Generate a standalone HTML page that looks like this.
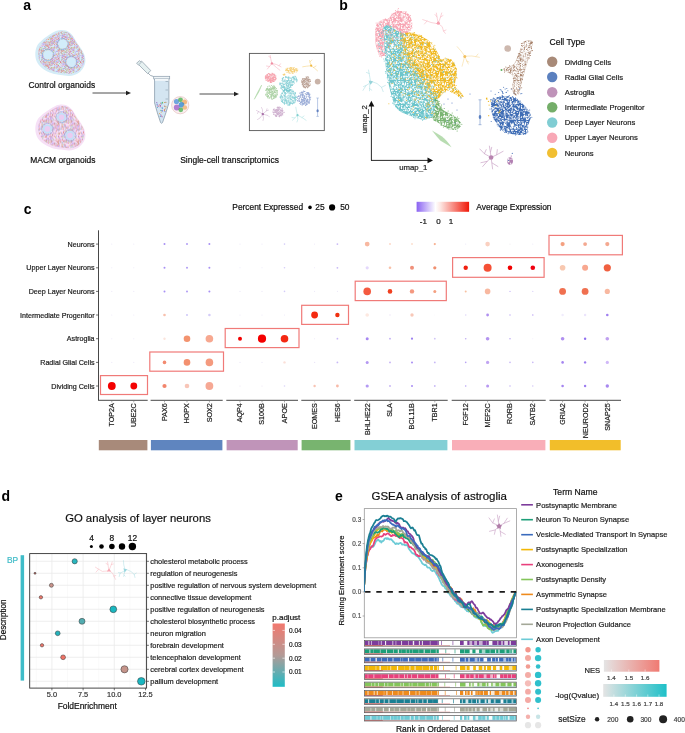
<!DOCTYPE html>
<html><head><meta charset="utf-8"><style>html,body{margin:0;padding:0;background:#fff;}svg{display:block;will-change:transform;}text{font-family:"Liberation Sans", sans-serif;}</style></head><body>
<svg width="685" height="733" viewBox="0 0 685 733">
<rect width="685" height="733" fill="#fff"/>
<text x="23.3" y="9.6" font-size="14" text-anchor="start" fill="#000" font-weight="bold">a</text>
<text x="339.2" y="9.6" font-size="14" text-anchor="start" fill="#000" font-weight="bold">b</text>
<text x="23.7" y="214.2" font-size="14" text-anchor="start" fill="#000" font-weight="bold">c</text>
<text x="1.4" y="501.2" font-size="14" text-anchor="start" fill="#000" font-weight="bold">d</text>
<text x="335.0" y="501.3" font-size="14" text-anchor="start" fill="#000" font-weight="bold">e</text>
<defs><pattern id="ospk" x="0" y="0" width="20" height="20" patternUnits="userSpaceOnUse"><path d="M17.4,10.5h.9v.9h-.9zM13.4,1.3h.9v.9h-.9zM18.1,13.6h.9v.9h-.9zM15.4,17.5h.9v.9h-.9zM0.1,2.2h.9v.9h-.9zM12.2,3.1h.9v.9h-.9zM10.4,11.0h.9v.9h-.9zM14.8,0.4h.9v.9h-.9zM17.9,18.0h.9v.9h-.9zM10.1,4.8h.9v.9h-.9zM12.4,10.4h.9v.9h-.9zM9.5,15.5h.9v.9h-.9zM17.1,15.5h.9v.9h-.9zM2.5,1.4h.9v.9h-.9zM8.6,2.6h.9v.9h-.9zM4.5,2.6h.9v.9h-.9zM2.9,15.5h.9v.9h-.9zM2.1,15.0h.9v.9h-.9zM14.0,4.1h.9v.9h-.9zM15.7,17.6h.9v.9h-.9zM3.7,14.1h.9v.9h-.9zM18.0,5.1h.9v.9h-.9zM13.3,10.2h.9v.9h-.9zM17.9,13.4h.9v.9h-.9zM12.0,14.5h.9v.9h-.9zM2.7,15.8h.9v.9h-.9zM1.6,16.8h.9v.9h-.9zM9.7,2.2h.9v.9h-.9zM8.8,9.1h.9v.9h-.9zM10.7,3.2h.9v.9h-.9zM8.9,3.7h.9v.9h-.9zM8.1,6.4h.9v.9h-.9zM11.8,0.1h.9v.9h-.9zM13.6,0.4h.9v.9h-.9zM6.4,12.0h.9v.9h-.9zM9.3,12.4h.9v.9h-.9zM16.5,2.3h.9v.9h-.9zM16.3,4.1h.9v.9h-.9zM5.0,16.8h.9v.9h-.9zM9.4,11.8h.9v.9h-.9zM18.6,10.4h.9v.9h-.9zM2.6,10.6h.9v.9h-.9zM19.6,15.7h.9v.9h-.9zM8.6,6.8h.9v.9h-.9zM8.4,5.2h.9v.9h-.9zM5.6,3.4h.9v.9h-.9zM6.3,5.4h.9v.9h-.9zM12.6,16.4h.9v.9h-.9zM5.4,10.9h.9v.9h-.9zM12.9,2.8h.9v.9h-.9zM12.3,3.6h.9v.9h-.9zM0.0,1.3h.9v.9h-.9zM8.7,3.9h.9v.9h-.9zM12.0,1.7h.9v.9h-.9zM16.8,6.3h.9v.9h-.9zM6.5,4.9h.9v.9h-.9zM12.6,8.8h.9v.9h-.9zM11.1,7.3h.9v.9h-.9z" fill="#e07070"/><path d="M18.3,9.5h.9v.9h-.9zM14.0,6.5h.9v.9h-.9zM12.9,11.9h.9v.9h-.9zM17.3,6.8h.9v.9h-.9zM10.9,17.8h.9v.9h-.9zM17.2,19.4h.9v.9h-.9zM10.5,8.3h.9v.9h-.9zM3.9,10.7h.9v.9h-.9zM14.3,7.6h.9v.9h-.9zM13.4,14.7h.9v.9h-.9zM3.6,0.5h.9v.9h-.9zM13.0,15.5h.9v.9h-.9zM6.3,8.5h.9v.9h-.9zM7.8,10.9h.9v.9h-.9zM13.5,10.7h.9v.9h-.9zM9.6,15.6h.9v.9h-.9zM5.4,2.0h.9v.9h-.9zM11.3,18.2h.9v.9h-.9zM0.5,12.4h.9v.9h-.9zM20.0,4.1h.9v.9h-.9zM7.8,9.5h.9v.9h-.9zM12.6,6.9h.9v.9h-.9zM1.1,8.7h.9v.9h-.9zM1.8,13.8h.9v.9h-.9zM8.0,19.1h.9v.9h-.9zM16.5,13.6h.9v.9h-.9zM8.1,13.2h.9v.9h-.9zM9.3,14.6h.9v.9h-.9zM6.8,3.8h.9v.9h-.9zM6.7,8.6h.9v.9h-.9zM3.7,13.7h.9v.9h-.9zM0.6,11.5h.9v.9h-.9zM5.0,19.6h.9v.9h-.9zM9.9,19.1h.9v.9h-.9zM14.0,2.3h.9v.9h-.9zM18.8,19.5h.9v.9h-.9zM3.6,0.5h.9v.9h-.9zM7.7,18.8h.9v.9h-.9zM1.1,9.9h.9v.9h-.9zM8.0,7.5h.9v.9h-.9zM8.8,13.6h.9v.9h-.9zM8.7,1.9h.9v.9h-.9zM18.3,12.6h.9v.9h-.9zM4.0,7.8h.9v.9h-.9zM1.1,19.3h.9v.9h-.9zM16.5,4.1h.9v.9h-.9z" fill="#eea860"/><path d="M12.8,3.0h.9v.9h-.9zM14.6,11.5h.9v.9h-.9zM17.6,1.9h.9v.9h-.9zM17.1,19.8h.9v.9h-.9zM0.4,12.3h.9v.9h-.9zM2.1,16.3h.9v.9h-.9zM8.8,17.1h.9v.9h-.9zM6.3,16.7h.9v.9h-.9zM16.1,6.9h.9v.9h-.9zM0.3,14.9h.9v.9h-.9zM3.4,15.8h.9v.9h-.9zM11.0,17.4h.9v.9h-.9zM16.6,4.8h.9v.9h-.9zM3.1,8.0h.9v.9h-.9zM11.7,17.2h.9v.9h-.9zM9.6,7.7h.9v.9h-.9zM17.8,15.5h.9v.9h-.9zM14.4,13.6h.9v.9h-.9zM12.9,14.6h.9v.9h-.9zM2.5,18.6h.9v.9h-.9zM10.0,19.9h.9v.9h-.9zM13.4,7.8h.9v.9h-.9zM16.0,10.9h.9v.9h-.9zM2.2,5.7h.9v.9h-.9zM6.5,17.4h.9v.9h-.9zM8.2,16.9h.9v.9h-.9zM3.4,8.1h.9v.9h-.9zM12.7,2.8h.9v.9h-.9zM16.7,11.1h.9v.9h-.9zM19.0,0.9h.9v.9h-.9zM13.8,19.6h.9v.9h-.9zM5.8,18.7h.9v.9h-.9zM17.8,0.6h.9v.9h-.9zM0.6,0.7h.9v.9h-.9zM10.2,16.6h.9v.9h-.9zM3.9,18.4h.9v.9h-.9zM3.5,9.7h.9v.9h-.9zM2.9,18.1h.9v.9h-.9zM3.8,16.5h.9v.9h-.9zM2.6,2.9h.9v.9h-.9zM4.0,11.9h.9v.9h-.9zM6.0,17.2h.9v.9h-.9zM6.3,16.8h.9v.9h-.9zM19.5,6.0h.9v.9h-.9zM6.7,15.8h.9v.9h-.9zM11.1,2.3h.9v.9h-.9zM4.0,6.0h.9v.9h-.9zM4.2,6.1h.9v.9h-.9zM12.0,8.5h.9v.9h-.9zM8.5,7.4h.9v.9h-.9zM14.3,6.5h.9v.9h-.9zM6.4,14.5h.9v.9h-.9z" fill="#b8a0ea"/><path d="M10.7,8.2h.9v.9h-.9zM8.6,14.4h.9v.9h-.9zM19.0,13.5h.9v.9h-.9zM1.6,14.8h.9v.9h-.9zM17.7,9.0h.9v.9h-.9zM15.7,0.7h.9v.9h-.9zM11.2,19.7h.9v.9h-.9zM16.2,0.9h.9v.9h-.9zM16.2,1.2h.9v.9h-.9zM16.0,0.7h.9v.9h-.9zM9.3,4.6h.9v.9h-.9zM19.2,17.1h.9v.9h-.9zM2.1,15.1h.9v.9h-.9zM4.0,15.6h.9v.9h-.9zM17.2,8.7h.9v.9h-.9zM4.5,0.1h.9v.9h-.9zM0.8,9.9h.9v.9h-.9zM4.8,7.8h.9v.9h-.9zM7.3,8.3h.9v.9h-.9zM19.9,0.0h.9v.9h-.9zM1.6,13.0h.9v.9h-.9zM11.7,0.2h.9v.9h-.9zM15.8,10.7h.9v.9h-.9zM1.7,9.3h.9v.9h-.9zM8.5,13.0h.9v.9h-.9zM5.0,6.5h.9v.9h-.9zM9.5,20.0h.9v.9h-.9zM16.1,5.9h.9v.9h-.9zM3.3,1.0h.9v.9h-.9zM18.3,16.2h.9v.9h-.9zM1.0,19.2h.9v.9h-.9zM19.9,19.6h.9v.9h-.9zM6.5,11.8h.9v.9h-.9zM4.2,1.5h.9v.9h-.9zM11.7,2.9h.9v.9h-.9zM14.7,16.6h.9v.9h-.9zM10.2,18.6h.9v.9h-.9zM1.0,10.4h.9v.9h-.9zM11.5,1.7h.9v.9h-.9zM5.7,19.6h.9v.9h-.9zM6.3,17.2h.9v.9h-.9zM12.6,9.9h.9v.9h-.9zM4.7,7.3h.9v.9h-.9zM11.3,4.9h.9v.9h-.9zM4.3,13.4h.9v.9h-.9z" fill="#a0b8f0"/><path d="M6.0,0.6h.9v.9h-.9zM14.3,4.2h.9v.9h-.9zM14.4,6.6h.9v.9h-.9zM10.1,20.0h.9v.9h-.9zM19.0,19.4h.9v.9h-.9zM12.4,18.8h.9v.9h-.9zM18.7,8.7h.9v.9h-.9zM7.1,18.3h.9v.9h-.9zM6.2,4.5h.9v.9h-.9zM8.4,10.4h.9v.9h-.9zM9.3,12.7h.9v.9h-.9zM0.6,9.1h.9v.9h-.9zM1.0,5.4h.9v.9h-.9zM7.7,7.8h.9v.9h-.9zM0.4,4.4h.9v.9h-.9zM18.7,7.5h.9v.9h-.9zM16.7,19.0h.9v.9h-.9zM18.7,17.0h.9v.9h-.9zM13.4,17.1h.9v.9h-.9zM17.8,6.1h.9v.9h-.9zM2.4,5.3h.9v.9h-.9zM2.3,17.7h.9v.9h-.9zM5.9,13.5h.9v.9h-.9zM11.4,4.0h.9v.9h-.9zM6.3,18.1h.9v.9h-.9zM12.7,19.5h.9v.9h-.9zM18.3,11.9h.9v.9h-.9zM18.8,0.7h.9v.9h-.9zM17.2,2.0h.9v.9h-.9zM0.8,14.9h.9v.9h-.9zM14.8,14.9h.9v.9h-.9zM7.2,17.1h.9v.9h-.9zM9.8,4.8h.9v.9h-.9zM7.4,12.6h.9v.9h-.9zM5.6,5.1h.9v.9h-.9zM17.0,16.6h.9v.9h-.9zM9.8,5.6h.9v.9h-.9zM3.6,12.5h.9v.9h-.9zM11.4,9.3h.9v.9h-.9zM19.8,13.7h.9v.9h-.9zM17.2,16.7h.9v.9h-.9zM8.5,16.9h.9v.9h-.9zM9.5,17.8h.9v.9h-.9zM16.6,3.7h.9v.9h-.9zM11.7,19.0h.9v.9h-.9zM8.9,14.4h.9v.9h-.9zM3.6,5.0h.9v.9h-.9zM9.8,11.6h.9v.9h-.9zM2.2,10.6h.9v.9h-.9zM14.0,19.5h.9v.9h-.9zM11.7,13.6h.9v.9h-.9zM10.8,19.8h.9v.9h-.9z" fill="#f0a8c8"/><path d="M4.8,10.9h.9v.9h-.9zM10.1,7.7h.9v.9h-.9zM19.6,6.8h.9v.9h-.9zM15.8,19.7h.9v.9h-.9zM19.1,0.4h.9v.9h-.9zM5.0,9.1h.9v.9h-.9zM3.5,3.7h.9v.9h-.9zM13.0,1.9h.9v.9h-.9zM6.3,6.3h.9v.9h-.9zM7.2,3.8h.9v.9h-.9zM1.1,12.5h.9v.9h-.9zM5.1,12.0h.9v.9h-.9zM5.3,4.0h.9v.9h-.9zM0.7,9.0h.9v.9h-.9zM1.9,18.8h.9v.9h-.9zM2.1,18.9h.9v.9h-.9zM10.1,4.9h.9v.9h-.9zM10.8,15.4h.9v.9h-.9zM10.0,0.4h.9v.9h-.9zM14.3,14.8h.9v.9h-.9zM14.4,7.3h.9v.9h-.9zM3.3,12.4h.9v.9h-.9zM5.0,5.3h.9v.9h-.9zM9.6,3.8h.9v.9h-.9zM6.8,9.6h.9v.9h-.9zM2.3,7.8h.9v.9h-.9zM8.9,14.1h.9v.9h-.9zM9.3,17.4h.9v.9h-.9zM10.1,18.1h.9v.9h-.9zM12.8,15.2h.9v.9h-.9zM18.5,13.7h.9v.9h-.9zM19.6,17.5h.9v.9h-.9zM0.6,7.5h.9v.9h-.9zM19.7,15.9h.9v.9h-.9zM19.2,3.1h.9v.9h-.9zM2.0,13.4h.9v.9h-.9zM18.7,0.1h.9v.9h-.9zM6.5,10.1h.9v.9h-.9zM12.7,11.8h.9v.9h-.9zM2.5,10.0h.9v.9h-.9zM8.6,17.3h.9v.9h-.9zM0.2,7.4h.9v.9h-.9zM2.8,1.6h.9v.9h-.9zM1.3,17.5h.9v.9h-.9zM17.6,4.5h.9v.9h-.9zM11.6,7.3h.9v.9h-.9zM6.8,14.6h.9v.9h-.9zM7.5,0.8h.9v.9h-.9zM18.5,8.5h.9v.9h-.9z" fill="#b0d898"/><path d="M10.8,11.0h.9v.9h-.9zM9.5,14.4h.9v.9h-.9zM14.3,18.4h.9v.9h-.9zM9.9,5.2h.9v.9h-.9zM15.6,17.1h.9v.9h-.9zM1.8,16.0h.9v.9h-.9zM17.9,0.4h.9v.9h-.9zM12.1,15.2h.9v.9h-.9zM19.2,17.9h.9v.9h-.9zM7.5,17.4h.9v.9h-.9zM16.9,5.3h.9v.9h-.9zM4.8,3.7h.9v.9h-.9zM8.4,8.2h.9v.9h-.9zM3.1,0.1h.9v.9h-.9zM16.5,0.2h.9v.9h-.9zM12.1,15.7h.9v.9h-.9zM12.7,0.9h.9v.9h-.9zM13.9,1.4h.9v.9h-.9zM2.4,13.8h.9v.9h-.9zM10.5,11.3h.9v.9h-.9zM12.9,9.1h.9v.9h-.9zM11.1,19.3h.9v.9h-.9zM10.0,19.5h.9v.9h-.9zM16.9,19.3h.9v.9h-.9zM9.6,14.4h.9v.9h-.9zM0.1,6.7h.9v.9h-.9zM17.7,1.5h.9v.9h-.9zM18.4,12.9h.9v.9h-.9zM2.1,3.6h.9v.9h-.9zM7.2,5.3h.9v.9h-.9zM3.7,3.8h.9v.9h-.9zM11.8,2.9h.9v.9h-.9zM17.8,19.0h.9v.9h-.9zM6.1,9.3h.9v.9h-.9zM9.0,7.2h.9v.9h-.9zM14.1,1.0h.9v.9h-.9zM15.0,12.6h.9v.9h-.9zM1.8,5.9h.9v.9h-.9zM10.7,15.6h.9v.9h-.9zM3.5,14.8h.9v.9h-.9zM5.4,3.4h.9v.9h-.9zM5.8,4.2h.9v.9h-.9zM18.6,10.7h.9v.9h-.9zM7.4,3.8h.9v.9h-.9zM9.7,15.5h.9v.9h-.9zM2.9,8.9h.9v.9h-.9zM15.3,14.0h.9v.9h-.9zM19.1,14.9h.9v.9h-.9zM9.3,13.3h.9v.9h-.9zM13.1,18.8h.9v.9h-.9zM18.9,6.3h.9v.9h-.9zM11.1,0.7h.9v.9h-.9zM13.8,9.3h.9v.9h-.9zM7.6,2.1h.9v.9h-.9zM8.8,10.7h.9v.9h-.9zM1.1,19.6h.9v.9h-.9zM3.2,2.5h.9v.9h-.9zM14.6,5.0h.9v.9h-.9zM19.9,1.0h.9v.9h-.9zM1.2,17.1h.9v.9h-.9zM2.8,4.1h.9v.9h-.9zM16.5,6.6h.9v.9h-.9zM16.4,16.5h.9v.9h-.9zM2.4,18.3h.9v.9h-.9zM3.5,15.0h.9v.9h-.9zM15.2,2.3h.9v.9h-.9zM5.0,14.0h.9v.9h-.9zM10.8,9.3h.9v.9h-.9z" fill="#c8a8f0"/><path d="M12.1,18.2h.9v.9h-.9zM5.2,4.7h.9v.9h-.9zM5.7,1.3h.9v.9h-.9zM1.2,12.5h.9v.9h-.9zM6.8,5.0h.9v.9h-.9zM17.1,1.7h.9v.9h-.9zM11.3,0.9h.9v.9h-.9zM8.4,13.9h.9v.9h-.9zM16.2,14.3h.9v.9h-.9zM0.5,2.3h.9v.9h-.9zM13.8,15.1h.9v.9h-.9zM3.3,10.0h.9v.9h-.9zM18.3,10.3h.9v.9h-.9zM11.4,4.8h.9v.9h-.9zM15.5,2.9h.9v.9h-.9zM7.6,1.6h.9v.9h-.9zM13.6,7.4h.9v.9h-.9zM3.6,17.8h.9v.9h-.9zM11.1,12.9h.9v.9h-.9zM1.1,2.7h.9v.9h-.9zM17.5,18.9h.9v.9h-.9zM7.4,5.9h.9v.9h-.9zM9.8,10.5h.9v.9h-.9zM0.7,10.0h.9v.9h-.9zM10.7,8.4h.9v.9h-.9zM5.2,7.4h.9v.9h-.9zM5.5,15.8h.9v.9h-.9zM15.8,19.2h.9v.9h-.9zM4.0,19.5h.9v.9h-.9zM14.2,0.5h.9v.9h-.9zM17.6,17.4h.9v.9h-.9zM6.8,6.2h.9v.9h-.9zM5.8,18.9h.9v.9h-.9zM14.5,17.5h.9v.9h-.9zM5.9,10.4h.9v.9h-.9zM9.8,0.8h.9v.9h-.9zM8.9,4.1h.9v.9h-.9zM18.9,8.6h.9v.9h-.9zM12.1,16.2h.9v.9h-.9zM6.2,4.9h.9v.9h-.9zM9.7,1.2h.9v.9h-.9zM8.2,7.0h.9v.9h-.9zM2.8,0.8h.9v.9h-.9zM0.7,9.7h.9v.9h-.9zM8.6,19.7h.9v.9h-.9zM1.3,10.9h.9v.9h-.9zM2.1,16.9h.9v.9h-.9zM0.4,6.9h.9v.9h-.9zM1.9,10.8h.9v.9h-.9zM19.3,9.1h.9v.9h-.9zM19.7,10.6h.9v.9h-.9zM10.8,18.4h.9v.9h-.9zM15.9,7.7h.9v.9h-.9zM1.3,0.2h.9v.9h-.9zM3.7,2.1h.9v.9h-.9zM1.6,10.7h.9v.9h-.9zM10.4,8.4h.9v.9h-.9zM4.4,16.3h.9v.9h-.9zM6.9,19.9h.9v.9h-.9zM9.6,10.8h.9v.9h-.9z" fill="#e48c8c"/></pattern></defs>
<defs><pattern id="mspk" x="0" y="0" width="20" height="20" patternUnits="userSpaceOnUse"><path d="M9.6,1.8h.9v.9h-.9zM8.0,18.4h.9v.9h-.9zM3.2,6.1h.9v.9h-.9zM6.6,0.2h.9v.9h-.9zM11.9,19.4h.9v.9h-.9zM19.8,8.1h.9v.9h-.9zM15.3,5.4h.9v.9h-.9zM0.8,1.6h.9v.9h-.9zM19.7,12.5h.9v.9h-.9zM6.0,0.5h.9v.9h-.9zM8.1,7.8h.9v.9h-.9zM19.6,5.6h.9v.9h-.9zM3.1,17.0h.9v.9h-.9zM17.9,17.7h.9v.9h-.9zM18.6,3.5h.9v.9h-.9zM2.3,19.6h.9v.9h-.9zM12.4,0.4h.9v.9h-.9zM15.3,12.9h.9v.9h-.9zM13.7,19.6h.9v.9h-.9zM16.8,15.2h.9v.9h-.9zM4.2,6.6h.9v.9h-.9zM17.9,9.6h.9v.9h-.9zM12.0,14.5h.9v.9h-.9zM5.2,6.7h.9v.9h-.9zM2.9,14.2h.9v.9h-.9zM10.9,5.3h.9v.9h-.9zM10.6,15.1h.9v.9h-.9zM16.0,15.8h.9v.9h-.9zM20.0,0.2h.9v.9h-.9zM13.4,12.6h.9v.9h-.9zM12.0,0.1h.9v.9h-.9zM20.0,11.6h.9v.9h-.9zM1.9,19.9h.9v.9h-.9zM10.4,0.9h.9v.9h-.9zM5.8,1.8h.9v.9h-.9zM1.9,1.1h.9v.9h-.9zM7.8,3.3h.9v.9h-.9zM12.4,16.4h.9v.9h-.9zM15.9,13.4h.9v.9h-.9zM1.4,14.2h.9v.9h-.9zM13.5,12.9h.9v.9h-.9zM5.4,18.2h.9v.9h-.9zM13.5,9.6h.9v.9h-.9z" fill="#e07070"/><path d="M2.9,13.5h.9v.9h-.9zM9.2,0.9h.9v.9h-.9zM15.5,8.2h.9v.9h-.9zM1.0,18.6h.9v.9h-.9zM0.3,17.5h.9v.9h-.9zM18.3,8.8h.9v.9h-.9zM5.9,6.9h.9v.9h-.9zM0.1,6.2h.9v.9h-.9zM13.5,17.7h.9v.9h-.9zM10.5,15.1h.9v.9h-.9zM16.0,16.1h.9v.9h-.9zM13.2,19.9h.9v.9h-.9zM15.2,19.4h.9v.9h-.9zM12.1,6.2h.9v.9h-.9zM0.4,4.9h.9v.9h-.9zM4.1,19.0h.9v.9h-.9zM6.1,15.8h.9v.9h-.9zM1.9,10.4h.9v.9h-.9zM9.9,16.6h.9v.9h-.9zM10.8,6.9h.9v.9h-.9zM1.4,8.7h.9v.9h-.9zM16.4,4.0h.9v.9h-.9zM11.7,2.4h.9v.9h-.9zM15.0,1.8h.9v.9h-.9zM17.6,19.6h.9v.9h-.9zM8.8,10.6h.9v.9h-.9zM4.5,16.0h.9v.9h-.9zM9.8,7.7h.9v.9h-.9zM18.8,15.2h.9v.9h-.9zM17.6,5.7h.9v.9h-.9zM11.2,1.4h.9v.9h-.9zM7.3,19.8h.9v.9h-.9z" fill="#eeaa60"/><path d="M0.4,5.8h.9v.9h-.9zM5.8,5.0h.9v.9h-.9zM2.3,1.2h.9v.9h-.9zM18.6,11.4h.9v.9h-.9zM0.9,18.0h.9v.9h-.9zM4.4,0.1h.9v.9h-.9zM11.2,5.1h.9v.9h-.9zM8.4,16.0h.9v.9h-.9zM7.4,3.3h.9v.9h-.9zM10.8,18.1h.9v.9h-.9zM17.0,7.1h.9v.9h-.9zM12.3,8.8h.9v.9h-.9zM2.7,1.7h.9v.9h-.9zM8.1,18.7h.9v.9h-.9zM6.6,7.4h.9v.9h-.9zM8.2,0.3h.9v.9h-.9zM17.9,15.6h.9v.9h-.9zM18.5,1.4h.9v.9h-.9zM12.2,12.6h.9v.9h-.9zM14.6,13.1h.9v.9h-.9zM13.9,14.5h.9v.9h-.9zM9.7,1.4h.9v.9h-.9zM12.6,8.1h.9v.9h-.9zM14.1,8.7h.9v.9h-.9zM5.3,5.7h.9v.9h-.9zM12.3,6.3h.9v.9h-.9zM9.1,19.8h.9v.9h-.9zM17.4,11.6h.9v.9h-.9zM18.1,1.5h.9v.9h-.9zM18.0,14.9h.9v.9h-.9zM1.0,1.1h.9v.9h-.9zM2.1,4.0h.9v.9h-.9zM7.0,0.1h.9v.9h-.9zM7.7,4.6h.9v.9h-.9zM17.7,11.9h.9v.9h-.9zM14.2,0.9h.9v.9h-.9zM10.3,13.3h.9v.9h-.9zM15.5,11.9h.9v.9h-.9zM18.9,3.2h.9v.9h-.9zM5.4,17.2h.9v.9h-.9zM17.5,13.7h.9v.9h-.9zM10.2,17.6h.9v.9h-.9zM11.1,1.8h.9v.9h-.9zM17.6,11.5h.9v.9h-.9zM3.9,6.7h.9v.9h-.9zM11.8,13.9h.9v.9h-.9zM18.4,2.2h.9v.9h-.9zM3.2,15.6h.9v.9h-.9zM13.8,7.8h.9v.9h-.9zM2.0,7.3h.9v.9h-.9zM19.3,3.3h.9v.9h-.9zM12.2,3.2h.9v.9h-.9z" fill="#b898ea"/><path d="M2.0,1.2h.9v.9h-.9zM5.5,11.6h.9v.9h-.9zM19.6,8.5h.9v.9h-.9zM15.5,8.2h.9v.9h-.9zM5.0,17.8h.9v.9h-.9zM5.1,10.5h.9v.9h-.9zM9.9,1.9h.9v.9h-.9zM1.5,19.4h.9v.9h-.9zM17.6,11.0h.9v.9h-.9zM1.3,17.6h.9v.9h-.9zM3.4,9.6h.9v.9h-.9zM17.1,13.8h.9v.9h-.9zM6.7,3.5h.9v.9h-.9zM12.0,0.7h.9v.9h-.9zM16.1,1.7h.9v.9h-.9zM10.0,10.9h.9v.9h-.9zM0.2,14.0h.9v.9h-.9zM11.2,5.7h.9v.9h-.9zM19.7,3.2h.9v.9h-.9zM4.8,11.5h.9v.9h-.9zM7.3,14.2h.9v.9h-.9zM3.8,7.0h.9v.9h-.9zM10.9,7.3h.9v.9h-.9zM5.7,16.9h.9v.9h-.9zM10.5,10.7h.9v.9h-.9zM11.6,11.4h.9v.9h-.9zM1.7,7.8h.9v.9h-.9zM10.7,10.4h.9v.9h-.9zM12.3,15.5h.9v.9h-.9zM2.6,0.0h.9v.9h-.9zM8.8,14.4h.9v.9h-.9zM10.9,3.3h.9v.9h-.9zM0.1,3.9h.9v.9h-.9zM13.0,12.3h.9v.9h-.9zM5.6,16.5h.9v.9h-.9zM6.7,0.6h.9v.9h-.9z" fill="#a0b8f0"/><path d="M4.4,10.7h.9v.9h-.9zM15.6,16.5h.9v.9h-.9zM4.3,18.5h.9v.9h-.9zM16.0,3.9h.9v.9h-.9zM5.6,18.9h.9v.9h-.9zM0.1,5.8h.9v.9h-.9zM1.6,9.3h.9v.9h-.9zM2.4,18.7h.9v.9h-.9zM20.0,2.4h.9v.9h-.9zM10.0,0.6h.9v.9h-.9zM16.3,10.6h.9v.9h-.9zM6.5,17.2h.9v.9h-.9zM13.5,12.4h.9v.9h-.9zM12.4,16.6h.9v.9h-.9zM17.9,14.1h.9v.9h-.9zM19.0,3.3h.9v.9h-.9zM2.4,1.2h.9v.9h-.9zM10.1,3.1h.9v.9h-.9zM5.1,17.2h.9v.9h-.9zM15.6,18.2h.9v.9h-.9zM1.4,4.5h.9v.9h-.9zM8.2,19.5h.9v.9h-.9zM6.4,12.4h.9v.9h-.9zM12.4,14.0h.9v.9h-.9zM2.3,19.4h.9v.9h-.9zM3.6,7.2h.9v.9h-.9zM0.4,2.4h.9v.9h-.9zM12.4,2.7h.9v.9h-.9zM5.9,17.6h.9v.9h-.9zM4.2,9.4h.9v.9h-.9zM14.1,10.7h.9v.9h-.9zM15.3,9.4h.9v.9h-.9zM14.8,13.4h.9v.9h-.9zM16.9,9.2h.9v.9h-.9zM16.8,11.5h.9v.9h-.9zM13.2,14.0h.9v.9h-.9zM4.9,12.8h.9v.9h-.9zM16.1,9.7h.9v.9h-.9zM3.1,14.2h.9v.9h-.9zM13.9,9.1h.9v.9h-.9zM7.5,10.9h.9v.9h-.9z" fill="#f0a0d0"/><path d="M5.8,17.3h.9v.9h-.9zM10.4,13.0h.9v.9h-.9zM5.5,7.1h.9v.9h-.9zM12.7,4.0h.9v.9h-.9zM17.9,19.1h.9v.9h-.9zM9.1,7.3h.9v.9h-.9zM10.9,11.7h.9v.9h-.9zM8.3,5.2h.9v.9h-.9zM6.7,13.1h.9v.9h-.9zM1.9,2.3h.9v.9h-.9zM5.0,11.9h.9v.9h-.9zM18.0,7.4h.9v.9h-.9zM17.9,9.2h.9v.9h-.9zM3.1,1.4h.9v.9h-.9zM17.6,14.4h.9v.9h-.9zM2.1,12.4h.9v.9h-.9zM15.7,9.5h.9v.9h-.9zM12.1,10.5h.9v.9h-.9zM0.8,13.5h.9v.9h-.9zM7.2,17.8h.9v.9h-.9zM13.5,5.3h.9v.9h-.9zM12.6,14.7h.9v.9h-.9zM3.6,12.3h.9v.9h-.9zM4.7,14.8h.9v.9h-.9zM3.4,6.9h.9v.9h-.9zM0.9,6.9h.9v.9h-.9zM1.3,10.5h.9v.9h-.9zM19.3,17.8h.9v.9h-.9zM6.3,6.0h.9v.9h-.9zM6.3,17.3h.9v.9h-.9zM11.2,19.5h.9v.9h-.9zM2.5,9.1h.9v.9h-.9zM15.2,17.7h.9v.9h-.9zM17.9,14.6h.9v.9h-.9zM14.2,8.7h.9v.9h-.9zM18.5,5.7h.9v.9h-.9zM18.6,14.8h.9v.9h-.9zM15.4,3.1h.9v.9h-.9zM11.5,14.2h.9v.9h-.9zM5.3,1.2h.9v.9h-.9zM11.4,5.3h.9v.9h-.9zM14.7,12.0h.9v.9h-.9zM3.8,10.8h.9v.9h-.9zM2.6,3.4h.9v.9h-.9z" fill="#b0d898"/><path d="M4.7,2.1h.9v.9h-.9zM1.7,12.1h.9v.9h-.9zM17.0,10.2h.9v.9h-.9zM9.6,4.8h.9v.9h-.9zM11.4,14.9h.9v.9h-.9zM7.9,15.4h.9v.9h-.9zM1.7,10.9h.9v.9h-.9zM4.1,19.5h.9v.9h-.9zM4.7,9.7h.9v.9h-.9zM10.5,10.4h.9v.9h-.9zM18.0,8.0h.9v.9h-.9zM3.3,17.8h.9v.9h-.9zM10.7,6.1h.9v.9h-.9zM6.6,7.7h.9v.9h-.9zM19.9,14.1h.9v.9h-.9zM6.1,12.9h.9v.9h-.9zM16.3,6.0h.9v.9h-.9zM4.3,9.6h.9v.9h-.9zM18.6,5.5h.9v.9h-.9zM19.0,18.6h.9v.9h-.9zM5.6,1.7h.9v.9h-.9zM10.8,7.2h.9v.9h-.9zM18.8,13.5h.9v.9h-.9zM18.8,19.0h.9v.9h-.9zM8.9,14.9h.9v.9h-.9zM17.8,5.8h.9v.9h-.9zM19.1,10.4h.9v.9h-.9zM13.8,1.3h.9v.9h-.9zM15.4,10.9h.9v.9h-.9zM4.5,4.9h.9v.9h-.9zM7.7,12.7h.9v.9h-.9zM0.0,7.3h.9v.9h-.9zM11.5,9.8h.9v.9h-.9zM8.0,6.2h.9v.9h-.9zM17.5,7.1h.9v.9h-.9zM9.9,18.8h.9v.9h-.9zM6.5,5.3h.9v.9h-.9zM18.0,1.1h.9v.9h-.9zM14.1,8.6h.9v.9h-.9zM17.1,7.3h.9v.9h-.9zM2.3,5.1h.9v.9h-.9zM6.4,12.5h.9v.9h-.9zM6.0,5.4h.9v.9h-.9z" fill="#e08080"/><path d="M10.1,3.6h.9v.9h-.9zM8.5,5.8h.9v.9h-.9zM8.3,4.1h.9v.9h-.9zM5.9,3.8h.9v.9h-.9zM19.9,11.4h.9v.9h-.9zM9.8,4.4h.9v.9h-.9zM6.8,7.8h.9v.9h-.9zM17.4,13.8h.9v.9h-.9zM3.2,12.2h.9v.9h-.9zM0.7,11.9h.9v.9h-.9zM10.2,8.7h.9v.9h-.9zM12.7,18.6h.9v.9h-.9zM9.7,14.3h.9v.9h-.9zM12.2,6.3h.9v.9h-.9zM15.6,11.4h.9v.9h-.9zM3.2,11.7h.9v.9h-.9zM7.4,14.9h.9v.9h-.9zM19.4,6.3h.9v.9h-.9zM15.1,9.7h.9v.9h-.9zM4.6,11.1h.9v.9h-.9zM18.2,10.6h.9v.9h-.9zM13.4,17.8h.9v.9h-.9zM13.5,5.2h.9v.9h-.9zM7.8,12.0h.9v.9h-.9zM16.5,14.6h.9v.9h-.9zM3.3,19.9h.9v.9h-.9zM19.7,9.0h.9v.9h-.9zM5.2,11.7h.9v.9h-.9zM12.7,3.9h.9v.9h-.9zM5.3,14.3h.9v.9h-.9zM15.5,15.8h.9v.9h-.9zM4.4,0.3h.9v.9h-.9zM16.9,14.5h.9v.9h-.9zM0.7,12.6h.9v.9h-.9zM16.2,0.6h.9v.9h-.9zM19.0,15.0h.9v.9h-.9zM11.6,8.6h.9v.9h-.9zM15.0,18.0h.9v.9h-.9zM10.7,3.8h.9v.9h-.9z" fill="#c8a0ec"/></pattern></defs>
<g transform="translate(0 0)">
<path d="M60.6,30.0 C62.5,29.9 64.9,30.0 66.8,30.8 C68.7,31.6 70.4,33.0 72.0,34.8 C73.6,36.6 74.8,39.3 76.4,41.8 C78.0,44.3 80.3,47.3 81.7,49.6 C83.1,51.9 84.1,53.6 84.7,55.8 C85.3,58.0 85.6,60.6 85.2,62.8 C84.8,65.0 83.8,67.1 82.5,68.9 C81.2,70.7 79.5,72.5 77.3,73.7 C75.1,74.9 72.2,75.7 69.4,75.9 C66.6,76.1 63.5,75.4 60.6,75.0 C57.7,74.6 54.8,74.3 51.9,73.3 C49.0,72.3 45.5,70.7 43.1,68.9 C40.7,67.2 38.7,65.1 37.4,62.8 C36.1,60.5 35.4,57.7 35.3,54.9 C35.2,52.1 35.8,48.6 37.0,46.1 C38.2,43.6 40.2,41.9 42.3,40.0 C44.3,38.1 47.1,36.2 49.3,34.8 C51.5,33.3 53.5,32.1 55.4,31.3 C57.3,30.5 58.7,30.1 60.6,30.0 Z" fill="#d4ecf7"/>
<path d="M61.5,31.5 C63.3,31.4 65.5,31.5 67.2,32.3 C69.0,33.0 70.5,34.2 72.0,35.9 C73.5,37.6 74.6,40.1 76.1,42.4 C77.6,44.6 79.7,47.4 80.9,49.6 C82.2,51.7 83.2,53.2 83.7,55.3 C84.2,57.3 84.5,59.7 84.2,61.7 C83.8,63.7 82.9,65.6 81.7,67.3 C80.5,69.0 78.9,70.7 76.9,71.7 C74.9,72.8 72.2,73.5 69.6,73.7 C67.1,73.9 64.2,73.3 61.5,72.9 C58.8,72.5 56.2,72.3 53.5,71.4 C50.8,70.4 47.7,68.9 45.4,67.3 C43.2,65.7 41.4,63.8 40.2,61.7 C39.0,59.5 38.3,57.0 38.3,54.4 C38.2,51.9 38.7,48.6 39.8,46.3 C40.9,44.0 42.8,42.5 44.7,40.7 C46.6,39.0 49.1,37.3 51.1,35.9 C53.1,34.6 55.0,33.5 56.7,32.7 C58.5,32.0 59.8,31.6 61.5,31.5 Z" fill="url(#ospk)" opacity="0.95"/>
<circle cx="62.8" cy="44.0" r="5.6" fill="none" stroke="#7aa8e0" stroke-width="1.0" stroke-opacity="0.55"/>
<circle cx="62.8" cy="44.0" r="4.6" fill="#d2ecfa"/>
<circle cx="48.0" cy="54.9" r="5.7" fill="none" stroke="#7aa8e0" stroke-width="1.0" stroke-opacity="0.55"/>
<circle cx="48.0" cy="54.9" r="4.7" fill="#d2ecfa"/>
<circle cx="71.2" cy="61.9" r="5.7" fill="none" stroke="#7aa8e0" stroke-width="1.0" stroke-opacity="0.55"/>
<circle cx="71.2" cy="61.9" r="4.7" fill="#d2ecfa"/>
</g>
<g transform="translate(0 74.6)">
<path d="M60.6,30.0 C62.5,29.9 64.9,30.0 66.8,30.8 C68.7,31.6 70.4,33.0 72.0,34.8 C73.6,36.6 74.8,39.3 76.4,41.8 C78.0,44.3 80.3,47.3 81.7,49.6 C83.1,51.9 84.1,53.6 84.7,55.8 C85.3,58.0 85.6,60.6 85.2,62.8 C84.8,65.0 83.8,67.1 82.5,68.9 C81.2,70.7 79.5,72.5 77.3,73.7 C75.1,74.9 72.2,75.7 69.4,75.9 C66.6,76.1 63.5,75.4 60.6,75.0 C57.7,74.6 54.8,74.3 51.9,73.3 C49.0,72.3 45.5,70.7 43.1,68.9 C40.7,67.2 38.7,65.1 37.4,62.8 C36.1,60.5 35.4,57.7 35.3,54.9 C35.2,52.1 35.8,48.6 37.0,46.1 C38.2,43.6 40.2,41.9 42.3,40.0 C44.3,38.1 47.1,36.2 49.3,34.8 C51.5,33.3 53.5,32.1 55.4,31.3 C57.3,30.5 58.7,30.1 60.6,30.0 Z" fill="#f6e0f6"/>
<path d="M61.5,31.5 C63.3,31.4 65.5,31.5 67.2,32.3 C69.0,33.0 70.5,34.2 72.0,35.9 C73.5,37.6 74.6,40.1 76.1,42.4 C77.6,44.6 79.7,47.4 80.9,49.6 C82.2,51.7 83.2,53.2 83.7,55.3 C84.2,57.3 84.5,59.7 84.2,61.7 C83.8,63.7 82.9,65.6 81.7,67.3 C80.5,69.0 78.9,70.7 76.9,71.7 C74.9,72.8 72.2,73.5 69.6,73.7 C67.1,73.9 64.2,73.3 61.5,72.9 C58.8,72.5 56.2,72.3 53.5,71.4 C50.8,70.4 47.7,68.9 45.4,67.3 C43.2,65.7 41.4,63.8 40.2,61.7 C39.0,59.5 38.3,57.0 38.3,54.4 C38.2,51.9 38.7,48.6 39.8,46.3 C40.9,44.0 42.8,42.5 44.7,40.7 C46.6,39.0 49.1,37.3 51.1,35.9 C53.1,34.6 55.0,33.5 56.7,32.7 C58.5,32.0 59.8,31.6 61.5,31.5 Z" fill="url(#mspk)" opacity="0.95"/>
<circle cx="61.5" cy="42.6" r="5.6" fill="none" stroke="#8ab0e8" stroke-width="1.0" stroke-opacity="0.55"/>
<circle cx="61.5" cy="42.6" r="4.6" fill="#c4e0f8"/>
<circle cx="47.4" cy="54.3" r="5.7" fill="none" stroke="#8ab0e8" stroke-width="1.0" stroke-opacity="0.55"/>
<circle cx="47.4" cy="54.3" r="4.7" fill="#c4e0f8"/>
<circle cx="70.0" cy="60.9" r="5.7" fill="none" stroke="#8ab0e8" stroke-width="1.0" stroke-opacity="0.55"/>
<circle cx="70.0" cy="60.9" r="4.7" fill="#c4e0f8"/>
</g>
<circle cx="61.5" cy="117.2" r="2.80" fill="#f2c8f0" opacity="0.85"/>
<circle cx="47.4" cy="128.9" r="2.80" fill="#f2c8f0" opacity="0.85"/>
<circle cx="70.0" cy="135.5" r="2.80" fill="#f2c8f0" opacity="0.85"/>
<text x="28.5" y="88.3" font-size="8.45" text-anchor="start" fill="#111" stroke="#111" stroke-width="0.2">Control organoids</text>
<text x="30.3" y="162.6" font-size="8.45" text-anchor="start" fill="#111" stroke="#111" stroke-width="0.2">MACM organoids</text>
<line x1="92.5" y1="93.0" x2="127.0" y2="93.0" stroke="#222" stroke-width="0.8"/>
<path d="M131,93.0 L126,90.7 L126,95.3 Z" fill="#222"/>
<line x1="199.5" y1="94.0" x2="235.0" y2="94.0" stroke="#222" stroke-width="0.8"/>
<path d="M239,94.0 L234,91.7 L234,96.3 Z" fill="#222"/>
<g>
<path d="M141.5,61 L150.8,70.6 L147.6,73.6 L138.2,64.2 Z" fill="#e6f1f1" stroke="#8a9aa6" stroke-width="0.7"/>
<path d="M136.5,63.3 L139.5,60.6 L141.4,62.3 L138.4,65 Z" fill="#dce8ea" stroke="#8a9aa6" stroke-width="0.6"/>
<path d="M148,73 Q150,76 153.5,76.5" fill="none" stroke="#8a9aa6" stroke-width="0.8"/>
<path d="M154.6,79 L168.9,79 L168.9,103 Q166,113 162.5,122.6 Q161.5,124 160.6,122.6 Q157.2,113 154.6,103 Z" fill="#d4e5f1" stroke="#8a9cab" stroke-width="0.8"/>
<rect x="153.7" y="76.3" width="16" height="2.6" fill="#eef4f7" stroke="#8a9cab" stroke-width="0.7"/>
<rect x="155" y="79" width="13.5" height="1.8" fill="#f4f8fa"/>
<line x1="165.5" y1="81.5" x2="168.0" y2="81.5" stroke="#8a9cab" stroke-width="0.6"/>
<line x1="165.5" y1="90.0" x2="168.0" y2="90.0" stroke="#8a9cab" stroke-width="0.6"/>
<line x1="165.5" y1="99.0" x2="168.0" y2="99.0" stroke="#8a9cab" stroke-width="0.6"/>
<circle cx="158.2" cy="106.5" r="0.55" fill="#e07080"/>
<circle cx="165.6" cy="102.2" r="0.55" fill="#6aa0e0"/>
<circle cx="157.5" cy="107.2" r="0.55" fill="#50a0d0"/>
<circle cx="157.1" cy="104.8" r="0.55" fill="#9060c0"/>
<circle cx="156.8" cy="102.6" r="0.55" fill="#9060c0"/>
<circle cx="162.5" cy="102.4" r="0.55" fill="#60c070"/>
<circle cx="162.3" cy="111.3" r="0.55" fill="#6aa0e0"/>
<circle cx="160.9" cy="110.4" r="0.55" fill="#60c070"/>
<circle cx="166.0" cy="102.2" r="0.55" fill="#e0a050"/>
<circle cx="162.1" cy="108.0" r="0.55" fill="#50a0d0"/>
<circle cx="164.9" cy="106.3" r="0.55" fill="#60c070"/>
<circle cx="162.6" cy="103.1" r="0.55" fill="#60c070"/>
<circle cx="162.2" cy="107.3" r="0.55" fill="#6aa0e0"/>
<circle cx="162.6" cy="110.2" r="0.55" fill="#9060c0"/>
<circle cx="161.3" cy="112.0" r="0.55" fill="#e0a050"/>
<circle cx="165.3" cy="108.7" r="0.55" fill="#e0a050"/>
<circle cx="164.7" cy="106.1" r="0.55" fill="#e07080"/>
<circle cx="159.6" cy="113.6" r="0.55" fill="#e0a050"/>
<circle cx="164.6" cy="109.6" r="0.55" fill="#e07080"/>
<circle cx="162.6" cy="108.5" r="0.55" fill="#6aa0e0"/>
<circle cx="160.7" cy="103.3" r="0.55" fill="#e0a050"/>
<circle cx="161.6" cy="103.9" r="0.55" fill="#6aa0e0"/>
<circle cx="160.3" cy="116.4" r="0.55" fill="#50a0d0"/>
<circle cx="164.5" cy="110.4" r="0.55" fill="#e0a050"/>
<circle cx="160.2" cy="106.8" r="0.55" fill="#9060c0"/>
<circle cx="161.4" cy="110.5" r="0.55" fill="#6aa0e0"/>
<circle cx="161.6" cy="116.1" r="0.55" fill="#e07080"/>
<circle cx="164.5" cy="102.5" r="0.55" fill="#e0a050"/>
<circle cx="164.9" cy="111.5" r="0.55" fill="#9060c0"/>
<circle cx="160.5" cy="105.9" r="0.55" fill="#e07080"/>
<circle cx="166.0" cy="106.9" r="0.55" fill="#e0a050"/>
<circle cx="157.2" cy="104.1" r="0.55" fill="#6aa0e0"/>
<circle cx="159.3" cy="104.9" r="0.55" fill="#e07080"/>
<circle cx="160.5" cy="105.3" r="0.55" fill="#9060c0"/>
<circle cx="161.1" cy="102.7" r="0.55" fill="#50a0d0"/>
<circle cx="157.9" cy="105.8" r="0.55" fill="#9060c0"/>
<circle cx="160.8" cy="114.9" r="0.55" fill="#9060c0"/>
<circle cx="162.2" cy="116.8" r="0.55" fill="#9060c0"/>
</g>
<circle cx="180.2" cy="105.2" r="8.60" fill="#fbf0f0" stroke="#e8c8c8" stroke-width="0.8"/>
<circle cx="176.5" cy="101.5" r="2.60" fill="#4a90d9" opacity="0.78"/>
<circle cx="180.5" cy="99.8" r="2.40" fill="#4cb050" opacity="0.78"/>
<circle cx="184.5" cy="102.0" r="2.50" fill="#f0a860" opacity="0.78"/>
<circle cx="176.8" cy="107.5" r="3.00" fill="#9b5cc6" opacity="0.78"/>
<circle cx="181.5" cy="104.8" r="2.80" fill="#2f86cf" opacity="0.78"/>
<circle cx="184.8" cy="107.5" r="2.30" fill="#f0b070" opacity="0.78"/>
<circle cx="180.8" cy="109.8" r="2.40" fill="#4cb050" opacity="0.78"/>
<rect x="249.4" y="53.4" width="74.9" height="77.2" fill="#fff" stroke="#555" stroke-width="0.9"/>
<path d="M272.3,76.9h0.9v0.9h-0.9zM271.5,79.4h0.9v0.9h-0.9zM270.7,80.7h0.9v0.9h-0.9zM267.8,76.0h0.9v0.9h-0.9zM273.9,77.4h0.9v0.9h-0.9zM267.4,80.0h0.9v0.9h-0.9zM274.7,76.2h0.9v0.9h-0.9zM265.9,77.0h0.9v0.9h-0.9zM269.7,76.4h0.9v0.9h-0.9zM274.2,74.8h0.9v0.9h-0.9zM273.8,74.3h0.9v0.9h-0.9zM267.5,79.2h0.9v0.9h-0.9zM273.8,79.7h0.9v0.9h-0.9zM271.6,77.8h0.9v0.9h-0.9zM270.8,79.2h0.9v0.9h-0.9zM269.6,78.3h0.9v0.9h-0.9zM272.4,77.4h0.9v0.9h-0.9zM273.0,79.1h0.9v0.9h-0.9zM275.4,78.1h0.9v0.9h-0.9zM268.6,76.1h0.9v0.9h-0.9zM270.2,80.2h0.9v0.9h-0.9zM269.0,78.6h0.9v0.9h-0.9zM273.5,73.5h0.9v0.9h-0.9zM266.4,78.1h0.9v0.9h-0.9zM271.8,78.1h0.9v0.9h-0.9zM268.7,79.4h0.9v0.9h-0.9zM271.3,75.7h0.9v0.9h-0.9zM275.7,78.0h0.9v0.9h-0.9zM268.1,77.0h0.9v0.9h-0.9zM269.4,77.1h0.9v0.9h-0.9zM264.8,76.5h0.9v0.9h-0.9zM273.3,74.3h0.9v0.9h-0.9zM270.0,80.2h0.9v0.9h-0.9zM272.7,81.0h0.9v0.9h-0.9zM265.4,76.5h0.9v0.9h-0.9zM269.0,79.3h0.9v0.9h-0.9zM272.3,72.9h0.9v0.9h-0.9zM273.3,73.9h0.9v0.9h-0.9zM272.3,73.6h0.9v0.9h-0.9zM270.8,80.8h0.9v0.9h-0.9zM269.7,78.0h0.9v0.9h-0.9zM273.2,77.8h0.9v0.9h-0.9zM270.0,81.3h0.9v0.9h-0.9zM273.9,76.5h0.9v0.9h-0.9zM275.4,75.5h0.9v0.9h-0.9zM273.5,76.5h0.9v0.9h-0.9zM270.7,79.6h0.9v0.9h-0.9zM271.1,79.4h0.9v0.9h-0.9zM266.5,74.1h0.9v0.9h-0.9zM272.3,74.5h0.9v0.9h-0.9zM267.4,73.8h0.9v0.9h-0.9zM274.2,79.3h0.9v0.9h-0.9zM274.4,75.1h0.9v0.9h-0.9zM270.3,74.0h0.9v0.9h-0.9zM272.4,81.2h0.9v0.9h-0.9zM267.8,81.1h0.9v0.9h-0.9zM273.7,76.8h0.9v0.9h-0.9zM265.8,80.1h0.9v0.9h-0.9zM269.9,75.4h0.9v0.9h-0.9zM271.8,78.7h0.9v0.9h-0.9zM274.4,74.9h0.9v0.9h-0.9zM273.3,80.8h0.9v0.9h-0.9zM274.8,76.9h0.9v0.9h-0.9zM267.8,80.2h0.9v0.9h-0.9zM270.7,77.8h0.9v0.9h-0.9zM274.7,76.6h0.9v0.9h-0.9zM264.9,76.6h0.9v0.9h-0.9zM265.5,79.2h0.9v0.9h-0.9zM271.4,75.4h0.9v0.9h-0.9zM270.2,79.9h0.9v0.9h-0.9zM270.5,81.0h0.9v0.9h-0.9zM270.0,80.5h0.9v0.9h-0.9zM273.9,80.7h0.9v0.9h-0.9zM267.9,79.9h0.9v0.9h-0.9zM265.6,75.1h0.9v0.9h-0.9zM265.5,79.5h0.9v0.9h-0.9zM266.2,77.3h0.9v0.9h-0.9zM269.5,77.3h0.9v0.9h-0.9zM268.0,78.1h0.9v0.9h-0.9zM275.3,77.5h0.9v0.9h-0.9zM272.1,80.3h0.9v0.9h-0.9zM269.6,73.8h0.9v0.9h-0.9zM268.4,80.4h0.9v0.9h-0.9zM265.6,75.9h0.9v0.9h-0.9zM273.5,79.6h0.9v0.9h-0.9zM270.3,79.9h0.9v0.9h-0.9zM270.8,74.0h0.9v0.9h-0.9zM265.7,75.8h0.9v0.9h-0.9zM273.4,75.7h0.9v0.9h-0.9zM267.2,75.1h0.9v0.9h-0.9zM265.6,77.0h0.9v0.9h-0.9zM266.3,78.4h0.9v0.9h-0.9zM264.9,78.0h0.9v0.9h-0.9zM268.6,73.1h0.9v0.9h-0.9zM272.9,76.5h0.9v0.9h-0.9zM265.2,75.6h0.9v0.9h-0.9zM271.4,75.8h0.9v0.9h-0.9zM272.9,79.6h0.9v0.9h-0.9zM272.7,78.4h0.9v0.9h-0.9zM274.4,79.1h0.9v0.9h-0.9zM271.4,72.9h0.9v0.9h-0.9zM272.9,80.7h0.9v0.9h-0.9zM269.1,75.8h0.9v0.9h-0.9zM274.3,74.2h0.9v0.9h-0.9zM271.3,81.9h0.9v0.9h-0.9zM267.1,79.3h0.9v0.9h-0.9zM275.3,77.1h0.9v0.9h-0.9zM272.2,80.0h0.9v0.9h-0.9zM267.0,77.1h0.9v0.9h-0.9zM271.3,79.9h0.9v0.9h-0.9zM270.1,76.7h0.9v0.9h-0.9zM266.7,76.3h0.9v0.9h-0.9zM273.5,77.7h0.9v0.9h-0.9zM267.4,74.9h0.9v0.9h-0.9zM275.4,79.2h0.9v0.9h-0.9zM271.6,72.8h0.9v0.9h-0.9zM272.5,78.9h0.9v0.9h-0.9zM275.0,78.4h0.9v0.9h-0.9zM270.0,79.1h0.9v0.9h-0.9zM265.5,79.5h0.9v0.9h-0.9zM271.4,75.1h0.9v0.9h-0.9zM273.4,81.1h0.9v0.9h-0.9zM266.0,75.6h0.9v0.9h-0.9zM271.4,78.0h0.9v0.9h-0.9zM268.9,74.5h0.9v0.9h-0.9zM275.1,79.4h0.9v0.9h-0.9zM266.9,74.1h0.9v0.9h-0.9zM274.7,79.6h0.9v0.9h-0.9zM275.0,79.2h0.9v0.9h-0.9zM267.1,78.2h0.9v0.9h-0.9zM265.2,75.8h0.9v0.9h-0.9zM270.0,79.1h0.9v0.9h-0.9zM267.6,77.0h0.9v0.9h-0.9zM272.0,78.6h0.9v0.9h-0.9zM272.6,78.0h0.9v0.9h-0.9zM269.1,79.8h0.9v0.9h-0.9zM270.4,74.8h0.9v0.9h-0.9zM267.9,77.3h0.9v0.9h-0.9zM269.8,77.9h0.9v0.9h-0.9zM270.2,77.9h0.9v0.9h-0.9zM269.8,73.8h0.9v0.9h-0.9zM271.7,80.4h0.9v0.9h-0.9zM271.9,76.7h0.9v0.9h-0.9zM271.8,74.5h0.9v0.9h-0.9zM265.1,77.5h0.9v0.9h-0.9zM267.1,79.5h0.9v0.9h-0.9zM268.1,73.0h0.9v0.9h-0.9zM267.4,81.0h0.9v0.9h-0.9zM269.1,73.7h0.9v0.9h-0.9zM267.5,78.9h0.9v0.9h-0.9zM272.2,77.9h0.9v0.9h-0.9zM274.6,79.1h0.9v0.9h-0.9zM270.2,79.3h0.9v0.9h-0.9zM274.7,79.6h0.9v0.9h-0.9zM273.4,74.5h0.9v0.9h-0.9zM269.7,79.7h0.9v0.9h-0.9zM269.2,80.5h0.9v0.9h-0.9zM272.3,80.0h0.9v0.9h-0.9zM269.8,82.0h0.9v0.9h-0.9zM274.3,76.7h0.9v0.9h-0.9zM270.4,82.1h0.9v0.9h-0.9zM269.0,80.0h0.9v0.9h-0.9zM273.7,77.4h0.9v0.9h-0.9zM266.3,77.9h0.9v0.9h-0.9zM271.5,80.6h0.9v0.9h-0.9zM273.1,77.4h0.9v0.9h-0.9zM273.2,79.0h0.9v0.9h-0.9zM271.1,77.5h0.9v0.9h-0.9zM269.3,79.5h0.9v0.9h-0.9zM266.8,75.6h0.9v0.9h-0.9z" fill="#f27888" opacity="0.68"/>
<path d="M291.1,67.5h0.9v0.9h-0.9zM289.8,67.2h0.9v0.9h-0.9zM288.2,71.0h0.9v0.9h-0.9zM293.6,69.8h0.9v0.9h-0.9zM290.2,67.6h0.9v0.9h-0.9zM296.8,70.7h0.9v0.9h-0.9zM295.1,68.5h0.9v0.9h-0.9zM290.5,67.3h0.9v0.9h-0.9zM294.1,71.6h0.9v0.9h-0.9zM285.1,69.9h0.9v0.9h-0.9zM293.0,67.4h0.9v0.9h-0.9zM285.7,68.5h0.9v0.9h-0.9zM288.8,67.7h0.9v0.9h-0.9zM291.2,70.5h0.9v0.9h-0.9zM293.7,71.3h0.9v0.9h-0.9zM295.7,71.6h0.9v0.9h-0.9zM286.2,69.1h0.9v0.9h-0.9zM287.3,68.2h0.9v0.9h-0.9zM290.7,70.0h0.9v0.9h-0.9zM292.7,67.5h0.9v0.9h-0.9zM286.3,69.9h0.9v0.9h-0.9zM290.1,69.3h0.9v0.9h-0.9zM290.8,68.4h0.9v0.9h-0.9zM294.0,70.6h0.9v0.9h-0.9zM290.7,68.6h0.9v0.9h-0.9zM290.6,67.0h0.9v0.9h-0.9zM287.0,70.0h0.9v0.9h-0.9zM285.7,70.3h0.9v0.9h-0.9zM291.6,67.6h0.9v0.9h-0.9zM289.9,69.3h0.9v0.9h-0.9zM293.0,71.2h0.9v0.9h-0.9zM290.9,68.3h0.9v0.9h-0.9zM290.4,69.8h0.9v0.9h-0.9zM294.2,70.5h0.9v0.9h-0.9zM288.5,67.7h0.9v0.9h-0.9zM289.5,68.5h0.9v0.9h-0.9zM286.6,69.7h0.9v0.9h-0.9zM288.9,70.2h0.9v0.9h-0.9zM293.3,69.1h0.9v0.9h-0.9zM297.3,69.6h0.9v0.9h-0.9zM295.4,70.2h0.9v0.9h-0.9zM293.8,67.3h0.9v0.9h-0.9zM287.8,70.4h0.9v0.9h-0.9zM292.6,72.8h0.9v0.9h-0.9zM292.3,72.2h0.9v0.9h-0.9zM294.0,71.6h0.9v0.9h-0.9zM293.3,69.6h0.9v0.9h-0.9zM293.0,68.0h0.9v0.9h-0.9zM295.2,68.3h0.9v0.9h-0.9zM291.8,72.8h0.9v0.9h-0.9zM290.0,70.0h0.9v0.9h-0.9zM295.6,70.0h0.9v0.9h-0.9zM287.6,70.5h0.9v0.9h-0.9zM293.5,71.3h0.9v0.9h-0.9zM288.6,72.5h0.9v0.9h-0.9zM296.7,70.0h0.9v0.9h-0.9zM292.2,69.1h0.9v0.9h-0.9zM296.0,68.8h0.9v0.9h-0.9zM293.9,69.0h0.9v0.9h-0.9zM288.2,71.3h0.9v0.9h-0.9zM296.0,69.9h0.9v0.9h-0.9zM288.3,71.5h0.9v0.9h-0.9zM290.8,70.6h0.9v0.9h-0.9zM295.8,71.6h0.9v0.9h-0.9zM289.7,72.8h0.9v0.9h-0.9zM291.1,71.5h0.9v0.9h-0.9zM288.2,69.9h0.9v0.9h-0.9zM286.6,72.0h0.9v0.9h-0.9zM295.4,68.2h0.9v0.9h-0.9zM286.8,67.8h0.9v0.9h-0.9zM295.5,69.1h0.9v0.9h-0.9zM290.8,69.3h0.9v0.9h-0.9zM290.6,67.9h0.9v0.9h-0.9zM291.1,67.5h0.9v0.9h-0.9zM290.7,70.6h0.9v0.9h-0.9zM293.1,69.5h0.9v0.9h-0.9zM287.3,70.3h0.9v0.9h-0.9zM289.4,72.4h0.9v0.9h-0.9zM294.3,69.7h0.9v0.9h-0.9zM289.1,68.6h0.9v0.9h-0.9zM287.2,69.3h0.9v0.9h-0.9zM292.3,71.0h0.9v0.9h-0.9zM292.7,72.7h0.9v0.9h-0.9zM288.0,70.0h0.9v0.9h-0.9zM296.4,68.3h0.9v0.9h-0.9zM288.7,70.3h0.9v0.9h-0.9zM291.7,70.8h0.9v0.9h-0.9zM290.0,70.7h0.9v0.9h-0.9zM291.3,71.5h0.9v0.9h-0.9zM285.5,68.8h0.9v0.9h-0.9z" fill="#f2b838" opacity="0.68"/>
<path d="M283.8,73.5h0.9v0.9h-0.9zM283.0,74.5h0.9v0.9h-0.9zM283.3,74.6h0.9v0.9h-0.9zM284.5,74.4h0.9v0.9h-0.9zM284.3,74.1h0.9v0.9h-0.9zM282.7,74.1h0.9v0.9h-0.9zM284.3,73.8h0.9v0.9h-0.9zM283.8,74.6h0.9v0.9h-0.9z" fill="#f2b838" opacity="0.68"/>
<path d="M282.3,86.5h0.9v0.9h-0.9zM292.2,81.6h0.9v0.9h-0.9zM286.8,82.8h0.9v0.9h-0.9zM291.8,84.8h0.9v0.9h-0.9zM289.9,80.4h0.9v0.9h-0.9zM286.0,83.5h0.9v0.9h-0.9zM280.8,88.1h0.9v0.9h-0.9zM289.0,77.4h0.9v0.9h-0.9zM289.5,82.9h0.9v0.9h-0.9zM288.2,85.4h0.9v0.9h-0.9zM280.3,82.7h0.9v0.9h-0.9zM291.6,81.3h0.9v0.9h-0.9zM282.4,78.3h0.9v0.9h-0.9zM281.0,85.0h0.9v0.9h-0.9zM292.1,85.2h0.9v0.9h-0.9zM286.8,90.7h0.9v0.9h-0.9zM283.7,80.3h0.9v0.9h-0.9zM288.5,86.3h0.9v0.9h-0.9zM282.2,78.8h0.9v0.9h-0.9zM287.5,84.8h0.9v0.9h-0.9zM280.8,82.7h0.9v0.9h-0.9zM283.5,85.8h0.9v0.9h-0.9zM285.5,83.1h0.9v0.9h-0.9zM284.5,88.4h0.9v0.9h-0.9zM291.5,82.0h0.9v0.9h-0.9zM289.6,80.1h0.9v0.9h-0.9zM286.4,87.3h0.9v0.9h-0.9zM291.7,82.0h0.9v0.9h-0.9zM285.7,84.6h0.9v0.9h-0.9zM280.3,83.6h0.9v0.9h-0.9zM282.9,85.4h0.9v0.9h-0.9zM282.7,77.3h0.9v0.9h-0.9zM286.2,84.9h0.9v0.9h-0.9zM283.7,87.7h0.9v0.9h-0.9zM284.8,80.5h0.9v0.9h-0.9zM287.8,77.4h0.9v0.9h-0.9zM282.9,83.4h0.9v0.9h-0.9zM289.9,82.8h0.9v0.9h-0.9zM287.5,80.3h0.9v0.9h-0.9zM287.1,90.0h0.9v0.9h-0.9zM284.1,90.6h0.9v0.9h-0.9zM283.0,83.6h0.9v0.9h-0.9zM286.8,88.3h0.9v0.9h-0.9zM282.6,77.3h0.9v0.9h-0.9zM288.7,87.3h0.9v0.9h-0.9zM287.6,90.8h0.9v0.9h-0.9zM287.1,84.9h0.9v0.9h-0.9zM290.1,85.3h0.9v0.9h-0.9zM291.3,79.3h0.9v0.9h-0.9zM285.3,76.1h0.9v0.9h-0.9zM289.7,81.8h0.9v0.9h-0.9zM288.7,90.2h0.9v0.9h-0.9zM286.0,82.2h0.9v0.9h-0.9zM283.8,79.6h0.9v0.9h-0.9zM283.2,86.6h0.9v0.9h-0.9zM286.2,83.9h0.9v0.9h-0.9zM285.3,87.9h0.9v0.9h-0.9zM288.4,82.8h0.9v0.9h-0.9zM289.2,82.8h0.9v0.9h-0.9zM282.1,88.9h0.9v0.9h-0.9zM288.1,79.1h0.9v0.9h-0.9zM290.6,85.1h0.9v0.9h-0.9zM281.4,88.7h0.9v0.9h-0.9zM287.5,87.8h0.9v0.9h-0.9zM287.0,82.8h0.9v0.9h-0.9zM280.7,87.1h0.9v0.9h-0.9zM286.2,82.0h0.9v0.9h-0.9zM287.8,84.0h0.9v0.9h-0.9zM289.2,81.7h0.9v0.9h-0.9zM285.9,76.4h0.9v0.9h-0.9zM284.1,86.9h0.9v0.9h-0.9zM291.4,82.0h0.9v0.9h-0.9zM285.6,89.9h0.9v0.9h-0.9zM284.6,87.1h0.9v0.9h-0.9zM292.1,83.7h0.9v0.9h-0.9zM290.9,80.6h0.9v0.9h-0.9zM287.1,83.1h0.9v0.9h-0.9zM286.5,88.7h0.9v0.9h-0.9zM292.6,81.6h0.9v0.9h-0.9zM283.4,86.0h0.9v0.9h-0.9zM281.6,85.8h0.9v0.9h-0.9zM288.7,82.1h0.9v0.9h-0.9zM288.0,77.5h0.9v0.9h-0.9zM288.8,77.6h0.9v0.9h-0.9zM282.9,80.9h0.9v0.9h-0.9zM284.3,87.6h0.9v0.9h-0.9zM286.4,81.5h0.9v0.9h-0.9zM288.0,89.7h0.9v0.9h-0.9zM286.1,85.5h0.9v0.9h-0.9zM291.1,84.7h0.9v0.9h-0.9zM282.9,90.2h0.9v0.9h-0.9zM291.2,78.6h0.9v0.9h-0.9zM285.9,85.7h0.9v0.9h-0.9zM290.1,86.6h0.9v0.9h-0.9zM284.9,78.7h0.9v0.9h-0.9zM286.5,88.4h0.9v0.9h-0.9zM281.9,79.3h0.9v0.9h-0.9zM286.0,76.6h0.9v0.9h-0.9zM284.8,81.3h0.9v0.9h-0.9zM288.1,80.1h0.9v0.9h-0.9zM282.1,81.7h0.9v0.9h-0.9zM285.8,80.2h0.9v0.9h-0.9zM286.1,87.3h0.9v0.9h-0.9zM289.8,89.3h0.9v0.9h-0.9zM282.5,81.5h0.9v0.9h-0.9zM280.5,88.1h0.9v0.9h-0.9zM282.7,83.4h0.9v0.9h-0.9zM288.1,77.9h0.9v0.9h-0.9zM288.3,83.4h0.9v0.9h-0.9zM279.8,84.6h0.9v0.9h-0.9zM289.7,77.5h0.9v0.9h-0.9zM289.7,84.6h0.9v0.9h-0.9zM288.3,85.8h0.9v0.9h-0.9zM291.3,82.6h0.9v0.9h-0.9zM289.9,81.6h0.9v0.9h-0.9zM289.2,79.8h0.9v0.9h-0.9zM285.7,90.2h0.9v0.9h-0.9zM288.2,82.7h0.9v0.9h-0.9zM281.5,80.2h0.9v0.9h-0.9zM286.9,88.0h0.9v0.9h-0.9zM288.0,86.2h0.9v0.9h-0.9zM285.9,89.4h0.9v0.9h-0.9zM284.2,80.8h0.9v0.9h-0.9zM290.0,83.9h0.9v0.9h-0.9zM284.7,80.6h0.9v0.9h-0.9zM284.8,86.7h0.9v0.9h-0.9zM287.5,78.2h0.9v0.9h-0.9zM288.1,84.5h0.9v0.9h-0.9zM281.9,87.0h0.9v0.9h-0.9zM284.7,81.8h0.9v0.9h-0.9zM289.1,88.9h0.9v0.9h-0.9zM282.9,85.7h0.9v0.9h-0.9zM283.6,90.4h0.9v0.9h-0.9zM284.0,88.8h0.9v0.9h-0.9zM283.2,87.3h0.9v0.9h-0.9zM290.6,77.9h0.9v0.9h-0.9zM284.0,86.1h0.9v0.9h-0.9zM285.6,80.2h0.9v0.9h-0.9zM292.7,83.8h0.9v0.9h-0.9zM280.4,86.7h0.9v0.9h-0.9zM280.6,87.5h0.9v0.9h-0.9zM283.3,84.3h0.9v0.9h-0.9zM291.2,84.1h0.9v0.9h-0.9zM281.8,78.0h0.9v0.9h-0.9zM290.7,86.7h0.9v0.9h-0.9zM282.6,87.4h0.9v0.9h-0.9zM288.3,86.7h0.9v0.9h-0.9zM279.4,82.6h0.9v0.9h-0.9zM289.9,86.9h0.9v0.9h-0.9zM288.4,76.6h0.9v0.9h-0.9zM286.9,86.1h0.9v0.9h-0.9zM292.5,81.0h0.9v0.9h-0.9zM284.4,83.7h0.9v0.9h-0.9zM289.9,81.5h0.9v0.9h-0.9zM290.6,80.2h0.9v0.9h-0.9zM287.3,80.9h0.9v0.9h-0.9zM286.8,80.1h0.9v0.9h-0.9zM280.7,87.4h0.9v0.9h-0.9zM287.5,80.7h0.9v0.9h-0.9zM286.9,88.2h0.9v0.9h-0.9zM281.7,83.0h0.9v0.9h-0.9zM288.5,86.2h0.9v0.9h-0.9zM285.0,76.5h0.9v0.9h-0.9zM291.1,85.0h0.9v0.9h-0.9zM286.1,82.1h0.9v0.9h-0.9zM287.3,81.4h0.9v0.9h-0.9zM281.8,80.3h0.9v0.9h-0.9zM283.3,80.6h0.9v0.9h-0.9zM281.4,86.3h0.9v0.9h-0.9zM281.0,86.3h0.9v0.9h-0.9zM281.7,85.2h0.9v0.9h-0.9zM291.5,84.4h0.9v0.9h-0.9zM282.7,83.8h0.9v0.9h-0.9zM286.6,77.0h0.9v0.9h-0.9zM283.2,84.4h0.9v0.9h-0.9zM283.8,84.0h0.9v0.9h-0.9zM289.2,87.1h0.9v0.9h-0.9zM290.0,86.3h0.9v0.9h-0.9zM284.6,83.5h0.9v0.9h-0.9zM284.7,81.9h0.9v0.9h-0.9zM285.4,77.0h0.9v0.9h-0.9zM284.4,83.4h0.9v0.9h-0.9zM281.7,83.4h0.9v0.9h-0.9zM288.5,82.7h0.9v0.9h-0.9zM290.4,77.7h0.9v0.9h-0.9zM285.3,76.8h0.9v0.9h-0.9zM288.5,90.5h0.9v0.9h-0.9zM279.2,83.9h0.9v0.9h-0.9zM288.5,82.0h0.9v0.9h-0.9zM287.7,76.5h0.9v0.9h-0.9zM289.9,85.3h0.9v0.9h-0.9zM286.2,80.6h0.9v0.9h-0.9zM289.0,81.2h0.9v0.9h-0.9zM287.1,80.9h0.9v0.9h-0.9zM279.3,83.4h0.9v0.9h-0.9zM287.0,87.3h0.9v0.9h-0.9zM282.1,83.4h0.9v0.9h-0.9zM289.0,84.3h0.9v0.9h-0.9zM289.6,89.7h0.9v0.9h-0.9zM283.2,77.1h0.9v0.9h-0.9z" fill="#58bcc6" opacity="0.68"/>
<path d="M291.7,103.1h0.9v0.9h-0.9zM292.7,100.6h0.9v0.9h-0.9zM284.7,92.7h0.9v0.9h-0.9zM292.5,92.0h0.9v0.9h-0.9zM281.1,92.7h0.9v0.9h-0.9zM294.8,101.7h0.9v0.9h-0.9zM284.4,92.7h0.9v0.9h-0.9zM289.3,92.4h0.9v0.9h-0.9zM294.5,96.2h0.9v0.9h-0.9zM283.3,102.3h0.9v0.9h-0.9zM284.7,97.8h0.9v0.9h-0.9zM288.0,94.7h0.9v0.9h-0.9zM289.9,92.7h0.9v0.9h-0.9zM282.6,90.1h0.9v0.9h-0.9zM282.1,93.0h0.9v0.9h-0.9zM287.9,96.9h0.9v0.9h-0.9zM291.3,97.2h0.9v0.9h-0.9zM283.9,92.8h0.9v0.9h-0.9zM280.0,95.9h0.9v0.9h-0.9zM290.8,99.5h0.9v0.9h-0.9zM287.3,95.5h0.9v0.9h-0.9zM293.1,96.6h0.9v0.9h-0.9zM292.0,99.7h0.9v0.9h-0.9zM289.1,103.0h0.9v0.9h-0.9zM284.8,94.5h0.9v0.9h-0.9zM283.9,92.4h0.9v0.9h-0.9zM293.5,102.7h0.9v0.9h-0.9zM288.2,99.8h0.9v0.9h-0.9zM293.6,100.4h0.9v0.9h-0.9zM293.2,91.1h0.9v0.9h-0.9zM284.5,99.1h0.9v0.9h-0.9zM294.9,97.0h0.9v0.9h-0.9zM283.4,94.6h0.9v0.9h-0.9zM284.6,92.1h0.9v0.9h-0.9zM294.8,93.7h0.9v0.9h-0.9zM288.1,104.6h0.9v0.9h-0.9zM294.0,98.2h0.9v0.9h-0.9zM284.6,98.9h0.9v0.9h-0.9zM295.1,99.2h0.9v0.9h-0.9zM294.3,97.0h0.9v0.9h-0.9zM291.0,95.4h0.9v0.9h-0.9zM290.1,102.8h0.9v0.9h-0.9zM281.2,96.3h0.9v0.9h-0.9zM289.4,93.3h0.9v0.9h-0.9zM286.4,100.9h0.9v0.9h-0.9zM295.7,99.0h0.9v0.9h-0.9zM289.5,89.5h0.9v0.9h-0.9zM295.9,96.9h0.9v0.9h-0.9zM287.9,90.8h0.9v0.9h-0.9zM287.8,90.8h0.9v0.9h-0.9zM288.5,99.3h0.9v0.9h-0.9zM288.2,98.2h0.9v0.9h-0.9zM284.3,102.9h0.9v0.9h-0.9zM285.4,89.2h0.9v0.9h-0.9zM287.0,92.3h0.9v0.9h-0.9zM282.8,94.7h0.9v0.9h-0.9zM289.5,90.6h0.9v0.9h-0.9zM287.4,103.3h0.9v0.9h-0.9zM291.9,95.7h0.9v0.9h-0.9zM288.8,95.8h0.9v0.9h-0.9zM287.8,100.7h0.9v0.9h-0.9zM287.7,88.3h0.9v0.9h-0.9zM287.9,91.7h0.9v0.9h-0.9zM291.6,93.2h0.9v0.9h-0.9zM288.6,104.6h0.9v0.9h-0.9zM283.2,91.4h0.9v0.9h-0.9zM283.8,89.3h0.9v0.9h-0.9zM280.4,98.0h0.9v0.9h-0.9zM285.5,89.1h0.9v0.9h-0.9zM281.4,99.3h0.9v0.9h-0.9zM283.8,94.5h0.9v0.9h-0.9zM289.6,103.1h0.9v0.9h-0.9zM295.2,100.4h0.9v0.9h-0.9zM288.9,97.6h0.9v0.9h-0.9zM294.5,101.6h0.9v0.9h-0.9zM286.3,99.2h0.9v0.9h-0.9zM289.8,96.9h0.9v0.9h-0.9zM285.7,90.2h0.9v0.9h-0.9zM285.7,89.7h0.9v0.9h-0.9zM294.0,99.2h0.9v0.9h-0.9zM283.0,102.4h0.9v0.9h-0.9zM291.4,89.3h0.9v0.9h-0.9zM295.3,99.7h0.9v0.9h-0.9zM295.1,92.3h0.9v0.9h-0.9zM291.1,99.0h0.9v0.9h-0.9zM289.3,97.6h0.9v0.9h-0.9zM292.5,90.3h0.9v0.9h-0.9zM282.9,90.8h0.9v0.9h-0.9zM285.0,93.2h0.9v0.9h-0.9zM290.2,98.1h0.9v0.9h-0.9zM288.2,92.7h0.9v0.9h-0.9zM285.7,101.6h0.9v0.9h-0.9zM292.3,97.1h0.9v0.9h-0.9zM286.6,103.6h0.9v0.9h-0.9zM284.8,100.1h0.9v0.9h-0.9zM293.9,95.2h0.9v0.9h-0.9zM292.0,91.2h0.9v0.9h-0.9zM293.4,97.6h0.9v0.9h-0.9zM281.2,99.5h0.9v0.9h-0.9zM284.0,102.4h0.9v0.9h-0.9zM284.2,95.6h0.9v0.9h-0.9zM289.7,94.6h0.9v0.9h-0.9zM289.5,93.4h0.9v0.9h-0.9zM291.9,96.6h0.9v0.9h-0.9zM288.7,88.2h0.9v0.9h-0.9zM294.0,96.7h0.9v0.9h-0.9zM280.5,97.0h0.9v0.9h-0.9zM290.4,102.0h0.9v0.9h-0.9zM283.6,102.9h0.9v0.9h-0.9zM287.5,104.8h0.9v0.9h-0.9zM287.2,100.4h0.9v0.9h-0.9zM286.2,90.8h0.9v0.9h-0.9zM293.3,100.9h0.9v0.9h-0.9zM294.6,100.2h0.9v0.9h-0.9zM285.6,89.4h0.9v0.9h-0.9zM284.5,92.9h0.9v0.9h-0.9zM283.7,99.7h0.9v0.9h-0.9zM290.0,95.0h0.9v0.9h-0.9zM289.1,95.7h0.9v0.9h-0.9zM289.2,100.7h0.9v0.9h-0.9zM292.9,93.1h0.9v0.9h-0.9zM282.2,102.0h0.9v0.9h-0.9zM288.6,102.3h0.9v0.9h-0.9zM280.8,95.1h0.9v0.9h-0.9zM288.2,89.7h0.9v0.9h-0.9zM285.2,100.5h0.9v0.9h-0.9zM292.4,103.0h0.9v0.9h-0.9zM284.2,90.3h0.9v0.9h-0.9zM290.8,101.5h0.9v0.9h-0.9zM289.0,90.2h0.9v0.9h-0.9zM292.1,100.7h0.9v0.9h-0.9zM291.2,93.8h0.9v0.9h-0.9zM289.7,100.9h0.9v0.9h-0.9zM285.8,89.1h0.9v0.9h-0.9zM289.9,99.3h0.9v0.9h-0.9zM288.1,101.4h0.9v0.9h-0.9zM284.7,96.1h0.9v0.9h-0.9zM286.3,99.8h0.9v0.9h-0.9zM295.2,95.4h0.9v0.9h-0.9zM294.7,101.5h0.9v0.9h-0.9zM292.3,99.7h0.9v0.9h-0.9zM295.6,95.8h0.9v0.9h-0.9zM287.5,91.0h0.9v0.9h-0.9zM290.3,103.0h0.9v0.9h-0.9zM291.1,99.0h0.9v0.9h-0.9zM286.9,97.6h0.9v0.9h-0.9zM282.0,101.0h0.9v0.9h-0.9zM286.0,90.9h0.9v0.9h-0.9zM284.2,92.3h0.9v0.9h-0.9zM292.2,101.7h0.9v0.9h-0.9zM282.0,100.7h0.9v0.9h-0.9zM292.7,93.5h0.9v0.9h-0.9zM281.5,93.3h0.9v0.9h-0.9zM284.5,98.5h0.9v0.9h-0.9zM286.7,88.7h0.9v0.9h-0.9zM289.1,89.5h0.9v0.9h-0.9zM292.3,90.9h0.9v0.9h-0.9zM284.4,92.1h0.9v0.9h-0.9zM285.5,102.8h0.9v0.9h-0.9zM292.5,99.7h0.9v0.9h-0.9zM289.5,89.5h0.9v0.9h-0.9zM285.1,93.5h0.9v0.9h-0.9zM283.0,99.2h0.9v0.9h-0.9zM284.1,92.8h0.9v0.9h-0.9zM284.3,89.2h0.9v0.9h-0.9zM290.9,102.8h0.9v0.9h-0.9zM289.0,91.3h0.9v0.9h-0.9zM279.7,97.1h0.9v0.9h-0.9zM294.1,98.0h0.9v0.9h-0.9zM292.0,102.9h0.9v0.9h-0.9zM293.8,94.3h0.9v0.9h-0.9zM293.2,100.4h0.9v0.9h-0.9zM281.1,94.7h0.9v0.9h-0.9zM281.3,96.0h0.9v0.9h-0.9zM291.0,91.2h0.9v0.9h-0.9zM281.1,101.0h0.9v0.9h-0.9zM289.8,103.4h0.9v0.9h-0.9zM282.3,101.2h0.9v0.9h-0.9zM294.1,102.4h0.9v0.9h-0.9zM286.8,98.1h0.9v0.9h-0.9zM287.2,101.9h0.9v0.9h-0.9zM293.5,97.0h0.9v0.9h-0.9zM281.8,100.0h0.9v0.9h-0.9zM285.4,100.1h0.9v0.9h-0.9zM289.2,103.8h0.9v0.9h-0.9zM293.8,94.3h0.9v0.9h-0.9zM289.5,104.0h0.9v0.9h-0.9zM285.0,99.0h0.9v0.9h-0.9zM293.2,102.0h0.9v0.9h-0.9zM290.5,90.2h0.9v0.9h-0.9zM281.8,97.8h0.9v0.9h-0.9zM289.3,104.8h0.9v0.9h-0.9zM283.9,102.0h0.9v0.9h-0.9zM291.3,89.6h0.9v0.9h-0.9zM283.5,97.5h0.9v0.9h-0.9zM285.2,95.7h0.9v0.9h-0.9zM290.6,92.2h0.9v0.9h-0.9zM290.6,93.0h0.9v0.9h-0.9zM285.0,99.6h0.9v0.9h-0.9zM284.8,98.2h0.9v0.9h-0.9zM295.3,96.7h0.9v0.9h-0.9zM287.2,100.7h0.9v0.9h-0.9zM286.2,102.1h0.9v0.9h-0.9zM281.9,99.5h0.9v0.9h-0.9zM285.3,92.2h0.9v0.9h-0.9zM295.1,93.1h0.9v0.9h-0.9zM295.3,99.3h0.9v0.9h-0.9zM294.3,92.4h0.9v0.9h-0.9zM293.0,102.5h0.9v0.9h-0.9zM287.4,95.8h0.9v0.9h-0.9zM296.3,97.1h0.9v0.9h-0.9zM285.7,93.0h0.9v0.9h-0.9zM290.6,98.5h0.9v0.9h-0.9zM288.8,104.0h0.9v0.9h-0.9zM286.2,99.3h0.9v0.9h-0.9zM294.3,92.3h0.9v0.9h-0.9zM292.0,103.5h0.9v0.9h-0.9zM282.2,91.8h0.9v0.9h-0.9zM284.1,89.5h0.9v0.9h-0.9zM289.9,89.0h0.9v0.9h-0.9zM290.3,103.2h0.9v0.9h-0.9zM280.9,95.1h0.9v0.9h-0.9zM280.7,99.6h0.9v0.9h-0.9zM283.9,95.1h0.9v0.9h-0.9zM288.4,99.7h0.9v0.9h-0.9zM286.0,96.6h0.9v0.9h-0.9zM284.9,97.2h0.9v0.9h-0.9zM282.1,96.9h0.9v0.9h-0.9zM280.4,94.6h0.9v0.9h-0.9zM295.8,96.9h0.9v0.9h-0.9zM281.8,97.8h0.9v0.9h-0.9zM284.1,89.8h0.9v0.9h-0.9zM284.2,100.4h0.9v0.9h-0.9zM290.3,96.0h0.9v0.9h-0.9zM283.6,91.4h0.9v0.9h-0.9zM294.6,97.7h0.9v0.9h-0.9zM284.7,89.1h0.9v0.9h-0.9zM284.0,103.9h0.9v0.9h-0.9zM282.1,96.2h0.9v0.9h-0.9zM289.3,95.6h0.9v0.9h-0.9zM286.7,90.0h0.9v0.9h-0.9zM283.9,103.2h0.9v0.9h-0.9zM284.1,100.9h0.9v0.9h-0.9zM280.7,95.4h0.9v0.9h-0.9zM289.4,102.0h0.9v0.9h-0.9zM282.5,99.5h0.9v0.9h-0.9zM290.2,92.5h0.9v0.9h-0.9zM290.6,91.8h0.9v0.9h-0.9zM283.6,96.4h0.9v0.9h-0.9zM279.7,96.2h0.9v0.9h-0.9zM283.8,90.3h0.9v0.9h-0.9zM285.7,100.7h0.9v0.9h-0.9zM286.1,102.8h0.9v0.9h-0.9zM283.1,90.9h0.9v0.9h-0.9zM295.0,98.3h0.9v0.9h-0.9zM292.8,92.4h0.9v0.9h-0.9zM292.5,98.0h0.9v0.9h-0.9zM291.8,96.7h0.9v0.9h-0.9zM293.9,93.4h0.9v0.9h-0.9zM283.9,90.2h0.9v0.9h-0.9z" fill="#58bcc6" opacity="0.68"/>
<path d="M296.0,77.6h0.9v0.9h-0.9zM292.3,77.2h0.9v0.9h-0.9zM293.3,76.5h0.9v0.9h-0.9zM293.5,77.6h0.9v0.9h-0.9zM293.0,77.0h0.9v0.9h-0.9zM294.1,77.9h0.9v0.9h-0.9zM294.3,79.7h0.9v0.9h-0.9zM294.5,75.7h0.9v0.9h-0.9zM293.0,77.3h0.9v0.9h-0.9zM295.2,76.3h0.9v0.9h-0.9zM292.6,78.4h0.9v0.9h-0.9zM293.4,81.2h0.9v0.9h-0.9zM293.2,81.1h0.9v0.9h-0.9zM292.2,76.4h0.9v0.9h-0.9zM296.2,79.9h0.9v0.9h-0.9zM295.1,79.3h0.9v0.9h-0.9zM294.9,76.6h0.9v0.9h-0.9zM295.8,77.9h0.9v0.9h-0.9zM295.9,79.2h0.9v0.9h-0.9zM291.6,77.2h0.9v0.9h-0.9zM296.1,78.8h0.9v0.9h-0.9zM293.2,79.6h0.9v0.9h-0.9zM293.2,77.8h0.9v0.9h-0.9zM294.3,79.4h0.9v0.9h-0.9zM296.5,79.1h0.9v0.9h-0.9zM296.2,81.4h0.9v0.9h-0.9zM296.4,80.8h0.9v0.9h-0.9zM294.3,79.4h0.9v0.9h-0.9zM293.8,77.4h0.9v0.9h-0.9zM293.9,77.5h0.9v0.9h-0.9zM296.6,80.0h0.9v0.9h-0.9zM293.4,75.9h0.9v0.9h-0.9zM293.9,78.0h0.9v0.9h-0.9zM292.3,76.9h0.9v0.9h-0.9zM291.2,79.9h0.9v0.9h-0.9zM294.0,82.5h0.9v0.9h-0.9zM294.0,78.7h0.9v0.9h-0.9zM296.5,79.3h0.9v0.9h-0.9zM294.4,78.1h0.9v0.9h-0.9zM293.1,81.8h0.9v0.9h-0.9z" fill="#58bcc6" opacity="0.68"/>
<path d="M273.9,97.7h0.9v0.9h-0.9zM269.5,92.1h0.9v0.9h-0.9zM267.9,96.0h0.9v0.9h-0.9zM266.3,94.2h0.9v0.9h-0.9zM274.4,97.0h0.9v0.9h-0.9zM267.8,96.3h0.9v0.9h-0.9zM268.3,88.6h0.9v0.9h-0.9zM266.9,96.1h0.9v0.9h-0.9zM276.2,89.8h0.9v0.9h-0.9zM268.0,90.4h0.9v0.9h-0.9zM276.7,94.6h0.9v0.9h-0.9zM269.4,85.7h0.9v0.9h-0.9zM268.7,96.8h0.9v0.9h-0.9zM276.6,91.0h0.9v0.9h-0.9zM268.3,89.6h0.9v0.9h-0.9zM265.8,94.9h0.9v0.9h-0.9zM267.4,96.1h0.9v0.9h-0.9zM266.3,87.9h0.9v0.9h-0.9zM272.2,88.4h0.9v0.9h-0.9zM274.2,92.0h0.9v0.9h-0.9zM266.9,94.5h0.9v0.9h-0.9zM273.4,85.7h0.9v0.9h-0.9zM276.5,93.7h0.9v0.9h-0.9zM273.2,85.7h0.9v0.9h-0.9zM268.1,90.3h0.9v0.9h-0.9zM274.4,86.7h0.9v0.9h-0.9zM268.7,85.6h0.9v0.9h-0.9zM270.0,93.7h0.9v0.9h-0.9zM265.8,89.8h0.9v0.9h-0.9zM272.7,97.9h0.9v0.9h-0.9zM273.8,90.5h0.9v0.9h-0.9zM267.1,88.3h0.9v0.9h-0.9zM268.3,92.7h0.9v0.9h-0.9zM270.9,98.2h0.9v0.9h-0.9zM272.1,87.2h0.9v0.9h-0.9zM275.8,95.3h0.9v0.9h-0.9zM271.5,88.5h0.9v0.9h-0.9zM265.9,88.7h0.9v0.9h-0.9zM274.4,88.5h0.9v0.9h-0.9zM266.3,92.8h0.9v0.9h-0.9zM272.1,94.9h0.9v0.9h-0.9zM273.2,97.4h0.9v0.9h-0.9zM268.0,96.1h0.9v0.9h-0.9zM267.4,94.9h0.9v0.9h-0.9zM271.8,93.2h0.9v0.9h-0.9zM274.8,91.9h0.9v0.9h-0.9zM274.9,95.5h0.9v0.9h-0.9zM271.6,89.2h0.9v0.9h-0.9zM268.1,89.5h0.9v0.9h-0.9zM270.2,91.8h0.9v0.9h-0.9zM277.1,93.5h0.9v0.9h-0.9zM273.9,88.2h0.9v0.9h-0.9zM268.2,90.4h0.9v0.9h-0.9zM271.8,87.3h0.9v0.9h-0.9zM276.2,89.9h0.9v0.9h-0.9zM273.6,85.5h0.9v0.9h-0.9zM271.0,93.4h0.9v0.9h-0.9zM271.8,94.9h0.9v0.9h-0.9zM272.3,92.8h0.9v0.9h-0.9zM265.6,89.6h0.9v0.9h-0.9zM265.2,93.8h0.9v0.9h-0.9zM272.4,91.0h0.9v0.9h-0.9zM267.9,89.3h0.9v0.9h-0.9zM275.5,96.8h0.9v0.9h-0.9zM270.8,97.4h0.9v0.9h-0.9zM267.2,86.5h0.9v0.9h-0.9zM269.2,88.0h0.9v0.9h-0.9zM268.7,92.9h0.9v0.9h-0.9zM277.1,90.4h0.9v0.9h-0.9zM271.3,93.3h0.9v0.9h-0.9zM270.9,96.2h0.9v0.9h-0.9zM275.9,88.0h0.9v0.9h-0.9zM271.8,90.6h0.9v0.9h-0.9zM272.2,86.0h0.9v0.9h-0.9zM267.3,86.3h0.9v0.9h-0.9zM273.3,92.9h0.9v0.9h-0.9zM271.2,85.0h0.9v0.9h-0.9zM269.5,88.4h0.9v0.9h-0.9zM266.5,88.5h0.9v0.9h-0.9zM273.8,94.5h0.9v0.9h-0.9zM271.0,94.5h0.9v0.9h-0.9zM268.5,92.3h0.9v0.9h-0.9zM271.2,94.7h0.9v0.9h-0.9zM270.7,91.2h0.9v0.9h-0.9zM270.5,88.8h0.9v0.9h-0.9zM276.9,93.5h0.9v0.9h-0.9zM272.2,98.8h0.9v0.9h-0.9zM275.0,86.9h0.9v0.9h-0.9zM273.7,95.7h0.9v0.9h-0.9zM275.9,95.9h0.9v0.9h-0.9zM273.7,87.2h0.9v0.9h-0.9zM267.6,93.2h0.9v0.9h-0.9zM272.9,87.5h0.9v0.9h-0.9zM269.4,90.0h0.9v0.9h-0.9zM271.3,93.6h0.9v0.9h-0.9zM270.0,86.7h0.9v0.9h-0.9zM274.6,97.3h0.9v0.9h-0.9zM270.6,96.5h0.9v0.9h-0.9zM272.9,95.1h0.9v0.9h-0.9zM273.0,88.4h0.9v0.9h-0.9zM273.2,96.3h0.9v0.9h-0.9zM268.6,98.2h0.9v0.9h-0.9zM275.7,96.6h0.9v0.9h-0.9zM276.5,94.3h0.9v0.9h-0.9zM269.7,89.1h0.9v0.9h-0.9zM267.8,92.5h0.9v0.9h-0.9zM270.9,95.2h0.9v0.9h-0.9zM267.0,97.3h0.9v0.9h-0.9zM277.0,91.9h0.9v0.9h-0.9zM273.8,94.2h0.9v0.9h-0.9zM272.2,90.9h0.9v0.9h-0.9zM270.6,88.1h0.9v0.9h-0.9zM271.8,91.8h0.9v0.9h-0.9zM272.3,88.0h0.9v0.9h-0.9zM271.2,92.2h0.9v0.9h-0.9zM273.3,87.4h0.9v0.9h-0.9zM272.7,96.3h0.9v0.9h-0.9zM273.5,90.2h0.9v0.9h-0.9zM269.0,90.8h0.9v0.9h-0.9zM273.4,97.7h0.9v0.9h-0.9zM270.4,88.8h0.9v0.9h-0.9zM272.7,93.0h0.9v0.9h-0.9zM267.7,88.8h0.9v0.9h-0.9zM270.6,95.2h0.9v0.9h-0.9zM267.1,88.0h0.9v0.9h-0.9zM272.8,86.9h0.9v0.9h-0.9zM271.5,93.7h0.9v0.9h-0.9zM270.6,87.4h0.9v0.9h-0.9zM270.8,90.3h0.9v0.9h-0.9zM272.4,88.1h0.9v0.9h-0.9zM274.2,86.3h0.9v0.9h-0.9zM270.3,92.0h0.9v0.9h-0.9zM274.7,89.3h0.9v0.9h-0.9zM273.3,89.3h0.9v0.9h-0.9zM273.3,98.0h0.9v0.9h-0.9zM269.4,94.1h0.9v0.9h-0.9zM267.8,96.0h0.9v0.9h-0.9zM275.5,92.1h0.9v0.9h-0.9zM266.9,93.7h0.9v0.9h-0.9zM274.9,96.1h0.9v0.9h-0.9zM273.4,85.8h0.9v0.9h-0.9zM268.8,97.4h0.9v0.9h-0.9zM267.1,96.2h0.9v0.9h-0.9zM276.4,94.5h0.9v0.9h-0.9zM275.2,90.5h0.9v0.9h-0.9zM266.5,91.5h0.9v0.9h-0.9zM270.2,91.7h0.9v0.9h-0.9zM273.9,91.3h0.9v0.9h-0.9zM271.9,94.1h0.9v0.9h-0.9zM271.0,98.5h0.9v0.9h-0.9zM272.9,92.4h0.9v0.9h-0.9zM270.2,88.9h0.9v0.9h-0.9zM275.8,92.6h0.9v0.9h-0.9zM267.1,89.5h0.9v0.9h-0.9zM270.5,89.7h0.9v0.9h-0.9zM274.6,87.5h0.9v0.9h-0.9zM273.1,92.7h0.9v0.9h-0.9zM266.7,92.2h0.9v0.9h-0.9zM270.6,94.4h0.9v0.9h-0.9zM269.1,93.4h0.9v0.9h-0.9zM266.2,88.3h0.9v0.9h-0.9zM273.9,96.3h0.9v0.9h-0.9zM271.0,89.0h0.9v0.9h-0.9zM273.8,85.8h0.9v0.9h-0.9zM268.0,95.0h0.9v0.9h-0.9zM273.5,87.5h0.9v0.9h-0.9zM266.3,96.2h0.9v0.9h-0.9zM271.7,87.8h0.9v0.9h-0.9zM271.3,96.1h0.9v0.9h-0.9zM265.4,94.8h0.9v0.9h-0.9zM273.0,85.5h0.9v0.9h-0.9zM273.3,85.9h0.9v0.9h-0.9zM275.3,93.7h0.9v0.9h-0.9zM276.8,90.1h0.9v0.9h-0.9zM271.1,96.6h0.9v0.9h-0.9zM268.5,88.7h0.9v0.9h-0.9zM269.4,91.6h0.9v0.9h-0.9zM267.0,94.0h0.9v0.9h-0.9zM273.3,92.3h0.9v0.9h-0.9zM276.4,90.7h0.9v0.9h-0.9zM275.6,89.7h0.9v0.9h-0.9zM273.2,85.6h0.9v0.9h-0.9zM271.9,91.1h0.9v0.9h-0.9zM269.0,89.1h0.9v0.9h-0.9zM269.6,88.6h0.9v0.9h-0.9zM265.3,90.1h0.9v0.9h-0.9zM268.8,89.5h0.9v0.9h-0.9zM267.0,91.3h0.9v0.9h-0.9zM274.2,90.8h0.9v0.9h-0.9zM269.3,97.4h0.9v0.9h-0.9zM274.5,95.8h0.9v0.9h-0.9zM275.3,90.5h0.9v0.9h-0.9zM270.6,96.8h0.9v0.9h-0.9zM268.7,91.4h0.9v0.9h-0.9zM272.6,93.8h0.9v0.9h-0.9zM270.0,96.4h0.9v0.9h-0.9zM270.3,95.4h0.9v0.9h-0.9zM275.0,94.7h0.9v0.9h-0.9zM273.6,87.2h0.9v0.9h-0.9zM266.5,89.5h0.9v0.9h-0.9z" fill="#86bc7c" opacity="0.68"/>
<path d="M307.0,86.6h0.9v0.9h-0.9zM302.5,82.8h0.9v0.9h-0.9zM303.4,79.1h0.9v0.9h-0.9zM305.0,84.5h0.9v0.9h-0.9zM306.4,86.0h0.9v0.9h-0.9zM303.2,84.8h0.9v0.9h-0.9zM308.6,82.0h0.9v0.9h-0.9zM307.3,79.5h0.9v0.9h-0.9zM302.8,80.3h0.9v0.9h-0.9zM304.8,87.6h0.9v0.9h-0.9zM304.7,86.8h0.9v0.9h-0.9zM306.5,83.1h0.9v0.9h-0.9zM308.0,78.9h0.9v0.9h-0.9zM308.6,83.2h0.9v0.9h-0.9zM302.1,83.6h0.9v0.9h-0.9zM307.6,83.6h0.9v0.9h-0.9zM309.8,80.4h0.9v0.9h-0.9zM307.4,84.6h0.9v0.9h-0.9zM303.5,85.7h0.9v0.9h-0.9zM302.6,78.1h0.9v0.9h-0.9zM307.3,77.9h0.9v0.9h-0.9zM305.6,76.6h0.9v0.9h-0.9zM306.0,77.6h0.9v0.9h-0.9zM306.7,76.8h0.9v0.9h-0.9zM307.3,80.7h0.9v0.9h-0.9zM306.1,81.5h0.9v0.9h-0.9zM306.2,77.2h0.9v0.9h-0.9zM301.2,81.8h0.9v0.9h-0.9zM303.1,80.1h0.9v0.9h-0.9zM306.8,76.3h0.9v0.9h-0.9zM303.6,79.4h0.9v0.9h-0.9zM302.8,82.9h0.9v0.9h-0.9zM305.4,78.5h0.9v0.9h-0.9zM303.1,84.6h0.9v0.9h-0.9zM303.9,84.0h0.9v0.9h-0.9zM306.9,76.4h0.9v0.9h-0.9zM302.7,81.8h0.9v0.9h-0.9zM306.9,84.8h0.9v0.9h-0.9zM308.0,85.3h0.9v0.9h-0.9zM304.6,80.9h0.9v0.9h-0.9zM308.2,80.1h0.9v0.9h-0.9zM308.2,77.2h0.9v0.9h-0.9zM307.9,81.1h0.9v0.9h-0.9zM301.8,84.3h0.9v0.9h-0.9zM306.9,81.8h0.9v0.9h-0.9zM302.8,80.1h0.9v0.9h-0.9zM309.5,79.2h0.9v0.9h-0.9zM301.3,80.3h0.9v0.9h-0.9zM302.5,81.3h0.9v0.9h-0.9zM304.7,78.3h0.9v0.9h-0.9zM303.6,85.4h0.9v0.9h-0.9zM303.1,86.5h0.9v0.9h-0.9zM304.3,77.9h0.9v0.9h-0.9zM308.2,83.9h0.9v0.9h-0.9zM303.0,84.4h0.9v0.9h-0.9zM301.9,79.2h0.9v0.9h-0.9zM309.0,80.8h0.9v0.9h-0.9zM302.4,83.5h0.9v0.9h-0.9zM308.6,81.7h0.9v0.9h-0.9zM301.7,80.7h0.9v0.9h-0.9zM307.1,84.7h0.9v0.9h-0.9zM310.1,81.0h0.9v0.9h-0.9zM304.3,81.6h0.9v0.9h-0.9zM308.9,78.7h0.9v0.9h-0.9zM307.9,76.4h0.9v0.9h-0.9zM308.2,79.2h0.9v0.9h-0.9zM307.3,84.4h0.9v0.9h-0.9zM302.5,81.4h0.9v0.9h-0.9zM306.6,84.1h0.9v0.9h-0.9zM303.4,78.4h0.9v0.9h-0.9zM303.0,86.5h0.9v0.9h-0.9zM305.2,80.8h0.9v0.9h-0.9zM302.3,84.6h0.9v0.9h-0.9zM304.5,86.4h0.9v0.9h-0.9zM308.4,81.8h0.9v0.9h-0.9zM307.8,77.9h0.9v0.9h-0.9zM304.8,79.4h0.9v0.9h-0.9zM302.4,81.8h0.9v0.9h-0.9zM305.5,86.6h0.9v0.9h-0.9zM301.2,80.6h0.9v0.9h-0.9zM303.2,80.0h0.9v0.9h-0.9zM307.2,83.4h0.9v0.9h-0.9zM305.9,79.8h0.9v0.9h-0.9zM307.4,83.2h0.9v0.9h-0.9zM301.6,81.0h0.9v0.9h-0.9zM302.6,78.2h0.9v0.9h-0.9zM306.3,82.0h0.9v0.9h-0.9zM306.2,78.4h0.9v0.9h-0.9zM305.2,78.3h0.9v0.9h-0.9zM307.0,84.5h0.9v0.9h-0.9zM309.5,85.1h0.9v0.9h-0.9zM303.4,80.0h0.9v0.9h-0.9zM303.1,82.9h0.9v0.9h-0.9zM310.0,83.7h0.9v0.9h-0.9zM301.9,78.8h0.9v0.9h-0.9zM302.4,83.5h0.9v0.9h-0.9zM305.9,83.0h0.9v0.9h-0.9zM309.8,79.4h0.9v0.9h-0.9zM304.1,87.0h0.9v0.9h-0.9zM306.9,78.7h0.9v0.9h-0.9zM302.2,78.2h0.9v0.9h-0.9zM301.3,81.9h0.9v0.9h-0.9zM306.0,85.5h0.9v0.9h-0.9zM305.4,79.0h0.9v0.9h-0.9zM304.3,87.0h0.9v0.9h-0.9zM301.7,82.3h0.9v0.9h-0.9zM305.9,84.2h0.9v0.9h-0.9zM304.6,83.8h0.9v0.9h-0.9zM308.3,81.2h0.9v0.9h-0.9zM304.4,81.0h0.9v0.9h-0.9zM303.0,81.0h0.9v0.9h-0.9zM304.9,82.6h0.9v0.9h-0.9zM308.9,85.6h0.9v0.9h-0.9zM304.5,84.1h0.9v0.9h-0.9zM306.8,84.7h0.9v0.9h-0.9zM305.9,82.9h0.9v0.9h-0.9zM304.4,78.7h0.9v0.9h-0.9zM308.1,85.9h0.9v0.9h-0.9zM307.9,83.5h0.9v0.9h-0.9zM306.7,79.9h0.9v0.9h-0.9zM301.8,83.7h0.9v0.9h-0.9zM306.5,79.5h0.9v0.9h-0.9zM303.4,85.8h0.9v0.9h-0.9zM302.6,85.9h0.9v0.9h-0.9zM307.0,87.4h0.9v0.9h-0.9zM303.6,81.7h0.9v0.9h-0.9zM304.2,82.4h0.9v0.9h-0.9zM305.2,78.8h0.9v0.9h-0.9zM308.8,79.0h0.9v0.9h-0.9zM304.3,83.9h0.9v0.9h-0.9zM304.2,80.0h0.9v0.9h-0.9zM307.0,80.2h0.9v0.9h-0.9zM302.4,81.4h0.9v0.9h-0.9zM305.3,87.0h0.9v0.9h-0.9zM303.0,85.0h0.9v0.9h-0.9zM303.5,80.4h0.9v0.9h-0.9zM304.8,82.9h0.9v0.9h-0.9zM307.8,86.7h0.9v0.9h-0.9zM304.2,86.2h0.9v0.9h-0.9zM308.6,84.6h0.9v0.9h-0.9z" fill="#9c7866" opacity="0.68"/>
<circle cx="317.7" cy="81.6" r="2.90" fill="#c9b3a8"/>
<path d="M300.6,102.1h0.9v0.9h-0.9zM303.2,99.8h0.9v0.9h-0.9zM302.5,101.3h0.9v0.9h-0.9zM307.9,102.5h0.9v0.9h-0.9zM302.9,102.7h0.9v0.9h-0.9zM308.9,94.3h0.9v0.9h-0.9zM308.6,93.2h0.9v0.9h-0.9zM306.2,100.9h0.9v0.9h-0.9zM309.4,99.1h0.9v0.9h-0.9zM301.6,94.1h0.9v0.9h-0.9zM298.9,101.2h0.9v0.9h-0.9zM302.7,94.4h0.9v0.9h-0.9zM306.1,94.2h0.9v0.9h-0.9zM301.7,95.6h0.9v0.9h-0.9zM308.8,102.8h0.9v0.9h-0.9zM303.2,91.6h0.9v0.9h-0.9zM305.1,98.3h0.9v0.9h-0.9zM305.4,100.8h0.9v0.9h-0.9zM302.3,102.4h0.9v0.9h-0.9zM307.5,99.0h0.9v0.9h-0.9zM301.8,95.5h0.9v0.9h-0.9zM306.6,93.1h0.9v0.9h-0.9zM303.0,94.2h0.9v0.9h-0.9zM298.4,100.4h0.9v0.9h-0.9zM303.6,98.1h0.9v0.9h-0.9zM306.9,92.2h0.9v0.9h-0.9zM303.4,99.5h0.9v0.9h-0.9zM307.1,93.3h0.9v0.9h-0.9zM307.1,99.1h0.9v0.9h-0.9zM308.5,102.3h0.9v0.9h-0.9zM305.4,105.0h0.9v0.9h-0.9zM303.7,95.7h0.9v0.9h-0.9zM302.3,93.5h0.9v0.9h-0.9zM303.7,91.0h0.9v0.9h-0.9zM303.3,100.2h0.9v0.9h-0.9zM308.1,96.3h0.9v0.9h-0.9zM309.0,95.3h0.9v0.9h-0.9zM303.3,91.0h0.9v0.9h-0.9zM300.5,94.3h0.9v0.9h-0.9zM309.3,100.1h0.9v0.9h-0.9zM299.2,100.3h0.9v0.9h-0.9zM306.0,96.8h0.9v0.9h-0.9zM303.9,96.4h0.9v0.9h-0.9zM301.9,91.4h0.9v0.9h-0.9zM303.4,103.6h0.9v0.9h-0.9zM309.2,96.8h0.9v0.9h-0.9zM300.4,96.9h0.9v0.9h-0.9zM307.6,99.6h0.9v0.9h-0.9zM301.1,99.7h0.9v0.9h-0.9zM302.8,100.6h0.9v0.9h-0.9zM302.2,92.0h0.9v0.9h-0.9zM304.0,101.7h0.9v0.9h-0.9zM299.1,97.5h0.9v0.9h-0.9zM307.6,96.2h0.9v0.9h-0.9zM301.7,104.8h0.9v0.9h-0.9zM307.1,102.4h0.9v0.9h-0.9zM300.6,103.9h0.9v0.9h-0.9zM297.9,96.0h0.9v0.9h-0.9zM306.5,103.4h0.9v0.9h-0.9zM299.9,95.0h0.9v0.9h-0.9zM304.4,91.1h0.9v0.9h-0.9zM306.6,100.6h0.9v0.9h-0.9zM301.7,100.6h0.9v0.9h-0.9zM307.2,99.4h0.9v0.9h-0.9zM305.7,104.0h0.9v0.9h-0.9zM301.5,98.8h0.9v0.9h-0.9zM301.6,102.6h0.9v0.9h-0.9zM301.9,100.3h0.9v0.9h-0.9zM304.4,98.3h0.9v0.9h-0.9zM309.8,97.6h0.9v0.9h-0.9zM308.9,101.2h0.9v0.9h-0.9zM309.0,97.2h0.9v0.9h-0.9zM307.5,101.3h0.9v0.9h-0.9zM301.0,99.3h0.9v0.9h-0.9zM303.1,97.8h0.9v0.9h-0.9zM308.7,95.0h0.9v0.9h-0.9zM299.0,92.7h0.9v0.9h-0.9zM301.7,94.8h0.9v0.9h-0.9zM303.8,100.8h0.9v0.9h-0.9zM309.8,99.1h0.9v0.9h-0.9zM305.8,94.5h0.9v0.9h-0.9zM305.9,103.5h0.9v0.9h-0.9zM307.6,91.9h0.9v0.9h-0.9zM306.8,103.8h0.9v0.9h-0.9zM306.7,92.2h0.9v0.9h-0.9zM302.4,100.8h0.9v0.9h-0.9zM305.6,94.1h0.9v0.9h-0.9zM300.2,102.1h0.9v0.9h-0.9zM299.4,103.0h0.9v0.9h-0.9zM303.8,99.5h0.9v0.9h-0.9zM298.7,95.5h0.9v0.9h-0.9zM306.2,92.2h0.9v0.9h-0.9zM309.4,93.8h0.9v0.9h-0.9zM298.8,98.1h0.9v0.9h-0.9zM305.9,101.4h0.9v0.9h-0.9zM302.0,96.9h0.9v0.9h-0.9zM302.7,95.1h0.9v0.9h-0.9zM297.3,100.6h0.9v0.9h-0.9zM304.9,98.8h0.9v0.9h-0.9zM300.9,99.2h0.9v0.9h-0.9zM303.7,97.6h0.9v0.9h-0.9zM307.2,92.0h0.9v0.9h-0.9zM304.8,93.1h0.9v0.9h-0.9zM302.6,104.0h0.9v0.9h-0.9zM299.2,97.5h0.9v0.9h-0.9zM301.3,102.2h0.9v0.9h-0.9zM300.5,92.0h0.9v0.9h-0.9zM306.1,96.2h0.9v0.9h-0.9zM302.4,102.8h0.9v0.9h-0.9zM299.9,96.2h0.9v0.9h-0.9zM304.4,100.0h0.9v0.9h-0.9zM301.6,102.6h0.9v0.9h-0.9zM310.3,96.7h0.9v0.9h-0.9zM308.3,92.3h0.9v0.9h-0.9zM309.1,96.5h0.9v0.9h-0.9zM304.4,96.2h0.9v0.9h-0.9zM301.3,92.6h0.9v0.9h-0.9zM302.2,103.4h0.9v0.9h-0.9zM308.4,96.4h0.9v0.9h-0.9zM301.4,94.6h0.9v0.9h-0.9zM300.1,103.9h0.9v0.9h-0.9zM306.7,98.5h0.9v0.9h-0.9zM301.7,93.4h0.9v0.9h-0.9zM308.6,101.1h0.9v0.9h-0.9zM300.0,102.1h0.9v0.9h-0.9zM299.3,100.7h0.9v0.9h-0.9zM299.7,96.1h0.9v0.9h-0.9zM306.0,100.1h0.9v0.9h-0.9zM307.7,94.4h0.9v0.9h-0.9zM308.7,102.5h0.9v0.9h-0.9zM303.7,100.3h0.9v0.9h-0.9zM300.3,97.2h0.9v0.9h-0.9zM298.6,98.3h0.9v0.9h-0.9zM304.5,103.6h0.9v0.9h-0.9zM307.6,101.5h0.9v0.9h-0.9zM302.1,96.8h0.9v0.9h-0.9zM302.2,99.1h0.9v0.9h-0.9zM297.7,100.6h0.9v0.9h-0.9zM298.1,95.9h0.9v0.9h-0.9zM303.9,95.4h0.9v0.9h-0.9zM309.7,97.6h0.9v0.9h-0.9zM308.9,102.1h0.9v0.9h-0.9zM301.5,99.9h0.9v0.9h-0.9zM308.8,96.5h0.9v0.9h-0.9zM304.2,95.2h0.9v0.9h-0.9zM304.0,96.2h0.9v0.9h-0.9zM304.1,102.6h0.9v0.9h-0.9zM309.1,98.5h0.9v0.9h-0.9zM304.6,102.0h0.9v0.9h-0.9zM302.5,93.2h0.9v0.9h-0.9zM308.0,94.1h0.9v0.9h-0.9zM307.4,93.8h0.9v0.9h-0.9zM309.4,94.4h0.9v0.9h-0.9zM306.7,103.7h0.9v0.9h-0.9zM300.4,103.5h0.9v0.9h-0.9zM301.1,91.7h0.9v0.9h-0.9zM306.8,101.2h0.9v0.9h-0.9zM303.2,90.6h0.9v0.9h-0.9zM303.5,96.4h0.9v0.9h-0.9zM302.0,96.5h0.9v0.9h-0.9zM297.8,95.9h0.9v0.9h-0.9zM308.9,102.7h0.9v0.9h-0.9zM302.2,94.5h0.9v0.9h-0.9zM305.4,102.7h0.9v0.9h-0.9zM306.6,93.0h0.9v0.9h-0.9zM304.5,98.7h0.9v0.9h-0.9zM308.6,102.3h0.9v0.9h-0.9zM305.8,103.1h0.9v0.9h-0.9zM302.3,104.1h0.9v0.9h-0.9zM301.8,99.9h0.9v0.9h-0.9zM307.4,94.0h0.9v0.9h-0.9zM301.4,91.6h0.9v0.9h-0.9zM304.5,97.7h0.9v0.9h-0.9zM302.3,100.4h0.9v0.9h-0.9zM297.2,97.9h0.9v0.9h-0.9zM304.2,96.6h0.9v0.9h-0.9zM306.4,104.2h0.9v0.9h-0.9zM301.9,93.6h0.9v0.9h-0.9zM301.0,98.4h0.9v0.9h-0.9zM306.2,94.0h0.9v0.9h-0.9zM307.6,93.7h0.9v0.9h-0.9zM307.3,100.0h0.9v0.9h-0.9zM305.1,105.0h0.9v0.9h-0.9zM302.5,97.1h0.9v0.9h-0.9zM305.8,101.9h0.9v0.9h-0.9zM298.5,99.1h0.9v0.9h-0.9zM300.6,100.9h0.9v0.9h-0.9zM309.1,98.2h0.9v0.9h-0.9zM303.2,98.9h0.9v0.9h-0.9zM297.0,99.9h0.9v0.9h-0.9zM306.3,98.8h0.9v0.9h-0.9zM302.0,94.5h0.9v0.9h-0.9zM303.0,103.3h0.9v0.9h-0.9zM303.4,103.7h0.9v0.9h-0.9zM297.0,96.6h0.9v0.9h-0.9zM305.0,97.9h0.9v0.9h-0.9zM298.0,95.5h0.9v0.9h-0.9zM308.0,93.1h0.9v0.9h-0.9zM300.0,93.5h0.9v0.9h-0.9zM301.3,101.0h0.9v0.9h-0.9z" fill="#6a84c4" opacity="0.68"/>
<path d="M279.5,107.0h0.9v0.9h-0.9zM282.4,109.9h0.9v0.9h-0.9zM276.3,115.6h0.9v0.9h-0.9zM277.7,107.9h0.9v0.9h-0.9zM275.7,109.2h0.9v0.9h-0.9zM274.4,110.5h0.9v0.9h-0.9zM281.1,112.5h0.9v0.9h-0.9zM275.4,115.9h0.9v0.9h-0.9zM274.5,111.8h0.9v0.9h-0.9zM278.1,113.9h0.9v0.9h-0.9zM276.7,112.9h0.9v0.9h-0.9zM283.4,111.7h0.9v0.9h-0.9zM274.2,112.4h0.9v0.9h-0.9zM275.1,110.3h0.9v0.9h-0.9zM278.7,112.6h0.9v0.9h-0.9zM276.9,114.1h0.9v0.9h-0.9zM277.3,107.8h0.9v0.9h-0.9zM281.1,110.3h0.9v0.9h-0.9zM281.8,109.6h0.9v0.9h-0.9zM280.1,112.5h0.9v0.9h-0.9zM272.9,109.0h0.9v0.9h-0.9zM274.8,114.9h0.9v0.9h-0.9zM273.1,113.5h0.9v0.9h-0.9zM281.6,112.9h0.9v0.9h-0.9zM280.4,109.9h0.9v0.9h-0.9zM277.9,112.2h0.9v0.9h-0.9zM279.5,113.7h0.9v0.9h-0.9zM277.2,109.2h0.9v0.9h-0.9zM275.9,112.8h0.9v0.9h-0.9zM273.6,108.6h0.9v0.9h-0.9zM276.4,109.7h0.9v0.9h-0.9zM277.4,106.6h0.9v0.9h-0.9zM276.6,110.6h0.9v0.9h-0.9zM279.9,107.1h0.9v0.9h-0.9zM276.8,113.0h0.9v0.9h-0.9zM279.6,114.8h0.9v0.9h-0.9zM281.2,108.6h0.9v0.9h-0.9zM280.3,110.4h0.9v0.9h-0.9zM275.6,115.3h0.9v0.9h-0.9zM275.8,108.9h0.9v0.9h-0.9zM276.5,108.8h0.9v0.9h-0.9zM281.4,112.6h0.9v0.9h-0.9zM282.4,112.6h0.9v0.9h-0.9zM275.9,114.5h0.9v0.9h-0.9zM275.5,110.0h0.9v0.9h-0.9zM277.3,111.6h0.9v0.9h-0.9zM281.8,109.8h0.9v0.9h-0.9zM279.3,111.4h0.9v0.9h-0.9zM274.2,108.7h0.9v0.9h-0.9zM277.1,112.8h0.9v0.9h-0.9zM279.2,113.0h0.9v0.9h-0.9zM278.1,110.0h0.9v0.9h-0.9zM279.4,108.5h0.9v0.9h-0.9zM273.6,110.5h0.9v0.9h-0.9zM273.5,110.1h0.9v0.9h-0.9zM275.3,109.7h0.9v0.9h-0.9zM277.8,108.9h0.9v0.9h-0.9zM276.7,107.2h0.9v0.9h-0.9zM278.5,108.7h0.9v0.9h-0.9zM278.8,106.6h0.9v0.9h-0.9zM275.0,112.2h0.9v0.9h-0.9zM272.4,110.7h0.9v0.9h-0.9zM278.3,111.8h0.9v0.9h-0.9zM273.3,112.1h0.9v0.9h-0.9zM278.5,108.5h0.9v0.9h-0.9zM280.7,111.3h0.9v0.9h-0.9zM278.0,110.0h0.9v0.9h-0.9zM280.0,111.8h0.9v0.9h-0.9zM281.8,112.8h0.9v0.9h-0.9zM275.6,110.7h0.9v0.9h-0.9zM281.2,110.3h0.9v0.9h-0.9zM279.4,113.1h0.9v0.9h-0.9zM277.5,106.7h0.9v0.9h-0.9zM278.5,112.2h0.9v0.9h-0.9zM278.5,109.0h0.9v0.9h-0.9zM282.0,111.1h0.9v0.9h-0.9zM275.7,109.2h0.9v0.9h-0.9zM279.2,108.2h0.9v0.9h-0.9zM275.5,115.7h0.9v0.9h-0.9zM281.8,114.1h0.9v0.9h-0.9zM282.2,113.1h0.9v0.9h-0.9zM273.6,114.1h0.9v0.9h-0.9zM282.0,112.8h0.9v0.9h-0.9zM273.3,114.0h0.9v0.9h-0.9zM282.3,110.1h0.9v0.9h-0.9zM278.4,113.9h0.9v0.9h-0.9zM277.7,114.7h0.9v0.9h-0.9zM278.3,113.7h0.9v0.9h-0.9zM278.2,107.4h0.9v0.9h-0.9zM276.2,116.2h0.9v0.9h-0.9zM278.9,115.1h0.9v0.9h-0.9zM280.9,115.3h0.9v0.9h-0.9zM280.0,109.6h0.9v0.9h-0.9zM278.0,106.9h0.9v0.9h-0.9zM277.3,114.3h0.9v0.9h-0.9zM272.5,111.9h0.9v0.9h-0.9zM280.5,115.0h0.9v0.9h-0.9zM274.8,109.5h0.9v0.9h-0.9zM273.2,109.2h0.9v0.9h-0.9zM279.3,116.0h0.9v0.9h-0.9zM274.7,114.8h0.9v0.9h-0.9zM279.6,109.8h0.9v0.9h-0.9zM281.7,107.7h0.9v0.9h-0.9zM277.7,112.2h0.9v0.9h-0.9zM282.3,114.6h0.9v0.9h-0.9zM283.5,111.7h0.9v0.9h-0.9zM280.9,114.9h0.9v0.9h-0.9zM279.9,112.6h0.9v0.9h-0.9zM277.2,110.1h0.9v0.9h-0.9zM275.0,115.5h0.9v0.9h-0.9zM276.8,106.9h0.9v0.9h-0.9zM279.0,111.3h0.9v0.9h-0.9zM278.4,115.9h0.9v0.9h-0.9zM277.5,110.5h0.9v0.9h-0.9zM275.2,111.4h0.9v0.9h-0.9zM276.2,112.1h0.9v0.9h-0.9zM283.7,112.1h0.9v0.9h-0.9zM275.7,115.7h0.9v0.9h-0.9zM280.9,113.8h0.9v0.9h-0.9zM280.4,113.9h0.9v0.9h-0.9zM280.0,115.2h0.9v0.9h-0.9zM280.9,114.9h0.9v0.9h-0.9zM276.0,111.4h0.9v0.9h-0.9zM275.5,114.3h0.9v0.9h-0.9zM280.9,110.0h0.9v0.9h-0.9zM279.2,116.3h0.9v0.9h-0.9zM281.6,108.6h0.9v0.9h-0.9zM277.6,113.5h0.9v0.9h-0.9zM277.8,112.8h0.9v0.9h-0.9zM281.9,112.4h0.9v0.9h-0.9z" fill="#b88cb8" opacity="0.68"/>
<g stroke="#f4a0b0" stroke-width="0.55" fill="none" opacity="0.85" stroke-linecap="round" stroke-linejoin="round">
<polyline points="271.9,63.4 270.8,59 270.2,55.4"/>
<polyline points="270.6,57.5 268.8,56.5"/>
<polyline points="271.9,63.4 269.5,66.5 267.4,69"/>
<polyline points="269.5,66.5 266.5,66"/>
<polyline points="271.9,63.4 276.5,64.5 281,66.8"/>
<polyline points="279,65.8 280.5,63.8"/>
<polyline points="272.5,64 276.5,67.5 279.9,70.2"/>
</g>
<circle cx="271.9" cy="63.4" r="1.20" fill="#f090a4"/>
<g stroke="#f4c860" stroke-width="0.55" fill="none" opacity="0.85" stroke-linecap="round" stroke-linejoin="round">
<polyline points="311.2,65.7 310.2,63 309.5,60.5"/>
<polyline points="310,62 311.8,60"/>
<polyline points="311.2,65.7 306.5,66.2 302.7,66.8"/>
<polyline points="311.2,65.7 314.5,68.2 317.5,70.8"/>
<polyline points="313.5,67.5 316,66"/>
</g>
<circle cx="311.2" cy="65.7" r="1.10" fill="#f0b840"/>
<g stroke="#c098c0" stroke-width="0.5" fill="none" opacity="0.85" stroke-linecap="round" stroke-linejoin="round">
<polyline points="262.8,114.1 258.5,111.5 256.5,110.5"/>
<polyline points="262.8,114.1 262.4,109.5 261.5,107.5"/>
<polyline points="262.8,114.1 266.5,110.8 268.5,110.2"/>
<polyline points="262.8,114.1 268,115.5 269.5,117"/>
<polyline points="262.8,114.1 260,118 257.5,119.5"/>
<polyline points="262.8,114.1 263.5,118.5 263,120.5"/>
<polyline points="258.5,111.5 257.5,113.5"/>
<polyline points="266.5,110.8 267,108.8"/>
</g>
<circle cx="262.8" cy="114.1" r="1.20" fill="#a870a8"/>
<g stroke="#9cdcdc" stroke-width="0.55" fill="none" opacity="0.85" stroke-linecap="round" stroke-linejoin="round">
<polyline points="297.5,115.2 296.5,111 295.8,107.2"/>
<polyline points="297.5,115.2 294.8,118 292.4,120.3"/>
<polyline points="294.8,118 292,117.5"/>
<polyline points="297.5,115.2 302,117.5 306.1,120.3"/>
<polyline points="302,117.5 304,116"/>
<polyline points="297.5,115.2 297.8,119.5 297,122"/>
</g>
<circle cx="297.5" cy="115.2" r="1.10" fill="#80d0d0"/>
<line x1="317.6" y1="98.0" x2="317.6" y2="116.4" stroke="#8aa4d4" stroke-width="0.6"/>
<line x1="316.3" y1="98.0" x2="318.9" y2="98.0" stroke="#8aa4d4" stroke-width="0.5"/>
<line x1="316.3" y1="116.4" x2="318.9" y2="116.4" stroke="#8aa4d4" stroke-width="0.5"/>
<ellipse cx="317.6" cy="110.7" rx="1.1" ry="1.5" fill="#6080c0"/>
<path d="M254.3,99.3 Q257,93 261.7,85 Q259.5,92 254.3,99.3 Z" fill="#a0d098" stroke="#a0d098" stroke-width="0.5" opacity="0.85"/>
<text x="180.2" y="162.6" font-size="8.5" text-anchor="start" fill="#111" stroke="#111" stroke-width="0.2">Single-cell transcriptomics</text>
<defs><pattern id="spk" x="0" y="0" width="40" height="40" patternUnits="userSpaceOnUse"><path d="M18.1,22.4h1.0v1.0h-1.0zM18.1,34.2h0.8v0.8h-0.8zM7.4,20.5h1.1v1.1h-1.1zM31.7,3.8h0.9v0.9h-0.9zM5.7,21.5h0.7v0.7h-0.7zM23.8,15.8h1.0v1.0h-1.0zM26.2,24.6h0.8v0.8h-0.8zM24.9,33.3h0.7v0.7h-0.7zM2.4,7.6h0.8v0.8h-0.8zM24.0,31.1h0.9v0.9h-0.9zM17.6,33.7h1.1v1.1h-1.1zM9.3,11.8h0.7v0.7h-0.7zM26.5,18.3h0.9v0.9h-0.9zM16.3,22.1h0.7v0.7h-0.7zM28.3,12.6h0.8v0.8h-0.8zM20.5,1.2h1.1v1.1h-1.1zM30.7,16.0h0.9v0.9h-0.9zM15.5,38.3h0.7v0.7h-0.7zM8.5,37.1h0.7v0.7h-0.7zM18.8,39.2h1.0v1.0h-1.0zM16.8,22.6h0.8v0.8h-0.8zM31.1,10.8h0.7v0.7h-0.7zM12.4,0.6h1.0v1.0h-1.0zM30.3,4.7h0.8v0.8h-0.8zM28.3,0.4h1.0v1.0h-1.0zM31.9,7.1h1.1v1.1h-1.1zM7.5,20.4h0.8v0.8h-0.8zM16.8,15.4h1.0v1.0h-1.0zM16.8,8.5h0.9v0.9h-0.9zM34.6,39.0h1.1v1.1h-1.1zM12.2,35.4h0.8v0.8h-0.8zM7.5,39.8h1.1v1.1h-1.1zM25.7,4.0h0.8v0.8h-0.8zM8.5,10.3h1.1v1.1h-1.1zM13.2,11.9h0.7v0.7h-0.7zM3.0,8.3h0.8v0.8h-0.8zM0.6,14.7h1.1v1.1h-1.1zM18.1,38.4h1.0v1.0h-1.0zM33.3,5.4h1.0v1.0h-1.0zM7.3,6.2h0.8v0.8h-0.8zM32.7,10.0h0.8v0.8h-0.8zM6.3,25.2h1.1v1.1h-1.1zM7.9,38.0h1.0v1.0h-1.0zM24.1,16.9h0.7v0.7h-0.7zM4.4,20.5h0.9v0.9h-0.9zM9.5,28.2h0.9v0.9h-0.9zM16.8,36.2h1.0v1.0h-1.0zM11.7,7.0h0.7v0.7h-0.7zM5.1,19.2h1.1v1.1h-1.1zM24.6,11.2h0.8v0.8h-0.8zM30.0,2.8h1.0v1.0h-1.0zM17.8,2.4h0.8v0.8h-0.8zM11.3,21.2h0.8v0.8h-0.8zM3.7,5.5h1.0v1.0h-1.0zM39.2,26.3h1.1v1.1h-1.1zM23.4,5.6h0.7v0.7h-0.7zM36.9,19.0h0.9v0.9h-0.9zM28.0,38.5h0.7v0.7h-0.7zM23.9,3.0h0.7v0.7h-0.7zM29.2,12.8h0.7v0.7h-0.7zM3.0,21.8h0.7v0.7h-0.7zM36.0,29.5h0.8v0.8h-0.8zM31.7,36.6h0.9v0.9h-0.9zM3.4,18.9h0.7v0.7h-0.7zM34.8,16.7h0.7v0.7h-0.7zM34.5,22.9h1.1v1.1h-1.1zM26.5,15.2h0.7v0.7h-0.7zM24.4,3.2h0.7v0.7h-0.7zM39.7,35.2h0.9v0.9h-0.9zM15.5,29.4h1.1v1.1h-1.1zM18.3,18.5h1.1v1.1h-1.1zM3.4,30.0h0.7v0.7h-0.7zM12.4,3.5h0.7v0.7h-0.7zM9.2,27.9h1.0v1.0h-1.0zM31.2,26.4h1.0v1.0h-1.0zM10.2,0.5h0.9v0.9h-0.9zM5.7,24.5h1.1v1.1h-1.1zM6.8,36.2h1.0v1.0h-1.0zM19.9,9.7h1.0v1.0h-1.0zM26.6,7.9h1.0v1.0h-1.0zM32.1,30.2h0.8v0.8h-0.8zM35.2,15.4h1.1v1.1h-1.1zM36.8,8.4h0.8v0.8h-0.8zM19.9,33.5h0.7v0.7h-0.7zM28.4,38.0h0.9v0.9h-0.9zM32.9,4.5h1.0v1.0h-1.0zM11.0,8.6h1.0v1.0h-1.0zM15.3,20.8h0.9v0.9h-0.9zM28.7,33.7h1.1v1.1h-1.1zM18.1,3.0h0.7v0.7h-0.7zM11.1,24.3h0.9v0.9h-0.9zM22.8,12.4h1.1v1.1h-1.1zM0.8,5.4h1.0v1.0h-1.0zM7.6,30.8h0.9v0.9h-0.9zM9.5,5.6h0.7v0.7h-0.7zM39.4,4.6h0.7v0.7h-0.7zM25.2,26.2h0.9v0.9h-0.9zM38.3,27.4h0.8v0.8h-0.8zM33.0,10.2h0.7v0.7h-0.7zM30.2,21.4h0.7v0.7h-0.7zM7.2,10.9h0.9v0.9h-0.9zM21.6,37.9h1.1v1.1h-1.1zM24.6,30.2h1.0v1.0h-1.0zM34.0,28.0h0.8v0.8h-0.8zM3.5,37.3h1.0v1.0h-1.0zM5.2,18.1h0.7v0.7h-0.7zM15.1,22.8h1.1v1.1h-1.1zM31.9,37.8h1.0v1.0h-1.0zM13.1,39.3h0.7v0.7h-0.7zM28.9,32.7h0.7v0.7h-0.7zM8.5,36.0h0.7v0.7h-0.7zM39.1,21.5h0.9v0.9h-0.9zM10.5,28.7h0.7v0.7h-0.7zM13.9,3.3h1.0v1.0h-1.0zM13.7,16.9h0.9v0.9h-0.9zM19.5,1.1h0.7v0.7h-0.7zM17.2,1.4h1.1v1.1h-1.1zM13.4,31.5h0.8v0.8h-0.8zM18.8,40.0h1.1v1.1h-1.1zM33.6,27.6h1.0v1.0h-1.0zM23.2,27.6h0.8v0.8h-0.8zM17.6,22.4h1.1v1.1h-1.1zM25.6,20.9h1.1v1.1h-1.1zM10.3,26.9h1.1v1.1h-1.1zM8.3,34.0h1.1v1.1h-1.1zM21.0,22.9h0.8v0.8h-0.8zM16.4,4.6h0.7v0.7h-0.7zM24.2,1.1h0.7v0.7h-0.7zM20.6,16.0h1.1v1.1h-1.1zM4.9,3.7h0.8v0.8h-0.8zM2.6,21.5h1.0v1.0h-1.0zM36.8,32.0h1.0v1.0h-1.0zM10.8,18.9h0.8v0.8h-0.8zM13.6,36.0h1.0v1.0h-1.0zM21.0,4.3h1.0v1.0h-1.0zM24.7,37.0h0.8v0.8h-0.8zM28.1,39.1h0.7v0.7h-0.7zM7.8,9.1h0.9v0.9h-0.9zM12.9,14.2h1.1v1.1h-1.1zM20.0,20.0h1.1v1.1h-1.1zM4.9,20.4h0.9v0.9h-0.9zM28.7,28.1h1.0v1.0h-1.0zM0.9,25.3h1.1v1.1h-1.1zM24.6,21.5h1.1v1.1h-1.1zM25.5,21.2h1.1v1.1h-1.1zM24.5,34.3h0.8v0.8h-0.8zM36.6,25.1h0.9v0.9h-0.9zM36.1,12.6h0.9v0.9h-0.9zM35.6,7.8h0.8v0.8h-0.8zM35.5,5.4h0.8v0.8h-0.8zM5.3,3.5h1.0v1.0h-1.0zM3.9,33.3h1.0v1.0h-1.0zM21.7,28.2h0.8v0.8h-0.8zM16.1,27.4h0.7v0.7h-0.7zM3.8,22.8h0.9v0.9h-0.9zM36.5,38.7h0.7v0.7h-0.7zM28.2,25.4h0.9v0.9h-0.9zM20.1,27.4h0.8v0.8h-0.8zM32.1,19.3h0.7v0.7h-0.7zM1.5,22.1h1.1v1.1h-1.1zM36.2,19.3h0.8v0.8h-0.8zM7.4,8.2h0.8v0.8h-0.8zM39.6,37.1h0.7v0.7h-0.7zM23.2,5.4h1.0v1.0h-1.0zM3.1,3.9h1.0v1.0h-1.0zM18.7,20.6h1.0v1.0h-1.0zM8.4,14.9h0.7v0.7h-0.7zM33.8,7.3h1.0v1.0h-1.0zM14.4,14.8h0.8v0.8h-0.8zM24.2,3.8h0.7v0.7h-0.7zM12.9,3.4h1.0v1.0h-1.0zM22.8,7.6h1.1v1.1h-1.1zM39.3,32.2h0.9v0.9h-0.9zM11.2,4.7h0.8v0.8h-0.8zM32.6,16.2h0.9v0.9h-0.9zM35.2,27.8h1.0v1.0h-1.0zM30.6,16.2h0.8v0.8h-0.8zM2.8,13.7h1.0v1.0h-1.0zM4.0,35.5h1.1v1.1h-1.1zM2.0,10.9h0.9v0.9h-0.9zM13.5,26.4h1.1v1.1h-1.1zM7.3,3.1h1.1v1.1h-1.1zM40.0,25.7h0.7v0.7h-0.7zM30.5,39.2h0.7v0.7h-0.7zM4.6,4.3h0.8v0.8h-0.8zM10.3,16.1h0.7v0.7h-0.7zM30.5,25.9h0.7v0.7h-0.7zM3.9,10.0h0.9v0.9h-0.9zM22.0,20.3h1.1v1.1h-1.1zM22.7,39.8h1.0v1.0h-1.0zM32.4,3.0h1.1v1.1h-1.1zM26.7,38.2h1.0v1.0h-1.0zM37.2,6.4h1.0v1.0h-1.0zM38.8,34.2h1.1v1.1h-1.1zM24.4,2.3h1.0v1.0h-1.0zM16.8,21.1h1.1v1.1h-1.1zM12.5,21.2h1.0v1.0h-1.0zM26.2,22.4h0.9v0.9h-0.9zM26.5,29.9h0.7v0.7h-0.7zM0.6,9.8h0.7v0.7h-0.7zM25.3,16.4h1.0v1.0h-1.0zM2.1,12.6h1.0v1.0h-1.0zM2.0,39.6h0.9v0.9h-0.9zM2.9,36.2h1.0v1.0h-1.0zM28.8,10.0h0.8v0.8h-0.8zM1.8,3.9h1.0v1.0h-1.0zM5.8,38.4h0.8v0.8h-0.8zM24.1,4.6h1.1v1.1h-1.1zM16.7,4.7h0.7v0.7h-0.7zM14.3,6.2h0.9v0.9h-0.9zM17.7,26.7h1.0v1.0h-1.0zM24.0,25.6h1.0v1.0h-1.0zM14.6,29.8h0.8v0.8h-0.8zM38.1,29.4h0.8v0.8h-0.8zM19.2,20.1h0.9v0.9h-0.9zM31.4,25.0h0.9v0.9h-0.9zM11.0,24.4h1.1v1.1h-1.1zM28.0,7.6h0.9v0.9h-0.9zM30.1,7.6h0.8v0.8h-0.8zM20.1,26.1h0.8v0.8h-0.8zM35.2,1.6h0.7v0.7h-0.7zM0.4,10.4h0.7v0.7h-0.7zM24.9,4.1h1.1v1.1h-1.1zM11.1,30.2h0.8v0.8h-0.8zM22.0,25.2h0.9v0.9h-0.9zM19.4,14.2h0.9v0.9h-0.9zM13.7,29.8h0.7v0.7h-0.7zM32.1,17.9h1.1v1.1h-1.1zM33.5,30.8h1.0v1.0h-1.0zM17.0,10.3h0.8v0.8h-0.8zM14.8,26.1h1.1v1.1h-1.1zM13.0,21.9h0.8v0.8h-0.8zM17.1,14.8h0.7v0.7h-0.7zM18.5,13.0h1.1v1.1h-1.1zM3.3,22.6h1.0v1.0h-1.0zM32.6,18.5h0.7v0.7h-0.7zM3.0,8.5h1.1v1.1h-1.1zM3.3,12.2h0.9v0.9h-0.9zM11.3,5.7h0.9v0.9h-0.9zM26.3,13.1h0.7v0.7h-0.7zM12.9,17.6h1.1v1.1h-1.1zM36.7,37.6h0.9v0.9h-0.9zM17.5,32.1h0.9v0.9h-0.9zM18.3,8.8h1.1v1.1h-1.1zM9.9,14.5h0.9v0.9h-0.9zM1.0,27.1h1.1v1.1h-1.1zM15.5,7.8h1.1v1.1h-1.1zM14.7,15.6h0.8v0.8h-0.8zM33.5,22.5h0.8v0.8h-0.8zM3.6,18.2h0.9v0.9h-0.9zM32.5,8.8h0.7v0.7h-0.7zM21.8,22.7h0.7v0.7h-0.7zM26.0,32.2h0.7v0.7h-0.7zM23.3,12.2h1.1v1.1h-1.1zM3.4,3.3h0.7v0.7h-0.7zM36.0,3.4h0.8v0.8h-0.8zM3.9,32.7h1.0v1.0h-1.0zM9.8,8.8h1.1v1.1h-1.1zM13.5,18.4h0.9v0.9h-0.9zM13.5,38.7h0.8v0.8h-0.8zM19.7,21.5h0.7v0.7h-0.7zM28.3,36.6h1.0v1.0h-1.0zM30.3,39.4h0.9v0.9h-0.9zM34.1,32.2h0.7v0.7h-0.7zM35.5,38.3h0.7v0.7h-0.7zM21.0,28.4h0.7v0.7h-0.7zM16.9,16.8h0.8v0.8h-0.8zM9.8,6.5h1.0v1.0h-1.0zM27.4,12.8h1.0v1.0h-1.0zM17.0,11.7h0.7v0.7h-0.7zM18.9,29.2h0.9v0.9h-0.9zM25.9,31.0h0.8v0.8h-0.8zM36.5,30.1h0.7v0.7h-0.7zM23.4,36.4h0.7v0.7h-0.7zM12.5,7.9h0.9v0.9h-0.9zM8.7,9.4h1.0v1.0h-1.0zM23.8,9.0h0.8v0.8h-0.8zM35.8,16.1h0.9v0.9h-0.9zM25.1,37.7h1.1v1.1h-1.1zM19.2,10.4h1.0v1.0h-1.0zM36.6,13.7h1.1v1.1h-1.1zM30.9,3.7h0.8v0.8h-0.8zM16.0,8.7h0.8v0.8h-0.8zM32.1,15.4h1.1v1.1h-1.1zM31.8,31.0h0.7v0.7h-0.7zM26.3,9.5h0.7v0.7h-0.7zM35.0,36.2h1.0v1.0h-1.0zM31.9,28.5h1.1v1.1h-1.1zM35.0,16.6h0.9v0.9h-0.9zM5.8,36.3h1.1v1.1h-1.1zM5.2,29.7h1.1v1.1h-1.1zM10.7,21.4h0.8v0.8h-0.8zM22.9,7.1h0.8v0.8h-0.8zM32.9,33.8h0.8v0.8h-0.8zM3.3,10.8h1.1v1.1h-1.1zM3.9,19.2h1.0v1.0h-1.0zM3.3,29.9h1.1v1.1h-1.1zM34.3,12.1h0.8v0.8h-0.8zM16.7,36.7h0.7v0.7h-0.7zM31.3,17.6h0.7v0.7h-0.7zM21.7,21.0h0.8v0.8h-0.8zM37.9,38.6h0.9v0.9h-0.9zM12.4,3.0h0.9v0.9h-0.9zM39.9,26.7h0.7v0.7h-0.7zM14.4,27.5h0.7v0.7h-0.7zM26.7,27.0h0.7v0.7h-0.7zM26.2,0.5h1.0v1.0h-1.0zM28.5,19.0h0.9v0.9h-0.9zM22.6,18.3h0.7v0.7h-0.7zM34.2,33.8h0.8v0.8h-0.8zM36.1,6.1h1.0v1.0h-1.0zM37.5,30.0h0.9v0.9h-0.9zM30.2,22.2h0.7v0.7h-0.7zM10.3,8.0h0.7v0.7h-0.7zM13.2,37.8h1.1v1.1h-1.1zM18.8,25.6h1.0v1.0h-1.0zM33.1,3.7h0.8v0.8h-0.8zM24.9,5.3h0.8v0.8h-0.8zM7.2,16.1h1.0v1.0h-1.0zM23.7,3.6h0.8v0.8h-0.8zM1.3,39.5h1.0v1.0h-1.0zM16.3,2.9h1.0v1.0h-1.0zM37.1,5.6h0.8v0.8h-0.8zM30.7,32.8h1.0v1.0h-1.0zM19.3,36.9h1.1v1.1h-1.1zM0.6,16.0h0.9v0.9h-0.9zM39.3,31.6h1.1v1.1h-1.1zM21.2,10.4h0.8v0.8h-0.8zM13.7,26.0h0.7v0.7h-0.7zM22.3,8.2h0.9v0.9h-0.9zM31.5,33.0h1.1v1.1h-1.1zM28.5,10.2h1.1v1.1h-1.1zM36.1,21.9h0.9v0.9h-0.9zM24.5,20.5h1.1v1.1h-1.1zM28.5,39.5h1.1v1.1h-1.1zM39.9,28.3h0.8v0.8h-0.8zM22.7,1.1h0.8v0.8h-0.8zM31.1,5.5h1.0v1.0h-1.0zM23.1,27.9h0.9v0.9h-0.9zM3.7,34.9h0.9v0.9h-0.9zM18.5,5.0h0.8v0.8h-0.8zM9.5,22.8h1.1v1.1h-1.1zM22.4,22.4h0.9v0.9h-0.9zM6.7,29.8h0.9v0.9h-0.9zM24.1,4.9h0.7v0.7h-0.7zM11.5,35.9h0.8v0.8h-0.8zM30.3,14.5h0.8v0.8h-0.8zM7.4,21.9h0.7v0.7h-0.7zM18.2,16.1h0.8v0.8h-0.8zM12.3,26.8h1.0v1.0h-1.0zM24.6,25.6h0.7v0.7h-0.7zM6.3,16.5h0.7v0.7h-0.7zM5.7,15.5h1.1v1.1h-1.1zM16.2,13.4h0.8v0.8h-0.8zM10.5,22.7h0.9v0.9h-0.9zM2.1,31.4h0.8v0.8h-0.8zM16.1,19.9h0.7v0.7h-0.7zM18.8,16.5h1.1v1.1h-1.1zM36.5,22.6h1.0v1.0h-1.0zM30.1,19.4h1.0v1.0h-1.0zM33.5,34.2h1.0v1.0h-1.0zM33.0,4.7h0.7v0.7h-0.7zM36.2,21.0h1.1v1.1h-1.1zM20.8,16.8h0.7v0.7h-0.7zM12.8,2.2h1.1v1.1h-1.1zM36.0,29.3h1.1v1.1h-1.1zM12.9,31.6h1.1v1.1h-1.1zM35.1,9.8h1.0v1.0h-1.0zM9.7,34.9h0.7v0.7h-0.7zM19.0,4.2h0.8v0.8h-0.8zM21.8,26.3h0.8v0.8h-0.8zM35.2,40.0h0.9v0.9h-0.9zM34.7,16.9h0.8v0.8h-0.8zM8.9,29.9h1.1v1.1h-1.1zM4.9,2.9h1.1v1.1h-1.1zM31.7,5.0h1.1v1.1h-1.1zM23.0,18.1h0.9v0.9h-0.9zM9.8,12.0h0.9v0.9h-0.9zM6.9,17.6h1.0v1.0h-1.0zM32.6,15.9h0.9v0.9h-0.9zM27.7,9.2h0.9v0.9h-0.9zM1.2,35.9h0.9v0.9h-0.9zM13.0,5.7h1.0v1.0h-1.0zM35.1,8.1h0.7v0.7h-0.7zM7.8,33.5h0.9v0.9h-0.9zM36.0,0.6h1.1v1.1h-1.1zM8.1,25.3h0.8v0.8h-0.8zM38.0,39.1h0.7v0.7h-0.7zM12.2,32.7h0.9v0.9h-0.9zM34.8,28.5h0.8v0.8h-0.8zM13.4,38.3h1.0v1.0h-1.0zM16.6,6.8h0.9v0.9h-0.9zM4.8,27.6h0.9v0.9h-0.9zM7.2,9.4h0.9v0.9h-0.9zM31.6,14.9h1.1v1.1h-1.1zM35.4,23.6h0.8v0.8h-0.8zM39.1,35.8h0.8v0.8h-0.8zM26.7,11.1h0.7v0.7h-0.7zM18.5,3.1h1.1v1.1h-1.1zM3.0,36.3h0.7v0.7h-0.7zM24.0,11.4h0.9v0.9h-0.9zM16.9,22.7h0.8v0.8h-0.8zM11.4,30.2h0.8v0.8h-0.8zM7.2,29.4h0.7v0.7h-0.7zM7.5,35.9h0.7v0.7h-0.7zM24.9,36.7h1.1v1.1h-1.1zM15.4,37.2h1.0v1.0h-1.0zM2.4,2.6h0.9v0.9h-0.9zM12.8,19.3h0.7v0.7h-0.7zM20.7,20.2h1.1v1.1h-1.1zM29.8,21.3h1.1v1.1h-1.1zM31.2,6.6h1.1v1.1h-1.1zM17.4,26.7h1.1v1.1h-1.1zM30.9,31.5h0.8v0.8h-0.8zM10.4,21.8h1.1v1.1h-1.1zM24.1,10.5h0.8v0.8h-0.8zM23.9,28.6h1.1v1.1h-1.1zM17.9,35.2h0.9v0.9h-0.9zM6.1,0.7h1.0v1.0h-1.0zM32.2,20.1h0.9v0.9h-0.9zM34.3,1.2h0.7v0.7h-0.7zM36.3,22.8h1.1v1.1h-1.1zM23.2,28.9h1.1v1.1h-1.1zM5.8,12.4h0.7v0.7h-0.7zM27.8,32.8h1.1v1.1h-1.1zM31.2,30.6h1.0v1.0h-1.0zM3.5,32.8h0.8v0.8h-0.8zM15.2,9.9h1.0v1.0h-1.0zM27.6,33.2h1.0v1.0h-1.0zM2.4,16.4h0.9v0.9h-0.9zM27.9,28.2h0.7v0.7h-0.7zM5.1,30.2h1.1v1.1h-1.1zM39.4,5.8h1.0v1.0h-1.0zM20.9,39.4h0.7v0.7h-0.7zM9.6,35.6h0.8v0.8h-0.8zM3.7,22.2h1.0v1.0h-1.0zM17.0,3.1h0.7v0.7h-0.7zM27.2,28.7h1.1v1.1h-1.1zM9.2,10.1h1.1v1.1h-1.1zM34.2,16.7h0.7v0.7h-0.7zM37.3,14.6h0.9v0.9h-0.9zM37.9,36.9h0.8v0.8h-0.8zM1.6,16.1h0.7v0.7h-0.7zM29.5,22.7h1.1v1.1h-1.1zM37.0,7.1h1.0v1.0h-1.0zM37.4,8.5h1.0v1.0h-1.0zM31.3,8.6h0.9v0.9h-0.9zM9.9,31.7h0.8v0.8h-0.8zM19.2,16.0h1.1v1.1h-1.1zM18.7,12.3h1.0v1.0h-1.0zM19.6,25.1h0.8v0.8h-0.8zM34.5,8.2h1.0v1.0h-1.0zM16.8,1.9h0.9v0.9h-0.9zM14.5,11.0h0.7v0.7h-0.7zM20.8,29.7h1.1v1.1h-1.1zM15.7,36.9h0.8v0.8h-0.8zM10.7,14.4h0.8v0.8h-0.8zM29.1,31.1h0.8v0.8h-0.8zM30.6,28.9h0.7v0.7h-0.7zM0.8,12.9h1.0v1.0h-1.0zM18.0,34.2h1.0v1.0h-1.0zM13.0,30.8h1.1v1.1h-1.1zM26.8,12.1h1.1v1.1h-1.1zM9.5,1.6h0.8v0.8h-0.8zM20.6,5.1h0.8v0.8h-0.8zM12.5,17.0h1.1v1.1h-1.1zM27.8,20.7h1.1v1.1h-1.1zM10.4,29.0h1.0v1.0h-1.0zM5.9,8.2h0.9v0.9h-0.9zM21.4,18.0h0.8v0.8h-0.8zM15.5,34.6h0.8v0.8h-0.8zM4.1,14.8h1.1v1.1h-1.1zM8.6,1.6h0.7v0.7h-0.7zM29.9,19.3h0.7v0.7h-0.7zM32.4,39.0h0.9v0.9h-0.9zM26.4,2.7h0.8v0.8h-0.8zM22.3,14.1h0.7v0.7h-0.7zM38.2,34.7h0.8v0.8h-0.8zM31.3,10.4h1.0v1.0h-1.0zM4.8,19.7h1.0v1.0h-1.0zM15.3,13.1h1.0v1.0h-1.0zM28.1,8.9h1.0v1.0h-1.0zM8.1,30.7h0.9v0.9h-0.9zM26.6,9.6h0.7v0.7h-0.7zM29.7,36.3h0.8v0.8h-0.8zM19.1,10.3h1.1v1.1h-1.1zM12.3,36.6h1.0v1.0h-1.0zM4.8,36.4h1.0v1.0h-1.0zM10.9,15.1h1.1v1.1h-1.1zM12.0,28.8h0.9v0.9h-0.9zM2.9,1.4h0.9v0.9h-0.9zM35.7,22.6h0.9v0.9h-0.9zM32.6,35.5h1.0v1.0h-1.0zM15.4,13.7h0.9v0.9h-0.9zM1.2,28.3h0.8v0.8h-0.8zM30.9,25.1h1.1v1.1h-1.1zM21.7,24.5h0.7v0.7h-0.7zM11.0,33.2h1.0v1.0h-1.0zM15.3,36.4h0.7v0.7h-0.7zM32.2,27.3h0.9v0.9h-0.9zM12.3,14.4h0.7v0.7h-0.7zM6.0,7.7h0.8v0.8h-0.8zM10.3,8.8h1.1v1.1h-1.1zM0.0,21.8h1.0v1.0h-1.0zM0.1,21.9h1.1v1.1h-1.1zM3.2,32.9h0.9v0.9h-0.9zM10.6,4.2h0.7v0.7h-0.7zM12.5,28.6h1.0v1.0h-1.0zM27.5,38.6h0.8v0.8h-0.8zM6.4,24.9h1.0v1.0h-1.0zM32.2,11.7h1.0v1.0h-1.0zM11.4,30.0h1.1v1.1h-1.1zM19.9,25.9h0.9v0.9h-0.9zM13.0,7.1h1.1v1.1h-1.1zM29.5,35.1h0.7v0.7h-0.7zM32.7,35.4h0.9v0.9h-0.9zM4.5,18.1h1.0v1.0h-1.0zM1.6,24.9h1.0v1.0h-1.0zM34.8,2.1h0.9v0.9h-0.9zM15.9,29.6h1.0v1.0h-1.0zM10.1,25.4h0.9v0.9h-0.9zM28.6,13.1h0.9v0.9h-0.9zM34.2,8.2h1.1v1.1h-1.1zM33.1,22.7h1.0v1.0h-1.0zM25.6,5.0h0.9v0.9h-0.9zM32.0,5.0h1.0v1.0h-1.0zM24.8,11.7h0.8v0.8h-0.8zM39.0,18.9h0.8v0.8h-0.8zM10.7,10.8h0.9v0.9h-0.9zM25.3,15.9h0.8v0.8h-0.8zM1.9,28.5h0.7v0.7h-0.7zM34.8,7.8h0.9v0.9h-0.9zM29.2,39.7h0.7v0.7h-0.7zM16.2,36.2h1.1v1.1h-1.1zM34.2,6.8h0.7v0.7h-0.7zM12.4,32.0h0.9v0.9h-0.9zM8.9,28.9h1.0v1.0h-1.0zM30.6,39.2h1.0v1.0h-1.0zM27.0,8.7h0.9v0.9h-0.9zM32.0,5.9h0.8v0.8h-0.8zM33.4,22.2h0.9v0.9h-0.9zM35.2,17.3h0.8v0.8h-0.8zM12.9,0.8h1.1v1.1h-1.1zM22.8,11.0h1.0v1.0h-1.0zM11.0,9.1h1.0v1.0h-1.0zM8.0,22.1h1.1v1.1h-1.1zM2.0,2.6h0.9v0.9h-0.9zM26.8,0.2h0.9v0.9h-0.9zM19.3,39.9h0.8v0.8h-0.8zM39.7,16.3h0.7v0.7h-0.7zM16.6,32.3h1.0v1.0h-1.0zM22.3,8.6h1.1v1.1h-1.1zM26.3,24.9h0.9v0.9h-0.9zM7.5,11.6h0.8v0.8h-0.8zM39.8,17.7h0.7v0.7h-0.7zM7.0,1.1h0.8v0.8h-0.8zM21.6,27.0h0.9v0.9h-0.9zM14.4,30.1h0.9v0.9h-0.9zM2.5,18.6h0.8v0.8h-0.8zM2.5,14.6h1.1v1.1h-1.1zM10.6,9.8h1.0v1.0h-1.0zM16.0,32.1h0.7v0.7h-0.7zM37.4,19.3h1.0v1.0h-1.0zM10.0,36.4h0.7v0.7h-0.7zM0.4,5.6h0.9v0.9h-0.9zM15.5,14.8h0.9v0.9h-0.9zM32.4,14.6h1.0v1.0h-1.0zM14.2,11.2h0.9v0.9h-0.9zM23.8,10.6h0.8v0.8h-0.8zM29.7,8.5h0.8v0.8h-0.8zM21.8,27.2h0.8v0.8h-0.8zM13.9,6.2h0.9v0.9h-0.9zM14.0,17.2h0.7v0.7h-0.7zM16.0,2.1h0.7v0.7h-0.7zM12.9,21.5h0.8v0.8h-0.8zM0.8,7.0h0.7v0.7h-0.7zM30.2,4.3h0.9v0.9h-0.9zM17.2,38.5h0.8v0.8h-0.8zM20.0,31.2h0.8v0.8h-0.8zM32.5,2.8h1.0v1.0h-1.0zM37.9,12.9h0.8v0.8h-0.8zM31.1,21.0h0.7v0.7h-0.7zM5.9,25.4h1.0v1.0h-1.0zM36.4,2.2h1.1v1.1h-1.1zM24.7,35.5h1.0v1.0h-1.0zM20.2,22.7h0.7v0.7h-0.7zM4.9,29.5h1.0v1.0h-1.0zM17.4,18.7h1.0v1.0h-1.0zM20.1,15.0h1.1v1.1h-1.1zM22.9,20.6h0.7v0.7h-0.7zM21.1,18.1h0.9v0.9h-0.9zM23.7,23.8h0.9v0.9h-0.9zM6.1,18.7h0.9v0.9h-0.9zM29.5,12.5h1.0v1.0h-1.0zM39.6,16.1h0.8v0.8h-0.8zM30.1,35.9h0.7v0.7h-0.7zM9.4,33.6h0.8v0.8h-0.8zM33.2,31.9h1.1v1.1h-1.1zM10.1,10.5h0.8v0.8h-0.8zM34.8,28.5h0.9v0.9h-0.9zM20.7,14.0h0.8v0.8h-0.8zM21.5,34.6h0.8v0.8h-0.8zM19.6,38.5h0.8v0.8h-0.8zM2.9,22.2h1.0v1.0h-1.0zM35.1,2.9h1.0v1.0h-1.0zM34.2,30.8h1.1v1.1h-1.1zM38.9,2.6h0.8v0.8h-0.8zM32.5,7.1h0.9v0.9h-0.9zM1.5,13.8h0.8v0.8h-0.8zM33.4,4.7h0.8v0.8h-0.8zM24.6,1.2h1.1v1.1h-1.1zM18.6,19.6h0.7v0.7h-0.7zM39.5,8.3h0.9v0.9h-0.9zM35.1,29.1h0.8v0.8h-0.8zM22.4,39.8h1.0v1.0h-1.0zM0.6,13.6h0.9v0.9h-0.9zM33.8,37.8h1.1v1.1h-1.1zM8.3,8.4h0.8v0.8h-0.8zM6.9,23.2h0.7v0.7h-0.7zM5.2,4.6h0.9v0.9h-0.9zM24.4,14.3h0.8v0.8h-0.8zM0.3,2.8h0.8v0.8h-0.8zM29.5,14.4h0.9v0.9h-0.9zM30.8,8.0h0.7v0.7h-0.7zM25.2,17.0h1.1v1.1h-1.1zM16.4,18.3h1.1v1.1h-1.1zM4.9,3.8h1.1v1.1h-1.1zM28.1,9.4h1.1v1.1h-1.1zM4.7,4.9h0.9v0.9h-0.9zM38.1,3.1h1.0v1.0h-1.0zM9.0,19.1h0.8v0.8h-0.8zM29.7,24.1h1.0v1.0h-1.0zM25.6,14.7h0.9v0.9h-0.9zM11.3,17.6h0.9v0.9h-0.9zM11.7,27.8h1.1v1.1h-1.1zM9.8,16.5h0.8v0.8h-0.8zM23.7,34.6h1.0v1.0h-1.0zM16.8,13.7h1.1v1.1h-1.1zM4.2,26.3h1.0v1.0h-1.0zM35.9,3.5h0.9v0.9h-0.9zM0.6,1.2h1.1v1.1h-1.1zM26.8,13.8h0.7v0.7h-0.7zM26.7,6.2h0.7v0.7h-0.7zM14.5,18.6h0.9v0.9h-0.9zM19.2,26.1h0.7v0.7h-0.7zM38.8,39.1h1.0v1.0h-1.0zM17.3,9.2h1.1v1.1h-1.1zM28.0,39.9h0.7v0.7h-0.7zM40.0,26.2h0.8v0.8h-0.8zM20.7,23.4h1.0v1.0h-1.0zM14.8,5.7h1.0v1.0h-1.0zM3.8,31.8h0.7v0.7h-0.7zM6.7,26.0h1.1v1.1h-1.1zM31.5,36.2h1.0v1.0h-1.0zM31.0,4.8h1.0v1.0h-1.0zM6.2,14.8h0.9v0.9h-0.9zM37.8,35.8h0.7v0.7h-0.7zM4.4,16.5h1.1v1.1h-1.1zM21.3,4.4h0.7v0.7h-0.7zM12.1,20.3h0.7v0.7h-0.7zM2.7,9.5h0.7v0.7h-0.7zM20.4,12.3h0.9v0.9h-0.9zM31.1,9.9h1.0v1.0h-1.0zM18.7,39.6h1.1v1.1h-1.1zM18.1,22.3h1.0v1.0h-1.0zM5.5,35.9h1.1v1.1h-1.1zM6.2,38.8h1.1v1.1h-1.1zM6.9,24.7h0.7v0.7h-0.7zM16.5,0.4h0.8v0.8h-0.8zM31.9,4.4h1.0v1.0h-1.0zM6.3,21.2h0.7v0.7h-0.7zM16.2,19.7h1.1v1.1h-1.1zM25.7,33.9h0.7v0.7h-0.7zM15.6,12.0h0.8v0.8h-0.8zM10.4,4.5h1.0v1.0h-1.0zM13.2,19.6h1.1v1.1h-1.1zM37.9,22.7h1.1v1.1h-1.1zM37.1,3.9h0.9v0.9h-0.9zM10.7,24.0h0.8v0.8h-0.8zM14.7,17.2h1.0v1.0h-1.0zM15.4,25.9h0.9v0.9h-0.9zM18.0,2.0h1.1v1.1h-1.1zM2.5,21.1h1.1v1.1h-1.1zM12.9,32.7h0.7v0.7h-0.7zM28.5,1.3h0.9v0.9h-0.9zM19.4,9.2h1.1v1.1h-1.1zM19.5,0.4h1.0v1.0h-1.0zM23.7,4.2h1.1v1.1h-1.1zM14.3,9.9h1.1v1.1h-1.1zM27.8,33.6h0.8v0.8h-0.8zM24.4,23.6h0.9v0.9h-0.9zM7.3,4.7h0.9v0.9h-0.9zM2.1,3.7h0.9v0.9h-0.9zM23.6,32.3h1.0v1.0h-1.0zM25.9,14.9h0.7v0.7h-0.7zM11.4,27.2h0.7v0.7h-0.7zM15.9,9.0h0.9v0.9h-0.9zM13.1,12.7h0.8v0.8h-0.8zM31.5,25.7h0.7v0.7h-0.7zM40.0,19.6h1.0v1.0h-1.0zM25.0,22.1h0.9v0.9h-0.9zM25.5,0.9h0.8v0.8h-0.8zM23.2,0.2h1.0v1.0h-1.0zM16.7,27.2h0.7v0.7h-0.7zM6.9,3.3h0.8v0.8h-0.8zM15.1,17.9h1.0v1.0h-1.0zM32.0,17.8h0.7v0.7h-0.7zM33.4,38.3h0.9v0.9h-0.9zM26.6,21.9h0.7v0.7h-0.7zM28.1,15.9h1.1v1.1h-1.1zM4.6,34.7h0.7v0.7h-0.7zM16.6,21.5h0.7v0.7h-0.7zM6.2,11.0h1.0v1.0h-1.0zM1.3,17.3h1.0v1.0h-1.0zM8.0,28.1h1.0v1.0h-1.0zM19.7,27.6h1.0v1.0h-1.0zM20.5,19.3h1.1v1.1h-1.1zM29.7,6.7h1.1v1.1h-1.1zM13.0,0.6h0.8v0.8h-0.8zM26.1,15.1h1.1v1.1h-1.1zM27.3,18.1h1.1v1.1h-1.1zM33.7,14.3h1.1v1.1h-1.1zM5.9,28.2h1.0v1.0h-1.0zM13.1,27.9h0.8v0.8h-0.8zM25.3,14.0h1.0v1.0h-1.0zM23.0,10.3h0.7v0.7h-0.7zM32.1,10.2h0.8v0.8h-0.8zM28.7,17.3h1.1v1.1h-1.1zM2.6,7.2h1.0v1.0h-1.0zM36.4,18.2h1.0v1.0h-1.0zM4.7,7.4h1.1v1.1h-1.1zM4.1,12.3h0.8v0.8h-0.8zM1.4,27.9h1.1v1.1h-1.1zM6.4,19.6h1.0v1.0h-1.0zM6.1,38.0h0.9v0.9h-0.9zM32.2,3.9h0.8v0.8h-0.8zM8.7,8.0h1.1v1.1h-1.1zM29.5,13.8h0.8v0.8h-0.8zM30.6,23.3h0.9v0.9h-0.9zM27.6,14.6h0.9v0.9h-0.9zM24.3,33.2h0.9v0.9h-0.9zM4.4,14.3h0.8v0.8h-0.8zM21.5,10.1h0.9v0.9h-0.9zM11.5,22.4h0.9v0.9h-0.9zM19.4,10.9h0.9v0.9h-0.9zM31.7,37.7h0.8v0.8h-0.8zM35.0,6.4h1.1v1.1h-1.1zM34.2,24.4h1.1v1.1h-1.1zM32.0,6.5h1.1v1.1h-1.1zM31.0,10.4h0.7v0.7h-0.7zM17.1,31.2h1.1v1.1h-1.1zM9.3,18.1h0.9v0.9h-0.9zM13.8,8.6h1.1v1.1h-1.1zM10.8,29.1h0.8v0.8h-0.8zM3.0,22.0h1.1v1.1h-1.1zM37.6,26.3h0.7v0.7h-0.7zM12.1,0.1h1.1v1.1h-1.1zM38.4,7.8h0.9v0.9h-0.9zM12.4,34.9h0.7v0.7h-0.7zM38.0,26.6h0.8v0.8h-0.8zM1.2,22.8h1.1v1.1h-1.1zM21.7,17.5h0.8v0.8h-0.8zM3.4,27.8h1.1v1.1h-1.1zM20.0,7.9h0.7v0.7h-0.7zM16.7,19.4h0.7v0.7h-0.7zM27.7,1.2h1.1v1.1h-1.1zM3.6,36.0h0.9v0.9h-0.9zM13.4,28.1h0.8v0.8h-0.8zM39.0,38.0h0.8v0.8h-0.8zM34.3,37.4h0.7v0.7h-0.7zM24.4,31.8h1.1v1.1h-1.1zM24.5,24.5h0.8v0.8h-0.8zM3.5,20.8h0.7v0.7h-0.7zM4.4,11.9h0.9v0.9h-0.9zM38.3,1.0h0.7v0.7h-0.7zM6.0,7.5h1.1v1.1h-1.1zM20.8,23.2h0.7v0.7h-0.7zM0.0,2.7h0.8v0.8h-0.8zM39.0,33.3h1.0v1.0h-1.0zM14.0,8.8h1.0v1.0h-1.0zM0.6,30.8h0.9v0.9h-0.9zM1.9,14.8h0.9v0.9h-0.9zM20.8,14.1h0.8v0.8h-0.8zM37.2,16.6h0.8v0.8h-0.8zM6.0,10.1h1.0v1.0h-1.0zM8.8,36.8h0.8v0.8h-0.8zM9.5,26.2h0.9v0.9h-0.9zM23.8,23.0h1.1v1.1h-1.1zM35.1,7.4h0.8v0.8h-0.8zM2.6,20.4h0.8v0.8h-0.8zM27.0,31.6h1.1v1.1h-1.1zM3.7,27.4h1.1v1.1h-1.1zM9.8,8.7h1.0v1.0h-1.0zM22.3,5.5h0.9v0.9h-0.9zM2.8,2.9h1.0v1.0h-1.0zM40.0,16.8h0.8v0.8h-0.8zM13.5,31.6h1.0v1.0h-1.0zM36.3,22.5h0.7v0.7h-0.7zM19.0,32.7h0.7v0.7h-0.7zM2.1,1.3h0.7v0.7h-0.7zM17.0,6.3h0.7v0.7h-0.7zM8.2,35.1h0.8v0.8h-0.8zM37.3,13.7h0.8v0.8h-0.8zM5.7,28.6h0.7v0.7h-0.7zM7.7,5.4h0.8v0.8h-0.8zM35.3,29.1h1.0v1.0h-1.0zM14.7,29.1h0.9v0.9h-0.9zM5.9,34.8h0.8v0.8h-0.8zM29.0,27.1h0.7v0.7h-0.7zM12.3,7.3h0.7v0.7h-0.7zM11.0,20.9h1.1v1.1h-1.1zM17.7,32.1h0.9v0.9h-0.9zM37.9,3.3h0.8v0.8h-0.8zM0.7,36.9h1.1v1.1h-1.1zM7.4,38.6h1.1v1.1h-1.1zM4.2,19.3h1.1v1.1h-1.1zM18.4,24.1h1.0v1.0h-1.0zM18.6,7.6h1.0v1.0h-1.0zM39.1,1.0h1.1v1.1h-1.1zM16.0,2.1h0.8v0.8h-0.8zM1.8,16.0h0.8v0.8h-0.8zM38.4,1.0h1.0v1.0h-1.0zM32.0,20.0h0.7v0.7h-0.7zM18.6,7.3h0.7v0.7h-0.7zM6.7,38.9h0.9v0.9h-0.9zM10.4,24.8h0.9v0.9h-0.9zM27.5,10.0h0.9v0.9h-0.9zM6.7,5.7h1.1v1.1h-1.1zM23.2,16.7h1.1v1.1h-1.1zM23.5,10.3h1.0v1.0h-1.0zM9.3,37.4h0.8v0.8h-0.8zM18.7,22.5h0.9v0.9h-0.9zM30.6,37.4h0.9v0.9h-0.9zM9.4,23.3h0.8v0.8h-0.8zM28.1,13.6h0.7v0.7h-0.7zM25.4,0.1h1.0v1.0h-1.0zM22.4,19.9h1.1v1.1h-1.1zM26.0,27.4h1.0v1.0h-1.0zM16.0,19.9h1.1v1.1h-1.1zM18.5,3.6h1.0v1.0h-1.0zM25.6,2.5h0.8v0.8h-0.8zM38.8,11.2h1.0v1.0h-1.0zM2.0,11.2h0.7v0.7h-0.7zM9.4,33.2h0.7v0.7h-0.7zM10.2,36.1h1.1v1.1h-1.1zM4.1,14.1h0.7v0.7h-0.7zM37.8,19.6h1.0v1.0h-1.0zM6.1,12.6h1.1v1.1h-1.1zM20.1,37.1h0.8v0.8h-0.8zM27.6,17.8h0.9v0.9h-0.9zM39.1,36.7h0.8v0.8h-0.8zM31.9,28.5h0.9v0.9h-0.9zM32.1,7.0h1.0v1.0h-1.0zM12.1,9.8h0.7v0.7h-0.7zM38.2,26.3h1.0v1.0h-1.0zM31.7,24.4h1.0v1.0h-1.0zM37.3,25.8h0.7v0.7h-0.7zM39.1,6.4h0.9v0.9h-0.9zM39.3,34.9h0.9v0.9h-0.9zM10.2,24.4h0.9v0.9h-0.9zM39.4,24.9h0.8v0.8h-0.8zM30.0,26.8h1.0v1.0h-1.0zM34.7,30.7h0.7v0.7h-0.7zM22.8,37.7h1.0v1.0h-1.0zM9.0,28.4h0.7v0.7h-0.7zM0.9,6.4h0.8v0.8h-0.8zM9.2,24.7h0.7v0.7h-0.7zM27.8,20.6h0.9v0.9h-0.9zM18.7,27.6h0.7v0.7h-0.7zM25.9,27.5h0.7v0.7h-0.7zM13.2,37.1h0.7v0.7h-0.7zM11.6,38.1h1.1v1.1h-1.1zM12.1,18.6h0.7v0.7h-0.7zM13.3,11.2h1.1v1.1h-1.1zM39.7,2.6h0.7v0.7h-0.7zM34.5,21.4h1.0v1.0h-1.0zM30.3,21.0h0.9v0.9h-0.9zM8.0,23.2h0.8v0.8h-0.8zM17.4,15.9h0.9v0.9h-0.9zM2.1,14.2h1.1v1.1h-1.1zM34.4,34.3h1.1v1.1h-1.1zM16.6,16.3h0.8v0.8h-0.8zM31.6,36.7h0.7v0.7h-0.7zM4.9,17.3h1.0v1.0h-1.0zM30.5,22.2h1.1v1.1h-1.1zM36.1,10.0h1.1v1.1h-1.1zM16.8,0.5h0.7v0.7h-0.7zM7.6,30.6h0.7v0.7h-0.7zM24.6,7.3h0.9v0.9h-0.9zM31.5,23.4h0.9v0.9h-0.9zM10.7,31.9h0.7v0.7h-0.7zM28.2,18.3h1.0v1.0h-1.0zM39.0,38.1h0.8v0.8h-0.8zM38.2,35.5h0.7v0.7h-0.7zM22.0,0.1h1.0v1.0h-1.0zM27.8,17.5h0.8v0.8h-0.8zM39.8,19.9h0.8v0.8h-0.8zM16.1,26.0h1.1v1.1h-1.1zM16.4,3.5h1.1v1.1h-1.1zM5.1,2.2h1.0v1.0h-1.0z" fill="#fff"/></pattern></defs>
<path d="M376.5,24.5 C377.4,22.3 379.1,21.7 380.5,20.8 C381.9,19.9 383.8,19.5 385,19.2 C386.2,18.9 387.0,19.6 388,19.0 C389.0,18.4 389.8,16.7 391,15.5 C392.2,14.3 393.5,12.8 395,12.0 C396.5,11.2 398.2,10.9 400,10.9 C401.8,10.9 403.9,11.2 405.5,12.0 C407.1,12.8 408.7,14.4 409.8,16.0 C410.9,17.6 411.7,19.6 412,21.5 C412.3,23.4 412.4,25.8 411.8,27.5 C411.2,29.2 410.0,30.9 408.5,32 C407.0,33.1 404.9,33.9 403,34 C401.1,34.1 398.8,33.0 397,32.5 C395.2,32.0 393.4,30.6 392,31 C390.6,31.4 389.2,32.8 388.5,35 C387.8,37.2 388.1,41.3 388,44 C387.9,46.7 388.3,49.2 388,51 C387.7,52.8 387.1,54.2 386,55 C384.9,55.8 382.9,56.3 381.5,55.8 C380.1,55.3 378.8,53.6 377.8,51.8 C376.9,50.0 376.2,48.0 375.8,45 C375.4,42.0 375.3,37.4 375.4,34 C375.5,30.6 375.6,26.7 376.5,24.5 Z" fill="#f7a6b4" opacity="1.0"/>
<path d="M376.5,24.5 C377.4,22.3 379.1,21.7 380.5,20.8 C381.9,19.9 383.8,19.5 385,19.2 C386.2,18.9 387.0,19.6 388,19.0 C389.0,18.4 389.8,16.7 391,15.5 C392.2,14.3 393.5,12.8 395,12.0 C396.5,11.2 398.2,10.9 400,10.9 C401.8,10.9 403.9,11.2 405.5,12.0 C407.1,12.8 408.7,14.4 409.8,16.0 C410.9,17.6 411.7,19.6 412,21.5 C412.3,23.4 412.4,25.8 411.8,27.5 C411.2,29.2 410.0,30.9 408.5,32 C407.0,33.1 404.9,33.9 403,34 C401.1,34.1 398.8,33.0 397,32.5 C395.2,32.0 393.4,30.6 392,31 C390.6,31.4 389.2,32.8 388.5,35 C387.8,37.2 388.1,41.3 388,44 C387.9,46.7 388.3,49.2 388,51 C387.7,52.8 387.1,54.2 386,55 C384.9,55.8 382.9,56.3 381.5,55.8 C380.1,55.3 378.8,53.6 377.8,51.8 C376.9,50.0 376.2,48.0 375.8,45 C375.4,42.0 375.3,37.4 375.4,34 C375.5,30.6 375.6,26.7 376.5,24.5 Z" fill="url(#spk)" opacity="1.0"/>
<path d="M383.5,27.5 C384.2,25.8 386.4,25.8 388,26 C389.6,26.2 391.3,27.6 393,28.5 C394.7,29.4 396.4,30.6 398,31.5 C399.6,32.4 401.7,32.2 402.5,34 C403.3,35.8 402.7,39.3 403,42 C403.3,44.7 403.9,47.3 404.5,50 C405.1,52.7 405.6,55.8 406.5,58 C407.4,60.2 408.6,61.6 410,63.5 C411.4,65.4 413.2,67.3 415,69.6 C416.8,71.8 418.7,74.6 420.5,77 C422.3,79.4 424.2,81.8 426,84 C427.8,86.2 429.7,88.3 431.5,90.5 C433.3,92.7 435.9,94.9 437,97 C438.1,99.1 438.0,100.8 437.8,103 C437.6,105.2 437.0,107.7 436,110 C435.0,112.3 433.9,115.4 432,117 C430.1,118.6 427.1,119.4 424.6,119.6 C422.1,119.8 419.5,119.0 417,118.3 C414.5,117.6 412.0,116.6 409.5,115.6 C407.0,114.6 404.1,113.7 402,112.5 C399.9,111.3 398.4,110.2 397,108.5 C395.6,106.8 394.6,104.8 393.5,102 C392.4,99.2 391.4,95.3 390.5,92 C389.6,88.7 388.9,85.3 388.2,82 C387.5,78.7 387.0,75.3 386.5,72 C386.0,68.7 385.6,66.0 385.3,62 C385.0,58.0 385.0,52.3 384.8,48 C384.6,43.7 384.2,39.4 384,36 C383.8,32.6 382.8,29.2 383.5,27.5 Z" fill="#6cc5cc" opacity="1.0"/>
<path d="M383.5,27.5 C384.2,25.8 386.4,25.8 388,26 C389.6,26.2 391.3,27.6 393,28.5 C394.7,29.4 396.4,30.6 398,31.5 C399.6,32.4 401.7,32.2 402.5,34 C403.3,35.8 402.7,39.3 403,42 C403.3,44.7 403.9,47.3 404.5,50 C405.1,52.7 405.6,55.8 406.5,58 C407.4,60.2 408.6,61.6 410,63.5 C411.4,65.4 413.2,67.3 415,69.6 C416.8,71.8 418.7,74.6 420.5,77 C422.3,79.4 424.2,81.8 426,84 C427.8,86.2 429.7,88.3 431.5,90.5 C433.3,92.7 435.9,94.9 437,97 C438.1,99.1 438.0,100.8 437.8,103 C437.6,105.2 437.0,107.7 436,110 C435.0,112.3 433.9,115.4 432,117 C430.1,118.6 427.1,119.4 424.6,119.6 C422.1,119.8 419.5,119.0 417,118.3 C414.5,117.6 412.0,116.6 409.5,115.6 C407.0,114.6 404.1,113.7 402,112.5 C399.9,111.3 398.4,110.2 397,108.5 C395.6,106.8 394.6,104.8 393.5,102 C392.4,99.2 391.4,95.3 390.5,92 C389.6,88.7 388.9,85.3 388.2,82 C387.5,78.7 387.0,75.3 386.5,72 C386.0,68.7 385.6,66.0 385.3,62 C385.0,58.0 385.0,52.3 384.8,48 C384.6,43.7 384.2,39.4 384,36 C383.8,32.6 382.8,29.2 383.5,27.5 Z" fill="url(#spk)" opacity="1.0"/>
<path d="M402.5,34.0 C403.2,32.5 405.1,32.9 407,32.8 C408.9,32.7 411.7,32.8 414,33.4 C416.3,34.0 418.8,35.2 421,36.3 C423.2,37.4 425.7,38.5 427.5,39.8 C429.3,41.0 430.7,42.3 432,43.8 C433.3,45.3 434.3,46.8 435.5,48.8 C436.7,50.8 438.1,53.7 439,55.5 C439.9,57.3 439.8,59.0 441,59.5 C442.2,60.0 444.4,58.5 446,58.5 C447.6,58.5 449.1,58.6 450.5,59.5 C451.9,60.4 453.7,62.2 454.7,64 C455.7,65.8 456.3,68.0 456.6,70 C456.9,72.0 456.7,74.0 456.5,76 C456.3,78.0 455.4,80.2 455.2,82 C455.0,83.8 454.8,85.5 455.5,87 C456.2,88.5 458.2,89.5 459.5,91 C460.8,92.5 462.9,94.8 463,95.8 C463.1,96.8 461.7,97.8 460,97.2 C458.3,96.7 455.2,93.6 453,92.5 C450.8,91.4 448.8,90.2 447,90.5 C445.2,90.8 443.6,93.2 442,94.5 C440.4,95.8 439.2,99.2 437.5,98.5 C435.8,97.8 433.4,92.9 431.5,90.5 C429.6,88.1 427.8,86.2 426,84 C424.2,81.8 422.3,79.4 420.5,77 C418.7,74.6 416.8,71.8 415,69.6 C413.2,67.3 411.4,65.4 410,63.5 C408.6,61.6 407.4,60.2 406.5,58 C405.6,55.8 405.1,52.7 404.5,50 C403.9,47.3 403.3,44.7 403,42 C402.7,39.3 401.8,35.5 402.5,34.0 Z" fill="#f0b922" opacity="1.0"/>
<path d="M402.5,34.0 C403.2,32.5 405.1,32.9 407,32.8 C408.9,32.7 411.7,32.8 414,33.4 C416.3,34.0 418.8,35.2 421,36.3 C423.2,37.4 425.7,38.5 427.5,39.8 C429.3,41.0 430.7,42.3 432,43.8 C433.3,45.3 434.3,46.8 435.5,48.8 C436.7,50.8 438.1,53.7 439,55.5 C439.9,57.3 439.8,59.0 441,59.5 C442.2,60.0 444.4,58.5 446,58.5 C447.6,58.5 449.1,58.6 450.5,59.5 C451.9,60.4 453.7,62.2 454.7,64 C455.7,65.8 456.3,68.0 456.6,70 C456.9,72.0 456.7,74.0 456.5,76 C456.3,78.0 455.4,80.2 455.2,82 C455.0,83.8 454.8,85.5 455.5,87 C456.2,88.5 458.2,89.5 459.5,91 C460.8,92.5 462.9,94.8 463,95.8 C463.1,96.8 461.7,97.8 460,97.2 C458.3,96.7 455.2,93.6 453,92.5 C450.8,91.4 448.8,90.2 447,90.5 C445.2,90.8 443.6,93.2 442,94.5 C440.4,95.8 439.2,99.2 437.5,98.5 C435.8,97.8 433.4,92.9 431.5,90.5 C429.6,88.1 427.8,86.2 426,84 C424.2,81.8 422.3,79.4 420.5,77 C418.7,74.6 416.8,71.8 415,69.6 C413.2,67.3 411.4,65.4 410,63.5 C408.6,61.6 407.4,60.2 406.5,58 C405.6,55.8 405.1,52.7 404.5,50 C403.9,47.3 403.3,44.7 403,42 C402.7,39.3 401.8,35.5 402.5,34.0 Z" fill="url(#spk)" opacity="1.0"/>
<path d="M435,96.5 C435.4,95.7 437.2,98.6 438,100 C438.8,101.4 438.8,103.4 439.5,105 C440.2,106.6 441.2,108.2 442.5,109.5 C443.8,110.8 445.7,111.5 447.5,112.5 C449.3,113.5 451.8,114.4 453.5,115.5 C455.2,116.6 456.9,117.6 458,119 C459.1,120.4 460.2,122.4 460.3,124 C460.4,125.6 459.6,127.5 458.5,128.5 C457.4,129.5 455.3,130.0 453.5,130 C451.7,130.0 449.4,129.1 447.5,128.3 C445.6,127.5 443.8,126.3 442,125.3 C440.2,124.2 438.5,123.0 437,122 C435.5,121.0 433.6,121.0 433,119.5 C432.4,118.0 433.1,115.4 433.5,113 C433.9,110.6 435.2,107.8 435.5,105 C435.8,102.2 434.6,97.3 435,96.5 Z" fill="#64a85a" opacity="0.85"/>
<path d="M435,96.5 C435.4,95.7 437.2,98.6 438,100 C438.8,101.4 438.8,103.4 439.5,105 C440.2,106.6 441.2,108.2 442.5,109.5 C443.8,110.8 445.7,111.5 447.5,112.5 C449.3,113.5 451.8,114.4 453.5,115.5 C455.2,116.6 456.9,117.6 458,119 C459.1,120.4 460.2,122.4 460.3,124 C460.4,125.6 459.6,127.5 458.5,128.5 C457.4,129.5 455.3,130.0 453.5,130 C451.7,130.0 449.4,129.1 447.5,128.3 C445.6,127.5 443.8,126.3 442,125.3 C440.2,124.2 438.5,123.0 437,122 C435.5,121.0 433.6,121.0 433,119.5 C432.4,118.0 433.1,115.4 433.5,113 C433.9,110.6 435.2,107.8 435.5,105 C435.8,102.2 434.6,97.3 435,96.5 Z" fill="url(#spk)" opacity="1.0"/>
<path d="M493.1,99 C494.8,98.0 499.0,96.5 501.9,96.2 C504.8,95.9 508.0,96.5 510.6,97.1 C513.2,97.7 515.5,98.4 517.7,99.7 C519.9,101.0 521.9,103.1 523.8,105 C525.7,106.9 527.8,109.3 529,111.2 C530.2,113.1 531.0,114.7 531,116.5 C531.0,118.3 529.9,120.0 529.3,121.8 C528.7,123.5 528.0,125.0 527.6,127 C527.2,128.9 528.1,132.2 527,133.5 C525.9,134.8 523.7,134.9 521,135 C518.3,135.1 513.6,134.5 510.6,133.8 C507.6,133.1 505.0,132.6 502.8,131 C500.6,129.4 498.8,126.1 497.3,124 C495.8,121.9 494.6,120.7 493.6,118.3 C492.6,115.9 491.5,112.1 491.2,109.5 C490.9,106.9 491.5,104.2 491.8,102.5 C492.1,100.8 491.4,100.0 493.1,99 Z" fill="#3f6db5" opacity="1.0"/>
<path d="M493.1,99 C494.8,98.0 499.0,96.5 501.9,96.2 C504.8,95.9 508.0,96.5 510.6,97.1 C513.2,97.7 515.5,98.4 517.7,99.7 C519.9,101.0 521.9,103.1 523.8,105 C525.7,106.9 527.8,109.3 529,111.2 C530.2,113.1 531.0,114.7 531,116.5 C531.0,118.3 529.9,120.0 529.3,121.8 C528.7,123.5 528.0,125.0 527.6,127 C527.2,128.9 528.1,132.2 527,133.5 C525.9,134.8 523.7,134.9 521,135 C518.3,135.1 513.6,134.5 510.6,133.8 C507.6,133.1 505.0,132.6 502.8,131 C500.6,129.4 498.8,126.1 497.3,124 C495.8,121.9 494.6,120.7 493.6,118.3 C492.6,115.9 491.5,112.1 491.2,109.5 C490.9,106.9 491.5,104.2 491.8,102.5 C492.1,100.8 491.4,100.0 493.1,99 Z" fill="url(#spk)" opacity="1.0"/>
<path d="M523,42.2 C524.1,41.1 526.0,40.9 527.5,40.8 C529.0,40.7 531.7,40.1 532.3,41.6 C532.9,43.1 532.0,46.8 531.2,50 C530.5,53.2 528.9,57.2 527.8,61 C526.6,64.8 525.4,69.2 524.3,73 C523.2,76.8 522.1,80.7 521.3,84 C520.5,87.3 520.2,91.1 519.3,93 C518.4,94.9 517.0,95.3 516,95.3 C515.0,95.3 513.8,94.5 513.2,93 C512.6,91.5 512.5,88.5 512.5,86 C512.5,83.5 513.9,80.1 513.5,78 C513.1,75.9 511.4,74.6 510,73.5 C508.6,72.4 506.1,72.0 505,71.3 C503.9,70.5 503.2,69.6 503.5,69 C503.8,68.4 505.2,68.3 507,67.5 C508.8,66.7 512.2,66.0 514,64 C515.8,62.0 516.8,58.2 518,55.5 C519.2,52.8 520.2,49.7 521,47.5 C521.8,45.3 521.9,43.3 523,42.2 Z" fill="#9a7056" opacity="0.85"/>
<path d="M523,42.2 C524.1,41.1 526.0,40.9 527.5,40.8 C529.0,40.7 531.7,40.1 532.3,41.6 C532.9,43.1 532.0,46.8 531.2,50 C530.5,53.2 528.9,57.2 527.8,61 C526.6,64.8 525.4,69.2 524.3,73 C523.2,76.8 522.1,80.7 521.3,84 C520.5,87.3 520.2,91.1 519.3,93 C518.4,94.9 517.0,95.3 516,95.3 C515.0,95.3 513.8,94.5 513.2,93 C512.6,91.5 512.5,88.5 512.5,86 C512.5,83.5 513.9,80.1 513.5,78 C513.1,75.9 511.4,74.6 510,73.5 C508.6,72.4 506.1,72.0 505,71.3 C503.9,70.5 503.2,69.6 503.5,69 C503.8,68.4 505.2,68.3 507,67.5 C508.8,66.7 512.2,66.0 514,64 C515.8,62.0 516.8,58.2 518,55.5 C519.2,52.8 520.2,49.7 521,47.5 C521.8,45.3 521.9,43.3 523,42.2 Z" fill="url(#spk)" opacity="1.0"/>
<defs><pattern id="spkb" x="0" y="0" width="20" height="20" patternUnits="userSpaceOnUse"><path d="M8.1,4.0h.9v.9h-.9zM3.6,5.0h.9v.9h-.9zM15.2,5.0h.9v.9h-.9zM7.7,13.7h.9v.9h-.9zM10.8,18.8h.9v.9h-.9zM9.8,8.4h.9v.9h-.9zM12.3,4.3h.9v.9h-.9zM18.0,7.5h.9v.9h-.9zM7.8,13.6h.9v.9h-.9zM3.0,13.2h.9v.9h-.9zM17.0,6.8h.9v.9h-.9zM18.9,10.6h.9v.9h-.9zM15.5,9.4h.9v.9h-.9zM8.1,5.4h.9v.9h-.9zM0.2,4.1h.9v.9h-.9zM19.8,10.7h.9v.9h-.9zM9.2,18.0h.9v.9h-.9zM12.1,19.5h.9v.9h-.9zM7.2,4.3h.9v.9h-.9zM18.4,3.2h.9v.9h-.9zM15.8,11.9h.9v.9h-.9zM19.7,18.9h.9v.9h-.9zM13.2,0.7h.9v.9h-.9zM0.5,9.5h.9v.9h-.9zM16.4,1.6h.9v.9h-.9zM8.5,1.7h.9v.9h-.9zM6.2,0.1h.9v.9h-.9zM6.6,10.5h.9v.9h-.9zM4.0,15.7h.9v.9h-.9zM1.1,4.2h.9v.9h-.9zM5.2,8.1h.9v.9h-.9zM15.3,7.1h.9v.9h-.9zM13.9,18.4h.9v.9h-.9zM2.6,17.3h.9v.9h-.9zM12.0,14.9h.9v.9h-.9zM12.2,8.2h.9v.9h-.9zM1.9,2.9h.9v.9h-.9zM3.5,3.6h.9v.9h-.9zM2.9,4.2h.9v.9h-.9zM11.2,15.4h.9v.9h-.9zM16.0,16.9h.9v.9h-.9zM2.3,16.4h.9v.9h-.9zM3.7,1.4h.9v.9h-.9zM5.8,11.7h.9v.9h-.9zM1.0,4.3h.9v.9h-.9zM8.0,16.4h.9v.9h-.9zM8.0,8.3h.9v.9h-.9zM7.4,1.9h.9v.9h-.9zM17.6,18.5h.9v.9h-.9zM14.4,8.0h.9v.9h-.9zM8.9,6.2h.9v.9h-.9zM13.1,13.1h.9v.9h-.9zM6.2,17.5h.9v.9h-.9zM14.4,4.4h.9v.9h-.9zM16.2,13.5h.9v.9h-.9zM5.0,5.9h.9v.9h-.9zM15.0,1.6h.9v.9h-.9zM8.8,19.3h.9v.9h-.9zM5.1,10.1h.9v.9h-.9zM18.1,17.5h.9v.9h-.9zM15.8,10.7h.9v.9h-.9zM18.6,5.1h.9v.9h-.9zM17.6,8.2h.9v.9h-.9zM13.2,12.2h.9v.9h-.9zM5.6,13.6h.9v.9h-.9zM12.1,19.7h.9v.9h-.9zM13.3,8.8h.9v.9h-.9zM7.6,17.7h.9v.9h-.9zM6.9,13.3h.9v.9h-.9zM13.9,19.3h.9v.9h-.9zM3.9,13.3h.9v.9h-.9zM3.4,12.8h.9v.9h-.9zM13.1,14.9h.9v.9h-.9zM17.3,4.6h.9v.9h-.9zM17.2,6.9h.9v.9h-.9zM8.0,2.2h.9v.9h-.9zM10.6,0.0h.9v.9h-.9zM6.2,13.4h.9v.9h-.9zM15.0,3.3h.9v.9h-.9zM15.7,8.9h.9v.9h-.9zM4.1,15.0h.9v.9h-.9zM14.8,9.4h.9v.9h-.9zM10.6,12.4h.9v.9h-.9zM12.6,15.3h.9v.9h-.9zM15.4,4.0h.9v.9h-.9zM0.4,2.1h.9v.9h-.9zM6.2,11.6h.9v.9h-.9zM19.2,8.3h.9v.9h-.9zM7.4,11.1h.9v.9h-.9zM19.0,11.8h.9v.9h-.9zM5.9,15.1h.9v.9h-.9zM19.8,15.9h.9v.9h-.9zM8.0,3.4h.9v.9h-.9zM9.2,2.6h.9v.9h-.9zM2.6,8.9h.9v.9h-.9zM17.0,14.0h.9v.9h-.9zM8.4,19.1h.9v.9h-.9zM3.6,5.0h.9v.9h-.9zM5.5,11.5h.9v.9h-.9zM17.8,7.7h.9v.9h-.9zM16.5,18.7h.9v.9h-.9zM9.6,17.9h.9v.9h-.9zM17.8,9.5h.9v.9h-.9zM3.4,1.5h.9v.9h-.9zM4.8,9.2h.9v.9h-.9zM0.3,6.6h.9v.9h-.9zM9.9,6.7h.9v.9h-.9zM14.7,11.4h.9v.9h-.9zM10.7,12.7h.9v.9h-.9zM11.7,8.3h.9v.9h-.9zM3.3,11.8h.9v.9h-.9zM0.9,0.7h.9v.9h-.9zM6.8,4.6h.9v.9h-.9zM15.1,3.2h.9v.9h-.9zM8.8,13.9h.9v.9h-.9zM8.4,16.1h.9v.9h-.9zM2.3,3.4h.9v.9h-.9zM5.5,7.3h.9v.9h-.9zM11.2,4.0h.9v.9h-.9zM11.2,14.0h.9v.9h-.9zM13.1,16.3h.9v.9h-.9zM1.6,13.6h.9v.9h-.9zM14.5,16.5h.9v.9h-.9zM3.0,1.7h.9v.9h-.9zM15.2,12.9h.9v.9h-.9zM3.3,17.4h.9v.9h-.9zM14.3,12.3h.9v.9h-.9zM15.2,12.2h.9v.9h-.9zM6.8,1.1h.9v.9h-.9zM6.8,12.5h.9v.9h-.9zM3.8,3.6h.9v.9h-.9zM2.2,9.9h.9v.9h-.9zM19.3,14.6h.9v.9h-.9zM0.3,7.5h.9v.9h-.9zM13.6,1.9h.9v.9h-.9zM15.9,4.7h.9v.9h-.9zM8.9,15.9h.9v.9h-.9zM17.5,1.6h.9v.9h-.9zM16.3,17.5h.9v.9h-.9zM16.8,15.5h.9v.9h-.9zM7.5,6.3h.9v.9h-.9zM0.9,7.9h.9v.9h-.9zM6.0,3.2h.9v.9h-.9zM18.9,17.6h.9v.9h-.9zM16.2,5.9h.9v.9h-.9zM2.5,8.5h.9v.9h-.9zM1.4,7.1h.9v.9h-.9zM12.1,6.3h.9v.9h-.9zM6.7,6.5h.9v.9h-.9zM16.6,0.7h.9v.9h-.9zM16.3,12.2h.9v.9h-.9zM11.0,13.9h.9v.9h-.9zM0.4,17.3h.9v.9h-.9zM5.8,8.0h.9v.9h-.9zM10.2,18.0h.9v.9h-.9zM4.6,10.5h.9v.9h-.9zM19.8,4.2h.9v.9h-.9zM13.0,3.3h.9v.9h-.9zM11.3,8.7h.9v.9h-.9zM11.3,0.6h.9v.9h-.9zM4.0,18.0h.9v.9h-.9zM3.6,6.0h.9v.9h-.9zM19.8,5.1h.9v.9h-.9zM11.6,8.6h.9v.9h-.9zM0.1,12.9h.9v.9h-.9zM10.1,18.7h.9v.9h-.9zM19.5,1.5h.9v.9h-.9zM11.8,6.8h.9v.9h-.9zM2.6,18.3h.9v.9h-.9zM1.8,10.0h.9v.9h-.9zM4.7,11.5h.9v.9h-.9zM4.2,17.1h.9v.9h-.9zM8.7,4.0h.9v.9h-.9zM16.0,2.7h.9v.9h-.9zM14.8,5.0h.9v.9h-.9zM16.8,5.1h.9v.9h-.9zM13.0,13.4h.9v.9h-.9zM10.1,17.4h.9v.9h-.9zM10.9,4.7h.9v.9h-.9zM10.5,13.7h.9v.9h-.9zM8.4,10.5h.9v.9h-.9zM1.4,5.0h.9v.9h-.9zM15.3,6.7h.9v.9h-.9zM3.8,15.9h.9v.9h-.9zM0.6,0.8h.9v.9h-.9zM1.2,3.8h.9v.9h-.9zM1.0,5.9h.9v.9h-.9zM5.4,18.5h.9v.9h-.9zM5.1,11.5h.9v.9h-.9zM5.9,14.5h.9v.9h-.9zM2.3,6.9h.9v.9h-.9zM2.8,6.1h.9v.9h-.9zM5.2,9.0h.9v.9h-.9zM18.9,0.5h.9v.9h-.9zM4.6,12.2h.9v.9h-.9zM16.7,7.6h.9v.9h-.9zM7.2,6.4h.9v.9h-.9zM7.5,10.8h.9v.9h-.9zM15.6,0.4h.9v.9h-.9zM3.5,4.4h.9v.9h-.9zM12.4,15.2h.9v.9h-.9zM1.4,0.0h.9v.9h-.9zM2.3,8.7h.9v.9h-.9zM13.8,19.5h.9v.9h-.9zM7.4,8.5h.9v.9h-.9zM17.5,15.4h.9v.9h-.9zM18.1,5.3h.9v.9h-.9zM14.2,16.2h.9v.9h-.9zM5.5,4.9h.9v.9h-.9zM18.6,4.4h.9v.9h-.9zM6.5,2.0h.9v.9h-.9zM17.5,12.4h.9v.9h-.9zM4.9,8.8h.9v.9h-.9zM8.9,0.3h.9v.9h-.9zM14.9,1.6h.9v.9h-.9zM7.7,14.8h.9v.9h-.9zM5.6,15.3h.9v.9h-.9zM18.0,14.1h.9v.9h-.9zM8.5,18.6h.9v.9h-.9zM6.4,19.9h.9v.9h-.9zM12.1,10.7h.9v.9h-.9zM17.4,2.1h.9v.9h-.9zM5.7,15.5h.9v.9h-.9zM1.4,18.5h.9v.9h-.9zM9.1,9.8h.9v.9h-.9zM19.9,1.7h.9v.9h-.9zM0.4,11.3h.9v.9h-.9zM12.7,17.2h.9v.9h-.9zM3.8,17.7h.9v.9h-.9zM13.2,11.6h.9v.9h-.9zM0.4,16.0h.9v.9h-.9zM4.4,13.4h.9v.9h-.9zM19.9,0.3h.9v.9h-.9zM8.6,18.8h.9v.9h-.9zM5.7,16.8h.9v.9h-.9zM16.4,13.8h.9v.9h-.9zM20.0,14.1h.9v.9h-.9zM2.1,16.8h.9v.9h-.9zM15.0,7.7h.9v.9h-.9zM1.9,5.4h.9v.9h-.9zM10.5,5.0h.9v.9h-.9zM19.7,3.2h.9v.9h-.9zM5.5,2.5h.9v.9h-.9zM15.0,16.6h.9v.9h-.9zM5.0,7.8h.9v.9h-.9zM17.8,12.0h.9v.9h-.9zM4.4,19.9h.9v.9h-.9zM15.4,6.1h.9v.9h-.9zM9.0,10.0h.9v.9h-.9zM12.7,9.2h.9v.9h-.9zM3.0,6.6h.9v.9h-.9zM2.6,10.0h.9v.9h-.9zM12.3,12.0h.9v.9h-.9zM1.4,11.1h.9v.9h-.9zM15.6,11.5h.9v.9h-.9zM6.8,15.7h.9v.9h-.9zM8.0,15.9h.9v.9h-.9zM0.2,1.8h.9v.9h-.9zM9.2,1.7h.9v.9h-.9zM3.9,18.7h.9v.9h-.9zM15.5,6.0h.9v.9h-.9zM2.3,14.6h.9v.9h-.9zM14.2,3.5h.9v.9h-.9zM11.1,12.8h.9v.9h-.9zM1.8,2.2h.9v.9h-.9zM0.5,16.8h.9v.9h-.9zM6.0,6.7h.9v.9h-.9zM0.9,13.0h.9v.9h-.9zM5.0,10.8h.9v.9h-.9zM7.0,7.0h.9v.9h-.9zM0.9,6.5h.9v.9h-.9zM18.3,18.9h.9v.9h-.9zM18.3,17.0h.9v.9h-.9zM16.2,12.6h.9v.9h-.9zM12.1,14.4h.9v.9h-.9zM19.2,12.1h.9v.9h-.9zM11.1,14.6h.9v.9h-.9zM16.9,10.7h.9v.9h-.9zM0.4,12.1h.9v.9h-.9zM6.9,2.6h.9v.9h-.9zM0.9,10.7h.9v.9h-.9zM19.1,11.2h.9v.9h-.9zM16.7,3.5h.9v.9h-.9zM6.6,19.1h.9v.9h-.9zM13.8,14.5h.9v.9h-.9zM5.9,13.4h.9v.9h-.9zM6.9,4.0h.9v.9h-.9zM3.2,3.5h.9v.9h-.9zM1.8,7.8h.9v.9h-.9zM17.4,10.9h.9v.9h-.9zM7.5,12.8h.9v.9h-.9zM18.4,5.2h.9v.9h-.9zM18.4,19.6h.9v.9h-.9zM7.0,1.3h.9v.9h-.9zM13.6,18.4h.9v.9h-.9zM7.4,6.3h.9v.9h-.9zM4.7,2.5h.9v.9h-.9zM13.3,5.8h.9v.9h-.9zM18.7,8.2h.9v.9h-.9zM2.6,13.3h.9v.9h-.9z" fill="#fff"/></pattern></defs>
<path d="M523,42.2 C524.1,41.1 526.0,40.9 527.5,40.8 C529.0,40.7 531.7,40.1 532.3,41.6 C532.9,43.1 532.0,46.8 531.2,50 C530.5,53.2 528.9,57.2 527.8,61 C526.6,64.8 525.4,69.2 524.3,73 C523.2,76.8 522.1,80.7 521.3,84 C520.5,87.3 520.2,91.1 519.3,93 C518.4,94.9 517.0,95.3 516,95.3 C515.0,95.3 513.8,94.5 513.2,93 C512.6,91.5 512.5,88.5 512.5,86 C512.5,83.5 513.9,80.1 513.5,78 C513.1,75.9 511.4,74.6 510,73.5 C508.6,72.4 506.1,72.0 505,71.3 C503.9,70.5 503.2,69.6 503.5,69 C503.8,68.4 505.2,68.3 507,67.5 C508.8,66.7 512.2,66.0 514,64 C515.8,62.0 516.8,58.2 518,55.5 C519.2,52.8 520.2,49.7 521,47.5 C521.8,45.3 521.9,43.3 523,42.2 Z" fill="url(#spkb)"/>
<circle cx="379.6" cy="56.0" r="0.5" fill="#f7a6b4"/>
<circle cx="377.1" cy="45.7" r="0.5" fill="#f7a6b4"/>
<circle cx="408.7" cy="14.3" r="0.5" fill="#f7a6b4"/>
<circle cx="387.7" cy="43.1" r="0.5" fill="#f7a6b4"/>
<circle cx="405.7" cy="12.8" r="0.5" fill="#f7a6b4"/>
<circle cx="402.2" cy="33.2" r="0.5" fill="#f7a6b4"/>
<circle cx="381.7" cy="56.0" r="0.5" fill="#f7a6b4"/>
<circle cx="377.9" cy="26.5" r="0.5" fill="#f7a6b4"/>
<circle cx="397.7" cy="11.4" r="0.5" fill="#f7a6b4"/>
<circle cx="376.6" cy="40.5" r="0.5" fill="#f7a6b4"/>
<circle cx="406.0" cy="11.4" r="0.5" fill="#f7a6b4"/>
<circle cx="406.9" cy="32.5" r="0.5" fill="#f7a6b4"/>
<circle cx="410.7" cy="28.8" r="0.5" fill="#f7a6b4"/>
<circle cx="376.4" cy="37.6" r="0.5" fill="#f7a6b4"/>
<circle cx="411.4" cy="25.4" r="0.5" fill="#f7a6b4"/>
<circle cx="375.5" cy="34.7" r="0.5" fill="#f7a6b4"/>
<circle cx="405.6" cy="33.9" r="0.5" fill="#f7a6b4"/>
<circle cx="407.0" cy="31.8" r="0.5" fill="#f7a6b4"/>
<circle cx="376.2" cy="32.1" r="0.5" fill="#f7a6b4"/>
<circle cx="410.4" cy="15.4" r="0.5" fill="#f7a6b4"/>
<circle cx="403.6" cy="34.9" r="0.5" fill="#f7a6b4"/>
<circle cx="383.2" cy="53.7" r="0.5" fill="#f7a6b4"/>
<circle cx="383.1" cy="20.0" r="0.5" fill="#f7a6b4"/>
<circle cx="388.8" cy="47.8" r="0.5" fill="#f7a6b4"/>
<circle cx="375.7" cy="29.6" r="0.5" fill="#f7a6b4"/>
<circle cx="397.9" cy="10.0" r="0.5" fill="#f7a6b4"/>
<circle cx="412.0" cy="27.7" r="0.5" fill="#f7a6b4"/>
<circle cx="378.9" cy="54.1" r="0.5" fill="#f7a6b4"/>
<circle cx="380.2" cy="55.9" r="0.5" fill="#f7a6b4"/>
<circle cx="391.4" cy="15.2" r="0.5" fill="#f7a6b4"/>
<circle cx="389.1" cy="40.7" r="0.5" fill="#f7a6b4"/>
<circle cx="380.5" cy="54.5" r="0.5" fill="#f7a6b4"/>
<circle cx="388.3" cy="18.7" r="0.5" fill="#f7a6b4"/>
<circle cx="391.9" cy="33.2" r="0.5" fill="#f7a6b4"/>
<circle cx="398.8" cy="11.3" r="0.5" fill="#f7a6b4"/>
<circle cx="410.0" cy="30.6" r="0.5" fill="#f7a6b4"/>
<circle cx="392.0" cy="14.0" r="0.5" fill="#f7a6b4"/>
<circle cx="397.2" cy="11.3" r="0.5" fill="#f7a6b4"/>
<circle cx="385.2" cy="19.0" r="0.5" fill="#f7a6b4"/>
<circle cx="388.4" cy="44.8" r="0.5" fill="#f7a6b4"/>
<circle cx="376.9" cy="28.6" r="0.5" fill="#f7a6b4"/>
<circle cx="386.4" cy="54.9" r="0.5" fill="#f7a6b4"/>
<circle cx="377.1" cy="27.0" r="0.5" fill="#f7a6b4"/>
<circle cx="399.2" cy="11.5" r="0.5" fill="#f7a6b4"/>
<circle cx="410.4" cy="18.6" r="0.5" fill="#f7a6b4"/>
<circle cx="388.3" cy="47.6" r="0.5" fill="#f7a6b4"/>
<circle cx="378.1" cy="49.1" r="0.5" fill="#f7a6b4"/>
<circle cx="398.3" cy="8.5" r="0.5" fill="#f7a6b4"/>
<circle cx="409.5" cy="29.7" r="0.5" fill="#f7a6b4"/>
<circle cx="401.8" cy="34.1" r="0.5" fill="#f7a6b4"/>
<circle cx="376.3" cy="38.5" r="0.5" fill="#f7a6b4"/>
<circle cx="384.5" cy="55.1" r="0.5" fill="#f7a6b4"/>
<circle cx="385.4" cy="52.9" r="0.5" fill="#f7a6b4"/>
<circle cx="376.1" cy="23.1" r="0.5" fill="#f7a6b4"/>
<circle cx="395.5" cy="10.5" r="0.5" fill="#f7a6b4"/>
<circle cx="385.5" cy="19.1" r="0.5" fill="#f7a6b4"/>
<circle cx="392.6" cy="14.9" r="0.5" fill="#f7a6b4"/>
<circle cx="387.0" cy="51.4" r="0.5" fill="#f7a6b4"/>
<circle cx="381.7" cy="57.0" r="0.5" fill="#f7a6b4"/>
<circle cx="407.8" cy="32.5" r="0.5" fill="#f7a6b4"/>
<circle cx="437.2" cy="101.0" r="0.5" fill="#6cc5cc"/>
<circle cx="390.5" cy="28.2" r="0.5" fill="#6cc5cc"/>
<circle cx="427.3" cy="116.7" r="0.5" fill="#6cc5cc"/>
<circle cx="384.2" cy="60.9" r="0.5" fill="#6cc5cc"/>
<circle cx="422.6" cy="120.2" r="0.5" fill="#6cc5cc"/>
<circle cx="413.6" cy="117.5" r="0.5" fill="#6cc5cc"/>
<circle cx="394.8" cy="29.5" r="0.5" fill="#6cc5cc"/>
<circle cx="400.5" cy="31.7" r="0.5" fill="#6cc5cc"/>
<circle cx="424.7" cy="80.8" r="0.5" fill="#6cc5cc"/>
<circle cx="436.6" cy="102.9" r="0.5" fill="#6cc5cc"/>
<circle cx="394.5" cy="97.7" r="0.5" fill="#6cc5cc"/>
<circle cx="405.0" cy="112.9" r="0.5" fill="#6cc5cc"/>
<circle cx="410.9" cy="68.6" r="0.5" fill="#6cc5cc"/>
<circle cx="432.4" cy="116.7" r="0.5" fill="#6cc5cc"/>
<circle cx="394.0" cy="104.7" r="0.5" fill="#6cc5cc"/>
<circle cx="385.4" cy="71.4" r="0.5" fill="#6cc5cc"/>
<circle cx="424.1" cy="118.6" r="0.5" fill="#6cc5cc"/>
<circle cx="409.1" cy="59.4" r="0.5" fill="#6cc5cc"/>
<circle cx="415.7" cy="71.1" r="0.5" fill="#6cc5cc"/>
<circle cx="399.2" cy="107.6" r="0.5" fill="#6cc5cc"/>
<circle cx="386.5" cy="27.5" r="0.5" fill="#6cc5cc"/>
<circle cx="423.8" cy="81.1" r="0.5" fill="#6cc5cc"/>
<circle cx="427.9" cy="85.0" r="0.5" fill="#6cc5cc"/>
<circle cx="386.6" cy="25.5" r="0.5" fill="#6cc5cc"/>
<circle cx="401.8" cy="33.7" r="0.5" fill="#6cc5cc"/>
<circle cx="385.6" cy="73.1" r="0.5" fill="#6cc5cc"/>
<circle cx="400.0" cy="108.4" r="0.5" fill="#6cc5cc"/>
<circle cx="434.8" cy="112.2" r="0.5" fill="#6cc5cc"/>
<circle cx="417.6" cy="72.2" r="0.5" fill="#6cc5cc"/>
<circle cx="385.9" cy="26.8" r="0.5" fill="#6cc5cc"/>
<circle cx="387.2" cy="77.8" r="0.5" fill="#6cc5cc"/>
<circle cx="391.0" cy="96.5" r="0.5" fill="#6cc5cc"/>
<circle cx="402.4" cy="37.3" r="0.5" fill="#6cc5cc"/>
<circle cx="390.7" cy="88.1" r="0.5" fill="#6cc5cc"/>
<circle cx="393.2" cy="103.3" r="0.5" fill="#6cc5cc"/>
<circle cx="397.9" cy="31.2" r="0.5" fill="#6cc5cc"/>
<circle cx="383.8" cy="59.1" r="0.5" fill="#6cc5cc"/>
<circle cx="401.8" cy="33.9" r="0.5" fill="#6cc5cc"/>
<circle cx="436.7" cy="103.4" r="0.5" fill="#6cc5cc"/>
<circle cx="403.4" cy="43.8" r="0.5" fill="#6cc5cc"/>
<circle cx="396.0" cy="106.2" r="0.5" fill="#6cc5cc"/>
<circle cx="415.0" cy="118.8" r="0.5" fill="#6cc5cc"/>
<circle cx="384.9" cy="28.1" r="0.5" fill="#6cc5cc"/>
<circle cx="433.4" cy="110.6" r="0.5" fill="#6cc5cc"/>
<circle cx="403.7" cy="40.7" r="0.5" fill="#6cc5cc"/>
<circle cx="431.0" cy="117.3" r="0.5" fill="#6cc5cc"/>
<circle cx="406.7" cy="59.2" r="0.5" fill="#6cc5cc"/>
<circle cx="389.5" cy="78.9" r="0.5" fill="#6cc5cc"/>
<circle cx="384.5" cy="42.9" r="0.5" fill="#6cc5cc"/>
<circle cx="392.7" cy="102.9" r="0.5" fill="#6cc5cc"/>
<circle cx="389.4" cy="27.2" r="0.5" fill="#6cc5cc"/>
<circle cx="405.4" cy="60.7" r="0.5" fill="#6cc5cc"/>
<circle cx="403.2" cy="33.8" r="0.5" fill="#6cc5cc"/>
<circle cx="393.2" cy="27.8" r="0.5" fill="#6cc5cc"/>
<circle cx="388.2" cy="71.6" r="0.5" fill="#6cc5cc"/>
<circle cx="395.7" cy="106.8" r="0.5" fill="#6cc5cc"/>
<circle cx="433.5" cy="93.7" r="0.5" fill="#6cc5cc"/>
<circle cx="404.5" cy="112.5" r="0.5" fill="#6cc5cc"/>
<circle cx="387.5" cy="82.2" r="0.5" fill="#6cc5cc"/>
<circle cx="437.6" cy="103.0" r="0.5" fill="#6cc5cc"/>
<circle cx="458.6" cy="96.5" r="0.5" fill="#f0b922"/>
<circle cx="407.3" cy="33.1" r="0.5" fill="#f0b922"/>
<circle cx="404.1" cy="49.7" r="0.5" fill="#f0b922"/>
<circle cx="457.0" cy="77.9" r="0.5" fill="#f0b922"/>
<circle cx="455.4" cy="78.1" r="0.5" fill="#f0b922"/>
<circle cx="445.5" cy="91.8" r="0.5" fill="#f0b922"/>
<circle cx="405.1" cy="54.1" r="0.5" fill="#f0b922"/>
<circle cx="414.0" cy="69.3" r="0.5" fill="#f0b922"/>
<circle cx="458.2" cy="92.0" r="0.5" fill="#f0b922"/>
<circle cx="453.9" cy="62.3" r="0.5" fill="#f0b922"/>
<circle cx="459.9" cy="91.9" r="0.5" fill="#f0b922"/>
<circle cx="451.0" cy="59.4" r="0.5" fill="#f0b922"/>
<circle cx="431.8" cy="42.7" r="0.5" fill="#f0b922"/>
<circle cx="439.5" cy="96.4" r="0.5" fill="#f0b922"/>
<circle cx="456.4" cy="69.0" r="0.5" fill="#f0b922"/>
<circle cx="419.0" cy="34.9" r="0.5" fill="#f0b922"/>
<circle cx="439.4" cy="56.5" r="0.5" fill="#f0b922"/>
<circle cx="450.5" cy="91.6" r="0.5" fill="#f0b922"/>
<circle cx="409.9" cy="32.5" r="0.5" fill="#f0b922"/>
<circle cx="412.0" cy="33.1" r="0.5" fill="#f0b922"/>
<circle cx="456.3" cy="68.9" r="0.5" fill="#f0b922"/>
<circle cx="418.1" cy="73.2" r="0.5" fill="#f0b922"/>
<circle cx="438.5" cy="58.1" r="0.5" fill="#f0b922"/>
<circle cx="408.1" cy="33.4" r="0.5" fill="#f0b922"/>
<circle cx="413.8" cy="33.1" r="0.5" fill="#f0b922"/>
<circle cx="433.4" cy="95.1" r="0.5" fill="#f0b922"/>
<circle cx="420.6" cy="35.7" r="0.5" fill="#f0b922"/>
<circle cx="405.7" cy="49.4" r="0.5" fill="#f0b922"/>
<circle cx="451.8" cy="92.2" r="0.5" fill="#f0b922"/>
<circle cx="454.1" cy="93.5" r="0.5" fill="#f0b922"/>
<circle cx="406.2" cy="33.9" r="0.5" fill="#f0b922"/>
<circle cx="409.5" cy="63.3" r="0.5" fill="#f0b922"/>
<circle cx="456.1" cy="85.5" r="0.5" fill="#f0b922"/>
<circle cx="450.0" cy="59.8" r="0.5" fill="#f0b922"/>
<circle cx="435.8" cy="98.4" r="0.5" fill="#f0b922"/>
<circle cx="438.8" cy="56.6" r="0.5" fill="#f0b922"/>
<circle cx="436.1" cy="97.8" r="0.5" fill="#f0b922"/>
<circle cx="421.6" cy="35.6" r="0.5" fill="#f0b922"/>
<circle cx="424.1" cy="79.2" r="0.5" fill="#f0b922"/>
<circle cx="425.8" cy="83.2" r="0.5" fill="#f0b922"/>
<circle cx="435.1" cy="92.8" r="0.5" fill="#f0b922"/>
<circle cx="436.4" cy="96.2" r="0.5" fill="#f0b922"/>
<circle cx="463.2" cy="96.2" r="0.5" fill="#f0b922"/>
<circle cx="443.4" cy="59.2" r="0.5" fill="#f0b922"/>
<circle cx="460.5" cy="96.8" r="0.5" fill="#f0b922"/>
<circle cx="414.3" cy="32.4" r="0.5" fill="#f0b922"/>
<circle cx="445.2" cy="58.1" r="0.5" fill="#f0b922"/>
<circle cx="456.6" cy="77.6" r="0.5" fill="#f0b922"/>
<circle cx="434.8" cy="45.3" r="0.5" fill="#f0b922"/>
<circle cx="421.6" cy="36.4" r="0.5" fill="#f0b922"/>
<circle cx="452.2" cy="113.0" r="0.5" fill="#64a85a"/>
<circle cx="443.4" cy="110.8" r="0.5" fill="#64a85a"/>
<circle cx="434.8" cy="118.9" r="0.5" fill="#64a85a"/>
<circle cx="457.5" cy="117.1" r="0.5" fill="#64a85a"/>
<circle cx="444.2" cy="108.4" r="0.5" fill="#64a85a"/>
<circle cx="461.8" cy="124.2" r="0.5" fill="#64a85a"/>
<circle cx="434.3" cy="100.1" r="0.5" fill="#64a85a"/>
<circle cx="459.1" cy="121.9" r="0.5" fill="#64a85a"/>
<circle cx="438.4" cy="121.7" r="0.5" fill="#64a85a"/>
<circle cx="457.5" cy="125.4" r="0.5" fill="#64a85a"/>
<circle cx="438.4" cy="103.5" r="0.5" fill="#64a85a"/>
<circle cx="460.1" cy="126.4" r="0.5" fill="#64a85a"/>
<circle cx="445.7" cy="114.4" r="0.5" fill="#64a85a"/>
<circle cx="443.4" cy="127.1" r="0.5" fill="#64a85a"/>
<circle cx="441.8" cy="108.7" r="0.5" fill="#64a85a"/>
<circle cx="458.9" cy="118.6" r="0.5" fill="#64a85a"/>
<circle cx="448.9" cy="129.1" r="0.5" fill="#64a85a"/>
<circle cx="435.6" cy="119.3" r="0.5" fill="#64a85a"/>
<circle cx="439.1" cy="101.6" r="0.5" fill="#64a85a"/>
<circle cx="436.1" cy="98.7" r="0.5" fill="#64a85a"/>
<circle cx="439.8" cy="103.5" r="0.5" fill="#64a85a"/>
<circle cx="434.0" cy="117.1" r="0.5" fill="#64a85a"/>
<circle cx="460.2" cy="122.5" r="0.5" fill="#64a85a"/>
<circle cx="447.2" cy="126.4" r="0.5" fill="#64a85a"/>
<circle cx="459.6" cy="121.7" r="0.5" fill="#64a85a"/>
<circle cx="441.0" cy="125.0" r="0.5" fill="#64a85a"/>
<circle cx="435.6" cy="100.2" r="0.5" fill="#64a85a"/>
<circle cx="459.2" cy="122.8" r="0.5" fill="#64a85a"/>
<circle cx="448.1" cy="110.9" r="0.5" fill="#64a85a"/>
<circle cx="441.6" cy="125.1" r="0.5" fill="#64a85a"/>
<circle cx="457.1" cy="131.1" r="0.5" fill="#64a85a"/>
<circle cx="441.5" cy="107.0" r="0.5" fill="#64a85a"/>
<circle cx="440.0" cy="106.3" r="0.5" fill="#64a85a"/>
<circle cx="431.9" cy="117.5" r="0.5" fill="#64a85a"/>
<circle cx="459.4" cy="127.0" r="0.5" fill="#64a85a"/>
<circle cx="447.1" cy="127.9" r="0.5" fill="#64a85a"/>
<circle cx="455.2" cy="117.5" r="0.5" fill="#64a85a"/>
<circle cx="444.8" cy="126.6" r="0.5" fill="#64a85a"/>
<circle cx="441.5" cy="105.0" r="0.5" fill="#64a85a"/>
<circle cx="457.1" cy="126.6" r="0.5" fill="#64a85a"/>
<circle cx="517.5" cy="99.3" r="0.5" fill="#3f6db5"/>
<circle cx="519.1" cy="134.5" r="0.5" fill="#3f6db5"/>
<circle cx="492.6" cy="110.2" r="0.5" fill="#3f6db5"/>
<circle cx="520.2" cy="101.0" r="0.5" fill="#3f6db5"/>
<circle cx="515.6" cy="134.9" r="0.5" fill="#3f6db5"/>
<circle cx="513.4" cy="97.3" r="0.5" fill="#3f6db5"/>
<circle cx="493.3" cy="98.1" r="0.5" fill="#3f6db5"/>
<circle cx="499.8" cy="97.1" r="0.5" fill="#3f6db5"/>
<circle cx="515.5" cy="97.8" r="0.5" fill="#3f6db5"/>
<circle cx="493.2" cy="98.8" r="0.5" fill="#3f6db5"/>
<circle cx="528.8" cy="121.9" r="0.5" fill="#3f6db5"/>
<circle cx="491.6" cy="104.6" r="0.5" fill="#3f6db5"/>
<circle cx="518.5" cy="102.9" r="0.5" fill="#3f6db5"/>
<circle cx="492.9" cy="103.9" r="0.5" fill="#3f6db5"/>
<circle cx="527.9" cy="131.7" r="0.5" fill="#3f6db5"/>
<circle cx="520.5" cy="102.9" r="0.5" fill="#3f6db5"/>
<circle cx="498.1" cy="126.1" r="0.5" fill="#3f6db5"/>
<circle cx="529.7" cy="110.1" r="0.5" fill="#3f6db5"/>
<circle cx="505.6" cy="131.7" r="0.5" fill="#3f6db5"/>
<circle cx="500.4" cy="126.2" r="0.5" fill="#3f6db5"/>
<circle cx="528.3" cy="122.1" r="0.5" fill="#3f6db5"/>
<circle cx="515.8" cy="98.5" r="0.5" fill="#3f6db5"/>
<circle cx="492.4" cy="106.3" r="0.5" fill="#3f6db5"/>
<circle cx="490.6" cy="99.8" r="0.5" fill="#3f6db5"/>
<circle cx="502.4" cy="97.2" r="0.5" fill="#3f6db5"/>
<circle cx="491.2" cy="121.4" r="0.5" fill="#3f6db5"/>
<circle cx="531.8" cy="117.3" r="0.5" fill="#3f6db5"/>
<circle cx="495.1" cy="119.7" r="0.5" fill="#3f6db5"/>
<circle cx="500.3" cy="129.2" r="0.5" fill="#3f6db5"/>
<circle cx="525.8" cy="132.2" r="0.5" fill="#3f6db5"/>
<circle cx="493.3" cy="117.4" r="0.5" fill="#3f6db5"/>
<circle cx="494.1" cy="119.1" r="0.5" fill="#3f6db5"/>
<circle cx="491.3" cy="102.5" r="0.5" fill="#3f6db5"/>
<circle cx="528.3" cy="123.2" r="0.5" fill="#3f6db5"/>
<circle cx="494.0" cy="98.8" r="0.5" fill="#3f6db5"/>
<circle cx="508.2" cy="133.7" r="0.5" fill="#3f6db5"/>
<circle cx="513.4" cy="98.5" r="0.5" fill="#3f6db5"/>
<circle cx="523.5" cy="134.2" r="0.5" fill="#3f6db5"/>
<circle cx="527.8" cy="127.0" r="0.5" fill="#3f6db5"/>
<circle cx="500.3" cy="97.8" r="0.5" fill="#3f6db5"/>
<circle cx="502.1" cy="95.2" r="0.5" fill="#3f6db5"/>
<circle cx="492.8" cy="100.8" r="0.5" fill="#3f6db5"/>
<circle cx="491.4" cy="99.7" r="0.5" fill="#3f6db5"/>
<circle cx="497.6" cy="97.6" r="0.5" fill="#3f6db5"/>
<circle cx="522.5" cy="105.5" r="0.5" fill="#3f6db5"/>
<circle cx="497.2" cy="124.7" r="0.5" fill="#3f6db5"/>
<circle cx="515.8" cy="99.0" r="0.5" fill="#3f6db5"/>
<circle cx="500.4" cy="130.2" r="0.5" fill="#3f6db5"/>
<circle cx="504.7" cy="132.2" r="0.5" fill="#3f6db5"/>
<circle cx="490.0" cy="109.0" r="0.5" fill="#3f6db5"/>
<circle cx="503.2" cy="96.7" r="0.5" fill="#3f6db5"/>
<circle cx="524.8" cy="108.9" r="0.5" fill="#3f6db5"/>
<circle cx="491.6" cy="103.2" r="0.5" fill="#3f6db5"/>
<circle cx="497.5" cy="98.2" r="0.5" fill="#3f6db5"/>
<circle cx="526.4" cy="124.3" r="0.5" fill="#3f6db5"/>
<circle cx="528.2" cy="113.5" r="0.5" fill="#3f6db5"/>
<circle cx="506.5" cy="132.2" r="0.5" fill="#3f6db5"/>
<circle cx="491.5" cy="104.6" r="0.5" fill="#3f6db5"/>
<circle cx="496.6" cy="122.0" r="0.5" fill="#3f6db5"/>
<circle cx="527.9" cy="123.1" r="0.5" fill="#3f6db5"/>
<circle cx="514.1" cy="92.9" r="0.50" fill="#3f6db5"/>
<circle cx="495.2" cy="94.2" r="0.50" fill="#3f6db5"/>
<circle cx="502.5" cy="92.2" r="0.50" fill="#3f6db5"/>
<circle cx="509.2" cy="95.4" r="0.50" fill="#3f6db5"/>
<circle cx="520.8" cy="93.8" r="0.50" fill="#3f6db5"/>
<circle cx="501.7" cy="91.1" r="0.50" fill="#3f6db5"/>
<circle cx="502.5" cy="91.5" r="0.50" fill="#3f6db5"/>
<circle cx="502.4" cy="95.8" r="0.50" fill="#3f6db5"/>
<circle cx="503.0" cy="93.6" r="0.50" fill="#3f6db5"/>
<circle cx="507.9" cy="90.8" r="0.50" fill="#3f6db5"/>
<circle cx="512.4" cy="96.4" r="0.50" fill="#3f6db5"/>
<circle cx="502.8" cy="93.1" r="0.50" fill="#3f6db5"/>
<circle cx="506.8" cy="88.5" r="0.50" fill="#3f6db5"/>
<circle cx="521.8" cy="93.4" r="0.50" fill="#3f6db5"/>
<circle cx="506.3" cy="92.2" r="0.50" fill="#3f6db5"/>
<circle cx="505.1" cy="89.0" r="0.50" fill="#3f6db5"/>
<circle cx="519.6" cy="88.7" r="0.50" fill="#3f6db5"/>
<circle cx="508.1" cy="96.4" r="0.50" fill="#3f6db5"/>
<circle cx="503.6" cy="87.2" r="0.50" fill="#3f6db5"/>
<circle cx="506.1" cy="92.6" r="0.50" fill="#3f6db5"/>
<circle cx="508.1" cy="96.5" r="0.50" fill="#3f6db5"/>
<circle cx="500.1" cy="89.4" r="0.50" fill="#3f6db5"/>
<circle cx="498.7" cy="92.5" r="0.50" fill="#3f6db5"/>
<circle cx="501.0" cy="90.1" r="0.50" fill="#3f6db5"/>
<circle cx="511.3" cy="89.0" r="0.50" fill="#3f6db5"/>
<circle cx="504.9" cy="70.1" r="0.5" fill="#9c7258"/>
<circle cx="532.3" cy="50.5" r="0.5" fill="#9c7258"/>
<circle cx="513.0" cy="84.8" r="0.5" fill="#9c7258"/>
<circle cx="521.5" cy="45.6" r="0.5" fill="#9c7258"/>
<circle cx="522.3" cy="79.4" r="0.5" fill="#9c7258"/>
<circle cx="504.2" cy="68.9" r="0.5" fill="#9c7258"/>
<circle cx="511.3" cy="88.8" r="0.5" fill="#9c7258"/>
<circle cx="532.4" cy="42.3" r="0.5" fill="#9c7258"/>
<circle cx="529.3" cy="58.1" r="0.5" fill="#9c7258"/>
<circle cx="530.4" cy="55.4" r="0.5" fill="#9c7258"/>
<circle cx="521.4" cy="43.6" r="0.5" fill="#9c7258"/>
<circle cx="514.3" cy="78.2" r="0.5" fill="#9c7258"/>
<circle cx="530.6" cy="53.0" r="0.5" fill="#9c7258"/>
<circle cx="531.9" cy="50.8" r="0.5" fill="#9c7258"/>
<circle cx="504.5" cy="71.9" r="0.5" fill="#9c7258"/>
<circle cx="506.6" cy="69.7" r="0.5" fill="#9c7258"/>
<circle cx="525.3" cy="64.2" r="0.5" fill="#9c7258"/>
<circle cx="513.3" cy="78.6" r="0.5" fill="#9c7258"/>
<circle cx="514.0" cy="92.3" r="0.5" fill="#9c7258"/>
<circle cx="505.8" cy="67.1" r="0.5" fill="#9c7258"/>
<circle cx="515.2" cy="94.0" r="0.5" fill="#9c7258"/>
<circle cx="509.7" cy="65.7" r="0.5" fill="#9c7258"/>
<circle cx="521.7" cy="87.7" r="0.5" fill="#9c7258"/>
<circle cx="507.3" cy="67.9" r="0.5" fill="#9c7258"/>
<circle cx="531.5" cy="48.5" r="0.5" fill="#9c7258"/>
<circle cx="521.2" cy="81.9" r="0.5" fill="#9c7258"/>
<circle cx="513.9" cy="92.9" r="0.5" fill="#9c7258"/>
<circle cx="518.4" cy="53.8" r="0.5" fill="#9c7258"/>
<circle cx="522.9" cy="43.6" r="0.5" fill="#9c7258"/>
<circle cx="517.5" cy="56.9" r="0.5" fill="#9c7258"/>
<circle cx="448.0" cy="99.0" r="0.50" fill="#4a70c0"/>
<circle cx="452.0" cy="103.0" r="0.50" fill="#4a70c0"/>
<circle cx="457.0" cy="110.0" r="0.50" fill="#4a70c0"/>
<circle cx="444.0" cy="104.0" r="0.50" fill="#4a70c0"/>
<circle cx="461.0" cy="98.0" r="0.50" fill="#4a70c0"/>
<circle cx="447.0" cy="121.0" r="0.50" fill="#4a70c0"/>
<circle cx="455.0" cy="123.0" r="0.50" fill="#4a70c0"/>
<circle cx="470.0" cy="94.0" r="0.50" fill="#4a70c0"/>
<circle cx="491.0" cy="91.0" r="0.50" fill="#4a70c0"/>
<circle cx="426.6" cy="49.6" r="0.50" fill="#f0b922"/>
<circle cx="406.5" cy="69.9" r="0.50" fill="#f0b922"/>
<circle cx="431.0" cy="49.2" r="0.50" fill="#f0b922"/>
<circle cx="416.8" cy="94.5" r="0.50" fill="#f0b922"/>
<circle cx="420.0" cy="40.1" r="0.50" fill="#f0b922"/>
<circle cx="429.5" cy="62.5" r="0.50" fill="#f0b922"/>
<circle cx="425.5" cy="87.6" r="0.50" fill="#f0b922"/>
<circle cx="406.5" cy="100.3" r="0.50" fill="#f0b922"/>
<circle cx="417.7" cy="64.5" r="0.50" fill="#f0b922"/>
<circle cx="420.2" cy="76.4" r="0.50" fill="#f0b922"/>
<circle cx="419.3" cy="84.2" r="0.50" fill="#f0b922"/>
<circle cx="423.0" cy="51.5" r="0.50" fill="#f0b922"/>
<circle cx="409.8" cy="40.1" r="0.50" fill="#f0b922"/>
<circle cx="422.8" cy="95.5" r="0.50" fill="#f0b922"/>
<circle cx="424.8" cy="43.1" r="0.50" fill="#f0b922"/>
<circle cx="411.6" cy="74.5" r="0.50" fill="#f0b922"/>
<circle cx="393.3" cy="54.6" r="0.50" fill="#f0b922"/>
<circle cx="430.9" cy="101.4" r="0.50" fill="#f0b922"/>
<circle cx="398.5" cy="99.7" r="0.50" fill="#f0b922"/>
<circle cx="416.6" cy="67.7" r="0.50" fill="#f0b922"/>
<circle cx="416.4" cy="56.5" r="0.50" fill="#f0b922"/>
<circle cx="400.0" cy="40.7" r="0.50" fill="#f0b922"/>
<circle cx="416.9" cy="81.9" r="0.50" fill="#f0b922"/>
<circle cx="420.7" cy="76.3" r="0.50" fill="#f0b922"/>
<circle cx="407.1" cy="62.1" r="0.50" fill="#f0b922"/>
<circle cx="420.4" cy="66.8" r="0.50" fill="#f0b922"/>
<circle cx="414.3" cy="94.5" r="0.50" fill="#f0b922"/>
<circle cx="407.6" cy="89.4" r="0.50" fill="#f0b922"/>
<circle cx="390.7" cy="58.8" r="0.50" fill="#f0b922"/>
<circle cx="425.0" cy="50.6" r="0.50" fill="#f0b922"/>
<circle cx="390.5" cy="41.0" r="0.50" fill="#f0b922"/>
<circle cx="421.7" cy="47.7" r="0.50" fill="#f0b922"/>
<circle cx="408.2" cy="71.6" r="0.50" fill="#f0b922"/>
<circle cx="423.3" cy="74.3" r="0.50" fill="#f0b922"/>
<circle cx="411.0" cy="41.8" r="0.50" fill="#f0b922"/>
<circle cx="423.0" cy="95.3" r="0.50" fill="#f0b922"/>
<circle cx="415.4" cy="100.1" r="0.50" fill="#f0b922"/>
<circle cx="415.0" cy="91.6" r="0.50" fill="#f0b922"/>
<circle cx="425.4" cy="84.4" r="0.50" fill="#f0b922"/>
<circle cx="388.9" cy="103.7" r="0.50" fill="#f0b922"/>
<circle cx="431.5" cy="54.5" r="0.50" fill="#f0b922"/>
<circle cx="390.9" cy="64.5" r="0.50" fill="#f0b922"/>
<circle cx="392.4" cy="66.6" r="0.50" fill="#f0b922"/>
<circle cx="391.9" cy="55.9" r="0.50" fill="#f0b922"/>
<circle cx="388.1" cy="70.9" r="0.50" fill="#f0b922"/>
<circle cx="401.2" cy="92.5" r="0.50" fill="#f0b922"/>
<circle cx="405.1" cy="52.0" r="0.50" fill="#f0b922"/>
<circle cx="429.9" cy="104.4" r="0.50" fill="#f0b922"/>
<circle cx="418.3" cy="55.6" r="0.50" fill="#f0b922"/>
<circle cx="405.7" cy="72.5" r="0.50" fill="#f0b922"/>
<circle cx="406.0" cy="41.9" r="0.50" fill="#f0b922"/>
<circle cx="408.1" cy="95.3" r="0.50" fill="#f0b922"/>
<circle cx="418.5" cy="101.9" r="0.50" fill="#f0b922"/>
<circle cx="418.0" cy="94.9" r="0.50" fill="#f0b922"/>
<circle cx="426.3" cy="106.0" r="0.50" fill="#f0b922"/>
<circle cx="422.9" cy="70.0" r="0.50" fill="#f0b922"/>
<circle cx="417.0" cy="87.4" r="0.50" fill="#f0b922"/>
<circle cx="426.8" cy="91.4" r="0.50" fill="#f0b922"/>
<circle cx="407.5" cy="53.7" r="0.50" fill="#f0b922"/>
<circle cx="402.4" cy="58.0" r="0.50" fill="#f0b922"/>
<circle cx="418.0" cy="95.4" r="0.50" fill="#f0b922"/>
<circle cx="396.5" cy="78.4" r="0.50" fill="#f0b922"/>
<circle cx="425.0" cy="66.3" r="0.50" fill="#f0b922"/>
<circle cx="392.2" cy="83.6" r="0.50" fill="#f0b922"/>
<circle cx="403.9" cy="50.4" r="0.50" fill="#f0b922"/>
<circle cx="400.7" cy="40.5" r="0.50" fill="#f0b922"/>
<circle cx="394.6" cy="70.6" r="0.50" fill="#f0b922"/>
<circle cx="392.6" cy="40.4" r="0.50" fill="#f0b922"/>
<circle cx="412.2" cy="109.0" r="0.50" fill="#f0b922"/>
<circle cx="424.7" cy="63.5" r="0.50" fill="#f0b922"/>
<circle cx="390.9" cy="26.6" r="0.50" fill="#6cc5cc"/>
<circle cx="380.1" cy="24.2" r="0.50" fill="#6cc5cc"/>
<circle cx="378.8" cy="43.3" r="0.50" fill="#6cc5cc"/>
<circle cx="388.6" cy="39.3" r="0.50" fill="#6cc5cc"/>
<circle cx="389.2" cy="38.4" r="0.50" fill="#6cc5cc"/>
<circle cx="390.9" cy="43.5" r="0.50" fill="#6cc5cc"/>
<circle cx="385.5" cy="29.5" r="0.50" fill="#6cc5cc"/>
<circle cx="384.0" cy="38.1" r="0.50" fill="#6cc5cc"/>
<circle cx="389.5" cy="31.3" r="0.50" fill="#6cc5cc"/>
<circle cx="382.1" cy="50.1" r="0.50" fill="#6cc5cc"/>
<circle cx="379.0" cy="41.2" r="0.50" fill="#6cc5cc"/>
<circle cx="381.1" cy="45.3" r="0.50" fill="#6cc5cc"/>
<circle cx="386.3" cy="27.0" r="0.50" fill="#6cc5cc"/>
<circle cx="388.2" cy="37.0" r="0.50" fill="#6cc5cc"/>
<circle cx="382.5" cy="51.4" r="0.50" fill="#6cc5cc"/>
<circle cx="388.9" cy="33.9" r="0.50" fill="#6cc5cc"/>
<circle cx="387.5" cy="28.0" r="0.50" fill="#6cc5cc"/>
<circle cx="385.3" cy="26.6" r="0.50" fill="#6cc5cc"/>
<circle cx="387.0" cy="53.3" r="0.50" fill="#6cc5cc"/>
<circle cx="386.9" cy="25.3" r="0.50" fill="#6cc5cc"/>
<circle cx="385.2" cy="39.0" r="0.50" fill="#6cc5cc"/>
<circle cx="384.2" cy="28.8" r="0.50" fill="#6cc5cc"/>
<circle cx="381.9" cy="38.4" r="0.50" fill="#6cc5cc"/>
<circle cx="379.0" cy="45.6" r="0.50" fill="#6cc5cc"/>
<circle cx="381.4" cy="33.3" r="0.50" fill="#6cc5cc"/>
<circle cx="379.3" cy="33.7" r="0.50" fill="#6cc5cc"/>
<circle cx="391.0" cy="33.3" r="0.50" fill="#6cc5cc"/>
<circle cx="379.3" cy="35.1" r="0.50" fill="#6cc5cc"/>
<circle cx="391.2" cy="26.8" r="0.50" fill="#6cc5cc"/>
<circle cx="382.8" cy="30.7" r="0.50" fill="#6cc5cc"/>
<circle cx="387.5" cy="38.8" r="0.50" fill="#6cc5cc"/>
<circle cx="379.4" cy="51.6" r="0.50" fill="#6cc5cc"/>
<circle cx="382.6" cy="46.0" r="0.50" fill="#6cc5cc"/>
<circle cx="384.3" cy="51.9" r="0.50" fill="#6cc5cc"/>
<circle cx="378.8" cy="31.3" r="0.50" fill="#6cc5cc"/>
<circle cx="382.0" cy="32.5" r="0.50" fill="#6cc5cc"/>
<circle cx="389.5" cy="40.1" r="0.50" fill="#6cc5cc"/>
<circle cx="382.9" cy="40.2" r="0.50" fill="#6cc5cc"/>
<circle cx="389.8" cy="42.2" r="0.50" fill="#6cc5cc"/>
<circle cx="384.3" cy="45.0" r="0.50" fill="#6cc5cc"/>
<circle cx="386.6" cy="37.0" r="0.50" fill="#6cc5cc"/>
<circle cx="384.0" cy="28.2" r="0.50" fill="#6cc5cc"/>
<circle cx="384.1" cy="52.1" r="0.50" fill="#6cc5cc"/>
<circle cx="382.3" cy="35.7" r="0.50" fill="#6cc5cc"/>
<circle cx="386.4" cy="42.9" r="0.50" fill="#6cc5cc"/>
<circle cx="380.5" cy="38.3" r="0.50" fill="#6cc5cc"/>
<circle cx="388.3" cy="25.3" r="0.50" fill="#6cc5cc"/>
<circle cx="379.5" cy="48.2" r="0.50" fill="#6cc5cc"/>
<circle cx="390.7" cy="26.2" r="0.50" fill="#6cc5cc"/>
<circle cx="379.1" cy="44.1" r="0.50" fill="#6cc5cc"/>
<circle cx="408.5" cy="65.6" r="0.50" fill="#6cc5cc"/>
<circle cx="402.8" cy="57.2" r="0.50" fill="#6cc5cc"/>
<circle cx="405.7" cy="52.0" r="0.50" fill="#6cc5cc"/>
<circle cx="418.0" cy="59.4" r="0.50" fill="#6cc5cc"/>
<circle cx="421.6" cy="73.4" r="0.50" fill="#6cc5cc"/>
<circle cx="416.2" cy="73.6" r="0.50" fill="#6cc5cc"/>
<circle cx="406.1" cy="57.9" r="0.50" fill="#6cc5cc"/>
<circle cx="409.3" cy="64.2" r="0.50" fill="#6cc5cc"/>
<circle cx="404.6" cy="75.2" r="0.50" fill="#6cc5cc"/>
<circle cx="410.5" cy="70.9" r="0.50" fill="#6cc5cc"/>
<circle cx="423.7" cy="77.5" r="0.50" fill="#6cc5cc"/>
<circle cx="411.0" cy="74.0" r="0.50" fill="#6cc5cc"/>
<circle cx="424.9" cy="43.5" r="0.50" fill="#6cc5cc"/>
<circle cx="419.2" cy="68.5" r="0.50" fill="#6cc5cc"/>
<circle cx="412.5" cy="49.7" r="0.50" fill="#6cc5cc"/>
<circle cx="406.0" cy="55.3" r="0.50" fill="#6cc5cc"/>
<circle cx="423.4" cy="54.9" r="0.50" fill="#6cc5cc"/>
<circle cx="407.9" cy="64.0" r="0.50" fill="#6cc5cc"/>
<circle cx="412.1" cy="63.8" r="0.50" fill="#6cc5cc"/>
<circle cx="412.5" cy="50.0" r="0.50" fill="#6cc5cc"/>
<circle cx="402.8" cy="72.4" r="0.50" fill="#6cc5cc"/>
<circle cx="417.2" cy="48.2" r="0.50" fill="#6cc5cc"/>
<circle cx="413.5" cy="62.4" r="0.50" fill="#6cc5cc"/>
<circle cx="413.6" cy="75.8" r="0.50" fill="#6cc5cc"/>
<circle cx="419.9" cy="50.9" r="0.50" fill="#6cc5cc"/>
<circle cx="409.8" cy="63.7" r="0.50" fill="#6cc5cc"/>
<circle cx="405.7" cy="77.2" r="0.50" fill="#6cc5cc"/>
<circle cx="403.0" cy="59.0" r="0.50" fill="#6cc5cc"/>
<circle cx="408.3" cy="60.1" r="0.50" fill="#6cc5cc"/>
<circle cx="403.0" cy="47.4" r="0.50" fill="#6cc5cc"/>
<circle cx="499.8" cy="111.8" r="0.60" fill="#f0b922"/>
<circle cx="489.1" cy="105.1" r="0.60" fill="#f0b922"/>
<circle cx="486.5" cy="98.4" r="0.60" fill="#f0b922"/>
<circle cx="488.7" cy="115.7" r="0.60" fill="#f0b922"/>
<circle cx="490.4" cy="101.0" r="0.60" fill="#f0b922"/>
<circle cx="486.9" cy="98.2" r="0.60" fill="#f0b922"/>
<circle cx="499.9" cy="110.8" r="0.60" fill="#f0b922"/>
<circle cx="498.9" cy="112.7" r="0.60" fill="#f0b922"/>
<circle cx="497.0" cy="101.1" r="0.60" fill="#f0b922"/>
<circle cx="488.4" cy="101.4" r="0.60" fill="#f0b922"/>
<circle cx="486.9" cy="99.5" r="0.60" fill="#f0b922"/>
<circle cx="496.1" cy="105.8" r="0.60" fill="#f0b922"/>
<path d="M422.1,79.1h1.0v1.0h-1.0zM434.9,97.3h0.9v0.9h-0.9zM402.6,45.4h0.8v0.8h-0.8zM405.7,69.0h0.8v0.8h-0.8zM391.5,38.3h1.0v1.0h-1.0zM392.0,61.5h0.8v0.8h-0.8zM427.5,89.8h0.8v0.8h-0.8zM401.5,40.3h1.0v1.0h-1.0zM413.2,106.3h0.9v0.9h-0.9zM401.0,63.0h0.9v0.9h-0.9zM399.0,100.0h0.9v0.9h-0.9zM408.6,71.2h0.8v0.8h-0.8zM436.3,103.2h1.0v1.0h-1.0zM418.8,91.6h0.9v0.9h-0.9zM428.8,105.6h0.8v0.8h-0.8zM403.8,64.0h0.8v0.8h-0.8zM418.9,87.2h0.8v0.8h-0.8zM388.1,31.5h0.9v0.9h-0.9zM391.0,63.0h0.9v0.9h-0.9zM400.1,54.8h1.0v1.0h-1.0zM410.2,74.8h0.9v0.9h-0.9zM401.3,53.5h0.8v0.8h-0.8zM410.3,66.9h1.0v1.0h-1.0zM421.7,87.6h1.0v1.0h-1.0zM407.4,60.5h0.8v0.8h-0.8zM427.4,88.4h1.0v1.0h-1.0zM428.3,88.2h0.8v0.8h-0.8zM404.7,93.3h1.0v1.0h-1.0zM424.1,88.4h1.0v1.0h-1.0zM427.9,103.9h1.0v1.0h-1.0zM434.1,97.3h0.8v0.8h-0.8zM388.3,38.5h0.8v0.8h-0.8zM412.8,112.1h0.9v0.9h-0.9zM420.2,83.1h0.8v0.8h-0.8zM416.2,92.7h0.8v0.8h-0.8zM389.4,83.5h0.8v0.8h-0.8zM415.7,73.3h1.0v1.0h-1.0zM418.1,84.2h1.0v1.0h-1.0zM398.5,73.9h0.8v0.8h-0.8zM400.5,35.8h0.9v0.9h-0.9zM409.6,66.6h1.0v1.0h-1.0zM405.0,79.3h1.0v1.0h-1.0zM419.5,80.3h1.0v1.0h-1.0zM402.8,50.8h0.8v0.8h-0.8zM411.2,90.5h0.8v0.8h-0.8zM415.7,74.7h0.9v0.9h-0.9zM409.0,87.4h1.0v1.0h-1.0zM402.7,52.7h0.8v0.8h-0.8zM408.6,71.1h0.9v0.9h-0.9zM424.6,86.9h0.8v0.8h-0.8zM390.1,27.2h0.9v0.9h-0.9zM389.7,32.2h0.9v0.9h-0.9zM400.1,45.1h1.0v1.0h-1.0zM426.6,109.1h0.9v0.9h-0.9zM408.3,63.3h0.9v0.9h-0.9zM403.0,46.8h1.0v1.0h-1.0zM424.7,87.4h0.9v0.9h-0.9zM419.4,99.1h0.9v0.9h-0.9zM416.9,72.8h0.9v0.9h-0.9zM390.3,38.7h0.8v0.8h-0.8zM390.1,43.1h0.8v0.8h-0.8zM426.2,97.2h0.9v0.9h-0.9zM431.8,111.6h1.0v1.0h-1.0zM394.4,29.9h0.9v0.9h-0.9zM432.8,102.4h0.8v0.8h-0.8zM398.7,57.2h0.8v0.8h-0.8zM428.1,95.6h0.8v0.8h-0.8zM394.2,30.8h0.9v0.9h-0.9zM430.4,91.9h0.8v0.8h-0.8zM408.2,81.6h1.0v1.0h-1.0zM389.5,68.1h0.9v0.9h-0.9zM424.7,83.0h0.9v0.9h-0.9zM388.5,42.7h0.9v0.9h-0.9zM400.2,67.3h1.0v1.0h-1.0zM401.7,58.4h0.8v0.8h-0.8zM434.2,98.2h0.8v0.8h-0.8zM385.4,30.0h0.8v0.8h-0.8zM430.2,93.1h0.8v0.8h-0.8zM401.9,35.7h0.9v0.9h-0.9zM426.4,117.5h1.0v1.0h-1.0zM414.2,72.3h0.8v0.8h-0.8zM397.3,47.9h0.8v0.8h-0.8zM426.5,104.9h0.8v0.8h-0.8zM402.4,94.6h0.9v0.9h-0.9zM401.3,51.9h1.0v1.0h-1.0zM412.3,73.5h1.0v1.0h-1.0zM413.4,71.5h0.8v0.8h-0.8zM403.6,53.6h1.0v1.0h-1.0zM417.1,79.6h0.8v0.8h-0.8zM398.7,88.9h1.0v1.0h-1.0zM411.7,67.3h0.8v0.8h-0.8zM432.7,105.0h1.0v1.0h-1.0zM426.6,86.8h0.9v0.9h-0.9zM428.6,99.6h0.9v0.9h-0.9zM397.0,60.2h0.9v0.9h-0.9zM391.0,73.5h1.0v1.0h-1.0zM385.3,33.8h0.9v0.9h-0.9zM402.8,43.4h0.8v0.8h-0.8zM401.8,89.3h0.8v0.8h-0.8zM431.9,99.1h1.0v1.0h-1.0zM393.3,69.6h1.0v1.0h-1.0zM427.8,94.9h0.9v0.9h-0.9zM400.9,39.3h0.9v0.9h-0.9zM419.3,109.8h0.9v0.9h-0.9zM388.1,46.6h1.0v1.0h-1.0zM409.7,63.8h1.0v1.0h-1.0zM402.5,40.8h1.0v1.0h-1.0zM399.7,47.3h1.0v1.0h-1.0zM395.9,46.2h1.0v1.0h-1.0zM386.0,41.3h0.8v0.8h-0.8zM419.0,76.4h0.9v0.9h-0.9zM398.4,47.5h0.9v0.9h-0.9zM435.8,97.9h0.8v0.8h-0.8zM389.2,63.5h0.8v0.8h-0.8zM408.5,89.3h0.8v0.8h-0.8zM396.2,73.4h0.9v0.9h-0.9zM397.0,67.3h1.0v1.0h-1.0zM407.3,78.4h0.8v0.8h-0.8zM426.5,92.8h0.9v0.9h-0.9zM403.5,62.9h0.8v0.8h-0.8zM398.7,58.8h0.8v0.8h-0.8zM409.4,67.6h0.9v0.9h-0.9zM390.9,51.6h0.9v0.9h-0.9zM412.9,91.4h0.9v0.9h-0.9zM430.5,93.8h1.0v1.0h-1.0zM400.6,35.5h0.9v0.9h-0.9zM431.3,100.4h1.0v1.0h-1.0zM401.5,56.6h0.9v0.9h-0.9zM403.9,61.1h0.8v0.8h-0.8zM401.5,39.5h0.9v0.9h-0.9zM421.5,82.6h1.0v1.0h-1.0zM413.2,77.4h0.8v0.8h-0.8zM409.9,65.0h0.8v0.8h-0.8zM398.6,59.1h0.9v0.9h-0.9zM399.6,33.1h0.9v0.9h-0.9zM412.9,70.4h1.0v1.0h-1.0zM400.4,77.7h1.0v1.0h-1.0zM430.2,98.0h1.0v1.0h-1.0zM402.4,46.1h0.8v0.8h-0.8zM423.2,83.5h0.8v0.8h-0.8zM428.7,96.3h0.8v0.8h-0.8zM415.0,78.8h1.0v1.0h-1.0zM428.0,102.5h0.8v0.8h-0.8zM427.5,102.5h0.9v0.9h-0.9zM415.6,98.0h1.0v1.0h-1.0zM413.8,99.3h0.9v0.9h-0.9zM428.3,87.1h0.8v0.8h-0.8zM430.4,90.4h0.8v0.8h-0.8zM408.0,65.6h0.8v0.8h-0.8zM410.4,64.5h0.9v0.9h-0.9zM432.7,92.4h0.8v0.8h-0.8zM430.9,90.0h0.9v0.9h-0.9zM398.6,42.4h0.8v0.8h-0.8zM394.7,56.1h0.9v0.9h-0.9zM416.8,76.1h1.0v1.0h-1.0zM400.7,33.6h1.0v1.0h-1.0zM428.3,86.8h0.8v0.8h-0.8zM402.6,57.7h1.0v1.0h-1.0zM402.8,54.3h0.9v0.9h-0.9zM390.8,43.4h0.9v0.9h-0.9zM402.7,56.7h0.8v0.8h-0.8zM412.5,71.2h0.8v0.8h-0.8zM414.4,72.4h1.0v1.0h-1.0zM399.3,42.7h1.0v1.0h-1.0zM404.2,54.1h0.9v0.9h-0.9zM432.9,93.7h0.9v0.9h-0.9zM422.7,80.8h0.9v0.9h-0.9zM436.6,101.5h1.0v1.0h-1.0zM405.0,66.8h0.8v0.8h-0.8zM400.6,65.3h0.9v0.9h-0.9zM422.9,80.5h0.8v0.8h-0.8zM430.1,107.8h0.9v0.9h-0.9zM398.6,58.9h0.9v0.9h-0.9zM431.5,97.8h0.9v0.9h-0.9zM409.0,94.8h1.0v1.0h-1.0zM421.3,92.6h0.8v0.8h-0.8zM429.4,95.8h0.9v0.9h-0.9zM412.2,67.3h1.0v1.0h-1.0zM416.5,114.2h1.0v1.0h-1.0zM413.2,74.9h0.8v0.8h-0.8zM428.2,91.8h0.8v0.8h-0.8zM421.7,98.3h0.8v0.8h-0.8zM399.0,57.2h0.9v0.9h-0.9zM407.8,61.2h0.9v0.9h-0.9zM431.7,93.1h1.0v1.0h-1.0zM402.5,36.2h0.8v0.8h-0.8zM411.0,84.0h0.9v0.9h-0.9zM418.4,101.4h0.8v0.8h-0.8zM417.8,94.2h1.0v1.0h-1.0zM421.6,83.2h1.0v1.0h-1.0zM394.8,62.4h0.8v0.8h-0.8zM426.3,103.6h0.9v0.9h-0.9zM434.0,113.4h1.0v1.0h-1.0zM409.4,63.0h0.8v0.8h-0.8zM427.6,108.0h0.9v0.9h-0.9zM393.8,54.4h0.9v0.9h-0.9zM402.3,43.3h0.9v0.9h-0.9zM416.7,83.7h0.9v0.9h-0.9zM426.3,94.9h0.8v0.8h-0.8zM416.8,85.6h0.8v0.8h-0.8zM409.4,78.2h1.0v1.0h-1.0zM403.0,52.1h0.8v0.8h-0.8zM389.4,70.8h0.9v0.9h-0.9zM387.5,64.2h0.8v0.8h-0.8zM400.7,63.7h1.0v1.0h-1.0zM425.0,117.0h0.9v0.9h-0.9zM389.2,61.7h1.0v1.0h-1.0zM414.4,69.4h0.9v0.9h-0.9zM400.3,59.0h0.8v0.8h-0.8zM433.0,95.0h0.9v0.9h-0.9zM426.6,110.5h1.0v1.0h-1.0zM399.1,54.0h0.9v0.9h-0.9zM392.4,47.9h0.9v0.9h-0.9zM417.3,77.9h0.9v0.9h-0.9zM396.4,45.8h1.0v1.0h-1.0zM403.1,45.2h0.9v0.9h-0.9zM407.3,62.0h1.0v1.0h-1.0zM392.3,36.8h0.8v0.8h-0.8zM397.2,39.9h0.8v0.8h-0.8zM425.3,92.0h0.9v0.9h-0.9zM395.0,62.5h0.9v0.9h-0.9zM431.9,102.7h0.8v0.8h-0.8zM427.0,88.4h1.0v1.0h-1.0zM406.8,64.6h0.9v0.9h-0.9zM390.3,64.6h1.0v1.0h-1.0zM423.9,85.7h1.0v1.0h-1.0zM409.2,71.7h0.8v0.8h-0.8zM392.0,39.7h1.0v1.0h-1.0zM419.4,82.1h0.9v0.9h-0.9zM429.7,96.5h1.0v1.0h-1.0zM400.2,40.1h1.0v1.0h-1.0zM431.3,113.0h1.0v1.0h-1.0zM394.9,57.5h1.0v1.0h-1.0zM401.3,67.6h1.0v1.0h-1.0zM432.7,101.0h0.8v0.8h-0.8zM405.4,63.8h0.9v0.9h-0.9zM412.7,71.7h0.9v0.9h-0.9zM412.7,78.7h1.0v1.0h-1.0z" fill="#ecb830"/>
<path d="M432.6,81.2h1.0v1.0h-1.0zM436.1,96.5h0.8v0.8h-0.8zM413.0,55.5h0.8v0.8h-0.8zM422.7,64.7h0.8v0.8h-0.8zM421.3,74.8h1.0v1.0h-1.0zM420.1,68.7h0.9v0.9h-0.9zM409.6,35.0h0.8v0.8h-0.8zM433.6,82.6h1.0v1.0h-1.0zM433.6,61.0h1.0v1.0h-1.0zM426.2,79.3h0.8v0.8h-0.8zM436.0,96.0h1.0v1.0h-1.0zM405.7,43.2h1.0v1.0h-1.0zM435.6,60.7h1.0v1.0h-1.0zM404.2,33.9h0.9v0.9h-0.9zM415.4,65.6h1.0v1.0h-1.0zM413.2,64.9h0.9v0.9h-0.9zM434.6,48.7h0.8v0.8h-0.8zM426.3,83.5h0.8v0.8h-0.8zM436.3,56.5h1.0v1.0h-1.0zM413.0,37.7h0.8v0.8h-0.8zM417.4,67.2h1.0v1.0h-1.0zM415.3,66.6h0.8v0.8h-0.8zM438.4,61.8h0.8v0.8h-0.8zM440.8,60.8h1.0v1.0h-1.0zM439.4,80.0h0.8v0.8h-0.8zM426.2,53.2h0.8v0.8h-0.8zM412.4,37.0h0.8v0.8h-0.8zM404.4,45.1h0.9v0.9h-0.9zM410.0,59.8h1.0v1.0h-1.0zM436.9,95.3h0.9v0.9h-0.9zM407.2,42.2h0.8v0.8h-0.8zM431.7,85.2h0.8v0.8h-0.8zM412.1,60.2h0.8v0.8h-0.8zM430.7,87.8h1.0v1.0h-1.0zM413.0,62.8h0.9v0.9h-0.9zM413.3,54.9h1.0v1.0h-1.0zM447.9,84.9h1.0v1.0h-1.0zM459.7,96.4h0.9v0.9h-0.9zM436.0,70.9h0.9v0.9h-0.9zM404.8,34.6h1.0v1.0h-1.0zM413.8,53.2h0.9v0.9h-0.9zM403.2,38.2h0.8v0.8h-0.8zM449.1,88.4h1.0v1.0h-1.0zM409.3,61.6h1.0v1.0h-1.0zM433.3,86.7h1.0v1.0h-1.0zM445.2,78.1h0.9v0.9h-0.9zM427.4,80.0h0.9v0.9h-0.9zM416.1,71.0h1.0v1.0h-1.0zM404.3,46.5h1.0v1.0h-1.0zM408.6,55.9h1.0v1.0h-1.0zM441.5,67.5h1.0v1.0h-1.0zM442.4,72.0h1.0v1.0h-1.0zM427.3,82.7h1.0v1.0h-1.0zM429.9,81.6h0.8v0.8h-0.8zM406.6,55.8h0.8v0.8h-0.8zM443.6,91.9h0.8v0.8h-0.8zM403.6,34.3h0.9v0.9h-0.9zM406.2,47.9h0.9v0.9h-0.9zM416.4,67.8h0.9v0.9h-0.9zM428.6,83.0h0.9v0.9h-0.9zM405.1,35.4h1.0v1.0h-1.0zM441.3,91.5h0.8v0.8h-0.8zM444.2,64.3h1.0v1.0h-1.0zM438.5,58.8h1.0v1.0h-1.0zM408.4,59.0h0.8v0.8h-0.8zM436.5,61.7h0.8v0.8h-0.8zM428.7,85.3h0.8v0.8h-0.8zM410.4,61.9h0.9v0.9h-0.9zM433.0,86.5h1.0v1.0h-1.0zM415.3,39.7h0.9v0.9h-0.9zM405.3,52.6h1.0v1.0h-1.0zM427.4,79.1h1.0v1.0h-1.0zM424.8,71.7h0.8v0.8h-0.8zM453.1,81.2h1.0v1.0h-1.0zM434.8,92.6h1.0v1.0h-1.0zM422.3,72.2h0.9v0.9h-0.9zM446.1,58.8h0.8v0.8h-0.8zM408.3,54.8h0.9v0.9h-0.9zM402.7,34.7h0.9v0.9h-0.9zM420.9,75.4h1.0v1.0h-1.0zM436.5,93.3h1.0v1.0h-1.0zM416.1,68.8h0.8v0.8h-0.8zM408.0,56.6h0.9v0.9h-0.9zM404.7,47.5h0.9v0.9h-0.9zM410.8,36.6h0.9v0.9h-0.9zM413.4,67.6h0.8v0.8h-0.8zM431.3,86.2h1.0v1.0h-1.0zM450.8,75.4h1.0v1.0h-1.0zM418.6,57.4h0.9v0.9h-0.9zM407.4,52.6h0.8v0.8h-0.8zM423.2,77.3h1.0v1.0h-1.0zM448.4,72.7h1.0v1.0h-1.0zM412.5,43.7h1.0v1.0h-1.0zM410.4,59.7h1.0v1.0h-1.0zM439.9,95.2h0.8v0.8h-0.8zM407.1,50.0h0.8v0.8h-0.8zM426.9,83.5h0.8v0.8h-0.8zM452.7,88.1h0.9v0.9h-0.9zM421.7,77.5h0.9v0.9h-0.9zM452.8,78.5h1.0v1.0h-1.0zM432.7,86.4h1.0v1.0h-1.0zM455.3,88.8h1.0v1.0h-1.0zM424.1,81.0h0.9v0.9h-0.9zM414.6,57.4h0.8v0.8h-0.8zM423.5,70.7h0.9v0.9h-0.9zM426.3,77.4h0.8v0.8h-0.8zM440.4,88.2h0.8v0.8h-0.8zM414.5,63.5h0.9v0.9h-0.9zM443.2,79.5h0.8v0.8h-0.8zM421.0,44.3h0.9v0.9h-0.9zM431.4,64.1h0.9v0.9h-0.9zM406.6,53.2h0.8v0.8h-0.8zM416.0,50.9h0.8v0.8h-0.8zM414.4,51.8h1.0v1.0h-1.0zM456.1,74.4h0.9v0.9h-0.9zM424.2,74.1h0.9v0.9h-0.9zM405.8,47.4h1.0v1.0h-1.0zM406.4,56.1h1.0v1.0h-1.0zM408.6,40.0h0.8v0.8h-0.8zM411.3,39.8h0.8v0.8h-0.8zM429.6,84.6h0.9v0.9h-0.9zM441.2,91.8h0.8v0.8h-0.8zM430.4,77.5h0.8v0.8h-0.8zM405.0,39.4h0.8v0.8h-0.8zM408.8,50.6h0.8v0.8h-0.8zM406.6,35.7h0.8v0.8h-0.8zM430.0,75.5h1.0v1.0h-1.0zM420.7,65.7h0.8v0.8h-0.8zM426.3,43.4h1.0v1.0h-1.0zM453.7,63.4h0.9v0.9h-0.9zM438.0,91.6h0.8v0.8h-0.8zM404.7,41.3h0.9v0.9h-0.9zM417.8,47.5h1.0v1.0h-1.0zM451.7,71.5h0.9v0.9h-0.9zM412.5,56.3h0.8v0.8h-0.8zM424.8,74.3h0.9v0.9h-0.9zM443.0,70.9h1.0v1.0h-1.0zM432.6,65.1h0.9v0.9h-0.9zM435.3,94.3h0.9v0.9h-0.9zM406.1,49.3h0.9v0.9h-0.9zM409.4,45.4h0.9v0.9h-0.9zM432.9,92.2h1.0v1.0h-1.0z" fill="#70c4cc"/>
<path d="M401.3,36.9h0.8v0.8h-0.8zM391.7,34.9h0.8v0.8h-0.8zM392.4,38.3h1.0v1.0h-1.0zM385.9,33.7h0.8v0.8h-0.8zM389.0,30.4h1.0v1.0h-1.0zM390.4,29.1h0.8v0.8h-0.8zM399.6,33.9h0.9v0.9h-0.9zM384.4,40.8h1.0v1.0h-1.0zM384.9,31.9h0.8v0.8h-0.8zM393.4,36.9h0.9v0.9h-0.9zM397.7,37.5h0.8v0.8h-0.8zM384.1,30.5h0.9v0.9h-0.9zM395.9,36.7h1.0v1.0h-1.0zM389.1,44.0h0.8v0.8h-0.8zM395.0,33.9h0.8v0.8h-0.8zM392.3,30.5h0.9v0.9h-0.9zM387.1,34.0h1.0v1.0h-1.0zM390.7,32.7h0.8v0.8h-0.8zM389.3,33.7h0.8v0.8h-0.8zM394.5,42.7h0.8v0.8h-0.8zM393.4,39.3h0.9v0.9h-0.9zM399.6,39.9h1.0v1.0h-1.0zM397.1,37.4h0.9v0.9h-0.9zM389.0,44.7h0.9v0.9h-0.9zM386.2,29.9h1.0v1.0h-1.0zM393.3,44.3h0.8v0.8h-0.8zM402.5,34.4h0.8v0.8h-0.8zM389.7,33.8h1.0v1.0h-1.0zM390.5,31.0h0.8v0.8h-0.8zM401.8,39.8h0.8v0.8h-0.8zM403.2,44.2h1.0v1.0h-1.0zM390.1,36.2h0.9v0.9h-0.9zM395.5,40.2h0.8v0.8h-0.8zM387.5,35.0h0.8v0.8h-0.8z" fill="#f6a4b2"/>
<circle cx="507.7" cy="48.5" r="3.30" fill="#cdb8ae"/>
<circle cx="501.5" cy="70.0" r="1.00" fill="#60b060"/>
<g stroke="#f6a8b6" stroke-width="0.55" fill="none" opacity="0.9" stroke-linecap="round" stroke-linejoin="round">
<polyline points="438.2,23.2 437,17 436.4,13"/>
<polyline points="437,17 435,14.5"/>
<polyline points="438.6,22.5 440.5,17 441.7,13"/>
<polyline points="440.5,17 443,15.5"/>
<polyline points="436.5,23.5 431,22.5 427,21 422.7,19.6"/>
<polyline points="427,21 424.5,24"/>
<polyline points="439.5,24.5 442.2,26.7 443.5,31 445.3,33.4"/>
<polyline points="443.5,31 446,30"/>
</g>
<path d="M436.3,24 L438.2,21 L440.2,24 Z" fill="#f6a0b0"/>
<circle cx="438.3" cy="23.3" r="1.50" fill="#f6a0b0"/>
<g stroke="#f5cf7a" stroke-width="0.5" fill="none" opacity="0.9" stroke-linecap="round" stroke-linejoin="round">
<polyline points="464.8,56.2 461,51 457.2,46.7"/>
<polyline points="464.8,56.2 472,56 479.4,57.3"/>
<polyline points="476,56.5 478,54"/>
<polyline points="464.5,57 462.1,66.2"/>
<polyline points="465,57 468.3,64"/>
<polyline points="466.5,61 469,62"/>
</g>
<circle cx="464.8" cy="56.4" r="1.50" fill="#f2c060"/>
<g stroke="#a8dce0" stroke-width="0.6" fill="none" opacity="0.9" stroke-linecap="round" stroke-linejoin="round">
<polyline points="370.5,81 369.6,76 368.5,70"/>
<polyline points="369.2,73.5 366.5,72.5"/>
<polyline points="372.5,81.8 377,83.5 381.5,87.3 385.4,85.4"/>
<polyline points="381.5,87.3 383.2,91.7"/>
<polyline points="369.8,84 369.5,90.8"/>
<polyline points="369.5,88.5 371.8,90.2"/>
<polyline points="369.2,83.5 366,85.5 363.5,86.5"/>
<polyline points="366,85.5 363,90.4"/>
</g>
<path d="M368.6,80.4 L373.2,81.4 L370.4,84.8 Z" fill="#98d4da"/>
<circle cx="370.7" cy="82.1" r="1.30" fill="#98d4da"/>
<path d="M432,130.6 Q438,134 442,136.6 Q446.5,140 451.5,147.3 Q445,143.5 440.5,140.8 Q436,136 432,130.6 Z" fill="#b0d8a8" opacity="0.9"/>
<line x1="480.0" y1="99.8" x2="480.0" y2="124.7" stroke="#7090c8" stroke-width="0.6"/>
<line x1="478.5" y1="99.8" x2="481.5" y2="99.8" stroke="#7090c8" stroke-width="0.6"/>
<line x1="478.5" y1="124.7" x2="481.5" y2="124.7" stroke="#7090c8" stroke-width="0.6"/>
<ellipse cx="480" cy="117" rx="1.3" ry="2" fill="#5a7fc0"/>
<g stroke="#c49ac0" stroke-width="0.7" fill="none" opacity="0.9" stroke-linecap="round" stroke-linejoin="round">
<polyline points="491.1,157.5 484.4,153.7 479.8,149"/>
<polyline points="484.4,153.7 486.2,149.6"/>
<polyline points="491.1,157.5 490.2,151 489.4,146.1"/>
<polyline points="490.5,152 491.7,147.3"/>
<polyline points="491.1,157.5 496.7,154.8 497.3,149.6"/>
<polyline points="496.7,154.8 503.1,151.3"/>
<polyline points="491.1,157.5 487.3,161.3 480.9,162.7"/>
<polyline points="487.3,161.3 482.7,166.5"/>
<polyline points="491.1,157.5 492.6,168.9"/>
<polyline points="492.2,163 497.9,166.5"/>
</g>
<circle cx="491.1" cy="157.5" r="2.30" fill="#b884b0"/>
<ellipse cx="510.1" cy="161" rx="2.9" ry="3.8" fill="#a46aa4" opacity="0.85"/>
<ellipse cx="510.1" cy="161" rx="2.9" ry="3.8" fill="url(#spk)"/>
<circle cx="511.3" cy="156.0" r="0.60" fill="#a46aa4"/>
<circle cx="512.3" cy="153.4" r="0.60" fill="#5a80c0"/>
<circle cx="508.4" cy="160.5" r="0.60" fill="#5a80c0"/>
<line x1="371.4" y1="105.0" x2="371.4" y2="160.4" stroke="#111" stroke-width="0.9"/>
<line x1="371.0" y1="160.4" x2="428.0" y2="160.4" stroke="#111" stroke-width="0.9"/>
<path d="M371.4,100.8 L368.5,106.5 L374.3,106.5 Z" fill="#111"/>
<path d="M433,160.4 L427.5,157.5 L427.5,163.3 Z" fill="#111"/>
<text x="399.2" y="170.2" font-size="7.8" text-anchor="start" fill="#222" stroke="#222" stroke-width="0.2">umap_1</text>
<text x="367.2" y="119.2" font-size="7.8" text-anchor="middle" fill="#222" stroke="#222" stroke-width="0.2" transform="rotate(-90 367.2 119.2)">umap_2</text>
<text x="549.5" y="45.2" font-size="8.55" text-anchor="start" fill="#111" stroke="#111" stroke-width="0.2">Cell Type</text>
<circle cx="552.2" cy="61.8" r="5.20" fill="#a88a78"/>
<text x="564.8" y="64.5" font-size="7.65" text-anchor="start" fill="#222" stroke="#222" stroke-width="0.2">Dividing Cells</text>
<circle cx="552.2" cy="77.0" r="5.20" fill="#5b80bf"/>
<text x="564.8" y="79.7" font-size="7.65" text-anchor="start" fill="#222" stroke="#222" stroke-width="0.2">Radial Glial Cells</text>
<circle cx="552.2" cy="92.2" r="5.20" fill="#bf93b9"/>
<text x="564.8" y="94.9" font-size="7.65" text-anchor="start" fill="#222" stroke="#222" stroke-width="0.2">Astroglia</text>
<circle cx="552.2" cy="107.3" r="5.20" fill="#74ae69"/>
<text x="564.8" y="110.0" font-size="7.65" text-anchor="start" fill="#222" stroke="#222" stroke-width="0.2">Intermediate Progenitor</text>
<circle cx="552.2" cy="122.5" r="5.20" fill="#80cdd3"/>
<text x="564.8" y="125.2" font-size="7.65" text-anchor="start" fill="#222" stroke="#222" stroke-width="0.2">Deep Layer Neurons</text>
<circle cx="552.2" cy="137.7" r="5.20" fill="#f8a8b6"/>
<text x="564.8" y="140.4" font-size="7.65" text-anchor="start" fill="#222" stroke="#222" stroke-width="0.2">Upper Layer Neurons</text>
<circle cx="552.2" cy="152.9" r="5.20" fill="#f1bf32"/>
<text x="564.8" y="155.6" font-size="7.65" text-anchor="start" fill="#222" stroke="#222" stroke-width="0.2">Neurons</text>
<line x1="98.5" y1="230.3" x2="98.5" y2="400.6" stroke="#333" stroke-width="0.9"/>
<line x1="96.0" y1="244.1" x2="98.5" y2="244.1" stroke="#333" stroke-width="0.7"/>
<text x="94.6" y="246.6" font-size="7.15" text-anchor="end" fill="#222" stroke="#222" stroke-width="0.2">Neurons</text>
<line x1="96.0" y1="267.8" x2="98.5" y2="267.8" stroke="#333" stroke-width="0.7"/>
<text x="94.6" y="270.2" font-size="7.15" text-anchor="end" fill="#222" stroke="#222" stroke-width="0.2">Upper Layer Neurons</text>
<line x1="96.0" y1="291.4" x2="98.5" y2="291.4" stroke="#333" stroke-width="0.7"/>
<text x="94.6" y="293.9" font-size="7.15" text-anchor="end" fill="#222" stroke="#222" stroke-width="0.2">Deep Layer Neurons</text>
<line x1="96.0" y1="315.0" x2="98.5" y2="315.0" stroke="#333" stroke-width="0.7"/>
<text x="94.6" y="317.5" font-size="7.15" text-anchor="end" fill="#222" stroke="#222" stroke-width="0.2">Intermediate Progenitor</text>
<line x1="96.0" y1="338.7" x2="98.5" y2="338.7" stroke="#333" stroke-width="0.7"/>
<text x="94.6" y="341.2" font-size="7.15" text-anchor="end" fill="#222" stroke="#222" stroke-width="0.2">Astroglia</text>
<line x1="96.0" y1="362.4" x2="98.5" y2="362.4" stroke="#333" stroke-width="0.7"/>
<text x="94.6" y="364.9" font-size="7.15" text-anchor="end" fill="#222" stroke="#222" stroke-width="0.2">Radial Glial Cells</text>
<line x1="96.0" y1="386.0" x2="98.5" y2="386.0" stroke="#333" stroke-width="0.7"/>
<text x="94.6" y="388.5" font-size="7.15" text-anchor="end" fill="#222" stroke="#222" stroke-width="0.2">Dividing Cells</text>
<line x1="98.5" y1="400.3" x2="147.7" y2="400.3" stroke="#333" stroke-width="0.9"/>
<line x1="150.6" y1="400.3" x2="222.7" y2="400.3" stroke="#333" stroke-width="0.9"/>
<line x1="226.3" y1="400.3" x2="298.0" y2="400.3" stroke="#333" stroke-width="0.9"/>
<line x1="301.3" y1="400.3" x2="350.7" y2="400.3" stroke="#333" stroke-width="0.9"/>
<line x1="354.2" y1="400.3" x2="447.7" y2="400.3" stroke="#333" stroke-width="0.9"/>
<line x1="451.7" y1="400.3" x2="545.7" y2="400.3" stroke="#333" stroke-width="0.9"/>
<line x1="549.5" y1="400.3" x2="621.0" y2="400.3" stroke="#333" stroke-width="0.9"/>
<line x1="111.8" y1="400.6" x2="111.8" y2="402.4" stroke="#777" stroke-width="0.6"/>
<text x="114.3" y="403.3" font-size="7.15" text-anchor="end" fill="#222" stroke="#222" stroke-width="0.2" transform="rotate(-90 114.3 403.3)">TOP2A</text>
<line x1="133.8" y1="400.6" x2="133.8" y2="402.4" stroke="#777" stroke-width="0.6"/>
<text x="136.3" y="403.3" font-size="7.15" text-anchor="end" fill="#222" stroke="#222" stroke-width="0.2" transform="rotate(-90 136.3 403.3)">UBE2C</text>
<line x1="164.5" y1="400.6" x2="164.5" y2="402.4" stroke="#777" stroke-width="0.6"/>
<text x="167.0" y="403.3" font-size="7.15" text-anchor="end" fill="#222" stroke="#222" stroke-width="0.2" transform="rotate(-90 167.0 403.3)">PAX6</text>
<line x1="187.0" y1="400.6" x2="187.0" y2="402.4" stroke="#777" stroke-width="0.6"/>
<text x="189.5" y="403.3" font-size="7.15" text-anchor="end" fill="#222" stroke="#222" stroke-width="0.2" transform="rotate(-90 189.5 403.3)">HOPX</text>
<line x1="209.4" y1="400.6" x2="209.4" y2="402.4" stroke="#777" stroke-width="0.6"/>
<text x="211.9" y="403.3" font-size="7.15" text-anchor="end" fill="#222" stroke="#222" stroke-width="0.2" transform="rotate(-90 211.9 403.3)">SOX2</text>
<line x1="240.0" y1="400.6" x2="240.0" y2="402.4" stroke="#777" stroke-width="0.6"/>
<text x="242.5" y="403.3" font-size="7.15" text-anchor="end" fill="#222" stroke="#222" stroke-width="0.2" transform="rotate(-90 242.5 403.3)">AQP4</text>
<line x1="262.0" y1="400.6" x2="262.0" y2="402.4" stroke="#777" stroke-width="0.6"/>
<text x="264.5" y="403.3" font-size="7.15" text-anchor="end" fill="#222" stroke="#222" stroke-width="0.2" transform="rotate(-90 264.5 403.3)">S100B</text>
<line x1="284.5" y1="400.6" x2="284.5" y2="402.4" stroke="#777" stroke-width="0.6"/>
<text x="287.0" y="403.3" font-size="7.15" text-anchor="end" fill="#222" stroke="#222" stroke-width="0.2" transform="rotate(-90 287.0 403.3)">APOE</text>
<line x1="314.6" y1="400.6" x2="314.6" y2="402.4" stroke="#777" stroke-width="0.6"/>
<text x="317.1" y="403.3" font-size="7.15" text-anchor="end" fill="#222" stroke="#222" stroke-width="0.2" transform="rotate(-90 317.1 403.3)">EOMES</text>
<line x1="337.4" y1="400.6" x2="337.4" y2="402.4" stroke="#777" stroke-width="0.6"/>
<text x="339.9" y="403.3" font-size="7.15" text-anchor="end" fill="#222" stroke="#222" stroke-width="0.2" transform="rotate(-90 339.9 403.3)">HES6</text>
<line x1="367.2" y1="400.6" x2="367.2" y2="402.4" stroke="#777" stroke-width="0.6"/>
<text x="369.7" y="403.3" font-size="7.15" text-anchor="end" fill="#222" stroke="#222" stroke-width="0.2" transform="rotate(-90 369.7 403.3)">BHLHE22</text>
<line x1="390.0" y1="400.6" x2="390.0" y2="402.4" stroke="#777" stroke-width="0.6"/>
<text x="392.5" y="403.3" font-size="7.15" text-anchor="end" fill="#222" stroke="#222" stroke-width="0.2" transform="rotate(-90 392.5 403.3)">SLA</text>
<line x1="412.0" y1="400.6" x2="412.0" y2="402.4" stroke="#777" stroke-width="0.6"/>
<text x="414.5" y="403.3" font-size="7.15" text-anchor="end" fill="#222" stroke="#222" stroke-width="0.2" transform="rotate(-90 414.5 403.3)">BCL11B</text>
<line x1="434.8" y1="400.6" x2="434.8" y2="402.4" stroke="#777" stroke-width="0.6"/>
<text x="437.3" y="403.3" font-size="7.15" text-anchor="end" fill="#222" stroke="#222" stroke-width="0.2" transform="rotate(-90 437.3 403.3)">TBR1</text>
<line x1="465.7" y1="400.6" x2="465.7" y2="402.4" stroke="#777" stroke-width="0.6"/>
<text x="468.2" y="403.3" font-size="7.15" text-anchor="end" fill="#222" stroke="#222" stroke-width="0.2" transform="rotate(-90 468.2 403.3)">FGF12</text>
<line x1="487.6" y1="400.6" x2="487.6" y2="402.4" stroke="#777" stroke-width="0.6"/>
<text x="490.1" y="403.3" font-size="7.15" text-anchor="end" fill="#222" stroke="#222" stroke-width="0.2" transform="rotate(-90 490.1 403.3)">MEF2C</text>
<line x1="510.0" y1="400.6" x2="510.0" y2="402.4" stroke="#777" stroke-width="0.6"/>
<text x="512.5" y="403.3" font-size="7.15" text-anchor="end" fill="#222" stroke="#222" stroke-width="0.2" transform="rotate(-90 512.5 403.3)">RORB</text>
<line x1="532.8" y1="400.6" x2="532.8" y2="402.4" stroke="#777" stroke-width="0.6"/>
<text x="535.3" y="403.3" font-size="7.15" text-anchor="end" fill="#222" stroke="#222" stroke-width="0.2" transform="rotate(-90 535.3 403.3)">SATB2</text>
<line x1="562.6" y1="400.6" x2="562.6" y2="402.4" stroke="#777" stroke-width="0.6"/>
<text x="565.1" y="403.3" font-size="7.15" text-anchor="end" fill="#222" stroke="#222" stroke-width="0.2" transform="rotate(-90 565.1 403.3)">GRIA2</text>
<line x1="585.1" y1="400.6" x2="585.1" y2="402.4" stroke="#777" stroke-width="0.6"/>
<text x="587.6" y="403.3" font-size="7.15" text-anchor="end" fill="#222" stroke="#222" stroke-width="0.2" transform="rotate(-90 587.6 403.3)">NEUROD2</text>
<line x1="607.3" y1="400.6" x2="607.3" y2="402.4" stroke="#777" stroke-width="0.6"/>
<text x="609.8" y="403.3" font-size="7.15" text-anchor="end" fill="#222" stroke="#222" stroke-width="0.2" transform="rotate(-90 609.8 403.3)">SNAP25</text>
<rect x="98.8" y="440.0" width="48.6" height="10.3" fill="#a88a7a"/>
<rect x="150.9" y="440.0" width="71.5" height="10.3" fill="#5f85bf"/>
<rect x="226.6" y="440.0" width="71.1" height="10.3" fill="#c094b9"/>
<rect x="301.6" y="440.0" width="48.8" height="10.3" fill="#78b46f"/>
<rect x="354.5" y="440.0" width="92.9" height="10.3" fill="#83cfd5"/>
<rect x="452.0" y="440.0" width="93.4" height="10.3" fill="#f9aeb8"/>
<rect x="549.8" y="440.0" width="70.9" height="10.3" fill="#f2be2a"/>
<circle cx="111.8" cy="244.1" r="0.55" fill="#ece8f8"/>
<circle cx="133.8" cy="244.1" r="0.55" fill="#ece8f8"/>
<circle cx="164.5" cy="244.1" r="1.00" fill="#a890f4"/>
<circle cx="187.0" cy="244.1" r="1.00" fill="#b09cf4"/>
<circle cx="209.4" cy="244.1" r="1.00" fill="#a890f4"/>
<circle cx="240.0" cy="244.1" r="0.55" fill="#ece8f8"/>
<circle cx="262.0" cy="244.1" r="0.55" fill="#ece8f8"/>
<circle cx="284.5" cy="244.1" r="0.80" fill="#d4ccf8"/>
<circle cx="314.6" cy="244.1" r="0.55" fill="#ece8f8"/>
<circle cx="337.4" cy="244.1" r="0.90" fill="#c8b8f6"/>
<circle cx="367.2" cy="244.1" r="2.40" fill="#f8b8a0"/>
<circle cx="390.0" cy="244.1" r="1.00" fill="#fcd8c8"/>
<circle cx="412.0" cy="244.1" r="1.00" fill="#fde0d0"/>
<circle cx="434.8" cy="244.1" r="1.10" fill="#f8b090"/>
<circle cx="465.7" cy="244.1" r="0.55" fill="#ece8f8"/>
<circle cx="487.6" cy="244.1" r="2.30" fill="#fad0c0"/>
<circle cx="510.0" cy="244.1" r="0.60" fill="#f0ecf0"/>
<circle cx="532.8" cy="244.1" r="0.55" fill="#ece8f8"/>
<circle cx="562.6" cy="244.1" r="2.10" fill="#f4a080"/>
<circle cx="585.1" cy="244.1" r="1.90" fill="#f4a890"/>
<circle cx="607.3" cy="244.1" r="2.10" fill="#f4a890"/>
<circle cx="111.8" cy="267.8" r="0.55" fill="#ece8f8"/>
<circle cx="133.8" cy="267.8" r="0.55" fill="#ece8f8"/>
<circle cx="164.5" cy="267.8" r="1.00" fill="#a890f4"/>
<circle cx="187.0" cy="267.8" r="1.00" fill="#b09cf4"/>
<circle cx="209.4" cy="267.8" r="1.00" fill="#a890f4"/>
<circle cx="240.0" cy="267.8" r="0.55" fill="#ece8f8"/>
<circle cx="262.0" cy="267.8" r="0.55" fill="#ece8f8"/>
<circle cx="284.5" cy="267.8" r="0.80" fill="#d4ccf8"/>
<circle cx="314.6" cy="267.8" r="0.55" fill="#ece8f8"/>
<circle cx="337.4" cy="267.8" r="0.90" fill="#c8b8f6"/>
<circle cx="367.2" cy="267.8" r="1.60" fill="#e4d8fc"/>
<circle cx="390.0" cy="267.8" r="1.30" fill="#f8c0a8"/>
<circle cx="412.0" cy="267.8" r="2.00" fill="#f0907a"/>
<circle cx="434.8" cy="267.8" r="1.60" fill="#f09070"/>
<circle cx="465.7" cy="267.8" r="2.20" fill="#f02010"/>
<circle cx="487.6" cy="267.8" r="4.00" fill="#f55035"/>
<circle cx="510.0" cy="267.8" r="2.30" fill="#f00000"/>
<circle cx="532.8" cy="267.8" r="2.30" fill="#f00010"/>
<circle cx="562.6" cy="267.8" r="2.80" fill="#f8c8b0"/>
<circle cx="585.1" cy="267.8" r="3.00" fill="#f8a890"/>
<circle cx="607.3" cy="267.8" r="3.60" fill="#f06040"/>
<circle cx="111.8" cy="291.4" r="0.55" fill="#ece8f8"/>
<circle cx="133.8" cy="291.4" r="0.55" fill="#ece8f8"/>
<circle cx="164.5" cy="291.4" r="1.00" fill="#a890f4"/>
<circle cx="187.0" cy="291.4" r="1.00" fill="#b09cf4"/>
<circle cx="209.4" cy="291.4" r="1.00" fill="#a890f4"/>
<circle cx="240.0" cy="291.4" r="0.55" fill="#ece8f8"/>
<circle cx="262.0" cy="291.4" r="0.55" fill="#ece8f8"/>
<circle cx="284.5" cy="291.4" r="0.80" fill="#d4ccf8"/>
<circle cx="314.6" cy="291.4" r="0.55" fill="#ece8f8"/>
<circle cx="337.4" cy="291.4" r="0.55" fill="#ece8f8"/>
<circle cx="367.2" cy="291.4" r="3.80" fill="#f45a40"/>
<circle cx="390.0" cy="291.4" r="2.30" fill="#f04020"/>
<circle cx="412.0" cy="291.4" r="2.20" fill="#f49880"/>
<circle cx="434.8" cy="291.4" r="1.50" fill="#f4a080"/>
<circle cx="465.7" cy="291.4" r="1.00" fill="#f8c0a0"/>
<circle cx="487.6" cy="291.4" r="2.80" fill="#f8b8a0"/>
<circle cx="510.0" cy="291.4" r="0.70" fill="#c8b8f6"/>
<circle cx="532.8" cy="291.4" r="0.60" fill="#d8d0f8"/>
<circle cx="562.6" cy="291.4" r="3.40" fill="#f07050"/>
<circle cx="585.1" cy="291.4" r="3.40" fill="#f07050"/>
<circle cx="607.3" cy="291.4" r="2.60" fill="#f8b8a0"/>
<circle cx="111.8" cy="315.0" r="0.55" fill="#ece8f8"/>
<circle cx="133.8" cy="315.0" r="0.55" fill="#ece8f8"/>
<circle cx="164.5" cy="315.0" r="1.30" fill="#f8c0ac"/>
<circle cx="187.0" cy="315.0" r="0.90" fill="#c8c0f8"/>
<circle cx="209.4" cy="315.0" r="1.30" fill="#d4ccf8"/>
<circle cx="240.0" cy="315.0" r="0.55" fill="#ece8f8"/>
<circle cx="262.0" cy="315.0" r="0.55" fill="#ece8f8"/>
<circle cx="284.5" cy="315.0" r="0.55" fill="#ece8f8"/>
<circle cx="314.6" cy="315.0" r="3.40" fill="#f42a10"/>
<circle cx="337.4" cy="315.0" r="2.20" fill="#f03010"/>
<circle cx="367.2" cy="315.0" r="1.80" fill="#fde8e0"/>
<circle cx="390.0" cy="315.0" r="0.70" fill="#ece4f6"/>
<circle cx="412.0" cy="315.0" r="1.70" fill="#f8c8b8"/>
<circle cx="434.8" cy="315.0" r="0.40" fill="#f4f0f8"/>
<circle cx="465.7" cy="315.0" r="0.80" fill="#e0d8f8"/>
<circle cx="487.6" cy="315.0" r="1.40" fill="#b090f0"/>
<circle cx="510.0" cy="315.0" r="0.80" fill="#c8b8f6"/>
<circle cx="532.8" cy="315.0" r="0.80" fill="#c0acf4"/>
<circle cx="562.6" cy="315.0" r="1.20" fill="#f0ecfc"/>
<circle cx="585.1" cy="315.0" r="1.20" fill="#ebe4fc"/>
<circle cx="607.3" cy="315.0" r="1.30" fill="#a080f0"/>
<circle cx="111.8" cy="338.7" r="0.55" fill="#ece8f8"/>
<circle cx="133.8" cy="338.7" r="0.55" fill="#ece8f8"/>
<circle cx="164.5" cy="338.7" r="1.20" fill="#fbe4dc"/>
<circle cx="187.0" cy="338.7" r="3.30" fill="#f3936f"/>
<circle cx="209.4" cy="338.7" r="3.80" fill="#f7a890"/>
<circle cx="240.0" cy="338.7" r="2.00" fill="#f20000"/>
<circle cx="262.0" cy="338.7" r="4.10" fill="#f40000"/>
<circle cx="284.5" cy="338.7" r="3.80" fill="#f42812"/>
<circle cx="314.6" cy="338.7" r="0.55" fill="#ece8f8"/>
<circle cx="337.4" cy="338.7" r="0.90" fill="#c8b8f6"/>
<circle cx="367.2" cy="338.7" r="1.50" fill="#a888f2"/>
<circle cx="390.0" cy="338.7" r="0.90" fill="#c0acf4"/>
<circle cx="412.0" cy="338.7" r="1.10" fill="#9c80f0"/>
<circle cx="434.8" cy="338.7" r="0.90" fill="#d0c4f6"/>
<circle cx="465.7" cy="338.7" r="0.80" fill="#c0acf4"/>
<circle cx="487.6" cy="338.7" r="1.80" fill="#b494f0"/>
<circle cx="510.0" cy="338.7" r="0.80" fill="#c0acf4"/>
<circle cx="532.8" cy="338.7" r="0.50" fill="#f0ecfa"/>
<circle cx="562.6" cy="338.7" r="1.80" fill="#b090f0"/>
<circle cx="585.1" cy="338.7" r="1.20" fill="#9070f0"/>
<circle cx="607.3" cy="338.7" r="1.80" fill="#c0a0f0"/>
<circle cx="111.8" cy="362.4" r="0.55" fill="#ece8f8"/>
<circle cx="133.8" cy="362.4" r="0.55" fill="#ece8f8"/>
<circle cx="164.5" cy="362.4" r="1.80" fill="#f28a70"/>
<circle cx="187.0" cy="362.4" r="3.30" fill="#f3906f"/>
<circle cx="209.4" cy="362.4" r="3.80" fill="#f49a7e"/>
<circle cx="240.0" cy="362.4" r="0.55" fill="#ece8f8"/>
<circle cx="262.0" cy="362.4" r="0.55" fill="#ece8f8"/>
<circle cx="284.5" cy="362.4" r="1.20" fill="#fbe0d8"/>
<circle cx="314.6" cy="362.4" r="0.70" fill="#ebe6f8"/>
<circle cx="337.4" cy="362.4" r="0.90" fill="#c8b8f6"/>
<circle cx="367.2" cy="362.4" r="1.50" fill="#b498f2"/>
<circle cx="390.0" cy="362.4" r="0.90" fill="#c4b0f4"/>
<circle cx="412.0" cy="362.4" r="1.00" fill="#a88cf4"/>
<circle cx="434.8" cy="362.4" r="0.90" fill="#c8b8f6"/>
<circle cx="465.7" cy="362.4" r="0.80" fill="#b8a4f4"/>
<circle cx="487.6" cy="362.4" r="1.60" fill="#c0a4f2"/>
<circle cx="510.0" cy="362.4" r="0.80" fill="#c8b8f6"/>
<circle cx="532.8" cy="362.4" r="0.80" fill="#c8b8f6"/>
<circle cx="562.6" cy="362.4" r="1.30" fill="#a484f0"/>
<circle cx="585.1" cy="362.4" r="1.20" fill="#9c7cf0"/>
<circle cx="607.3" cy="362.4" r="1.60" fill="#d0b8f8"/>
<circle cx="111.8" cy="386.0" r="3.90" fill="#f40000"/>
<circle cx="133.8" cy="386.0" r="3.40" fill="#f40404"/>
<circle cx="164.5" cy="386.0" r="2.10" fill="#f2856c"/>
<circle cx="187.0" cy="386.0" r="2.30" fill="#f8c6b8"/>
<circle cx="209.4" cy="386.0" r="3.90" fill="#f6a894"/>
<circle cx="240.0" cy="386.0" r="0.60" fill="#ece4f4"/>
<circle cx="262.0" cy="386.0" r="0.60" fill="#ece4f4"/>
<circle cx="284.5" cy="386.0" r="0.80" fill="#dcd4f8"/>
<circle cx="314.6" cy="386.0" r="1.20" fill="#f8c4b4"/>
<circle cx="337.4" cy="386.0" r="1.40" fill="#f8baa8"/>
<circle cx="367.2" cy="386.0" r="1.60" fill="#b49af4"/>
<circle cx="390.0" cy="386.0" r="0.90" fill="#c4b0f4"/>
<circle cx="412.0" cy="386.0" r="1.00" fill="#a88cf4"/>
<circle cx="434.8" cy="386.0" r="0.90" fill="#c8b8f6"/>
<circle cx="465.7" cy="386.0" r="0.80" fill="#b8a4f4"/>
<circle cx="487.6" cy="386.0" r="1.50" fill="#b898f2"/>
<circle cx="510.0" cy="386.0" r="0.80" fill="#c8b8f6"/>
<circle cx="532.8" cy="386.0" r="0.70" fill="#d0c4f6"/>
<circle cx="562.6" cy="386.0" r="1.30" fill="#a484f0"/>
<circle cx="585.1" cy="386.0" r="1.20" fill="#9c7cf0"/>
<circle cx="607.3" cy="386.0" r="1.70" fill="#a888f0"/>
<rect x="100.5" y="375.6" width="47.0" height="18.9" fill="none" stroke="#f07a78" stroke-width="1.2"/>
<rect x="149.8" y="352.0" width="73.7" height="19.2" fill="none" stroke="#f07a78" stroke-width="1.2"/>
<rect x="225.2" y="328.5" width="73.8" height="19.1" fill="none" stroke="#f07a78" stroke-width="1.2"/>
<rect x="301.7" y="305.3" width="46.8" height="19.1" fill="none" stroke="#f07a78" stroke-width="1.2"/>
<rect x="355.2" y="281.2" width="91.1" height="19.4" fill="none" stroke="#f07a78" stroke-width="1.2"/>
<rect x="452.6" y="257.6" width="91.5" height="19.7" fill="none" stroke="#f07a78" stroke-width="1.2"/>
<rect x="549.0" y="235.4" width="73.4" height="19.4" fill="none" stroke="#f07a78" stroke-width="1.2"/>
<text x="232.3" y="210.3" font-size="8.4" text-anchor="start" fill="#111" stroke="#111" stroke-width="0.2">Percent Expressed</text>
<circle cx="310.0" cy="207.4" r="1.80" fill="#000"/>
<text x="315.3" y="210.3" font-size="8.4" text-anchor="start" fill="#111" stroke="#111" stroke-width="0.2">25</text>
<circle cx="332.1" cy="207.4" r="3.10" fill="#000"/>
<text x="340.2" y="210.3" font-size="8.4" text-anchor="start" fill="#111" stroke="#111" stroke-width="0.2">50</text>
<defs><linearGradient id="avg" x1="0" x2="1" y1="0" y2="0"><stop offset="0" stop-color="#8a62f2"/><stop offset="0.36" stop-color="#ffffff"/><stop offset="0.45" stop-color="#fde8e4"/><stop offset="1" stop-color="#f01808"/></linearGradient></defs>
<rect x="416.6" y="201.8" width="52.5" height="10.0" fill="url(#avg)"/>
<text x="476.2" y="210.1" font-size="8.45" text-anchor="start" fill="#111" stroke="#111" stroke-width="0.2">Average Expression</text>
<text x="423.3" y="224.0" font-size="8.0" text-anchor="middle" fill="#111" stroke="#111" stroke-width="0.2">-1</text>
<text x="438.4" y="224.0" font-size="8.0" text-anchor="middle" fill="#111" stroke="#111" stroke-width="0.2">0</text>
<text x="451.0" y="224.0" font-size="8.0" text-anchor="middle" fill="#111" stroke="#111" stroke-width="0.2">1</text>
<text x="138.0" y="521.9" font-size="11.3" text-anchor="middle" fill="#111" stroke="#111" stroke-width="0.2">GO analysis of layer neurons</text>
<text x="91.6" y="541.3" font-size="8.4" text-anchor="middle" fill="#111" stroke="#111" stroke-width="0.2">4</text>
<text x="111.9" y="541.3" font-size="8.4" text-anchor="middle" fill="#111" stroke="#111" stroke-width="0.2">8</text>
<text x="132.4" y="541.3" font-size="8.4" text-anchor="middle" fill="#111" stroke="#111" stroke-width="0.2">12</text>
<circle cx="91.4" cy="546.5" r="1.50" fill="#000"/>
<circle cx="101.5" cy="546.5" r="2.30" fill="#000"/>
<circle cx="111.9" cy="546.5" r="2.80" fill="#000"/>
<circle cx="122.0" cy="546.5" r="3.20" fill="#000"/>
<circle cx="132.4" cy="546.5" r="3.70" fill="#000"/>
<rect x="29.7" y="553.6" width="116.9" height="134.5" fill="#fff"/>
<line x1="36.3" y1="553.6" x2="36.3" y2="688.1" stroke="#f4f4f4" stroke-width="0.5"/>
<line x1="67.5" y1="553.6" x2="67.5" y2="688.1" stroke="#f4f4f4" stroke-width="0.5"/>
<line x1="98.7" y1="553.6" x2="98.7" y2="688.1" stroke="#f4f4f4" stroke-width="0.5"/>
<line x1="129.9" y1="553.6" x2="129.9" y2="688.1" stroke="#f4f4f4" stroke-width="0.5"/>
<line x1="51.9" y1="553.6" x2="51.9" y2="688.1" stroke="#ebebeb" stroke-width="0.8"/>
<line x1="83.1" y1="553.6" x2="83.1" y2="688.1" stroke="#ebebeb" stroke-width="0.8"/>
<line x1="114.3" y1="553.6" x2="114.3" y2="688.1" stroke="#ebebeb" stroke-width="0.8"/>
<line x1="145.5" y1="553.6" x2="145.5" y2="688.1" stroke="#ebebeb" stroke-width="0.8"/>
<line x1="29.7" y1="561.3" x2="146.6" y2="561.3" stroke="#ebebeb" stroke-width="0.8"/>
<line x1="29.7" y1="573.3" x2="146.6" y2="573.3" stroke="#ebebeb" stroke-width="0.8"/>
<line x1="29.7" y1="585.3" x2="146.6" y2="585.3" stroke="#ebebeb" stroke-width="0.8"/>
<line x1="29.7" y1="597.3" x2="146.6" y2="597.3" stroke="#ebebeb" stroke-width="0.8"/>
<line x1="29.7" y1="609.3" x2="146.6" y2="609.3" stroke="#ebebeb" stroke-width="0.8"/>
<line x1="29.7" y1="621.3" x2="146.6" y2="621.3" stroke="#ebebeb" stroke-width="0.8"/>
<line x1="29.7" y1="633.3" x2="146.6" y2="633.3" stroke="#ebebeb" stroke-width="0.8"/>
<line x1="29.7" y1="645.3" x2="146.6" y2="645.3" stroke="#ebebeb" stroke-width="0.8"/>
<line x1="29.7" y1="657.3" x2="146.6" y2="657.3" stroke="#ebebeb" stroke-width="0.8"/>
<line x1="29.7" y1="669.3" x2="146.6" y2="669.3" stroke="#ebebeb" stroke-width="0.8"/>
<line x1="29.7" y1="681.3" x2="146.6" y2="681.3" stroke="#ebebeb" stroke-width="0.8"/>
<g stroke="#f8b4bc" stroke-width="0.55" fill="none" opacity="0.9" stroke-linecap="round" stroke-linejoin="round">
<polyline points="108.9,570.5 108.2,566 107.6,561.9"/>
<polyline points="108.9,570.5 110.8,566 112.2,561.9"/>
<polyline points="107.9,564.5 106,563.5"/>
<polyline points="111.4,564.5 113.3,564"/>
<polyline points="107.5,571 102.3,571.4 95.4,567.2"/>
<polyline points="98.5,569.2 96.1,572.1"/>
<polyline points="110,571.3 112.5,573.1 115.5,579.3"/>
<polyline points="113.8,576.2 115.8,575.5"/>
</g>
<path d="M106.8,571.6 L109,568.4 L111.2,571.6 Z" fill="#f8a8b4"/>
<g stroke="#a8dce2" stroke-width="0.55" fill="none" opacity="0.9" stroke-linecap="round" stroke-linejoin="round">
<polyline points="125,569.7 123.8,565 123.4,560.5"/>
<polyline points="126.5,569.5 131,571.5 134.2,574.4 136.3,573.1"/>
<polyline points="134.2,574.4 135,577.5"/>
<polyline points="124.2,571 120,573.3 119.2,576.5"/>
<polyline points="120.5,573 118.5,572.5"/>
<polyline points="124.6,571.5 123.7,576.5"/>
<polyline points="124,575 125.2,576.2"/>
</g>
<path d="M123.4,568.3 L127.2,569.6 L124.6,572.4 Z" fill="#98d6de"/>
<rect x="29.7" y="553.6" width="116.9" height="134.5" fill="none" stroke="#333" stroke-width="0.9"/>
<circle cx="74.7" cy="561.3" r="2.60" fill="#2ab6be" stroke="#333" stroke-width="0.5"/>
<circle cx="35.0" cy="573.3" r="1.00" fill="#b0605a" stroke="#333" stroke-width="0.5"/>
<circle cx="51.4" cy="585.3" r="2.00" fill="#c8938a" stroke="#333" stroke-width="0.5"/>
<circle cx="40.9" cy="597.3" r="1.70" fill="#e8786c" stroke="#333" stroke-width="0.5"/>
<circle cx="113.3" cy="609.3" r="3.40" fill="#1ab7c0" stroke="#333" stroke-width="0.5"/>
<circle cx="82.0" cy="621.3" r="3.00" fill="#52acb0" stroke="#333" stroke-width="0.5"/>
<circle cx="57.7" cy="633.3" r="2.40" fill="#25b2bb" stroke="#333" stroke-width="0.5"/>
<circle cx="42.0" cy="645.3" r="1.70" fill="#ec786c" stroke="#333" stroke-width="0.5"/>
<circle cx="63.1" cy="657.3" r="2.40" fill="#ee7266" stroke="#333" stroke-width="0.5"/>
<circle cx="124.5" cy="669.3" r="3.60" fill="#c4948a" stroke="#333" stroke-width="0.5"/>
<circle cx="141.3" cy="681.3" r="3.80" fill="#1ab6c0" stroke="#333" stroke-width="0.5"/>
<line x1="146.6" y1="561.3" x2="148.9" y2="561.3" stroke="#333" stroke-width="0.7"/>
<text x="150.3" y="563.9" font-size="7.4" text-anchor="start" fill="#222" stroke="#222" stroke-width="0.2">cholesterol metabolic process</text>
<line x1="146.6" y1="573.3" x2="148.9" y2="573.3" stroke="#333" stroke-width="0.7"/>
<text x="150.3" y="575.9" font-size="7.4" text-anchor="start" fill="#222" stroke="#222" stroke-width="0.2">regulation of neurogenesis</text>
<line x1="146.6" y1="585.3" x2="148.9" y2="585.3" stroke="#333" stroke-width="0.7"/>
<text x="150.3" y="587.9" font-size="7.4" text-anchor="start" fill="#222" stroke="#222" stroke-width="0.2">positive regulation of nervous system development</text>
<line x1="146.6" y1="597.3" x2="148.9" y2="597.3" stroke="#333" stroke-width="0.7"/>
<text x="150.3" y="599.9" font-size="7.4" text-anchor="start" fill="#222" stroke="#222" stroke-width="0.2">connective tissue development</text>
<line x1="146.6" y1="609.3" x2="148.9" y2="609.3" stroke="#333" stroke-width="0.7"/>
<text x="150.3" y="611.9" font-size="7.4" text-anchor="start" fill="#222" stroke="#222" stroke-width="0.2">positive regulation of neurogenesis</text>
<line x1="146.6" y1="621.3" x2="148.9" y2="621.3" stroke="#333" stroke-width="0.7"/>
<text x="150.3" y="623.9" font-size="7.4" text-anchor="start" fill="#222" stroke="#222" stroke-width="0.2">cholesterol biosynthetic process</text>
<line x1="146.6" y1="633.3" x2="148.9" y2="633.3" stroke="#333" stroke-width="0.7"/>
<text x="150.3" y="635.9" font-size="7.4" text-anchor="start" fill="#222" stroke="#222" stroke-width="0.2">neuron migration</text>
<line x1="146.6" y1="645.3" x2="148.9" y2="645.3" stroke="#333" stroke-width="0.7"/>
<text x="150.3" y="647.9" font-size="7.4" text-anchor="start" fill="#222" stroke="#222" stroke-width="0.2">forebrain development</text>
<line x1="146.6" y1="657.3" x2="148.9" y2="657.3" stroke="#333" stroke-width="0.7"/>
<text x="150.3" y="659.9" font-size="7.4" text-anchor="start" fill="#222" stroke="#222" stroke-width="0.2">telencephalon development</text>
<line x1="146.6" y1="669.3" x2="148.9" y2="669.3" stroke="#333" stroke-width="0.7"/>
<text x="150.3" y="671.9" font-size="7.4" text-anchor="start" fill="#222" stroke="#222" stroke-width="0.2">cerebral cortex development</text>
<line x1="146.6" y1="681.3" x2="148.9" y2="681.3" stroke="#333" stroke-width="0.7"/>
<text x="150.3" y="683.9" font-size="7.4" text-anchor="start" fill="#222" stroke="#222" stroke-width="0.2">pallium development</text>
<line x1="51.9" y1="688.1" x2="51.9" y2="690.3" stroke="#333" stroke-width="0.7"/>
<text x="51.9" y="696.6" font-size="7.4" text-anchor="middle" fill="#333" stroke="#333" stroke-width="0.2">5.0</text>
<line x1="83.1" y1="688.1" x2="83.1" y2="690.3" stroke="#333" stroke-width="0.7"/>
<text x="83.1" y="696.6" font-size="7.4" text-anchor="middle" fill="#333" stroke="#333" stroke-width="0.2">7.5</text>
<line x1="114.3" y1="688.1" x2="114.3" y2="690.3" stroke="#333" stroke-width="0.7"/>
<text x="114.3" y="696.6" font-size="7.4" text-anchor="middle" fill="#333" stroke="#333" stroke-width="0.2">10.0</text>
<line x1="145.5" y1="688.1" x2="145.5" y2="690.3" stroke="#333" stroke-width="0.7"/>
<text x="145.5" y="696.6" font-size="7.4" text-anchor="middle" fill="#333" stroke="#333" stroke-width="0.2">12.5</text>
<text x="87.2" y="709.1" font-size="8.45" text-anchor="middle" fill="#111" stroke="#111" stroke-width="0.2">FoldEnrichment</text>
<text x="6.5" y="619.8" font-size="8.2" text-anchor="middle" fill="#111" stroke="#111" stroke-width="0.2" transform="rotate(-90 6.5 619.8)">Description</text>
<rect x="20.6" y="555.2" width="3.5" height="125.4" fill="#3fbcc8"/>
<text x="12.6" y="563.2" font-size="8.4" text-anchor="middle" fill="#3fbcc8" stroke="#3fbcc8" stroke-width="0.2">BP</text>
<text x="272.3" y="619.5" font-size="8.0" text-anchor="start" fill="#111" stroke="#111" stroke-width="0.2">p.adjust</text>
<defs><linearGradient id="padj" x1="0" x2="0" y1="0" y2="1"><stop offset="0" stop-color="#f2786e"/><stop offset="0.5" stop-color="#b49a96"/><stop offset="1" stop-color="#1fbcc6"/></linearGradient></defs>
<rect x="272.6" y="623.5" width="12.2" height="63.3" fill="url(#padj)"/>
<line x1="272.6" y1="630.4" x2="275.0" y2="630.4" stroke="#fff" stroke-width="0.6"/>
<line x1="282.4" y1="630.4" x2="284.8" y2="630.4" stroke="#fff" stroke-width="0.6"/>
<text x="289.0" y="632.7" font-size="6.5" text-anchor="start" fill="#222" stroke="#222" stroke-width="0.2">0.04</text>
<line x1="272.6" y1="644.3" x2="275.0" y2="644.3" stroke="#fff" stroke-width="0.6"/>
<line x1="282.4" y1="644.3" x2="284.8" y2="644.3" stroke="#fff" stroke-width="0.6"/>
<text x="289.0" y="646.6" font-size="6.5" text-anchor="start" fill="#222" stroke="#222" stroke-width="0.2">0.03</text>
<line x1="272.6" y1="658.2" x2="275.0" y2="658.2" stroke="#fff" stroke-width="0.6"/>
<line x1="282.4" y1="658.2" x2="284.8" y2="658.2" stroke="#fff" stroke-width="0.6"/>
<text x="289.0" y="660.5" font-size="6.5" text-anchor="start" fill="#222" stroke="#222" stroke-width="0.2">0.02</text>
<line x1="272.6" y1="672.0" x2="275.0" y2="672.0" stroke="#fff" stroke-width="0.6"/>
<line x1="282.4" y1="672.0" x2="284.8" y2="672.0" stroke="#fff" stroke-width="0.6"/>
<text x="289.0" y="674.3" font-size="6.5" text-anchor="start" fill="#222" stroke="#222" stroke-width="0.2">0.01</text>
<text x="439.2" y="499.5" font-size="11.5" text-anchor="middle" fill="#111" stroke="#111" stroke-width="0.2">GSEA analysis of astroglia</text>
<rect x="364.3" y="508.6" width="152.2" height="129.2" fill="#fff" stroke="#999" stroke-width="0.8"/>
<line x1="362.6" y1="519.5" x2="364.3" y2="519.5" stroke="#777" stroke-width="0.6"/>
<text x="361.2" y="521.7" font-size="6.4" text-anchor="end" fill="#555" stroke="#555" stroke-width="0.2">0.3</text>
<line x1="362.6" y1="543.6" x2="364.3" y2="543.6" stroke="#777" stroke-width="0.6"/>
<text x="361.2" y="545.8" font-size="6.4" text-anchor="end" fill="#555" stroke="#555" stroke-width="0.2">0.2</text>
<line x1="362.6" y1="567.8" x2="364.3" y2="567.8" stroke="#777" stroke-width="0.6"/>
<text x="361.2" y="570.0" font-size="6.4" text-anchor="end" fill="#555" stroke="#555" stroke-width="0.2">0.1</text>
<line x1="362.6" y1="591.9" x2="364.3" y2="591.9" stroke="#777" stroke-width="0.6"/>
<text x="361.2" y="594.1" font-size="6.4" text-anchor="end" fill="#555" stroke="#555" stroke-width="0.2">0.0</text>
<line x1="362.6" y1="616.0" x2="364.3" y2="616.0" stroke="#777" stroke-width="0.6"/>
<text x="361.2" y="618.2" font-size="6.4" text-anchor="end" fill="#555" stroke="#555" stroke-width="0.2">0.1</text>
<text x="344.3" y="580.5" font-size="7.65" text-anchor="middle" fill="#111" stroke="#111" stroke-width="0.2" transform="rotate(-90 344.3 580.5)">Running Enrichment score</text>
<clipPath id="eclip"><rect x="364.3" y="508.6" width="152.2" height="129.19999999999993"/></clipPath>
<g clip-path="url(#eclip)">
<polyline points="363.8,591.9 364.6,578.0 365.4,568.6 366.2,562.7 367.0,556.6 367.8,553.2 368.6,549.7 369.4,548.6 370.2,547.4 371.0,547.4 371.8,545.8 372.6,547.0 373.4,546.6 374.2,545.3 375.0,543.7 375.8,541.7 376.6,540.7 377.4,540.4 378.2,539.4 379.0,540.5 379.8,541.6 380.6,541.0 381.4,542.5 382.2,541.0 383.0,541.0 383.8,540.3 384.6,538.6 385.4,538.4 386.2,538.2 387.0,539.1 387.8,538.2 388.6,538.8 389.4,539.5 390.2,539.3 391.0,539.1 391.8,540.0 392.6,540.7 393.4,542.0 394.2,542.3 395.0,543.6 395.8,544.2 396.6,543.2 397.4,543.6 398.2,544.1 399.0,543.3 399.8,543.3 400.6,542.9 401.4,543.5 402.2,544.7 403.0,544.3 403.8,544.6 404.6,545.1 405.4,545.3 406.2,544.8 407.0,545.5 407.8,545.9 408.6,548.2 409.4,549.4 410.2,550.5 411.0,551.6 411.8,552.7 412.6,553.4 413.4,553.4 414.2,554.0 415.0,554.6 415.8,555.2 416.6,556.1 417.4,555.9 418.2,557.1 419.0,558.0 419.8,559.3 420.6,560.4 421.4,561.7 422.2,563.3 423.0,564.0 423.8,564.4 424.6,565.1 425.4,564.7 426.2,565.2 427.0,566.9 427.8,567.6 428.6,567.5 429.4,567.7 430.2,568.5 431.0,570.1 431.8,570.7 432.6,571.1 433.4,570.1 434.2,570.4 435.0,571.6 435.8,572.7 436.6,574.3 437.4,575.2 438.2,576.8 439.0,578.2 439.8,580.5 440.6,581.8 441.4,583.9 442.2,585.1 443.0,586.0 443.8,586.2 444.6,587.0 445.4,588.5 446.2,589.0 447.0,590.2 447.8,592.6 448.6,593.0 449.4,593.9 450.2,595.2 451.0,596.4 451.8,596.7 452.6,597.5 453.4,599.1 454.2,599.3 455.0,601.1 455.8,601.4 456.6,603.0 457.4,603.9 458.2,603.5 459.0,604.5 459.8,605.2 460.6,606.5 461.4,607.1 462.2,607.2 463.0,607.5 463.8,607.1 464.6,608.1 465.4,609.7 466.2,609.8 467.0,611.2 467.8,611.1 468.6,611.7 469.4,610.7 470.2,611.1 471.0,612.6 471.8,613.8 472.6,614.5 473.4,614.8 474.2,616.7 475.0,616.9 475.8,617.5 476.6,617.5 477.4,618.4 478.2,618.3 479.0,618.4 479.8,619.2 480.6,620.1 481.4,622.0 482.2,624.0 483.0,624.2 483.8,626.0 484.6,625.9 485.4,625.7 486.2,626.1 487.0,625.9 487.8,624.7 488.6,627.2 489.4,628.0 490.2,627.7 491.0,630.0 491.8,631.9 492.6,632.8 493.4,632.5 494.2,631.8 495.0,631.2 495.8,631.2 496.6,630.9 497.4,630.7 498.2,630.8 499.0,628.8 499.8,627.7 500.6,628.3 501.4,627.1 502.2,627.0 503.0,626.2 503.8,622.8 504.6,620.3 505.4,618.7 506.2,617.4 507.0,614.6 507.8,612.2 508.6,609.2 509.4,607.8 510.2,603.6 511.0,602.8 511.8,600.4 512.6,598.2 513.4,596.8 514.2,594.9 515.0,593.5 515.8,591.4" fill="none" stroke="#6ccbd6" stroke-width="1.75" stroke-linejoin="round"/>
<polyline points="363.8,591.9 364.6,578.0 365.4,568.7 366.2,562.8 367.0,557.3 367.8,554.5 368.6,551.6 369.4,549.8 370.2,549.1 371.0,547.4 371.8,546.5 372.6,546.3 373.4,544.9 374.2,542.3 375.0,540.1 375.8,539.0 376.6,538.1 377.4,537.6 378.2,537.1 379.0,537.0 379.8,536.3 380.6,536.5 381.4,536.6 382.2,536.2 383.0,535.8 383.8,533.9 384.6,534.3 385.4,534.8 386.2,534.2 387.0,533.7 387.8,533.3 388.6,533.5 389.4,534.7 390.2,535.1 391.0,536.1 391.8,536.2 392.6,534.9 393.4,535.3 394.2,535.4 395.0,534.8 395.8,536.1 396.6,535.7 397.4,536.1 398.2,536.9 399.0,537.3 399.8,538.2 400.6,537.6 401.4,537.7 402.2,538.5 403.0,538.6 403.8,540.3 404.6,542.7 405.4,542.0 406.2,542.7 407.0,542.5 407.8,543.7 408.6,545.8 409.4,547.1 410.2,547.0 411.0,547.3 411.8,548.4 412.6,548.6 413.4,549.5 414.2,550.1 415.0,551.8 415.8,554.2 416.6,554.8 417.4,554.9 418.2,556.3 419.0,555.8 419.8,556.3 420.6,555.8 421.4,556.2 422.2,556.3 423.0,557.5 423.8,559.6 424.6,558.9 425.4,558.9 426.2,559.2 427.0,560.9 427.8,561.0 428.6,562.7 429.4,563.0 430.2,563.1 431.0,563.6 431.8,565.2 432.6,565.6 433.4,566.3 434.2,566.7 435.0,566.6 435.8,568.0 436.6,569.9 437.4,573.0 438.2,573.2 439.0,575.3 439.8,575.7 440.6,576.9 441.4,577.3 442.2,578.5 443.0,579.6 443.8,581.2 444.6,582.3 445.4,584.4 446.2,584.6 447.0,587.0 447.8,588.4 448.6,589.6 449.4,590.4 450.2,591.4 451.0,593.0 451.8,593.8 452.6,596.7 453.4,597.9 454.2,598.5 455.0,599.7 455.8,599.6 456.6,600.4 457.4,600.8 458.2,602.3 459.0,602.3 459.8,602.4 460.6,604.4 461.4,604.0 462.2,605.6 463.0,607.2 463.8,607.1 464.6,606.2 465.4,606.3 466.2,607.1 467.0,608.2 467.8,609.3 468.6,609.7 469.4,609.9 470.2,611.1 471.0,611.1 471.8,613.2 472.6,613.3 473.4,614.3 474.2,615.5 475.0,614.1 475.8,614.0 476.6,614.8 477.4,616.1 478.2,615.5 479.0,615.9 479.8,617.0 480.6,619.3 481.4,618.9 482.2,618.8 483.0,619.0 483.8,620.4 484.6,622.2 485.4,621.7 486.2,622.4 487.0,622.4 487.8,624.8 488.6,625.5 489.4,625.4 490.2,626.0 491.0,625.1 491.8,625.1 492.6,625.1 493.4,625.4 494.2,625.9 495.0,626.4 495.8,627.0 496.6,625.9 497.4,625.9 498.2,627.4 499.0,626.8 499.8,626.0 500.6,625.7 501.4,624.6 502.2,624.5 503.0,621.8 503.8,620.8 504.6,619.9 505.4,618.0 506.2,616.1 507.0,613.6 507.8,611.8 508.6,609.6 509.4,607.6 510.2,605.8 511.0,604.6 511.8,603.1 512.6,600.9 513.4,599.2 514.2,596.3 515.0,593.9 515.8,591.5" fill="none" stroke="#e8407c" stroke-width="1.75" stroke-linejoin="round"/>
<polyline points="363.8,591.9 364.6,577.8 365.4,567.7 366.2,562.0 367.0,556.7 367.8,553.9 368.6,548.6 369.4,545.9 370.2,543.8 371.0,541.8 371.8,540.7 372.6,538.8 373.4,538.0 374.2,537.6 375.0,537.3 375.8,536.5 376.6,536.1 377.4,534.4 378.2,535.8 379.0,534.2 379.8,532.5 380.6,530.8 381.4,531.1 382.2,531.6 383.0,530.4 383.8,529.7 384.6,529.4 385.4,530.0 386.2,530.1 387.0,531.2 387.8,530.0 388.6,529.4 389.4,529.9 390.2,529.4 391.0,529.7 391.8,531.6 392.6,531.4 393.4,532.3 394.2,532.2 395.0,532.8 395.8,533.8 396.6,534.2 397.4,533.5 398.2,534.6 399.0,535.5 399.8,536.7 400.6,537.2 401.4,536.4 402.2,535.9 403.0,535.9 403.8,536.1 404.6,535.4 405.4,534.9 406.2,534.5 407.0,536.0 407.8,537.3 408.6,537.5 409.4,538.1 410.2,539.6 411.0,540.8 411.8,541.1 412.6,542.3 413.4,543.9 414.2,544.7 415.0,546.2 415.8,546.8 416.6,547.7 417.4,549.0 418.2,550.7 419.0,550.9 419.8,552.6 420.6,553.5 421.4,554.6 422.2,555.5 423.0,556.7 423.8,556.8 424.6,557.6 425.4,559.3 426.2,561.2 427.0,561.1 427.8,561.9 428.6,561.5 429.4,561.9 430.2,561.6 431.0,563.5 431.8,564.4 432.6,564.1 433.4,565.9 434.2,566.0 435.0,566.8 435.8,566.7 436.6,567.7 437.4,569.2 438.2,570.0 439.0,569.9 439.8,572.5 440.6,573.9 441.4,576.1 442.2,577.1 443.0,578.1 443.8,580.0 444.6,582.4 445.4,583.6 446.2,584.8 447.0,585.1 447.8,586.1 448.6,586.3 449.4,587.2 450.2,587.1 451.0,587.5 451.8,589.8 452.6,591.1 453.4,591.9 454.2,593.1 455.0,593.9 455.8,593.7 456.6,595.6 457.4,597.2 458.2,598.9 459.0,599.0 459.8,598.2 460.6,600.0 461.4,599.2 462.2,601.4 463.0,602.4 463.8,603.3 464.6,604.0 465.4,605.2 466.2,606.8 467.0,607.5 467.8,607.3 468.6,608.1 469.4,608.4 470.2,608.7 471.0,608.2 471.8,609.7 472.6,609.0 473.4,608.3 474.2,610.0 475.0,609.8 475.8,612.0 476.6,613.2 477.4,614.1 478.2,614.7 479.0,616.7 479.8,617.7 480.6,619.3 481.4,618.9 482.2,620.0 483.0,620.2 483.8,621.0 484.6,621.0 485.4,623.5 486.2,623.8 487.0,625.3 487.8,626.3 488.6,626.2 489.4,626.0 490.2,627.1 491.0,628.0 491.8,626.9 492.6,627.5 493.4,627.3 494.2,627.2 495.0,626.5 495.8,626.5 496.6,626.6 497.4,625.8 498.2,627.8 499.0,628.2 499.8,627.1 500.6,625.8 501.4,624.6 502.2,624.3 503.0,624.2 503.8,624.1 504.6,621.9 505.4,619.9 506.2,617.9 507.0,617.6 507.8,615.8 508.6,614.4 509.4,611.3 510.2,608.3 511.0,605.4 511.8,602.8 512.6,599.7 513.4,597.5 514.2,595.8 515.0,593.5 515.8,591.4" fill="none" stroke="#ee8a1c" stroke-width="1.75" stroke-linejoin="round"/>
<polyline points="363.8,591.9 364.6,577.1 365.4,566.3 366.2,560.6 367.0,553.5 367.8,550.6 368.6,546.2 369.4,543.9 370.2,542.8 371.0,541.6 371.8,540.0 372.6,538.3 373.4,536.3 374.2,535.5 375.0,533.8 375.8,532.1 376.6,529.9 377.4,530.1 378.2,529.5 379.0,528.6 379.8,528.2 380.6,527.4 381.4,527.7 382.2,528.0 383.0,528.3 383.8,528.7 384.6,529.1 385.4,528.9 386.2,529.6 387.0,530.0 387.8,529.5 388.6,530.7 389.4,531.4 390.2,531.5 391.0,532.3 391.8,532.9 392.6,531.4 393.4,531.2 394.2,531.6 395.0,532.3 395.8,533.5 396.6,534.3 397.4,536.0 398.2,535.3 399.0,535.5 399.8,534.7 400.6,534.6 401.4,536.1 402.2,534.6 403.0,534.5 403.8,534.3 404.6,535.2 405.4,536.1 406.2,536.7 407.0,535.8 407.8,537.4 408.6,538.8 409.4,539.2 410.2,541.5 411.0,541.1 411.8,542.8 412.6,542.6 413.4,543.6 414.2,544.7 415.0,546.5 415.8,546.2 416.6,547.4 417.4,549.4 418.2,549.7 419.0,550.8 419.8,551.3 420.6,552.6 421.4,553.2 422.2,553.7 423.0,554.6 423.8,556.8 424.6,557.2 425.4,557.1 426.2,557.7 427.0,557.8 427.8,558.1 428.6,559.1 429.4,559.2 430.2,560.2 431.0,561.8 431.8,563.5 432.6,563.4 433.4,563.6 434.2,564.0 435.0,565.3 435.8,567.4 436.6,567.5 437.4,568.3 438.2,570.2 439.0,572.1 439.8,574.0 440.6,576.8 441.4,577.6 442.2,578.2 443.0,578.8 443.8,580.4 444.6,582.6 445.4,584.8 446.2,586.1 447.0,585.7 447.8,586.0 448.6,587.0 449.4,587.6 450.2,588.1 451.0,589.2 451.8,590.1 452.6,591.1 453.4,592.6 454.2,594.4 455.0,595.8 455.8,595.8 456.6,598.0 457.4,599.2 458.2,600.3 459.0,601.1 459.8,602.1 460.6,602.3 461.4,603.4 462.2,604.1 463.0,604.4 463.8,606.3 464.6,606.2 465.4,605.9 466.2,607.5 467.0,608.1 467.8,609.2 468.6,610.0 469.4,609.8 470.2,611.8 471.0,611.5 471.8,611.5 472.6,612.0 473.4,610.7 474.2,611.7 475.0,613.4 475.8,613.5 476.6,613.9 477.4,614.9 478.2,617.1 479.0,618.9 479.8,617.9 480.6,619.5 481.4,618.7 482.2,618.6 483.0,620.8 483.8,621.0 484.6,621.0 485.4,620.7 486.2,620.3 487.0,620.0 487.8,620.9 488.6,621.9 489.4,622.9 490.2,623.3 491.0,624.8 491.8,626.4 492.6,625.4 493.4,625.5 494.2,625.6 495.0,625.9 495.8,626.6 496.6,626.8 497.4,627.3 498.2,627.6 499.0,628.6 499.8,627.4 500.6,626.3 501.4,625.0 502.2,624.2 503.0,624.0 503.8,621.5 504.6,619.1 505.4,616.9 506.2,614.6 507.0,613.2 507.8,611.0 508.6,609.9 509.4,607.2 510.2,604.5 511.0,601.9 511.8,599.7 512.6,597.8 513.4,596.2 514.2,594.3 515.0,592.8 515.8,591.0" fill="none" stroke="#f2b705" stroke-width="1.75" stroke-linejoin="round"/>
<polyline points="363.8,591.9 364.6,576.8 365.4,565.1 366.2,557.7 367.0,551.3 367.8,546.9 368.6,543.8 369.4,541.8 370.2,540.1 371.0,538.9 371.8,536.6 372.6,536.5 373.4,535.3 374.2,533.3 375.0,532.2 375.8,529.9 376.6,528.0 377.4,528.8 378.2,528.8 379.0,528.9 379.8,527.4 380.6,527.5 381.4,528.9 382.2,529.1 383.0,529.1 383.8,529.0 384.6,528.8 385.4,528.5 386.2,528.9 387.0,529.0 387.8,529.3 388.6,529.6 389.4,529.8 390.2,529.2 391.0,529.2 391.8,528.9 392.6,529.7 393.4,531.2 394.2,531.4 395.0,530.9 395.8,531.1 396.6,531.7 397.4,533.0 398.2,532.8 399.0,533.5 399.8,534.8 400.6,534.5 401.4,534.4 402.2,533.5 403.0,534.9 403.8,536.4 404.6,536.6 405.4,535.8 406.2,536.1 407.0,536.2 407.8,537.8 408.6,538.2 409.4,540.2 410.2,542.3 411.0,542.5 411.8,542.3 412.6,543.7 413.4,544.3 414.2,544.7 415.0,545.8 415.8,546.8 416.6,547.4 417.4,549.1 418.2,550.8 419.0,551.4 419.8,550.5 420.6,551.9 421.4,553.2 422.2,552.7 423.0,554.2 423.8,555.8 424.6,555.3 425.4,555.9 426.2,556.5 427.0,559.0 427.8,558.8 428.6,559.8 429.4,559.8 430.2,560.2 431.0,559.7 431.8,560.1 432.6,559.7 433.4,561.4 434.2,561.6 435.0,562.3 435.8,563.8 436.6,565.9 437.4,567.2 438.2,569.5 439.0,571.5 439.8,573.4 440.6,575.5 441.4,576.8 442.2,578.0 443.0,580.1 443.8,581.9 444.6,582.9 445.4,584.5 446.2,586.1 447.0,587.7 447.8,589.9 448.6,590.8 449.4,592.3 450.2,593.0 451.0,593.9 451.8,594.9 452.6,595.0 453.4,596.3 454.2,596.2 455.0,596.7 455.8,595.5 456.6,597.3 457.4,598.8 458.2,599.4 459.0,599.7 459.8,600.8 460.6,601.1 461.4,602.0 462.2,604.1 463.0,604.7 463.8,604.9 464.6,605.4 465.4,606.1 466.2,607.4 467.0,607.4 467.8,607.0 468.6,608.8 469.4,608.9 470.2,610.9 471.0,611.2 471.8,613.6 472.6,614.0 473.4,613.8 474.2,615.2 475.0,616.4 475.8,616.5 476.6,617.0 477.4,617.0 478.2,616.3 479.0,617.7 479.8,617.9 480.6,619.8 481.4,622.4 482.2,623.3 483.0,625.5 483.8,625.1 484.6,624.5 485.4,624.3 486.2,625.8 487.0,626.6 487.8,628.1 488.6,628.4 489.4,629.4 490.2,628.7 491.0,628.7 491.8,630.1 492.6,629.3 493.4,629.6 494.2,629.4 495.0,629.1 495.8,627.8 496.6,626.8 497.4,626.1 498.2,625.0 499.0,624.6 499.8,623.9 500.6,624.0 501.4,625.1 502.2,623.4 503.0,622.4 503.8,622.3 504.6,619.8 505.4,617.9 506.2,616.0 507.0,612.8 507.8,610.4 508.6,609.9 509.4,607.8 510.2,605.0 511.0,602.1 511.8,599.8 512.6,598.3 513.4,596.4 514.2,595.5 515.0,593.1 515.8,591.2" fill="none" stroke="#84c55a" stroke-width="1.75" stroke-linejoin="round"/>
<polyline points="363.8,591.9 364.6,576.8 365.4,565.9 366.2,558.8 367.0,552.4 367.8,549.4 368.6,543.4 369.4,540.8 370.2,539.2 371.0,536.5 371.8,534.5 372.6,533.8 373.4,533.9 374.2,533.2 375.0,532.5 375.8,532.2 376.6,532.4 377.4,532.6 378.2,532.2 379.0,532.0 379.8,531.1 380.6,529.8 381.4,529.3 382.2,529.1 383.0,527.8 383.8,527.2 384.6,528.3 385.4,528.7 386.2,528.5 387.0,529.4 387.8,528.9 388.6,530.3 389.4,531.8 390.2,531.0 391.0,530.6 391.8,532.0 392.6,532.0 393.4,531.0 394.2,532.1 395.0,533.1 395.8,534.1 396.6,534.8 397.4,536.0 398.2,536.2 399.0,537.1 399.8,536.8 400.6,535.0 401.4,535.8 402.2,535.3 403.0,534.8 403.8,537.1 404.6,537.4 405.4,537.8 406.2,538.4 407.0,538.2 407.8,539.1 408.6,539.6 409.4,540.8 410.2,541.7 411.0,543.1 411.8,542.1 412.6,543.1 413.4,544.9 414.2,544.4 415.0,544.3 415.8,545.7 416.6,547.3 417.4,549.0 418.2,549.1 419.0,550.5 419.8,552.1 420.6,552.4 421.4,553.7 422.2,554.7 423.0,554.2 423.8,554.7 424.6,554.9 425.4,555.8 426.2,555.9 427.0,557.0 427.8,557.3 428.6,557.5 429.4,558.9 430.2,560.9 431.0,561.4 431.8,562.4 432.6,562.8 433.4,564.2 434.2,564.7 435.0,564.8 435.8,564.0 436.6,563.8 437.4,565.5 438.2,566.4 439.0,569.0 439.8,570.0 440.6,571.9 441.4,572.6 442.2,574.2 443.0,576.1 443.8,578.4 444.6,579.1 445.4,580.7 446.2,581.6 447.0,582.6 447.8,585.5 448.6,586.2 449.4,587.7 450.2,588.6 451.0,589.4 451.8,591.9 452.6,593.2 453.4,594.2 454.2,594.8 455.0,595.1 455.8,596.7 456.6,597.9 457.4,598.4 458.2,600.7 459.0,600.1 459.8,601.7 460.6,601.6 461.4,602.4 462.2,601.9 463.0,602.2 463.8,603.3 464.6,605.4 465.4,606.0 466.2,606.4 467.0,606.7 467.8,608.4 468.6,609.6 469.4,610.7 470.2,610.9 471.0,612.0 471.8,612.5 472.6,612.1 473.4,612.9 474.2,612.3 475.0,612.6 475.8,613.3 476.6,613.1 477.4,613.4 478.2,614.4 479.0,615.5 479.8,616.2 480.6,616.5 481.4,616.3 482.2,616.9 483.0,618.1 483.8,619.8 484.6,620.2 485.4,620.5 486.2,620.3 487.0,621.5 487.8,623.1 488.6,623.2 489.4,624.1 490.2,625.7 491.0,625.1 491.8,625.2 492.6,626.0 493.4,626.6 494.2,627.5 495.0,626.6 495.8,626.9 496.6,627.1 497.4,627.2 498.2,627.9 499.0,626.8 499.8,624.8 500.6,623.7 501.4,624.7 502.2,624.2 503.0,624.0 503.8,622.3 504.6,622.1 505.4,621.7 506.2,619.9 507.0,616.9 507.8,615.0 508.6,611.3 509.4,609.8 510.2,607.5 511.0,605.4 511.8,603.7 512.6,600.6 513.4,599.0 514.2,596.9 515.0,594.3 515.8,591.7" fill="none" stroke="#1c9e78" stroke-width="1.75" stroke-linejoin="round"/>
<polyline points="363.8,591.9 364.6,576.1 365.4,565.0 366.2,558.0 367.0,552.8 367.8,549.5 368.6,545.6 369.4,541.5 370.2,538.0 371.0,536.9 371.8,534.9 372.6,533.8 373.4,531.0 374.2,530.8 375.0,529.8 375.8,528.6 376.6,528.4 377.4,528.4 378.2,527.7 379.0,527.1 379.8,527.4 380.6,527.4 381.4,527.0 382.2,527.2 383.0,526.0 383.8,526.7 384.6,527.3 385.4,526.3 386.2,526.6 387.0,527.1 387.8,526.5 388.6,527.0 389.4,528.6 390.2,528.9 391.0,528.5 391.8,528.6 392.6,527.6 393.4,527.7 394.2,527.8 395.0,527.0 395.8,528.0 396.6,530.9 397.4,530.7 398.2,530.2 399.0,530.3 399.8,531.4 400.6,531.1 401.4,530.3 402.2,530.8 403.0,532.4 403.8,533.3 404.6,533.6 405.4,535.5 406.2,535.2 407.0,536.9 407.8,536.2 408.6,537.7 409.4,538.0 410.2,538.7 411.0,541.4 411.8,541.8 412.6,543.4 413.4,544.7 414.2,545.5 415.0,547.8 415.8,549.0 416.6,549.5 417.4,549.8 418.2,549.9 419.0,550.6 419.8,553.9 420.6,554.4 421.4,556.0 422.2,558.2 423.0,558.6 423.8,558.4 424.6,559.3 425.4,560.2 426.2,561.7 427.0,562.6 427.8,562.5 428.6,562.9 429.4,563.3 430.2,564.3 431.0,565.4 431.8,566.5 432.6,568.2 433.4,567.5 434.2,569.3 435.0,568.8 435.8,568.9 436.6,571.0 437.4,571.8 438.2,572.8 439.0,573.8 439.8,575.5 440.6,577.3 441.4,578.9 442.2,580.2 443.0,582.7 443.8,583.0 444.6,584.9 445.4,584.9 446.2,585.1 447.0,587.8 447.8,589.6 448.6,591.1 449.4,592.0 450.2,593.7 451.0,594.1 451.8,595.2 452.6,596.9 453.4,597.0 454.2,598.4 455.0,598.7 455.8,598.0 456.6,599.0 457.4,600.3 458.2,602.6 459.0,602.8 459.8,603.9 460.6,604.7 461.4,604.6 462.2,606.3 463.0,606.6 463.8,606.0 464.6,606.0 465.4,607.4 466.2,607.0 467.0,608.0 467.8,607.5 468.6,608.1 469.4,608.0 470.2,610.2 471.0,610.6 471.8,613.0 472.6,613.0 473.4,614.2 474.2,614.1 475.0,614.3 475.8,613.1 476.6,613.2 477.4,613.4 478.2,615.7 479.0,616.1 479.8,617.5 480.6,618.2 481.4,618.7 482.2,618.9 483.0,618.8 483.8,618.8 484.6,619.3 485.4,620.5 486.2,621.3 487.0,621.8 487.8,622.2 488.6,624.4 489.4,624.6 490.2,626.5 491.0,626.6 491.8,627.6 492.6,629.5 493.4,629.7 494.2,630.4 495.0,629.6 495.8,629.1 496.6,628.9 497.4,627.9 498.2,628.4 499.0,628.4 499.8,627.6 500.6,626.3 501.4,625.7 502.2,627.4 503.0,626.5 503.8,625.1 504.6,623.4 505.4,622.5 506.2,621.3 507.0,619.2 507.8,616.3 508.6,614.8 509.4,612.4 510.2,610.3 511.0,607.3 511.8,605.7 512.6,602.7 513.4,599.0 514.2,596.2 515.0,594.1 515.8,591.7" fill="none" stroke="#a4a898" stroke-width="1.75" stroke-linejoin="round"/>
<polyline points="363.8,591.9 364.6,575.3 365.4,563.6 366.2,556.9 367.0,549.6 367.8,544.1 368.6,539.7 369.4,537.7 370.2,536.5 371.0,534.7 371.8,532.1 372.6,530.8 373.4,530.0 374.2,529.1 375.0,527.9 375.8,527.3 376.6,526.6 377.4,525.8 378.2,524.0 379.0,523.6 379.8,522.4 380.6,522.7 381.4,521.8 382.2,521.5 383.0,521.8 383.8,521.7 384.6,520.9 385.4,521.0 386.2,520.2 387.0,519.3 387.8,518.5 388.6,517.8 389.4,519.3 390.2,519.5 391.0,520.6 391.8,520.4 392.6,520.9 393.4,521.2 394.2,521.4 395.0,522.4 395.8,522.8 396.6,523.7 397.4,522.6 398.2,523.4 399.0,523.9 399.8,525.6 400.6,527.0 401.4,527.8 402.2,527.5 403.0,527.5 403.8,527.9 404.6,529.0 405.4,528.3 406.2,529.8 407.0,531.1 407.8,531.4 408.6,533.0 409.4,533.8 410.2,534.0 411.0,535.1 411.8,535.9 412.6,536.9 413.4,538.5 414.2,541.9 415.0,543.7 415.8,544.5 416.6,546.5 417.4,547.7 418.2,548.3 419.0,548.1 419.8,550.0 420.6,551.2 421.4,551.8 422.2,552.2 423.0,554.0 423.8,553.4 424.6,555.0 425.4,555.0 426.2,556.1 427.0,556.4 427.8,555.9 428.6,556.2 429.4,557.0 430.2,558.7 431.0,559.9 431.8,561.8 432.6,560.9 433.4,562.9 434.2,565.6 435.0,564.9 435.8,564.6 436.6,565.6 437.4,566.2 438.2,568.5 439.0,570.6 439.8,571.9 440.6,573.2 441.4,575.1 442.2,575.3 443.0,576.3 443.8,577.8 444.6,580.3 445.4,581.7 446.2,583.4 447.0,584.6 447.8,585.1 448.6,586.7 449.4,587.6 450.2,588.2 451.0,589.1 451.8,588.6 452.6,591.1 453.4,592.1 454.2,593.9 455.0,594.7 455.8,593.6 456.6,595.9 457.4,596.9 458.2,597.2 459.0,598.0 459.8,598.1 460.6,600.1 461.4,600.1 462.2,601.6 463.0,603.2 463.8,603.4 464.6,603.6 465.4,604.6 466.2,605.2 467.0,604.3 467.8,603.2 468.6,602.4 469.4,602.3 470.2,603.4 471.0,601.7 471.8,601.2 472.6,602.1 473.4,603.5 474.2,604.3 475.0,605.2 475.8,607.7 476.6,607.6 477.4,608.6 478.2,610.4 479.0,611.8 479.8,613.4 480.6,613.3 481.4,613.6 482.2,613.1 483.0,612.5 483.8,613.4 484.6,614.4 485.4,615.7 486.2,616.4 487.0,617.4 487.8,617.9 488.6,618.2 489.4,618.3 490.2,619.8 491.0,619.5 491.8,620.4 492.6,621.1 493.4,622.0 494.2,623.9 495.0,623.4 495.8,624.4 496.6,623.2 497.4,622.8 498.2,621.3 499.0,620.7 499.8,619.6 500.6,618.0 501.4,617.7 502.2,616.1 503.0,615.8 503.8,614.9 504.6,614.1 505.4,612.3 506.2,610.4 507.0,609.5 507.8,609.0 508.6,607.6 509.4,605.5 510.2,603.9 511.0,602.8 511.8,601.5 512.6,599.7 513.4,599.1 514.2,596.8 515.0,593.8 515.8,591.7" fill="none" stroke="#7d3c9c" stroke-width="1.75" stroke-linejoin="round"/>
<polyline points="363.8,591.9 364.6,575.9 365.4,564.0 366.2,557.3 367.0,549.6 367.8,545.1 368.6,541.0 369.4,539.0 370.2,536.6 371.0,535.3 371.8,532.8 372.6,531.0 373.4,529.6 374.2,527.8 375.0,526.6 375.8,526.3 376.6,525.5 377.4,524.9 378.2,525.3 379.0,524.4 379.8,522.8 380.6,522.2 381.4,521.7 382.2,521.3 383.0,520.4 383.8,520.9 384.6,520.1 385.4,520.7 386.2,520.2 387.0,520.0 387.8,521.3 388.6,521.0 389.4,521.1 390.2,522.6 391.0,523.2 391.8,523.9 392.6,524.7 393.4,524.5 394.2,525.3 395.0,525.4 395.8,526.4 396.6,526.6 397.4,525.3 398.2,525.3 399.0,526.7 399.8,527.6 400.6,527.8 401.4,529.1 402.2,528.4 403.0,528.5 403.8,529.1 404.6,529.5 405.4,530.6 406.2,531.9 407.0,534.6 407.8,536.1 408.6,536.0 409.4,535.9 410.2,536.7 411.0,538.7 411.8,539.5 412.6,540.1 413.4,541.7 414.2,541.3 415.0,542.8 415.8,543.6 416.6,545.2 417.4,545.3 418.2,547.1 419.0,548.5 419.8,548.4 420.6,550.2 421.4,551.4 422.2,551.7 423.0,552.2 423.8,554.3 424.6,554.6 425.4,555.6 426.2,555.5 427.0,557.7 427.8,557.7 428.6,557.9 429.4,558.9 430.2,559.8 431.0,560.1 431.8,561.3 432.6,562.1 433.4,563.3 434.2,563.8 435.0,563.9 435.8,565.8 436.6,566.3 437.4,566.7 438.2,566.2 439.0,568.4 439.8,569.1 440.6,571.1 441.4,572.4 442.2,574.0 443.0,575.3 443.8,577.0 444.6,579.3 445.4,579.6 446.2,580.0 447.0,581.7 447.8,583.2 448.6,584.6 449.4,586.8 450.2,588.8 451.0,589.5 451.8,589.8 452.6,591.1 453.4,592.9 454.2,594.7 455.0,596.1 455.8,596.4 456.6,597.3 457.4,599.3 458.2,601.1 459.0,601.6 459.8,602.1 460.6,601.6 461.4,601.4 462.2,602.3 463.0,603.8 463.8,604.6 464.6,606.5 465.4,607.8 466.2,607.5 467.0,607.7 467.8,607.7 468.6,607.2 469.4,608.4 470.2,608.6 471.0,609.3 471.8,609.8 472.6,610.4 473.4,610.7 474.2,612.5 475.0,614.1 475.8,614.5 476.6,614.7 477.4,615.7 478.2,616.4 479.0,618.0 479.8,617.8 480.6,618.0 481.4,617.5 482.2,618.6 483.0,619.4 483.8,620.1 484.6,619.8 485.4,620.2 486.2,620.7 487.0,622.9 487.8,624.2 488.6,626.0 489.4,626.8 490.2,626.8 491.0,627.5 491.8,628.9 492.6,628.1 493.4,629.8 494.2,629.5 495.0,628.9 495.8,628.7 496.6,627.6 497.4,628.5 498.2,628.8 499.0,629.0 499.8,628.3 500.6,627.7 501.4,625.7 502.2,625.4 503.0,624.9 503.8,625.2 504.6,622.8 505.4,620.2 506.2,618.8 507.0,617.8 507.8,616.7 508.6,613.6 509.4,610.7 510.2,608.1 511.0,605.2 511.8,602.5 512.6,599.9 513.4,598.8 514.2,596.1 515.0,593.5 515.8,591.2" fill="none" stroke="#3a6bbd" stroke-width="1.75" stroke-linejoin="round"/>
<polyline points="363.8,591.9 364.6,574.4 365.4,561.3 366.2,553.7 367.0,546.2 367.8,541.4 368.6,537.8 369.4,534.4 370.2,532.7 371.0,529.2 371.8,527.4 372.6,526.4 373.4,524.7 374.2,523.1 375.0,522.2 375.8,520.3 376.6,520.0 377.4,520.3 378.2,520.0 379.0,519.5 379.8,519.0 380.6,518.2 381.4,516.8 382.2,516.4 383.0,515.8 383.8,515.7 384.6,516.3 385.4,516.0 386.2,516.4 387.0,515.6 387.8,515.8 388.6,516.7 389.4,516.7 390.2,516.6 391.0,517.0 391.8,518.0 392.6,518.3 393.4,518.8 394.2,519.2 395.0,521.4 395.8,521.8 396.6,520.1 397.4,518.9 398.2,518.3 399.0,518.7 399.8,518.2 400.6,518.1 401.4,518.5 402.2,518.9 403.0,519.3 403.8,521.2 404.6,521.1 405.4,521.1 406.2,521.7 407.0,522.2 407.8,523.6 408.6,524.5 409.4,525.7 410.2,527.5 411.0,528.3 411.8,527.7 412.6,527.5 413.4,528.8 414.2,530.5 415.0,530.1 415.8,532.2 416.6,534.2 417.4,535.2 418.2,535.1 419.0,535.4 419.8,538.5 420.6,541.4 421.4,543.6 422.2,543.7 423.0,545.6 423.8,547.2 424.6,547.3 425.4,549.2 426.2,549.1 427.0,551.7 427.8,553.2 428.6,552.9 429.4,554.5 430.2,555.0 431.0,555.1 431.8,555.3 432.6,555.8 433.4,556.4 434.2,556.8 435.0,557.7 435.8,559.1 436.6,558.6 437.4,560.5 438.2,561.4 439.0,563.2 439.8,565.4 440.6,566.4 441.4,569.7 442.2,572.7 443.0,574.0 443.8,575.5 444.6,576.9 445.4,578.6 446.2,579.8 447.0,581.6 447.8,582.3 448.6,583.7 449.4,586.1 450.2,588.1 451.0,588.9 451.8,590.7 452.6,593.1 453.4,593.7 454.2,594.6 455.0,594.7 455.8,594.5 456.6,596.7 457.4,597.3 458.2,598.8 459.0,599.9 459.8,600.5 460.6,601.2 461.4,602.2 462.2,603.0 463.0,603.7 463.8,606.9 464.6,606.9 465.4,607.1 466.2,607.0 467.0,606.2 467.8,604.3 468.6,604.2 469.4,603.9 470.2,605.0 471.0,607.5 471.8,608.6 472.6,609.8 473.4,613.1 474.2,613.5 475.0,613.6 475.8,613.8 476.6,615.1 477.4,616.5 478.2,617.1 479.0,617.5 479.8,618.2 480.6,618.8 481.4,619.0 482.2,619.3 483.0,619.5 483.8,620.2 484.6,622.2 485.4,622.4 486.2,622.7 487.0,622.5 487.8,622.9 488.6,624.5 489.4,624.7 490.2,624.6 491.0,624.0 491.8,625.0 492.6,625.7 493.4,626.7 494.2,626.7 495.0,627.1 495.8,625.2 496.6,625.3 497.4,625.7 498.2,624.9 499.0,624.5 499.8,625.1 500.6,624.6 501.4,624.5 502.2,625.1 503.0,624.0 503.8,623.8 504.6,622.0 505.4,619.6 506.2,618.3 507.0,615.7 507.8,614.2 508.6,612.0 509.4,610.3 510.2,608.8 511.0,608.0 511.8,606.0 512.6,603.8 513.4,599.1 514.2,596.7 515.0,594.0 515.8,591.5" fill="none" stroke="#1a7f93" stroke-width="1.75" stroke-linejoin="round"/>
</g>
<line x1="364.3" y1="591.9" x2="516.5" y2="591.9" stroke="#1a1a1a" stroke-width="1.9" stroke-dasharray="5.4 5.8" stroke-dashoffset="-0.8"/>
<g stroke="#c8a0c4" stroke-width="0.7" fill="none" opacity="0.9" stroke-linecap="round" stroke-linejoin="round">
<polyline points="499.1,525.9 492.7,522.9 489,517.9"/>
<polyline points="492.7,522.9 494.4,518.9"/>
<polyline points="499.1,525.9 498.2,520 497.4,515"/>
<polyline points="498.4,521 499.6,516.2"/>
<polyline points="499.1,525.9 503.9,523.4 507.3,518.2"/>
<polyline points="503.9,523.4 509.8,520.9"/>
<polyline points="499.1,525.9 495.4,529.9 489.5,531.3"/>
<polyline points="495.4,529.9 494.4,534.3"/>
<polyline points="499.1,525.9 500.2,531 500.9,536.3"/>
<polyline points="500.4,531.5 505.3,534.3"/>
</g>
<path d="M499.1,523.2 L500.4,525 L502.2,525.6 L500.8,527 L500.9,529 L499.1,528 L497.3,529 L497.5,527 L496,525.6 L497.8,525 Z" fill="#b07ca8"/>
<rect x="364.5" y="640.6" width="151.8" height="5.6" fill="#fff"/>
<rect x="364.8" y="641.0" width="74.0" height="4.1" fill="#7d3c9c"/>
<rect x="460.0" y="641.0" width="56.0" height="4.1" fill="#7d3c9c"/>
<rect x="368.2" y="641.0" width="1.22" height="4.1" fill="#fff" opacity="0.6"/>
<rect x="371.2" y="641.0" width="0.63" height="4.1" fill="#fff" opacity="0.9"/>
<rect x="378.3" y="641.0" width="0.89" height="4.1" fill="#fff" opacity="0.4"/>
<rect x="380.8" y="641.0" width="1.09" height="4.1" fill="#fff" opacity="0.6"/>
<rect x="385.0" y="641.0" width="1.11" height="4.1" fill="#fff" opacity="0.9"/>
<rect x="392.2" y="641.0" width="1.15" height="4.1" fill="#fff" opacity="0.6"/>
<rect x="395.3" y="641.0" width="1.19" height="4.1" fill="#fff" opacity="0.4"/>
<rect x="401.2" y="641.0" width="0.83" height="4.1" fill="#fff" opacity="0.9"/>
<rect x="408.2" y="641.0" width="0.79" height="4.1" fill="#fff" opacity="0.6"/>
<rect x="412.8" y="641.0" width="1.38" height="4.1" fill="#fff" opacity="0.9"/>
<rect x="418.9" y="641.0" width="0.92" height="4.1" fill="#fff" opacity="0.9"/>
<rect x="421.9" y="641.0" width="0.96" height="4.1" fill="#fff" opacity="0.9"/>
<rect x="429.7" y="641.0" width="1.14" height="4.1" fill="#fff" opacity="0.4"/>
<rect x="437.3" y="641.0" width="0.47" height="4.1" fill="#fff" opacity="0.4"/>
<rect x="463.7" y="641.0" width="3.60" height="4.1" fill="#fff" opacity="0.95"/>
<rect x="469.4" y="641.0" width="2.80" height="4.1" fill="#fff" opacity="0.6"/>
<rect x="474.2" y="641.0" width="2.80" height="4.1" fill="#fff" opacity="0.6"/>
<rect x="479.0" y="641.0" width="3.60" height="4.1" fill="#fff" opacity="0.6"/>
<rect x="486.2" y="641.0" width="0.50" height="4.1" fill="#fff" opacity="0.6"/>
<rect x="488.8" y="641.0" width="3.60" height="4.1" fill="#fff" opacity="0.95"/>
<rect x="497.2" y="641.0" width="1.20" height="4.1" fill="#fff" opacity="0.6"/>
<rect x="501.1" y="641.0" width="1.80" height="4.1" fill="#fff" opacity="0.6"/>
<rect x="504.3" y="641.0" width="3.60" height="4.1" fill="#fff" opacity="0.8"/>
<rect x="509.6" y="641.0" width="1.20" height="4.1" fill="#fff" opacity="0.95"/>
<rect x="441.2" y="641.0" width="0.8" height="4.1" fill="#7d3c9c" opacity="0.8"/>
<rect x="452.5" y="641.0" width="0.8" height="4.1" fill="#7d3c9c" opacity="0.8"/>
<rect x="364.8" y="645.1" width="85.2" height="0.9" fill="#e8a0a0" opacity="0.8"/>
<rect x="364.8" y="645.1" width="18" height="0.9" fill="#c04040" opacity="0.6"/>
<rect x="473.4" y="645.1" width="42.6" height="0.9" fill="#9ab8d8" opacity="0.8"/>
<rect x="364.5" y="640.6" width="151.8" height="5.6" fill="none" stroke="#555" stroke-width="0.7"/>
<rect x="364.5" y="648.9" width="151.8" height="5.6" fill="#fff"/>
<rect x="364.8" y="649.3" width="74.0" height="4.1" fill="#1c9e78"/>
<rect x="460.0" y="649.3" width="56.0" height="4.1" fill="#1c9e78"/>
<rect x="369.5" y="649.3" width="0.79" height="4.1" fill="#fff" opacity="0.9"/>
<rect x="373.2" y="649.3" width="0.69" height="4.1" fill="#fff" opacity="0.4"/>
<rect x="379.9" y="649.3" width="0.54" height="4.1" fill="#fff" opacity="0.9"/>
<rect x="386.1" y="649.3" width="0.77" height="4.1" fill="#fff" opacity="0.9"/>
<rect x="393.2" y="649.3" width="0.79" height="4.1" fill="#fff" opacity="0.6"/>
<rect x="397.8" y="649.3" width="1.03" height="4.1" fill="#fff" opacity="0.9"/>
<rect x="401.1" y="649.3" width="0.45" height="4.1" fill="#fff" opacity="0.4"/>
<rect x="405.8" y="649.3" width="0.71" height="4.1" fill="#fff" opacity="0.6"/>
<rect x="409.0" y="649.3" width="0.79" height="4.1" fill="#fff" opacity="0.4"/>
<rect x="412.4" y="649.3" width="0.49" height="4.1" fill="#fff" opacity="0.6"/>
<rect x="418.4" y="649.3" width="0.84" height="4.1" fill="#fff" opacity="0.4"/>
<rect x="423.7" y="649.3" width="0.95" height="4.1" fill="#fff" opacity="0.9"/>
<rect x="430.1" y="649.3" width="0.41" height="4.1" fill="#fff" opacity="0.9"/>
<rect x="435.6" y="649.3" width="1.36" height="4.1" fill="#fff" opacity="0.4"/>
<rect x="464.3" y="649.3" width="0.50" height="4.1" fill="#fff" opacity="0.8"/>
<rect x="469.6" y="649.3" width="2.80" height="4.1" fill="#fff" opacity="0.95"/>
<rect x="475.5" y="649.3" width="3.60" height="4.1" fill="#fff" opacity="0.95"/>
<rect x="481.8" y="649.3" width="3.60" height="4.1" fill="#fff" opacity="0.6"/>
<rect x="489.8" y="649.3" width="0.50" height="4.1" fill="#fff" opacity="0.95"/>
<rect x="495.0" y="649.3" width="1.20" height="4.1" fill="#fff" opacity="0.8"/>
<rect x="498.4" y="649.3" width="1.20" height="4.1" fill="#fff" opacity="0.8"/>
<rect x="504.6" y="649.3" width="1.80" height="4.1" fill="#fff" opacity="0.6"/>
<rect x="509.6" y="649.3" width="0.80" height="4.1" fill="#fff" opacity="0.8"/>
<rect x="511.7" y="649.3" width="1.80" height="4.1" fill="#fff" opacity="0.8"/>
<rect x="445.4" y="649.3" width="0.8" height="4.1" fill="#1c9e78" opacity="0.8"/>
<rect x="454.6" y="649.3" width="0.8" height="4.1" fill="#1c9e78" opacity="0.8"/>
<rect x="364.8" y="653.4" width="85.2" height="0.9" fill="#e8a0a0" opacity="0.8"/>
<rect x="364.8" y="653.4" width="18" height="0.9" fill="#c04040" opacity="0.6"/>
<rect x="473.4" y="653.4" width="42.6" height="0.9" fill="#9ab8d8" opacity="0.8"/>
<rect x="364.5" y="648.9" width="151.8" height="5.6" fill="none" stroke="#555" stroke-width="0.7"/>
<rect x="364.5" y="657.2" width="151.8" height="5.6" fill="#fff"/>
<rect x="364.8" y="657.6" width="74.0" height="4.1" fill="#3a6bbd"/>
<rect x="460.0" y="657.6" width="56.0" height="4.1" fill="#3a6bbd"/>
<rect x="369.5" y="657.6" width="1.37" height="4.1" fill="#fff" opacity="0.6"/>
<rect x="375.5" y="657.6" width="1.34" height="4.1" fill="#fff" opacity="0.9"/>
<rect x="381.2" y="657.6" width="0.51" height="4.1" fill="#fff" opacity="0.9"/>
<rect x="387.1" y="657.6" width="0.86" height="4.1" fill="#fff" opacity="0.6"/>
<rect x="392.4" y="657.6" width="1.24" height="4.1" fill="#fff" opacity="0.6"/>
<rect x="400.4" y="657.6" width="0.54" height="4.1" fill="#fff" opacity="0.6"/>
<rect x="402.5" y="657.6" width="0.62" height="4.1" fill="#fff" opacity="0.4"/>
<rect x="407.9" y="657.6" width="1.15" height="4.1" fill="#fff" opacity="0.9"/>
<rect x="414.6" y="657.6" width="0.83" height="4.1" fill="#fff" opacity="0.4"/>
<rect x="421.2" y="657.6" width="0.90" height="4.1" fill="#fff" opacity="0.4"/>
<rect x="427.7" y="657.6" width="0.90" height="4.1" fill="#fff" opacity="0.6"/>
<rect x="433.9" y="657.6" width="0.49" height="4.1" fill="#fff" opacity="0.9"/>
<rect x="436.5" y="657.6" width="1.37" height="4.1" fill="#fff" opacity="0.4"/>
<rect x="464.8" y="657.6" width="0.80" height="4.1" fill="#fff" opacity="0.95"/>
<rect x="468.1" y="657.6" width="1.80" height="4.1" fill="#fff" opacity="0.6"/>
<rect x="474.7" y="657.6" width="2.80" height="4.1" fill="#fff" opacity="0.6"/>
<rect x="478.9" y="657.6" width="1.20" height="4.1" fill="#fff" opacity="0.6"/>
<rect x="483.5" y="657.6" width="3.60" height="4.1" fill="#fff" opacity="0.95"/>
<rect x="490.9" y="657.6" width="1.20" height="4.1" fill="#fff" opacity="0.95"/>
<rect x="495.0" y="657.6" width="0.50" height="4.1" fill="#fff" opacity="0.95"/>
<rect x="497.9" y="657.6" width="1.20" height="4.1" fill="#fff" opacity="0.95"/>
<rect x="503.3" y="657.6" width="2.80" height="4.1" fill="#fff" opacity="0.6"/>
<rect x="508.0" y="657.6" width="0.50" height="4.1" fill="#fff" opacity="0.6"/>
<rect x="511.1" y="657.6" width="1.80" height="4.1" fill="#fff" opacity="0.6"/>
<rect x="514.3" y="657.6" width="1.20" height="4.1" fill="#fff" opacity="0.6"/>
<rect x="442.4" y="657.6" width="0.8" height="4.1" fill="#3a6bbd" opacity="0.8"/>
<rect x="452.5" y="657.6" width="0.8" height="4.1" fill="#3a6bbd" opacity="0.8"/>
<rect x="364.8" y="661.7" width="85.2" height="0.9" fill="#e8a0a0" opacity="0.8"/>
<rect x="364.8" y="661.7" width="18" height="0.9" fill="#c04040" opacity="0.6"/>
<rect x="473.4" y="661.7" width="42.6" height="0.9" fill="#9ab8d8" opacity="0.8"/>
<rect x="364.5" y="657.2" width="151.8" height="5.6" fill="none" stroke="#555" stroke-width="0.7"/>
<rect x="364.5" y="665.5" width="151.8" height="5.6" fill="#fff"/>
<rect x="364.8" y="665.9" width="74.0" height="4.1" fill="#f2b705"/>
<rect x="460.0" y="665.9" width="56.0" height="4.1" fill="#f2b705"/>
<rect x="367.8" y="665.9" width="0.77" height="4.1" fill="#fff" opacity="0.4"/>
<rect x="375.4" y="665.9" width="1.09" height="4.1" fill="#fff" opacity="0.4"/>
<rect x="379.5" y="665.9" width="1.29" height="4.1" fill="#fff" opacity="0.9"/>
<rect x="387.1" y="665.9" width="0.54" height="4.1" fill="#fff" opacity="0.4"/>
<rect x="390.5" y="665.9" width="0.63" height="4.1" fill="#fff" opacity="0.9"/>
<rect x="396.9" y="665.9" width="1.22" height="4.1" fill="#fff" opacity="0.9"/>
<rect x="404.4" y="665.9" width="0.47" height="4.1" fill="#fff" opacity="0.4"/>
<rect x="409.5" y="665.9" width="0.87" height="4.1" fill="#fff" opacity="0.9"/>
<rect x="414.4" y="665.9" width="1.37" height="4.1" fill="#fff" opacity="0.6"/>
<rect x="422.5" y="665.9" width="0.48" height="4.1" fill="#fff" opacity="0.6"/>
<rect x="429.0" y="665.9" width="1.09" height="4.1" fill="#fff" opacity="0.6"/>
<rect x="433.0" y="665.9" width="0.90" height="4.1" fill="#fff" opacity="0.9"/>
<rect x="437.3" y="665.9" width="0.65" height="4.1" fill="#fff" opacity="0.9"/>
<rect x="465.4" y="665.9" width="1.20" height="4.1" fill="#fff" opacity="0.95"/>
<rect x="469.6" y="665.9" width="3.60" height="4.1" fill="#fff" opacity="0.95"/>
<rect x="475.9" y="665.9" width="2.80" height="4.1" fill="#fff" opacity="0.95"/>
<rect x="482.2" y="665.9" width="1.80" height="4.1" fill="#fff" opacity="0.8"/>
<rect x="485.9" y="665.9" width="1.20" height="4.1" fill="#fff" opacity="0.95"/>
<rect x="491.1" y="665.9" width="1.80" height="4.1" fill="#fff" opacity="0.95"/>
<rect x="496.1" y="665.9" width="3.60" height="4.1" fill="#fff" opacity="0.95"/>
<rect x="502.3" y="665.9" width="1.80" height="4.1" fill="#fff" opacity="0.95"/>
<rect x="508.8" y="665.9" width="3.60" height="4.1" fill="#fff" opacity="0.6"/>
<rect x="443.1" y="665.9" width="0.8" height="4.1" fill="#f2b705" opacity="0.8"/>
<rect x="455.7" y="665.9" width="0.8" height="4.1" fill="#f2b705" opacity="0.8"/>
<rect x="364.8" y="670.0" width="85.2" height="0.9" fill="#e8a0a0" opacity="0.8"/>
<rect x="364.8" y="670.0" width="18" height="0.9" fill="#c04040" opacity="0.6"/>
<rect x="473.4" y="670.0" width="42.6" height="0.9" fill="#9ab8d8" opacity="0.8"/>
<rect x="364.5" y="665.5" width="151.8" height="5.6" fill="none" stroke="#555" stroke-width="0.7"/>
<rect x="364.5" y="673.8" width="151.8" height="5.6" fill="#fff"/>
<rect x="364.8" y="674.2" width="74.0" height="4.1" fill="#e8407c"/>
<rect x="460.0" y="674.2" width="56.0" height="4.1" fill="#e8407c"/>
<rect x="367.7" y="674.2" width="0.56" height="4.1" fill="#fff" opacity="0.6"/>
<rect x="373.4" y="674.2" width="0.94" height="4.1" fill="#fff" opacity="0.6"/>
<rect x="380.9" y="674.2" width="0.40" height="4.1" fill="#fff" opacity="0.4"/>
<rect x="388.2" y="674.2" width="0.75" height="4.1" fill="#fff" opacity="0.9"/>
<rect x="393.4" y="674.2" width="0.91" height="4.1" fill="#fff" opacity="0.4"/>
<rect x="398.7" y="674.2" width="0.54" height="4.1" fill="#fff" opacity="0.9"/>
<rect x="404.3" y="674.2" width="0.65" height="4.1" fill="#fff" opacity="0.9"/>
<rect x="406.9" y="674.2" width="0.90" height="4.1" fill="#fff" opacity="0.6"/>
<rect x="411.5" y="674.2" width="0.53" height="4.1" fill="#fff" opacity="0.9"/>
<rect x="417.3" y="674.2" width="0.78" height="4.1" fill="#fff" opacity="0.9"/>
<rect x="424.1" y="674.2" width="0.78" height="4.1" fill="#fff" opacity="0.4"/>
<rect x="430.2" y="674.2" width="0.78" height="4.1" fill="#fff" opacity="0.6"/>
<rect x="435.3" y="674.2" width="0.74" height="4.1" fill="#fff" opacity="0.4"/>
<rect x="438.3" y="674.2" width="1.18" height="4.1" fill="#fff" opacity="0.6"/>
<rect x="464.4" y="674.2" width="1.80" height="4.1" fill="#fff" opacity="0.6"/>
<rect x="469.4" y="674.2" width="0.80" height="4.1" fill="#fff" opacity="0.6"/>
<rect x="473.7" y="674.2" width="1.80" height="4.1" fill="#fff" opacity="0.6"/>
<rect x="478.1" y="674.2" width="0.80" height="4.1" fill="#fff" opacity="0.6"/>
<rect x="483.7" y="674.2" width="2.80" height="4.1" fill="#fff" opacity="0.6"/>
<rect x="490.2" y="674.2" width="2.80" height="4.1" fill="#fff" opacity="0.6"/>
<rect x="494.4" y="674.2" width="0.80" height="4.1" fill="#fff" opacity="0.6"/>
<rect x="496.5" y="674.2" width="3.60" height="4.1" fill="#fff" opacity="0.95"/>
<rect x="503.2" y="674.2" width="0.50" height="4.1" fill="#fff" opacity="0.6"/>
<rect x="507.3" y="674.2" width="0.50" height="4.1" fill="#fff" opacity="0.8"/>
<rect x="511.3" y="674.2" width="0.50" height="4.1" fill="#fff" opacity="0.95"/>
<rect x="445.2" y="674.2" width="0.8" height="4.1" fill="#e8407c" opacity="0.8"/>
<rect x="453.8" y="674.2" width="0.8" height="4.1" fill="#e8407c" opacity="0.8"/>
<rect x="364.8" y="678.3" width="85.2" height="0.9" fill="#e8a0a0" opacity="0.8"/>
<rect x="364.8" y="678.3" width="18" height="0.9" fill="#c04040" opacity="0.6"/>
<rect x="473.4" y="678.3" width="42.6" height="0.9" fill="#9ab8d8" opacity="0.8"/>
<rect x="364.5" y="673.8" width="151.8" height="5.6" fill="none" stroke="#555" stroke-width="0.7"/>
<rect x="364.5" y="682.1" width="151.8" height="5.6" fill="#fff"/>
<rect x="364.8" y="682.5" width="74.0" height="4.1" fill="#84c55a"/>
<rect x="460.0" y="682.5" width="56.0" height="4.1" fill="#84c55a"/>
<rect x="371.5" y="682.5" width="0.44" height="4.1" fill="#fff" opacity="0.9"/>
<rect x="374.4" y="682.5" width="0.96" height="4.1" fill="#fff" opacity="0.6"/>
<rect x="378.1" y="682.5" width="0.63" height="4.1" fill="#fff" opacity="0.9"/>
<rect x="384.0" y="682.5" width="0.96" height="4.1" fill="#fff" opacity="0.6"/>
<rect x="387.3" y="682.5" width="1.04" height="4.1" fill="#fff" opacity="0.4"/>
<rect x="393.2" y="682.5" width="1.13" height="4.1" fill="#fff" opacity="0.6"/>
<rect x="400.1" y="682.5" width="1.23" height="4.1" fill="#fff" opacity="0.4"/>
<rect x="402.9" y="682.5" width="1.08" height="4.1" fill="#fff" opacity="0.6"/>
<rect x="408.7" y="682.5" width="1.09" height="4.1" fill="#fff" opacity="0.4"/>
<rect x="411.5" y="682.5" width="1.17" height="4.1" fill="#fff" opacity="0.4"/>
<rect x="417.4" y="682.5" width="0.73" height="4.1" fill="#fff" opacity="0.6"/>
<rect x="424.9" y="682.5" width="0.68" height="4.1" fill="#fff" opacity="0.9"/>
<rect x="428.9" y="682.5" width="0.67" height="4.1" fill="#fff" opacity="0.9"/>
<rect x="431.1" y="682.5" width="0.59" height="4.1" fill="#fff" opacity="0.9"/>
<rect x="436.9" y="682.5" width="0.60" height="4.1" fill="#fff" opacity="0.9"/>
<rect x="465.5" y="682.5" width="3.60" height="4.1" fill="#fff" opacity="0.95"/>
<rect x="470.6" y="682.5" width="1.80" height="4.1" fill="#fff" opacity="0.8"/>
<rect x="473.7" y="682.5" width="3.60" height="4.1" fill="#fff" opacity="0.95"/>
<rect x="479.3" y="682.5" width="2.80" height="4.1" fill="#fff" opacity="0.6"/>
<rect x="485.7" y="682.5" width="1.20" height="4.1" fill="#fff" opacity="0.8"/>
<rect x="488.4" y="682.5" width="2.80" height="4.1" fill="#fff" opacity="0.95"/>
<rect x="492.7" y="682.5" width="2.80" height="4.1" fill="#fff" opacity="0.8"/>
<rect x="499.0" y="682.5" width="1.80" height="4.1" fill="#fff" opacity="0.6"/>
<rect x="505.6" y="682.5" width="1.80" height="4.1" fill="#fff" opacity="0.8"/>
<rect x="511.6" y="682.5" width="1.80" height="4.1" fill="#fff" opacity="0.95"/>
<rect x="444.4" y="682.5" width="0.8" height="4.1" fill="#84c55a" opacity="0.8"/>
<rect x="455.3" y="682.5" width="0.8" height="4.1" fill="#84c55a" opacity="0.8"/>
<rect x="364.8" y="686.6" width="85.2" height="0.9" fill="#e8a0a0" opacity="0.8"/>
<rect x="364.8" y="686.6" width="18" height="0.9" fill="#c04040" opacity="0.6"/>
<rect x="473.4" y="686.6" width="42.6" height="0.9" fill="#9ab8d8" opacity="0.8"/>
<rect x="364.5" y="682.1" width="151.8" height="5.6" fill="none" stroke="#555" stroke-width="0.7"/>
<rect x="364.5" y="690.5" width="151.8" height="5.6" fill="#fff"/>
<rect x="364.8" y="690.9" width="74.0" height="4.1" fill="#ee8a1c"/>
<rect x="460.0" y="690.9" width="56.0" height="4.1" fill="#ee8a1c"/>
<rect x="367.6" y="690.9" width="0.82" height="4.1" fill="#fff" opacity="0.9"/>
<rect x="373.6" y="690.9" width="1.21" height="4.1" fill="#fff" opacity="0.6"/>
<rect x="376.7" y="690.9" width="1.32" height="4.1" fill="#fff" opacity="0.6"/>
<rect x="383.7" y="690.9" width="0.71" height="4.1" fill="#fff" opacity="0.4"/>
<rect x="386.2" y="690.9" width="1.37" height="4.1" fill="#fff" opacity="0.6"/>
<rect x="392.2" y="690.9" width="0.67" height="4.1" fill="#fff" opacity="0.9"/>
<rect x="397.7" y="690.9" width="0.94" height="4.1" fill="#fff" opacity="0.4"/>
<rect x="402.7" y="690.9" width="0.61" height="4.1" fill="#fff" opacity="0.9"/>
<rect x="409.1" y="690.9" width="0.96" height="4.1" fill="#fff" opacity="0.9"/>
<rect x="415.7" y="690.9" width="0.54" height="4.1" fill="#fff" opacity="0.9"/>
<rect x="418.7" y="690.9" width="1.38" height="4.1" fill="#fff" opacity="0.4"/>
<rect x="426.0" y="690.9" width="0.42" height="4.1" fill="#fff" opacity="0.6"/>
<rect x="430.9" y="690.9" width="1.04" height="4.1" fill="#fff" opacity="0.4"/>
<rect x="437.4" y="690.9" width="0.60" height="4.1" fill="#fff" opacity="0.9"/>
<rect x="463.2" y="690.9" width="1.80" height="4.1" fill="#fff" opacity="0.95"/>
<rect x="466.4" y="690.9" width="1.20" height="4.1" fill="#fff" opacity="0.6"/>
<rect x="469.7" y="690.9" width="1.20" height="4.1" fill="#fff" opacity="0.95"/>
<rect x="472.6" y="690.9" width="2.80" height="4.1" fill="#fff" opacity="0.95"/>
<rect x="476.8" y="690.9" width="0.50" height="4.1" fill="#fff" opacity="0.8"/>
<rect x="479.7" y="690.9" width="0.50" height="4.1" fill="#fff" opacity="0.6"/>
<rect x="483.1" y="690.9" width="0.80" height="4.1" fill="#fff" opacity="0.8"/>
<rect x="487.9" y="690.9" width="1.80" height="4.1" fill="#fff" opacity="0.95"/>
<rect x="491.0" y="690.9" width="3.60" height="4.1" fill="#fff" opacity="0.8"/>
<rect x="499.1" y="690.9" width="2.80" height="4.1" fill="#fff" opacity="0.6"/>
<rect x="505.3" y="690.9" width="0.80" height="4.1" fill="#fff" opacity="0.8"/>
<rect x="508.4" y="690.9" width="1.80" height="4.1" fill="#fff" opacity="0.6"/>
<rect x="513.2" y="690.9" width="1.20" height="4.1" fill="#fff" opacity="0.95"/>
<rect x="444.8" y="690.9" width="0.8" height="4.1" fill="#ee8a1c" opacity="0.8"/>
<rect x="456.0" y="690.9" width="0.8" height="4.1" fill="#ee8a1c" opacity="0.8"/>
<rect x="364.8" y="695.0" width="85.2" height="0.9" fill="#e8a0a0" opacity="0.8"/>
<rect x="364.8" y="695.0" width="18" height="0.9" fill="#c04040" opacity="0.6"/>
<rect x="473.4" y="695.0" width="42.6" height="0.9" fill="#9ab8d8" opacity="0.8"/>
<rect x="364.5" y="690.5" width="151.8" height="5.6" fill="none" stroke="#555" stroke-width="0.7"/>
<rect x="364.5" y="698.8" width="151.8" height="5.6" fill="#fff"/>
<rect x="364.8" y="699.2" width="74.0" height="4.1" fill="#1a7f93"/>
<rect x="460.0" y="699.2" width="56.0" height="4.1" fill="#1a7f93"/>
<rect x="368.2" y="699.2" width="0.90" height="4.1" fill="#fff" opacity="0.9"/>
<rect x="375.4" y="699.2" width="0.75" height="4.1" fill="#fff" opacity="0.6"/>
<rect x="378.9" y="699.2" width="0.76" height="4.1" fill="#fff" opacity="0.9"/>
<rect x="383.7" y="699.2" width="1.08" height="4.1" fill="#fff" opacity="0.6"/>
<rect x="388.2" y="699.2" width="1.34" height="4.1" fill="#fff" opacity="0.6"/>
<rect x="395.8" y="699.2" width="0.97" height="4.1" fill="#fff" opacity="0.4"/>
<rect x="403.7" y="699.2" width="1.27" height="4.1" fill="#fff" opacity="0.4"/>
<rect x="409.9" y="699.2" width="1.02" height="4.1" fill="#fff" opacity="0.6"/>
<rect x="415.1" y="699.2" width="0.50" height="4.1" fill="#fff" opacity="0.9"/>
<rect x="417.4" y="699.2" width="1.02" height="4.1" fill="#fff" opacity="0.6"/>
<rect x="422.2" y="699.2" width="1.14" height="4.1" fill="#fff" opacity="0.6"/>
<rect x="426.8" y="699.2" width="0.98" height="4.1" fill="#fff" opacity="0.9"/>
<rect x="432.7" y="699.2" width="0.43" height="4.1" fill="#fff" opacity="0.4"/>
<rect x="437.9" y="699.2" width="1.15" height="4.1" fill="#fff" opacity="0.9"/>
<rect x="461.8" y="699.2" width="1.20" height="4.1" fill="#fff" opacity="0.6"/>
<rect x="465.5" y="699.2" width="2.80" height="4.1" fill="#fff" opacity="0.8"/>
<rect x="471.4" y="699.2" width="0.80" height="4.1" fill="#fff" opacity="0.8"/>
<rect x="476.0" y="699.2" width="0.80" height="4.1" fill="#fff" opacity="0.95"/>
<rect x="478.7" y="699.2" width="1.80" height="4.1" fill="#fff" opacity="0.8"/>
<rect x="484.7" y="699.2" width="1.80" height="4.1" fill="#fff" opacity="0.8"/>
<rect x="488.0" y="699.2" width="2.80" height="4.1" fill="#fff" opacity="0.8"/>
<rect x="493.8" y="699.2" width="1.80" height="4.1" fill="#fff" opacity="0.6"/>
<rect x="500.6" y="699.2" width="2.80" height="4.1" fill="#fff" opacity="0.95"/>
<rect x="506.5" y="699.2" width="0.80" height="4.1" fill="#fff" opacity="0.8"/>
<rect x="511.5" y="699.2" width="1.80" height="4.1" fill="#fff" opacity="0.6"/>
<rect x="441.8" y="699.2" width="0.8" height="4.1" fill="#1a7f93" opacity="0.8"/>
<rect x="453.0" y="699.2" width="0.8" height="4.1" fill="#1a7f93" opacity="0.8"/>
<rect x="364.8" y="703.3" width="85.2" height="0.9" fill="#e8a0a0" opacity="0.8"/>
<rect x="364.8" y="703.3" width="18" height="0.9" fill="#c04040" opacity="0.6"/>
<rect x="473.4" y="703.3" width="42.6" height="0.9" fill="#9ab8d8" opacity="0.8"/>
<rect x="364.5" y="698.8" width="151.8" height="5.6" fill="none" stroke="#555" stroke-width="0.7"/>
<rect x="364.5" y="707.1" width="151.8" height="5.6" fill="#fff"/>
<rect x="364.8" y="707.5" width="74.0" height="4.1" fill="#a4a898"/>
<rect x="460.0" y="707.5" width="56.0" height="4.1" fill="#a4a898"/>
<rect x="370.7" y="707.5" width="0.49" height="4.1" fill="#fff" opacity="0.9"/>
<rect x="375.4" y="707.5" width="0.75" height="4.1" fill="#fff" opacity="0.9"/>
<rect x="382.8" y="707.5" width="1.10" height="4.1" fill="#fff" opacity="0.9"/>
<rect x="388.7" y="707.5" width="1.29" height="4.1" fill="#fff" opacity="0.9"/>
<rect x="393.9" y="707.5" width="0.41" height="4.1" fill="#fff" opacity="0.9"/>
<rect x="399.2" y="707.5" width="1.11" height="4.1" fill="#fff" opacity="0.6"/>
<rect x="406.6" y="707.5" width="0.72" height="4.1" fill="#fff" opacity="0.6"/>
<rect x="410.4" y="707.5" width="0.56" height="4.1" fill="#fff" opacity="0.4"/>
<rect x="414.9" y="707.5" width="1.37" height="4.1" fill="#fff" opacity="0.6"/>
<rect x="421.1" y="707.5" width="0.82" height="4.1" fill="#fff" opacity="0.6"/>
<rect x="426.0" y="707.5" width="1.17" height="4.1" fill="#fff" opacity="0.9"/>
<rect x="430.0" y="707.5" width="0.77" height="4.1" fill="#fff" opacity="0.4"/>
<rect x="436.9" y="707.5" width="0.69" height="4.1" fill="#fff" opacity="0.6"/>
<rect x="464.8" y="707.5" width="0.50" height="4.1" fill="#fff" opacity="0.8"/>
<rect x="467.8" y="707.5" width="0.80" height="4.1" fill="#fff" opacity="0.6"/>
<rect x="471.7" y="707.5" width="0.80" height="4.1" fill="#fff" opacity="0.8"/>
<rect x="475.3" y="707.5" width="1.20" height="4.1" fill="#fff" opacity="0.95"/>
<rect x="479.7" y="707.5" width="2.80" height="4.1" fill="#fff" opacity="0.8"/>
<rect x="487.0" y="707.5" width="1.20" height="4.1" fill="#fff" opacity="0.8"/>
<rect x="490.3" y="707.5" width="2.80" height="4.1" fill="#fff" opacity="0.6"/>
<rect x="494.6" y="707.5" width="3.60" height="4.1" fill="#fff" opacity="0.8"/>
<rect x="499.7" y="707.5" width="3.60" height="4.1" fill="#fff" opacity="0.6"/>
<rect x="507.6" y="707.5" width="1.20" height="4.1" fill="#fff" opacity="0.6"/>
<rect x="444.8" y="707.5" width="0.8" height="4.1" fill="#a4a898" opacity="0.8"/>
<rect x="454.1" y="707.5" width="0.8" height="4.1" fill="#a4a898" opacity="0.8"/>
<rect x="364.8" y="711.6" width="85.2" height="0.9" fill="#e8a0a0" opacity="0.8"/>
<rect x="364.8" y="711.6" width="18" height="0.9" fill="#c04040" opacity="0.6"/>
<rect x="473.4" y="711.6" width="42.6" height="0.9" fill="#9ab8d8" opacity="0.8"/>
<rect x="364.5" y="707.1" width="151.8" height="5.6" fill="none" stroke="#555" stroke-width="0.7"/>
<rect x="364.5" y="715.4" width="151.8" height="5.6" fill="#fff"/>
<rect x="364.8" y="715.8" width="74.0" height="4.1" fill="#6ccbd6"/>
<rect x="460.0" y="715.8" width="56.0" height="4.1" fill="#6ccbd6"/>
<rect x="370.2" y="715.8" width="1.36" height="4.1" fill="#fff" opacity="0.6"/>
<rect x="376.8" y="715.8" width="0.42" height="4.1" fill="#fff" opacity="0.9"/>
<rect x="379.9" y="715.8" width="0.59" height="4.1" fill="#fff" opacity="0.6"/>
<rect x="382.1" y="715.8" width="1.18" height="4.1" fill="#fff" opacity="0.4"/>
<rect x="390.0" y="715.8" width="0.56" height="4.1" fill="#fff" opacity="0.9"/>
<rect x="393.1" y="715.8" width="0.43" height="4.1" fill="#fff" opacity="0.4"/>
<rect x="396.9" y="715.8" width="0.49" height="4.1" fill="#fff" opacity="0.4"/>
<rect x="400.0" y="715.8" width="0.53" height="4.1" fill="#fff" opacity="0.9"/>
<rect x="403.6" y="715.8" width="0.82" height="4.1" fill="#fff" opacity="0.4"/>
<rect x="409.8" y="715.8" width="0.88" height="4.1" fill="#fff" opacity="0.9"/>
<rect x="413.8" y="715.8" width="0.90" height="4.1" fill="#fff" opacity="0.9"/>
<rect x="418.6" y="715.8" width="0.84" height="4.1" fill="#fff" opacity="0.9"/>
<rect x="425.2" y="715.8" width="1.27" height="4.1" fill="#fff" opacity="0.4"/>
<rect x="433.1" y="715.8" width="1.04" height="4.1" fill="#fff" opacity="0.6"/>
<rect x="435.8" y="715.8" width="1.06" height="4.1" fill="#fff" opacity="0.6"/>
<rect x="462.2" y="715.8" width="1.80" height="4.1" fill="#fff" opacity="0.95"/>
<rect x="466.7" y="715.8" width="0.80" height="4.1" fill="#fff" opacity="0.95"/>
<rect x="469.3" y="715.8" width="3.60" height="4.1" fill="#fff" opacity="0.95"/>
<rect x="475.4" y="715.8" width="2.80" height="4.1" fill="#fff" opacity="0.8"/>
<rect x="481.7" y="715.8" width="0.50" height="4.1" fill="#fff" opacity="0.6"/>
<rect x="485.2" y="715.8" width="1.80" height="4.1" fill="#fff" opacity="0.6"/>
<rect x="488.8" y="715.8" width="3.60" height="4.1" fill="#fff" opacity="0.95"/>
<rect x="495.7" y="715.8" width="0.50" height="4.1" fill="#fff" opacity="0.95"/>
<rect x="499.3" y="715.8" width="0.80" height="4.1" fill="#fff" opacity="0.6"/>
<rect x="503.0" y="715.8" width="0.50" height="4.1" fill="#fff" opacity="0.8"/>
<rect x="504.8" y="715.8" width="0.80" height="4.1" fill="#fff" opacity="0.6"/>
<rect x="507.8" y="715.8" width="1.80" height="4.1" fill="#fff" opacity="0.8"/>
<rect x="514.2" y="715.8" width="0.50" height="4.1" fill="#fff" opacity="0.6"/>
<rect x="442.1" y="715.8" width="0.8" height="4.1" fill="#6ccbd6" opacity="0.8"/>
<rect x="453.8" y="715.8" width="0.8" height="4.1" fill="#6ccbd6" opacity="0.8"/>
<rect x="364.8" y="719.9" width="85.2" height="0.9" fill="#e8a0a0" opacity="0.8"/>
<rect x="364.8" y="719.9" width="18" height="0.9" fill="#c04040" opacity="0.6"/>
<rect x="473.4" y="719.9" width="42.6" height="0.9" fill="#9ab8d8" opacity="0.8"/>
<rect x="364.5" y="715.4" width="151.8" height="5.6" fill="none" stroke="#555" stroke-width="0.7"/>
<text x="443.0" y="732.2" font-size="8.5" text-anchor="middle" fill="#111" stroke="#111" stroke-width="0.2">Rank in Ordered Dataset</text>
<text x="575.3" y="494.5" font-size="8.6" text-anchor="middle" fill="#111" stroke="#111" stroke-width="0.2">Term Name</text>
<line x1="521.2" y1="504.8" x2="532.9" y2="504.8" stroke="#7d3c9c" stroke-width="1.6"/>
<text x="536.1" y="507.5" font-size="7.56" text-anchor="start" fill="#222" stroke="#222" stroke-width="0.2">Postsynaptic Membrane</text>
<line x1="521.2" y1="519.7" x2="532.9" y2="519.7" stroke="#1c9e78" stroke-width="1.6"/>
<text x="536.1" y="522.4" font-size="7.56" text-anchor="start" fill="#222" stroke="#222" stroke-width="0.2">Neuron To Neuron Synapse</text>
<line x1="521.2" y1="534.7" x2="532.9" y2="534.7" stroke="#3a6bbd" stroke-width="1.6"/>
<text x="536.1" y="537.4" font-size="7.56" text-anchor="start" fill="#222" stroke="#222" stroke-width="0.2">Vesicle-Mediated Transport In Synapse</text>
<line x1="521.2" y1="549.6" x2="532.9" y2="549.6" stroke="#f2b705" stroke-width="1.6"/>
<text x="536.1" y="552.3" font-size="7.56" text-anchor="start" fill="#222" stroke="#222" stroke-width="0.2">Postsynaptic Specialization</text>
<line x1="521.2" y1="564.6" x2="532.9" y2="564.6" stroke="#e8407c" stroke-width="1.6"/>
<text x="536.1" y="567.3" font-size="7.56" text-anchor="start" fill="#222" stroke="#222" stroke-width="0.2">Axonogenesis</text>
<line x1="521.2" y1="579.5" x2="532.9" y2="579.5" stroke="#84c55a" stroke-width="1.6"/>
<text x="536.1" y="582.2" font-size="7.56" text-anchor="start" fill="#222" stroke="#222" stroke-width="0.2">Postsynaptic Density</text>
<line x1="521.2" y1="594.4" x2="532.9" y2="594.4" stroke="#ee8a1c" stroke-width="1.6"/>
<text x="536.1" y="597.1" font-size="7.56" text-anchor="start" fill="#222" stroke="#222" stroke-width="0.2">Asymmetric Synapse</text>
<line x1="521.2" y1="609.4" x2="532.9" y2="609.4" stroke="#1a7f93" stroke-width="1.6"/>
<text x="536.1" y="612.1" font-size="7.56" text-anchor="start" fill="#222" stroke="#222" stroke-width="0.2">Postsynaptic Specialization Membrane</text>
<line x1="521.2" y1="624.3" x2="532.9" y2="624.3" stroke="#a4a898" stroke-width="1.6"/>
<text x="536.1" y="627.0" font-size="7.56" text-anchor="start" fill="#222" stroke="#222" stroke-width="0.2">Neuron Projection Guidance</text>
<line x1="521.2" y1="639.3" x2="532.9" y2="639.3" stroke="#6ccbd6" stroke-width="1.6"/>
<text x="536.1" y="642.0" font-size="7.56" text-anchor="start" fill="#222" stroke="#222" stroke-width="0.2">Axon Development</text>
<circle cx="528.0" cy="649.7" r="2.70" fill="#f4968c"/>
<circle cx="538.1" cy="649.7" r="2.70" fill="#2ec0cc"/>
<circle cx="528.0" cy="658.1" r="3.00" fill="#f4a8a0"/>
<circle cx="538.1" cy="658.1" r="3.20" fill="#30c2cc"/>
<circle cx="528.0" cy="666.5" r="2.30" fill="#f29c92"/>
<circle cx="538.1" cy="666.5" r="2.30" fill="#30c0cc"/>
<circle cx="528.0" cy="674.9" r="3.00" fill="#f4aca6"/>
<circle cx="538.1" cy="674.9" r="3.20" fill="#2ec0cc"/>
<circle cx="528.0" cy="683.3" r="3.10" fill="#f5bcb8"/>
<circle cx="538.1" cy="683.3" r="3.20" fill="#2ec0cc"/>
<circle cx="528.0" cy="691.7" r="2.90" fill="#f4aaa5"/>
<circle cx="538.1" cy="691.7" r="3.00" fill="#30c0cc"/>
<circle cx="528.0" cy="700.0" r="3.00" fill="#f4a9a4"/>
<circle cx="538.1" cy="700.0" r="3.00" fill="#30c0cc"/>
<circle cx="528.0" cy="708.4" r="0.80" fill="#f08080"/>
<circle cx="538.1" cy="708.4" r="0.80" fill="#30c0cc"/>
<circle cx="528.0" cy="716.8" r="2.20" fill="#f4b0ac"/>
<circle cx="538.1" cy="716.8" r="2.20" fill="#c8e4e6"/>
<circle cx="528.0" cy="725.2" r="3.10" fill="#e6e6e6"/>
<circle cx="538.1" cy="725.2" r="3.10" fill="#e6e6e6"/>
<text x="600.2" y="673.4" font-size="7.6" text-anchor="end" fill="#222" stroke="#222" stroke-width="0.2">NES</text>
<defs><linearGradient id="nesg" x1="0" x2="1" y1="0" y2="0"><stop offset="0" stop-color="#e4e4e4"/><stop offset="1" stop-color="#f07a72"/></linearGradient><linearGradient id="qg" x1="0" x2="1" y1="0" y2="0"><stop offset="0" stop-color="#e4e4e4"/><stop offset="1" stop-color="#1ec0c8"/></linearGradient></defs>
<rect x="603.9" y="660.0" width="55.5" height="11.7" fill="url(#nesg)"/>
<line x1="611.4" y1="669.5" x2="611.4" y2="671.7" stroke="#fff" stroke-width="0.5"/>
<text x="611.4" y="680.2" font-size="6.2" text-anchor="middle" fill="#444" stroke="#444" stroke-width="0.2">1.4</text>
<line x1="628.8" y1="669.5" x2="628.8" y2="671.7" stroke="#fff" stroke-width="0.5"/>
<text x="628.8" y="680.2" font-size="6.2" text-anchor="middle" fill="#444" stroke="#444" stroke-width="0.2">1.5</text>
<line x1="645.1" y1="669.5" x2="645.1" y2="671.7" stroke="#fff" stroke-width="0.5"/>
<text x="645.1" y="680.2" font-size="6.2" text-anchor="middle" fill="#444" stroke="#444" stroke-width="0.2">1.6</text>
<text x="599.2" y="698.4" font-size="8.0" text-anchor="end" fill="#222" stroke="#222" stroke-width="0.2">-log(Qvalue)</text>
<rect x="603.2" y="684.0" width="63.4" height="12.8" fill="url(#qg)"/>
<line x1="613.9" y1="694.5" x2="613.9" y2="696.8" stroke="#fff" stroke-width="0.5"/>
<text x="613.9" y="706.4" font-size="6.2" text-anchor="middle" fill="#444" stroke="#444" stroke-width="0.2">1.4</text>
<line x1="625.3" y1="694.5" x2="625.3" y2="696.8" stroke="#fff" stroke-width="0.5"/>
<text x="625.3" y="706.4" font-size="6.2" text-anchor="middle" fill="#444" stroke="#444" stroke-width="0.2">1.5</text>
<line x1="636.6" y1="694.5" x2="636.6" y2="696.8" stroke="#fff" stroke-width="0.5"/>
<text x="636.6" y="706.4" font-size="6.2" text-anchor="middle" fill="#444" stroke="#444" stroke-width="0.2">1.6</text>
<line x1="647.8" y1="694.5" x2="647.8" y2="696.8" stroke="#fff" stroke-width="0.5"/>
<text x="647.8" y="706.4" font-size="6.2" text-anchor="middle" fill="#444" stroke="#444" stroke-width="0.2">1.7</text>
<line x1="659.0" y1="694.5" x2="659.0" y2="696.8" stroke="#fff" stroke-width="0.5"/>
<text x="659.0" y="706.4" font-size="6.2" text-anchor="middle" fill="#444" stroke="#444" stroke-width="0.2">1.8</text>
<text x="558.3" y="722.0" font-size="8.3" text-anchor="start" fill="#222" stroke="#222" stroke-width="0.2">setSize</text>
<circle cx="597.1" cy="719.2" r="2.20" fill="#222"/>
<text x="607.3" y="721.6" font-size="6.6" text-anchor="start" fill="#444" stroke="#444" stroke-width="0.2">200</text>
<circle cx="630.2" cy="719.2" r="3.30" fill="#222"/>
<text x="640.4" y="721.6" font-size="6.6" text-anchor="start" fill="#444" stroke="#444" stroke-width="0.2">300</text>
<circle cx="663.1" cy="719.2" r="4.00" fill="#222"/>
<text x="673.8" y="721.6" font-size="6.6" text-anchor="start" fill="#444" stroke="#444" stroke-width="0.2">400</text>
</svg>
</body></html>
